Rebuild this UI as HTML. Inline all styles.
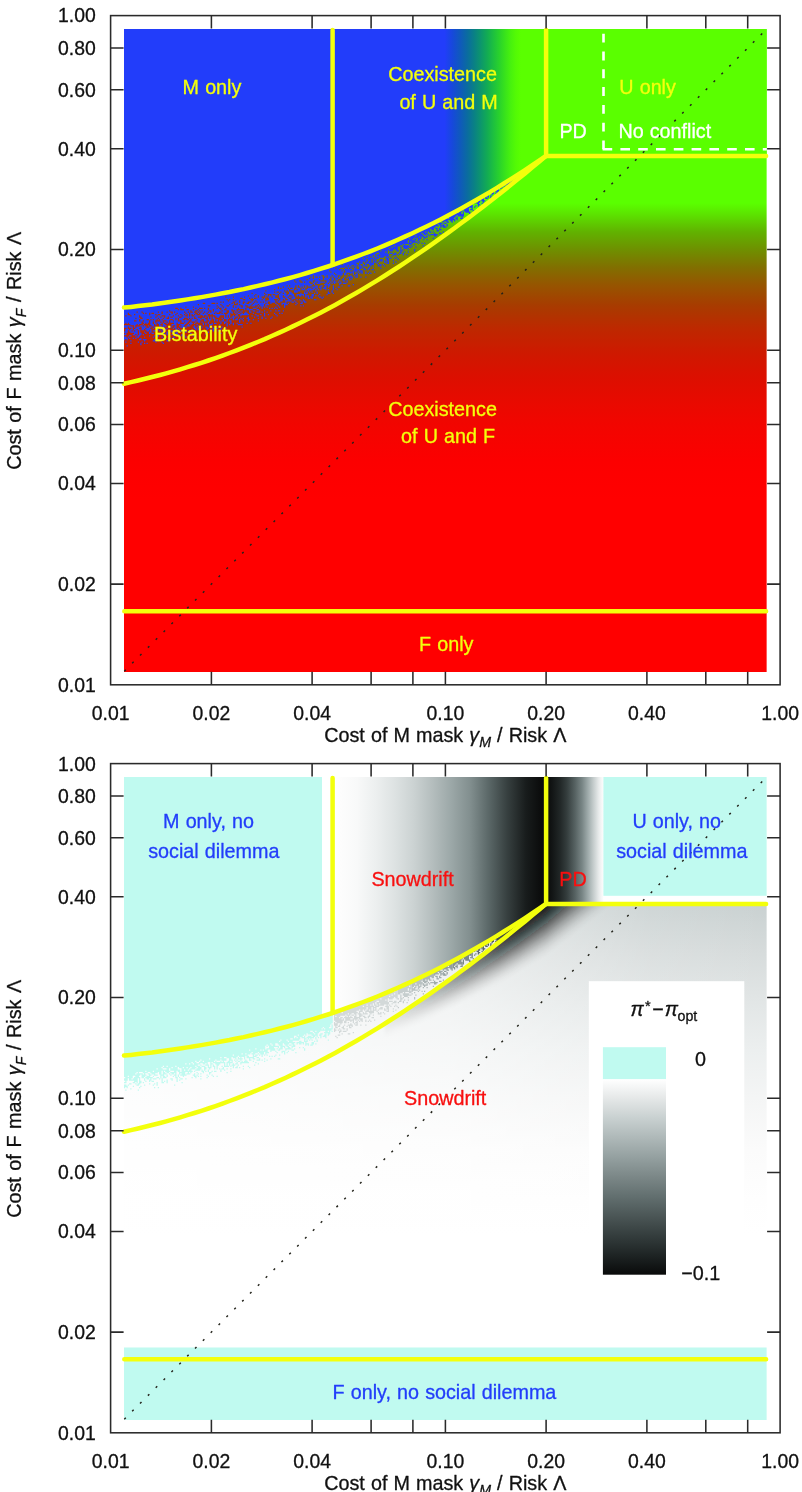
<!DOCTYPE html><html><head><meta charset="utf-8"><title>Figure</title><style>html,body{margin:0;padding:0;background:#fff}svg{display:block}text{font-family:"Liberation Sans",sans-serif;stroke-width:.3px;stroke-linejoin:round}</style></head><body>
<svg width="802" height="1492" viewBox="0 0 802 1492">
<defs>
<linearGradient id="gv" gradientUnits="userSpaceOnUse" x1="0" y1="203" x2="0" y2="500">
<stop offset="0.0000" stop-color="#5aff00"/>
<stop offset="0.0404" stop-color="#5ce100"/>
<stop offset="0.0976" stop-color="#61b200"/>
<stop offset="0.1549" stop-color="#6e9100"/>
<stop offset="0.2189" stop-color="#826e00"/>
<stop offset="0.2761" stop-color="#965500"/>
<stop offset="0.3434" stop-color="#a73c00"/>
<stop offset="0.4242" stop-color="#be2800"/>
<stop offset="0.5051" stop-color="#ce1900"/>
<stop offset="0.5859" stop-color="#dc0f00"/>
<stop offset="0.6667" stop-color="#e80a00"/>
<stop offset="0.7475" stop-color="#f20500"/>
<stop offset="0.8687" stop-color="#fc0000"/>
<stop offset="1.0000" stop-color="#ff0000"/>
</linearGradient>
<linearGradient id="gh" gradientUnits="userSpaceOnUse" x1="444.6" y1="0" x2="520.8" y2="0">
<stop offset="0.0000" stop-color="#223dfa"/>
<stop offset="0.1065" stop-color="#1649da"/>
<stop offset="0.2074" stop-color="#0f5abb"/>
<stop offset="0.3032" stop-color="#0a6d9e"/>
<stop offset="0.3944" stop-color="#0a8283"/>
<stop offset="0.4815" stop-color="#0d986a"/>
<stop offset="0.5647" stop-color="#13ad52"/>
<stop offset="0.6445" stop-color="#1ec13e"/>
<stop offset="0.7211" stop-color="#2ad32b"/>
<stop offset="0.7947" stop-color="#39e31b"/>
<stop offset="0.8656" stop-color="#47f10e"/>
<stop offset="0.9340" stop-color="#53fa05"/>
<stop offset="1.0000" stop-color="#5aff00"/>
</linearGradient>
<clipPath id="c1"><rect x="124.0" y="28.9" width="642.8" height="643.1"/></clipPath>
</defs>
<g clip-path="url(#c1)">
<rect x="124.0" y="28.9" width="642.8" height="643.1" fill="url(#gv)"/>
<polygon points="124.0,28.9 546.1,28.9 546.1,155.9 546.1,155.9 539.1,160.7 532.0,165.4 525.0,170.1 518.0,174.6 510.9,179.1 503.9,183.5 496.9,187.8 489.8,192.1 482.8,196.2 475.8,200.3 468.7,204.3 461.7,208.2 454.7,212.0 447.6,215.7 440.6,219.4 433.6,223.0 426.5,226.4 419.5,229.8 412.4,233.2 405.4,236.4 398.4,239.5 391.3,242.6 384.3,245.6 377.3,248.5 370.2,251.3 363.2,254.0 356.2,256.6 349.1,259.2 342.1,261.7 335.1,264.1 328.0,266.5 321.0,268.7 314.0,270.9 306.9,273.0 299.9,275.1 292.8,277.1 285.8,279.0 278.8,280.8 271.7,282.6 264.7,284.3 257.7,285.9 250.6,287.5 243.6,289.1 236.6,290.5 229.5,292.0 222.5,293.3 215.5,294.6 208.4,295.9 201.4,297.1 194.4,298.3 187.3,299.4 180.3,300.5 173.2,301.5 166.2,302.5 159.2,303.4 152.1,304.4 145.1,305.2 138.1,306.1 131.0,306.9 124.0,307.6" fill="url(#gh)"/>
<rect x="546.1" y="28.9" width="220.7" height="127.0" fill="#5aff00"/>
<path d="M124.00 307.65h1.25v1.25h-1.25zM124.00 308.90h1.25v1.25h-1.25zM124.00 310.15h1.25v1.25h-1.25zM124.00 311.40h1.25v1.25h-1.25zM124.00 312.65h1.25v1.25h-1.25zM124.00 313.90h1.25v1.25h-1.25zM124.00 315.15h1.25v1.25h-1.25zM124.00 316.40h1.25v1.25h-1.25zM124.00 317.65h1.25v1.25h-1.25zM124.00 318.90h1.25v1.25h-1.25zM124.00 320.15h1.25v1.25h-1.25zM124.00 321.40h1.25v1.25h-1.25zM124.00 322.65h1.25v1.25h-1.25zM124.00 325.15h1.25v1.25h-1.25zM124.00 326.40h1.25v1.25h-1.25zM124.00 331.40h1.25v1.25h-1.25zM124.00 333.90h1.25v1.25h-1.25zM124.00 336.40h1.25v1.25h-1.25zM124.00 337.65h1.25v1.25h-1.25zM124.00 338.90h1.25v1.25h-1.25zM125.25 307.65h1.25v1.25h-1.25zM125.25 308.90h1.25v1.25h-1.25zM125.25 310.15h1.25v1.25h-1.25zM125.25 311.40h1.25v1.25h-1.25zM125.25 312.65h1.25v1.25h-1.25zM125.25 313.90h1.25v1.25h-1.25zM125.25 316.40h1.25v1.25h-1.25zM125.25 317.65h1.25v1.25h-1.25zM125.25 318.90h1.25v1.25h-1.25zM125.25 320.15h1.25v1.25h-1.25zM125.25 321.40h1.25v1.25h-1.25zM125.25 325.15h1.25v1.25h-1.25zM125.25 326.40h1.25v1.25h-1.25zM125.25 328.90h1.25v1.25h-1.25zM125.25 330.15h1.25v1.25h-1.25zM125.25 331.40h1.25v1.25h-1.25zM125.25 332.65h1.25v1.25h-1.25zM125.25 333.90h1.25v1.25h-1.25zM125.25 336.40h1.25v1.25h-1.25zM125.25 337.65h1.25v1.25h-1.25zM125.25 341.40h1.25v1.25h-1.25zM126.50 307.65h1.25v1.25h-1.25zM126.50 308.90h1.25v1.25h-1.25zM126.50 310.15h1.25v1.25h-1.25zM126.50 311.40h1.25v1.25h-1.25zM126.50 312.65h1.25v1.25h-1.25zM126.50 313.90h1.25v1.25h-1.25zM126.50 315.15h1.25v1.25h-1.25zM126.50 316.40h1.25v1.25h-1.25zM126.50 317.65h1.25v1.25h-1.25zM126.50 318.90h1.25v1.25h-1.25zM126.50 320.15h1.25v1.25h-1.25zM126.50 321.40h1.25v1.25h-1.25zM126.50 322.65h1.25v1.25h-1.25zM126.50 325.15h1.25v1.25h-1.25zM126.50 326.40h1.25v1.25h-1.25zM126.50 327.65h1.25v1.25h-1.25zM126.50 328.90h1.25v1.25h-1.25zM126.50 330.15h1.25v1.25h-1.25zM126.50 331.40h1.25v1.25h-1.25zM126.50 337.65h1.25v1.25h-1.25zM126.50 338.90h1.25v1.25h-1.25zM126.50 345.15h1.25v1.25h-1.25zM127.75 307.65h1.25v1.25h-1.25zM127.75 308.90h1.25v1.25h-1.25zM127.75 310.15h1.25v1.25h-1.25zM127.75 311.40h1.25v1.25h-1.25zM127.75 315.15h1.25v1.25h-1.25zM127.75 316.40h1.25v1.25h-1.25zM127.75 317.65h1.25v1.25h-1.25zM127.75 318.90h1.25v1.25h-1.25zM127.75 320.15h1.25v1.25h-1.25zM127.75 321.40h1.25v1.25h-1.25zM127.75 325.15h1.25v1.25h-1.25zM127.75 328.90h1.25v1.25h-1.25zM127.75 336.40h1.25v1.25h-1.25zM129.00 307.65h1.25v1.25h-1.25zM129.00 308.90h1.25v1.25h-1.25zM129.00 310.15h1.25v1.25h-1.25zM129.00 311.40h1.25v1.25h-1.25zM129.00 312.65h1.25v1.25h-1.25zM129.00 315.15h1.25v1.25h-1.25zM129.00 316.40h1.25v1.25h-1.25zM129.00 317.65h1.25v1.25h-1.25zM129.00 318.90h1.25v1.25h-1.25zM129.00 320.15h1.25v1.25h-1.25zM129.00 321.40h1.25v1.25h-1.25zM129.00 322.65h1.25v1.25h-1.25zM129.00 325.15h1.25v1.25h-1.25zM129.00 326.40h1.25v1.25h-1.25zM129.00 330.15h1.25v1.25h-1.25zM129.00 335.15h1.25v1.25h-1.25zM129.00 337.65h1.25v1.25h-1.25zM130.25 307.65h1.25v1.25h-1.25zM130.25 308.90h1.25v1.25h-1.25zM130.25 310.15h1.25v1.25h-1.25zM130.25 311.40h1.25v1.25h-1.25zM130.25 312.65h1.25v1.25h-1.25zM130.25 313.90h1.25v1.25h-1.25zM130.25 316.40h1.25v1.25h-1.25zM130.25 317.65h1.25v1.25h-1.25zM130.25 318.90h1.25v1.25h-1.25zM130.25 320.15h1.25v1.25h-1.25zM130.25 321.40h1.25v1.25h-1.25zM130.25 322.65h1.25v1.25h-1.25zM130.25 323.90h1.25v1.25h-1.25zM130.25 326.40h1.25v1.25h-1.25zM130.25 328.90h1.25v1.25h-1.25zM130.25 330.15h1.25v1.25h-1.25zM130.25 331.40h1.25v1.25h-1.25zM130.25 335.15h1.25v1.25h-1.25zM130.25 340.15h1.25v1.25h-1.25zM130.25 342.65h1.25v1.25h-1.25zM131.50 307.65h1.25v1.25h-1.25zM131.50 308.90h1.25v1.25h-1.25zM131.50 310.15h1.25v1.25h-1.25zM131.50 311.40h1.25v1.25h-1.25zM131.50 312.65h1.25v1.25h-1.25zM131.50 313.90h1.25v1.25h-1.25zM131.50 315.15h1.25v1.25h-1.25zM131.50 316.40h1.25v1.25h-1.25zM131.50 317.65h1.25v1.25h-1.25zM131.50 318.90h1.25v1.25h-1.25zM131.50 320.15h1.25v1.25h-1.25zM131.50 321.40h1.25v1.25h-1.25zM131.50 322.65h1.25v1.25h-1.25zM131.50 323.90h1.25v1.25h-1.25zM131.50 326.40h1.25v1.25h-1.25zM131.50 327.65h1.25v1.25h-1.25zM131.50 328.90h1.25v1.25h-1.25zM131.50 331.40h1.25v1.25h-1.25zM132.75 307.65h1.25v1.25h-1.25zM132.75 308.90h1.25v1.25h-1.25zM132.75 310.15h1.25v1.25h-1.25zM132.75 311.40h1.25v1.25h-1.25zM132.75 312.65h1.25v1.25h-1.25zM132.75 313.90h1.25v1.25h-1.25zM132.75 315.15h1.25v1.25h-1.25zM132.75 316.40h1.25v1.25h-1.25zM132.75 317.65h1.25v1.25h-1.25zM132.75 318.90h1.25v1.25h-1.25zM132.75 320.15h1.25v1.25h-1.25zM132.75 321.40h1.25v1.25h-1.25zM132.75 322.65h1.25v1.25h-1.25zM132.75 323.90h1.25v1.25h-1.25zM132.75 330.15h1.25v1.25h-1.25zM132.75 331.40h1.25v1.25h-1.25zM132.75 333.90h1.25v1.25h-1.25zM132.75 337.65h1.25v1.25h-1.25zM134.00 307.65h1.25v1.25h-1.25zM134.00 308.90h1.25v1.25h-1.25zM134.00 310.15h1.25v1.25h-1.25zM134.00 311.40h1.25v1.25h-1.25zM134.00 312.65h1.25v1.25h-1.25zM134.00 315.15h1.25v1.25h-1.25zM134.00 316.40h1.25v1.25h-1.25zM134.00 317.65h1.25v1.25h-1.25zM134.00 318.90h1.25v1.25h-1.25zM134.00 321.40h1.25v1.25h-1.25zM134.00 322.65h1.25v1.25h-1.25zM134.00 323.90h1.25v1.25h-1.25zM134.00 325.15h1.25v1.25h-1.25zM134.00 326.40h1.25v1.25h-1.25zM134.00 328.90h1.25v1.25h-1.25zM134.00 331.40h1.25v1.25h-1.25zM134.00 332.65h1.25v1.25h-1.25zM134.00 333.90h1.25v1.25h-1.25zM135.25 306.40h1.25v1.25h-1.25zM135.25 307.65h1.25v1.25h-1.25zM135.25 308.90h1.25v1.25h-1.25zM135.25 310.15h1.25v1.25h-1.25zM135.25 311.40h1.25v1.25h-1.25zM135.25 312.65h1.25v1.25h-1.25zM135.25 313.90h1.25v1.25h-1.25zM135.25 315.15h1.25v1.25h-1.25zM135.25 316.40h1.25v1.25h-1.25zM135.25 318.90h1.25v1.25h-1.25zM135.25 321.40h1.25v1.25h-1.25zM135.25 322.65h1.25v1.25h-1.25zM135.25 323.90h1.25v1.25h-1.25zM135.25 327.65h1.25v1.25h-1.25zM135.25 328.90h1.25v1.25h-1.25zM135.25 330.15h1.25v1.25h-1.25zM135.25 331.40h1.25v1.25h-1.25zM135.25 332.65h1.25v1.25h-1.25zM135.25 335.15h1.25v1.25h-1.25zM135.25 337.65h1.25v1.25h-1.25zM136.50 306.40h1.25v1.25h-1.25zM136.50 307.65h1.25v1.25h-1.25zM136.50 308.90h1.25v1.25h-1.25zM136.50 310.15h1.25v1.25h-1.25zM136.50 312.65h1.25v1.25h-1.25zM136.50 313.90h1.25v1.25h-1.25zM136.50 315.15h1.25v1.25h-1.25zM136.50 316.40h1.25v1.25h-1.25zM136.50 317.65h1.25v1.25h-1.25zM136.50 318.90h1.25v1.25h-1.25zM136.50 320.15h1.25v1.25h-1.25zM136.50 321.40h1.25v1.25h-1.25zM136.50 322.65h1.25v1.25h-1.25zM136.50 326.40h1.25v1.25h-1.25zM136.50 327.65h1.25v1.25h-1.25zM136.50 330.15h1.25v1.25h-1.25zM136.50 331.40h1.25v1.25h-1.25zM136.50 332.65h1.25v1.25h-1.25zM136.50 333.90h1.25v1.25h-1.25zM136.50 336.40h1.25v1.25h-1.25zM137.75 306.40h1.25v1.25h-1.25zM137.75 307.65h1.25v1.25h-1.25zM137.75 308.90h1.25v1.25h-1.25zM137.75 310.15h1.25v1.25h-1.25zM137.75 311.40h1.25v1.25h-1.25zM137.75 312.65h1.25v1.25h-1.25zM137.75 313.90h1.25v1.25h-1.25zM137.75 315.15h1.25v1.25h-1.25zM137.75 316.40h1.25v1.25h-1.25zM137.75 317.65h1.25v1.25h-1.25zM137.75 318.90h1.25v1.25h-1.25zM137.75 320.15h1.25v1.25h-1.25zM137.75 321.40h1.25v1.25h-1.25zM137.75 322.65h1.25v1.25h-1.25zM137.75 323.90h1.25v1.25h-1.25zM137.75 326.40h1.25v1.25h-1.25zM137.75 327.65h1.25v1.25h-1.25zM137.75 328.90h1.25v1.25h-1.25zM137.75 335.15h1.25v1.25h-1.25zM137.75 336.40h1.25v1.25h-1.25zM137.75 341.40h1.25v1.25h-1.25zM139.00 306.40h1.25v1.25h-1.25zM139.00 307.65h1.25v1.25h-1.25zM139.00 308.90h1.25v1.25h-1.25zM139.00 310.15h1.25v1.25h-1.25zM139.00 311.40h1.25v1.25h-1.25zM139.00 312.65h1.25v1.25h-1.25zM139.00 313.90h1.25v1.25h-1.25zM139.00 317.65h1.25v1.25h-1.25zM139.00 321.40h1.25v1.25h-1.25zM139.00 322.65h1.25v1.25h-1.25zM139.00 326.40h1.25v1.25h-1.25zM139.00 328.90h1.25v1.25h-1.25zM139.00 330.15h1.25v1.25h-1.25zM139.00 331.40h1.25v1.25h-1.25zM139.00 332.65h1.25v1.25h-1.25zM139.00 333.90h1.25v1.25h-1.25zM139.00 335.15h1.25v1.25h-1.25zM139.00 338.90h1.25v1.25h-1.25zM140.25 306.40h1.25v1.25h-1.25zM140.25 307.65h1.25v1.25h-1.25zM140.25 308.90h1.25v1.25h-1.25zM140.25 310.15h1.25v1.25h-1.25zM140.25 311.40h1.25v1.25h-1.25zM140.25 312.65h1.25v1.25h-1.25zM140.25 313.90h1.25v1.25h-1.25zM140.25 315.15h1.25v1.25h-1.25zM140.25 318.90h1.25v1.25h-1.25zM140.25 320.15h1.25v1.25h-1.25zM140.25 321.40h1.25v1.25h-1.25zM140.25 322.65h1.25v1.25h-1.25zM140.25 325.15h1.25v1.25h-1.25zM140.25 332.65h1.25v1.25h-1.25zM140.25 333.90h1.25v1.25h-1.25zM140.25 337.65h1.25v1.25h-1.25zM140.25 338.90h1.25v1.25h-1.25zM140.25 342.65h1.25v1.25h-1.25zM140.25 343.90h1.25v1.25h-1.25zM141.50 306.40h1.25v1.25h-1.25zM141.50 307.65h1.25v1.25h-1.25zM141.50 308.90h1.25v1.25h-1.25zM141.50 310.15h1.25v1.25h-1.25zM141.50 312.65h1.25v1.25h-1.25zM141.50 313.90h1.25v1.25h-1.25zM141.50 315.15h1.25v1.25h-1.25zM141.50 316.40h1.25v1.25h-1.25zM141.50 318.90h1.25v1.25h-1.25zM141.50 320.15h1.25v1.25h-1.25zM141.50 325.15h1.25v1.25h-1.25zM141.50 326.40h1.25v1.25h-1.25zM141.50 327.65h1.25v1.25h-1.25zM141.50 328.90h1.25v1.25h-1.25zM141.50 341.40h1.25v1.25h-1.25zM142.75 306.40h1.25v1.25h-1.25zM142.75 307.65h1.25v1.25h-1.25zM142.75 308.90h1.25v1.25h-1.25zM142.75 310.15h1.25v1.25h-1.25zM142.75 311.40h1.25v1.25h-1.25zM142.75 313.90h1.25v1.25h-1.25zM142.75 315.15h1.25v1.25h-1.25zM142.75 316.40h1.25v1.25h-1.25zM142.75 317.65h1.25v1.25h-1.25zM142.75 318.90h1.25v1.25h-1.25zM142.75 321.40h1.25v1.25h-1.25zM142.75 323.90h1.25v1.25h-1.25zM142.75 326.40h1.25v1.25h-1.25zM142.75 327.65h1.25v1.25h-1.25zM142.75 328.90h1.25v1.25h-1.25zM142.75 333.90h1.25v1.25h-1.25zM142.75 338.90h1.25v1.25h-1.25zM144.00 306.40h1.25v1.25h-1.25zM144.00 307.65h1.25v1.25h-1.25zM144.00 308.90h1.25v1.25h-1.25zM144.00 310.15h1.25v1.25h-1.25zM144.00 311.40h1.25v1.25h-1.25zM144.00 312.65h1.25v1.25h-1.25zM144.00 313.90h1.25v1.25h-1.25zM144.00 315.15h1.25v1.25h-1.25zM144.00 316.40h1.25v1.25h-1.25zM144.00 317.65h1.25v1.25h-1.25zM144.00 318.90h1.25v1.25h-1.25zM144.00 320.15h1.25v1.25h-1.25zM144.00 321.40h1.25v1.25h-1.25zM144.00 322.65h1.25v1.25h-1.25zM144.00 325.15h1.25v1.25h-1.25zM144.00 326.40h1.25v1.25h-1.25zM144.00 327.65h1.25v1.25h-1.25zM144.00 331.40h1.25v1.25h-1.25zM144.00 336.40h1.25v1.25h-1.25zM144.00 338.90h1.25v1.25h-1.25zM144.00 340.15h1.25v1.25h-1.25zM144.00 342.65h1.25v1.25h-1.25zM145.25 305.15h1.25v1.25h-1.25zM145.25 306.40h1.25v1.25h-1.25zM145.25 307.65h1.25v1.25h-1.25zM145.25 308.90h1.25v1.25h-1.25zM145.25 310.15h1.25v1.25h-1.25zM145.25 311.40h1.25v1.25h-1.25zM145.25 313.90h1.25v1.25h-1.25zM145.25 315.15h1.25v1.25h-1.25zM145.25 316.40h1.25v1.25h-1.25zM145.25 317.65h1.25v1.25h-1.25zM145.25 318.90h1.25v1.25h-1.25zM145.25 320.15h1.25v1.25h-1.25zM145.25 321.40h1.25v1.25h-1.25zM145.25 326.40h1.25v1.25h-1.25zM145.25 328.90h1.25v1.25h-1.25zM145.25 332.65h1.25v1.25h-1.25zM145.25 338.90h1.25v1.25h-1.25zM146.50 305.15h1.25v1.25h-1.25zM146.50 306.40h1.25v1.25h-1.25zM146.50 307.65h1.25v1.25h-1.25zM146.50 308.90h1.25v1.25h-1.25zM146.50 310.15h1.25v1.25h-1.25zM146.50 311.40h1.25v1.25h-1.25zM146.50 312.65h1.25v1.25h-1.25zM146.50 313.90h1.25v1.25h-1.25zM146.50 315.15h1.25v1.25h-1.25zM146.50 316.40h1.25v1.25h-1.25zM146.50 317.65h1.25v1.25h-1.25zM146.50 320.15h1.25v1.25h-1.25zM146.50 321.40h1.25v1.25h-1.25zM146.50 322.65h1.25v1.25h-1.25zM146.50 327.65h1.25v1.25h-1.25zM146.50 328.90h1.25v1.25h-1.25zM146.50 330.15h1.25v1.25h-1.25zM146.50 342.65h1.25v1.25h-1.25zM147.75 305.15h1.25v1.25h-1.25zM147.75 306.40h1.25v1.25h-1.25zM147.75 307.65h1.25v1.25h-1.25zM147.75 308.90h1.25v1.25h-1.25zM147.75 310.15h1.25v1.25h-1.25zM147.75 311.40h1.25v1.25h-1.25zM147.75 312.65h1.25v1.25h-1.25zM147.75 313.90h1.25v1.25h-1.25zM147.75 315.15h1.25v1.25h-1.25zM147.75 316.40h1.25v1.25h-1.25zM147.75 317.65h1.25v1.25h-1.25zM147.75 320.15h1.25v1.25h-1.25zM147.75 321.40h1.25v1.25h-1.25zM147.75 325.15h1.25v1.25h-1.25zM147.75 327.65h1.25v1.25h-1.25zM147.75 328.90h1.25v1.25h-1.25zM147.75 330.15h1.25v1.25h-1.25zM149.00 305.15h1.25v1.25h-1.25zM149.00 306.40h1.25v1.25h-1.25zM149.00 307.65h1.25v1.25h-1.25zM149.00 308.90h1.25v1.25h-1.25zM149.00 310.15h1.25v1.25h-1.25zM149.00 311.40h1.25v1.25h-1.25zM149.00 315.15h1.25v1.25h-1.25zM149.00 316.40h1.25v1.25h-1.25zM149.00 317.65h1.25v1.25h-1.25zM149.00 318.90h1.25v1.25h-1.25zM149.00 326.40h1.25v1.25h-1.25zM149.00 327.65h1.25v1.25h-1.25zM149.00 328.90h1.25v1.25h-1.25zM149.00 331.40h1.25v1.25h-1.25zM149.00 332.65h1.25v1.25h-1.25zM149.00 335.15h1.25v1.25h-1.25zM150.25 305.15h1.25v1.25h-1.25zM150.25 306.40h1.25v1.25h-1.25zM150.25 307.65h1.25v1.25h-1.25zM150.25 308.90h1.25v1.25h-1.25zM150.25 310.15h1.25v1.25h-1.25zM150.25 311.40h1.25v1.25h-1.25zM150.25 312.65h1.25v1.25h-1.25zM150.25 313.90h1.25v1.25h-1.25zM150.25 315.15h1.25v1.25h-1.25zM150.25 317.65h1.25v1.25h-1.25zM150.25 320.15h1.25v1.25h-1.25zM150.25 321.40h1.25v1.25h-1.25zM150.25 322.65h1.25v1.25h-1.25zM150.25 323.90h1.25v1.25h-1.25zM150.25 326.40h1.25v1.25h-1.25zM150.25 328.90h1.25v1.25h-1.25zM150.25 330.15h1.25v1.25h-1.25zM150.25 331.40h1.25v1.25h-1.25zM151.50 305.15h1.25v1.25h-1.25zM151.50 306.40h1.25v1.25h-1.25zM151.50 307.65h1.25v1.25h-1.25zM151.50 308.90h1.25v1.25h-1.25zM151.50 310.15h1.25v1.25h-1.25zM151.50 311.40h1.25v1.25h-1.25zM151.50 313.90h1.25v1.25h-1.25zM151.50 315.15h1.25v1.25h-1.25zM151.50 316.40h1.25v1.25h-1.25zM151.50 317.65h1.25v1.25h-1.25zM151.50 318.90h1.25v1.25h-1.25zM151.50 320.15h1.25v1.25h-1.25zM151.50 321.40h1.25v1.25h-1.25zM151.50 322.65h1.25v1.25h-1.25zM151.50 323.90h1.25v1.25h-1.25zM151.50 325.15h1.25v1.25h-1.25zM151.50 332.65h1.25v1.25h-1.25zM152.75 305.15h1.25v1.25h-1.25zM152.75 306.40h1.25v1.25h-1.25zM152.75 307.65h1.25v1.25h-1.25zM152.75 308.90h1.25v1.25h-1.25zM152.75 310.15h1.25v1.25h-1.25zM152.75 311.40h1.25v1.25h-1.25zM152.75 313.90h1.25v1.25h-1.25zM152.75 315.15h1.25v1.25h-1.25zM152.75 316.40h1.25v1.25h-1.25zM152.75 317.65h1.25v1.25h-1.25zM152.75 320.15h1.25v1.25h-1.25zM152.75 323.90h1.25v1.25h-1.25zM152.75 325.15h1.25v1.25h-1.25zM152.75 327.65h1.25v1.25h-1.25zM152.75 330.15h1.25v1.25h-1.25zM152.75 332.65h1.25v1.25h-1.25zM152.75 336.40h1.25v1.25h-1.25zM152.75 340.15h1.25v1.25h-1.25zM154.00 305.15h1.25v1.25h-1.25zM154.00 306.40h1.25v1.25h-1.25zM154.00 307.65h1.25v1.25h-1.25zM154.00 308.90h1.25v1.25h-1.25zM154.00 310.15h1.25v1.25h-1.25zM154.00 311.40h1.25v1.25h-1.25zM154.00 312.65h1.25v1.25h-1.25zM154.00 313.90h1.25v1.25h-1.25zM154.00 315.15h1.25v1.25h-1.25zM154.00 316.40h1.25v1.25h-1.25zM154.00 317.65h1.25v1.25h-1.25zM154.00 318.90h1.25v1.25h-1.25zM154.00 320.15h1.25v1.25h-1.25zM154.00 321.40h1.25v1.25h-1.25zM154.00 322.65h1.25v1.25h-1.25zM154.00 326.40h1.25v1.25h-1.25zM154.00 330.15h1.25v1.25h-1.25zM154.00 335.15h1.25v1.25h-1.25zM154.00 338.90h1.25v1.25h-1.25zM154.00 340.15h1.25v1.25h-1.25zM155.25 303.90h1.25v1.25h-1.25zM155.25 305.15h1.25v1.25h-1.25zM155.25 306.40h1.25v1.25h-1.25zM155.25 307.65h1.25v1.25h-1.25zM155.25 308.90h1.25v1.25h-1.25zM155.25 310.15h1.25v1.25h-1.25zM155.25 311.40h1.25v1.25h-1.25zM155.25 312.65h1.25v1.25h-1.25zM155.25 315.15h1.25v1.25h-1.25zM155.25 317.65h1.25v1.25h-1.25zM155.25 318.90h1.25v1.25h-1.25zM155.25 322.65h1.25v1.25h-1.25zM155.25 323.90h1.25v1.25h-1.25zM155.25 326.40h1.25v1.25h-1.25zM155.25 330.15h1.25v1.25h-1.25zM155.25 341.40h1.25v1.25h-1.25zM156.50 303.90h1.25v1.25h-1.25zM156.50 305.15h1.25v1.25h-1.25zM156.50 306.40h1.25v1.25h-1.25zM156.50 307.65h1.25v1.25h-1.25zM156.50 308.90h1.25v1.25h-1.25zM156.50 310.15h1.25v1.25h-1.25zM156.50 311.40h1.25v1.25h-1.25zM156.50 312.65h1.25v1.25h-1.25zM156.50 313.90h1.25v1.25h-1.25zM156.50 316.40h1.25v1.25h-1.25zM156.50 317.65h1.25v1.25h-1.25zM156.50 321.40h1.25v1.25h-1.25zM156.50 328.90h1.25v1.25h-1.25zM156.50 333.90h1.25v1.25h-1.25zM156.50 335.15h1.25v1.25h-1.25zM156.50 336.40h1.25v1.25h-1.25zM157.75 303.90h1.25v1.25h-1.25zM157.75 305.15h1.25v1.25h-1.25zM157.75 306.40h1.25v1.25h-1.25zM157.75 307.65h1.25v1.25h-1.25zM157.75 308.90h1.25v1.25h-1.25zM157.75 310.15h1.25v1.25h-1.25zM157.75 312.65h1.25v1.25h-1.25zM157.75 315.15h1.25v1.25h-1.25zM157.75 316.40h1.25v1.25h-1.25zM157.75 318.90h1.25v1.25h-1.25zM157.75 321.40h1.25v1.25h-1.25zM157.75 322.65h1.25v1.25h-1.25zM157.75 328.90h1.25v1.25h-1.25zM157.75 335.15h1.25v1.25h-1.25zM157.75 338.90h1.25v1.25h-1.25zM157.75 340.15h1.25v1.25h-1.25zM159.00 303.90h1.25v1.25h-1.25zM159.00 305.15h1.25v1.25h-1.25zM159.00 306.40h1.25v1.25h-1.25zM159.00 307.65h1.25v1.25h-1.25zM159.00 308.90h1.25v1.25h-1.25zM159.00 310.15h1.25v1.25h-1.25zM159.00 311.40h1.25v1.25h-1.25zM159.00 312.65h1.25v1.25h-1.25zM159.00 315.15h1.25v1.25h-1.25zM159.00 316.40h1.25v1.25h-1.25zM159.00 317.65h1.25v1.25h-1.25zM159.00 321.40h1.25v1.25h-1.25zM159.00 322.65h1.25v1.25h-1.25zM159.00 323.90h1.25v1.25h-1.25zM159.00 325.15h1.25v1.25h-1.25zM159.00 330.15h1.25v1.25h-1.25zM160.25 303.90h1.25v1.25h-1.25zM160.25 305.15h1.25v1.25h-1.25zM160.25 306.40h1.25v1.25h-1.25zM160.25 307.65h1.25v1.25h-1.25zM160.25 308.90h1.25v1.25h-1.25zM160.25 310.15h1.25v1.25h-1.25zM160.25 311.40h1.25v1.25h-1.25zM160.25 312.65h1.25v1.25h-1.25zM160.25 313.90h1.25v1.25h-1.25zM160.25 315.15h1.25v1.25h-1.25zM160.25 317.65h1.25v1.25h-1.25zM160.25 318.90h1.25v1.25h-1.25zM160.25 320.15h1.25v1.25h-1.25zM160.25 322.65h1.25v1.25h-1.25zM160.25 325.15h1.25v1.25h-1.25zM160.25 327.65h1.25v1.25h-1.25zM160.25 328.90h1.25v1.25h-1.25zM161.50 303.90h1.25v1.25h-1.25zM161.50 305.15h1.25v1.25h-1.25zM161.50 306.40h1.25v1.25h-1.25zM161.50 307.65h1.25v1.25h-1.25zM161.50 308.90h1.25v1.25h-1.25zM161.50 310.15h1.25v1.25h-1.25zM161.50 313.90h1.25v1.25h-1.25zM161.50 316.40h1.25v1.25h-1.25zM161.50 317.65h1.25v1.25h-1.25zM161.50 320.15h1.25v1.25h-1.25zM161.50 321.40h1.25v1.25h-1.25zM161.50 326.40h1.25v1.25h-1.25zM161.50 330.15h1.25v1.25h-1.25zM161.50 331.40h1.25v1.25h-1.25zM161.50 332.65h1.25v1.25h-1.25zM161.50 333.90h1.25v1.25h-1.25zM161.50 336.40h1.25v1.25h-1.25zM161.50 338.90h1.25v1.25h-1.25zM161.50 341.40h1.25v1.25h-1.25zM162.75 303.90h1.25v1.25h-1.25zM162.75 305.15h1.25v1.25h-1.25zM162.75 306.40h1.25v1.25h-1.25zM162.75 307.65h1.25v1.25h-1.25zM162.75 308.90h1.25v1.25h-1.25zM162.75 310.15h1.25v1.25h-1.25zM162.75 311.40h1.25v1.25h-1.25zM162.75 312.65h1.25v1.25h-1.25zM162.75 313.90h1.25v1.25h-1.25zM162.75 316.40h1.25v1.25h-1.25zM162.75 318.90h1.25v1.25h-1.25zM162.75 322.65h1.25v1.25h-1.25zM162.75 323.90h1.25v1.25h-1.25zM162.75 325.15h1.25v1.25h-1.25zM162.75 326.40h1.25v1.25h-1.25zM162.75 327.65h1.25v1.25h-1.25zM162.75 328.90h1.25v1.25h-1.25zM162.75 333.90h1.25v1.25h-1.25zM162.75 337.65h1.25v1.25h-1.25zM162.75 342.65h1.25v1.25h-1.25zM164.00 303.90h1.25v1.25h-1.25zM164.00 305.15h1.25v1.25h-1.25zM164.00 306.40h1.25v1.25h-1.25zM164.00 307.65h1.25v1.25h-1.25zM164.00 308.90h1.25v1.25h-1.25zM164.00 310.15h1.25v1.25h-1.25zM164.00 311.40h1.25v1.25h-1.25zM164.00 312.65h1.25v1.25h-1.25zM164.00 313.90h1.25v1.25h-1.25zM164.00 317.65h1.25v1.25h-1.25zM164.00 318.90h1.25v1.25h-1.25zM164.00 321.40h1.25v1.25h-1.25zM164.00 323.90h1.25v1.25h-1.25zM164.00 325.15h1.25v1.25h-1.25zM164.00 327.65h1.25v1.25h-1.25zM164.00 328.90h1.25v1.25h-1.25zM164.00 332.65h1.25v1.25h-1.25zM164.00 337.65h1.25v1.25h-1.25zM165.25 302.65h1.25v1.25h-1.25zM165.25 303.90h1.25v1.25h-1.25zM165.25 305.15h1.25v1.25h-1.25zM165.25 306.40h1.25v1.25h-1.25zM165.25 307.65h1.25v1.25h-1.25zM165.25 308.90h1.25v1.25h-1.25zM165.25 310.15h1.25v1.25h-1.25zM165.25 311.40h1.25v1.25h-1.25zM165.25 312.65h1.25v1.25h-1.25zM165.25 313.90h1.25v1.25h-1.25zM165.25 315.15h1.25v1.25h-1.25zM165.25 316.40h1.25v1.25h-1.25zM165.25 317.65h1.25v1.25h-1.25zM165.25 318.90h1.25v1.25h-1.25zM165.25 321.40h1.25v1.25h-1.25zM165.25 325.15h1.25v1.25h-1.25zM165.25 328.90h1.25v1.25h-1.25zM166.50 302.65h1.25v1.25h-1.25zM166.50 303.90h1.25v1.25h-1.25zM166.50 305.15h1.25v1.25h-1.25zM166.50 306.40h1.25v1.25h-1.25zM166.50 307.65h1.25v1.25h-1.25zM166.50 308.90h1.25v1.25h-1.25zM166.50 310.15h1.25v1.25h-1.25zM166.50 312.65h1.25v1.25h-1.25zM166.50 313.90h1.25v1.25h-1.25zM166.50 315.15h1.25v1.25h-1.25zM166.50 316.40h1.25v1.25h-1.25zM166.50 318.90h1.25v1.25h-1.25zM166.50 320.15h1.25v1.25h-1.25zM166.50 322.65h1.25v1.25h-1.25zM166.50 327.65h1.25v1.25h-1.25zM166.50 331.40h1.25v1.25h-1.25zM166.50 332.65h1.25v1.25h-1.25zM166.50 333.90h1.25v1.25h-1.25zM166.50 340.15h1.25v1.25h-1.25zM167.75 302.65h1.25v1.25h-1.25zM167.75 303.90h1.25v1.25h-1.25zM167.75 305.15h1.25v1.25h-1.25zM167.75 306.40h1.25v1.25h-1.25zM167.75 307.65h1.25v1.25h-1.25zM167.75 308.90h1.25v1.25h-1.25zM167.75 310.15h1.25v1.25h-1.25zM167.75 311.40h1.25v1.25h-1.25zM167.75 312.65h1.25v1.25h-1.25zM167.75 313.90h1.25v1.25h-1.25zM167.75 315.15h1.25v1.25h-1.25zM167.75 318.90h1.25v1.25h-1.25zM167.75 320.15h1.25v1.25h-1.25zM167.75 321.40h1.25v1.25h-1.25zM167.75 337.65h1.25v1.25h-1.25zM167.75 340.15h1.25v1.25h-1.25zM169.00 302.65h1.25v1.25h-1.25zM169.00 303.90h1.25v1.25h-1.25zM169.00 305.15h1.25v1.25h-1.25zM169.00 306.40h1.25v1.25h-1.25zM169.00 307.65h1.25v1.25h-1.25zM169.00 308.90h1.25v1.25h-1.25zM169.00 311.40h1.25v1.25h-1.25zM169.00 312.65h1.25v1.25h-1.25zM169.00 315.15h1.25v1.25h-1.25zM169.00 316.40h1.25v1.25h-1.25zM169.00 317.65h1.25v1.25h-1.25zM169.00 318.90h1.25v1.25h-1.25zM169.00 337.65h1.25v1.25h-1.25zM170.25 302.65h1.25v1.25h-1.25zM170.25 303.90h1.25v1.25h-1.25zM170.25 305.15h1.25v1.25h-1.25zM170.25 306.40h1.25v1.25h-1.25zM170.25 307.65h1.25v1.25h-1.25zM170.25 308.90h1.25v1.25h-1.25zM170.25 310.15h1.25v1.25h-1.25zM170.25 312.65h1.25v1.25h-1.25zM170.25 313.90h1.25v1.25h-1.25zM170.25 315.15h1.25v1.25h-1.25zM170.25 317.65h1.25v1.25h-1.25zM170.25 320.15h1.25v1.25h-1.25zM170.25 321.40h1.25v1.25h-1.25zM170.25 326.40h1.25v1.25h-1.25zM170.25 330.15h1.25v1.25h-1.25zM170.25 337.65h1.25v1.25h-1.25zM171.50 302.65h1.25v1.25h-1.25zM171.50 303.90h1.25v1.25h-1.25zM171.50 305.15h1.25v1.25h-1.25zM171.50 306.40h1.25v1.25h-1.25zM171.50 307.65h1.25v1.25h-1.25zM171.50 308.90h1.25v1.25h-1.25zM171.50 310.15h1.25v1.25h-1.25zM171.50 313.90h1.25v1.25h-1.25zM171.50 315.15h1.25v1.25h-1.25zM171.50 317.65h1.25v1.25h-1.25zM171.50 320.15h1.25v1.25h-1.25zM171.50 321.40h1.25v1.25h-1.25zM171.50 323.90h1.25v1.25h-1.25zM171.50 325.15h1.25v1.25h-1.25zM171.50 330.15h1.25v1.25h-1.25zM171.50 331.40h1.25v1.25h-1.25zM171.50 333.90h1.25v1.25h-1.25zM172.75 302.65h1.25v1.25h-1.25zM172.75 303.90h1.25v1.25h-1.25zM172.75 305.15h1.25v1.25h-1.25zM172.75 306.40h1.25v1.25h-1.25zM172.75 307.65h1.25v1.25h-1.25zM172.75 308.90h1.25v1.25h-1.25zM172.75 310.15h1.25v1.25h-1.25zM172.75 311.40h1.25v1.25h-1.25zM172.75 312.65h1.25v1.25h-1.25zM172.75 313.90h1.25v1.25h-1.25zM172.75 316.40h1.25v1.25h-1.25zM172.75 317.65h1.25v1.25h-1.25zM172.75 318.90h1.25v1.25h-1.25zM172.75 321.40h1.25v1.25h-1.25zM172.75 323.90h1.25v1.25h-1.25zM172.75 327.65h1.25v1.25h-1.25zM172.75 336.40h1.25v1.25h-1.25zM174.00 301.40h1.25v1.25h-1.25zM174.00 302.65h1.25v1.25h-1.25zM174.00 303.90h1.25v1.25h-1.25zM174.00 305.15h1.25v1.25h-1.25zM174.00 306.40h1.25v1.25h-1.25zM174.00 307.65h1.25v1.25h-1.25zM174.00 308.90h1.25v1.25h-1.25zM174.00 310.15h1.25v1.25h-1.25zM174.00 312.65h1.25v1.25h-1.25zM174.00 313.90h1.25v1.25h-1.25zM174.00 315.15h1.25v1.25h-1.25zM174.00 316.40h1.25v1.25h-1.25zM174.00 317.65h1.25v1.25h-1.25zM174.00 318.90h1.25v1.25h-1.25zM174.00 320.15h1.25v1.25h-1.25zM174.00 321.40h1.25v1.25h-1.25zM174.00 322.65h1.25v1.25h-1.25zM174.00 323.90h1.25v1.25h-1.25zM174.00 326.40h1.25v1.25h-1.25zM174.00 331.40h1.25v1.25h-1.25zM174.00 336.40h1.25v1.25h-1.25zM175.25 301.40h1.25v1.25h-1.25zM175.25 302.65h1.25v1.25h-1.25zM175.25 303.90h1.25v1.25h-1.25zM175.25 305.15h1.25v1.25h-1.25zM175.25 306.40h1.25v1.25h-1.25zM175.25 308.90h1.25v1.25h-1.25zM175.25 310.15h1.25v1.25h-1.25zM175.25 311.40h1.25v1.25h-1.25zM175.25 312.65h1.25v1.25h-1.25zM175.25 315.15h1.25v1.25h-1.25zM175.25 316.40h1.25v1.25h-1.25zM175.25 320.15h1.25v1.25h-1.25zM175.25 321.40h1.25v1.25h-1.25zM175.25 322.65h1.25v1.25h-1.25zM175.25 323.90h1.25v1.25h-1.25zM175.25 325.15h1.25v1.25h-1.25zM175.25 326.40h1.25v1.25h-1.25zM175.25 327.65h1.25v1.25h-1.25zM175.25 328.90h1.25v1.25h-1.25zM175.25 332.65h1.25v1.25h-1.25zM176.50 301.40h1.25v1.25h-1.25zM176.50 302.65h1.25v1.25h-1.25zM176.50 303.90h1.25v1.25h-1.25zM176.50 305.15h1.25v1.25h-1.25zM176.50 306.40h1.25v1.25h-1.25zM176.50 308.90h1.25v1.25h-1.25zM176.50 310.15h1.25v1.25h-1.25zM176.50 311.40h1.25v1.25h-1.25zM176.50 313.90h1.25v1.25h-1.25zM176.50 315.15h1.25v1.25h-1.25zM176.50 316.40h1.25v1.25h-1.25zM176.50 317.65h1.25v1.25h-1.25zM176.50 318.90h1.25v1.25h-1.25zM176.50 320.15h1.25v1.25h-1.25zM176.50 321.40h1.25v1.25h-1.25zM176.50 328.90h1.25v1.25h-1.25zM176.50 330.15h1.25v1.25h-1.25zM176.50 331.40h1.25v1.25h-1.25zM176.50 332.65h1.25v1.25h-1.25zM177.75 301.40h1.25v1.25h-1.25zM177.75 302.65h1.25v1.25h-1.25zM177.75 303.90h1.25v1.25h-1.25zM177.75 305.15h1.25v1.25h-1.25zM177.75 306.40h1.25v1.25h-1.25zM177.75 307.65h1.25v1.25h-1.25zM177.75 310.15h1.25v1.25h-1.25zM177.75 311.40h1.25v1.25h-1.25zM177.75 312.65h1.25v1.25h-1.25zM177.75 313.90h1.25v1.25h-1.25zM177.75 316.40h1.25v1.25h-1.25zM177.75 321.40h1.25v1.25h-1.25zM177.75 322.65h1.25v1.25h-1.25zM177.75 327.65h1.25v1.25h-1.25zM177.75 333.90h1.25v1.25h-1.25zM179.00 301.40h1.25v1.25h-1.25zM179.00 302.65h1.25v1.25h-1.25zM179.00 303.90h1.25v1.25h-1.25zM179.00 305.15h1.25v1.25h-1.25zM179.00 306.40h1.25v1.25h-1.25zM179.00 307.65h1.25v1.25h-1.25zM179.00 308.90h1.25v1.25h-1.25zM179.00 310.15h1.25v1.25h-1.25zM179.00 311.40h1.25v1.25h-1.25zM179.00 312.65h1.25v1.25h-1.25zM179.00 313.90h1.25v1.25h-1.25zM179.00 315.15h1.25v1.25h-1.25zM179.00 317.65h1.25v1.25h-1.25zM179.00 318.90h1.25v1.25h-1.25zM179.00 321.40h1.25v1.25h-1.25zM179.00 322.65h1.25v1.25h-1.25zM179.00 325.15h1.25v1.25h-1.25zM179.00 328.90h1.25v1.25h-1.25zM179.00 331.40h1.25v1.25h-1.25zM179.00 335.15h1.25v1.25h-1.25zM179.00 337.65h1.25v1.25h-1.25zM180.25 301.40h1.25v1.25h-1.25zM180.25 302.65h1.25v1.25h-1.25zM180.25 303.90h1.25v1.25h-1.25zM180.25 305.15h1.25v1.25h-1.25zM180.25 306.40h1.25v1.25h-1.25zM180.25 310.15h1.25v1.25h-1.25zM180.25 311.40h1.25v1.25h-1.25zM180.25 312.65h1.25v1.25h-1.25zM180.25 315.15h1.25v1.25h-1.25zM180.25 317.65h1.25v1.25h-1.25zM180.25 318.90h1.25v1.25h-1.25zM180.25 323.90h1.25v1.25h-1.25zM180.25 326.40h1.25v1.25h-1.25zM180.25 330.15h1.25v1.25h-1.25zM181.50 301.40h1.25v1.25h-1.25zM181.50 302.65h1.25v1.25h-1.25zM181.50 303.90h1.25v1.25h-1.25zM181.50 305.15h1.25v1.25h-1.25zM181.50 306.40h1.25v1.25h-1.25zM181.50 307.65h1.25v1.25h-1.25zM181.50 310.15h1.25v1.25h-1.25zM181.50 311.40h1.25v1.25h-1.25zM181.50 312.65h1.25v1.25h-1.25zM181.50 313.90h1.25v1.25h-1.25zM181.50 316.40h1.25v1.25h-1.25zM181.50 317.65h1.25v1.25h-1.25zM181.50 318.90h1.25v1.25h-1.25zM181.50 320.15h1.25v1.25h-1.25zM181.50 321.40h1.25v1.25h-1.25zM181.50 323.90h1.25v1.25h-1.25zM181.50 325.15h1.25v1.25h-1.25zM181.50 326.40h1.25v1.25h-1.25zM181.50 330.15h1.25v1.25h-1.25zM181.50 333.90h1.25v1.25h-1.25zM181.50 335.15h1.25v1.25h-1.25zM182.75 300.15h1.25v1.25h-1.25zM182.75 301.40h1.25v1.25h-1.25zM182.75 302.65h1.25v1.25h-1.25zM182.75 303.90h1.25v1.25h-1.25zM182.75 305.15h1.25v1.25h-1.25zM182.75 306.40h1.25v1.25h-1.25zM182.75 307.65h1.25v1.25h-1.25zM182.75 310.15h1.25v1.25h-1.25zM182.75 311.40h1.25v1.25h-1.25zM182.75 312.65h1.25v1.25h-1.25zM182.75 313.90h1.25v1.25h-1.25zM182.75 315.15h1.25v1.25h-1.25zM182.75 316.40h1.25v1.25h-1.25zM182.75 317.65h1.25v1.25h-1.25zM182.75 320.15h1.25v1.25h-1.25zM182.75 321.40h1.25v1.25h-1.25zM182.75 323.90h1.25v1.25h-1.25zM182.75 325.15h1.25v1.25h-1.25zM182.75 326.40h1.25v1.25h-1.25zM182.75 327.65h1.25v1.25h-1.25zM182.75 328.90h1.25v1.25h-1.25zM182.75 337.65h1.25v1.25h-1.25zM184.00 300.15h1.25v1.25h-1.25zM184.00 301.40h1.25v1.25h-1.25zM184.00 302.65h1.25v1.25h-1.25zM184.00 303.90h1.25v1.25h-1.25zM184.00 305.15h1.25v1.25h-1.25zM184.00 306.40h1.25v1.25h-1.25zM184.00 307.65h1.25v1.25h-1.25zM184.00 308.90h1.25v1.25h-1.25zM184.00 310.15h1.25v1.25h-1.25zM184.00 312.65h1.25v1.25h-1.25zM184.00 315.15h1.25v1.25h-1.25zM184.00 316.40h1.25v1.25h-1.25zM184.00 320.15h1.25v1.25h-1.25zM184.00 322.65h1.25v1.25h-1.25zM184.00 323.90h1.25v1.25h-1.25zM184.00 326.40h1.25v1.25h-1.25zM184.00 335.15h1.25v1.25h-1.25zM185.25 300.15h1.25v1.25h-1.25zM185.25 301.40h1.25v1.25h-1.25zM185.25 302.65h1.25v1.25h-1.25zM185.25 303.90h1.25v1.25h-1.25zM185.25 305.15h1.25v1.25h-1.25zM185.25 307.65h1.25v1.25h-1.25zM185.25 308.90h1.25v1.25h-1.25zM185.25 310.15h1.25v1.25h-1.25zM185.25 311.40h1.25v1.25h-1.25zM185.25 313.90h1.25v1.25h-1.25zM185.25 316.40h1.25v1.25h-1.25zM185.25 318.90h1.25v1.25h-1.25zM185.25 320.15h1.25v1.25h-1.25zM185.25 321.40h1.25v1.25h-1.25zM185.25 322.65h1.25v1.25h-1.25zM185.25 326.40h1.25v1.25h-1.25zM185.25 330.15h1.25v1.25h-1.25zM185.25 331.40h1.25v1.25h-1.25zM185.25 336.40h1.25v1.25h-1.25zM186.50 300.15h1.25v1.25h-1.25zM186.50 301.40h1.25v1.25h-1.25zM186.50 302.65h1.25v1.25h-1.25zM186.50 303.90h1.25v1.25h-1.25zM186.50 305.15h1.25v1.25h-1.25zM186.50 306.40h1.25v1.25h-1.25zM186.50 307.65h1.25v1.25h-1.25zM186.50 310.15h1.25v1.25h-1.25zM186.50 311.40h1.25v1.25h-1.25zM186.50 312.65h1.25v1.25h-1.25zM186.50 316.40h1.25v1.25h-1.25zM186.50 320.15h1.25v1.25h-1.25zM186.50 321.40h1.25v1.25h-1.25zM186.50 325.15h1.25v1.25h-1.25zM187.75 300.15h1.25v1.25h-1.25zM187.75 301.40h1.25v1.25h-1.25zM187.75 302.65h1.25v1.25h-1.25zM187.75 303.90h1.25v1.25h-1.25zM187.75 305.15h1.25v1.25h-1.25zM187.75 306.40h1.25v1.25h-1.25zM187.75 307.65h1.25v1.25h-1.25zM187.75 310.15h1.25v1.25h-1.25zM187.75 312.65h1.25v1.25h-1.25zM187.75 313.90h1.25v1.25h-1.25zM187.75 315.15h1.25v1.25h-1.25zM187.75 316.40h1.25v1.25h-1.25zM187.75 317.65h1.25v1.25h-1.25zM187.75 320.15h1.25v1.25h-1.25zM187.75 323.90h1.25v1.25h-1.25zM187.75 325.15h1.25v1.25h-1.25zM187.75 330.15h1.25v1.25h-1.25zM189.00 300.15h1.25v1.25h-1.25zM189.00 301.40h1.25v1.25h-1.25zM189.00 302.65h1.25v1.25h-1.25zM189.00 303.90h1.25v1.25h-1.25zM189.00 305.15h1.25v1.25h-1.25zM189.00 306.40h1.25v1.25h-1.25zM189.00 307.65h1.25v1.25h-1.25zM189.00 308.90h1.25v1.25h-1.25zM189.00 310.15h1.25v1.25h-1.25zM189.00 311.40h1.25v1.25h-1.25zM189.00 316.40h1.25v1.25h-1.25zM189.00 318.90h1.25v1.25h-1.25zM189.00 322.65h1.25v1.25h-1.25zM189.00 325.15h1.25v1.25h-1.25zM190.25 298.90h1.25v1.25h-1.25zM190.25 300.15h1.25v1.25h-1.25zM190.25 301.40h1.25v1.25h-1.25zM190.25 302.65h1.25v1.25h-1.25zM190.25 303.90h1.25v1.25h-1.25zM190.25 305.15h1.25v1.25h-1.25zM190.25 306.40h1.25v1.25h-1.25zM190.25 307.65h1.25v1.25h-1.25zM190.25 308.90h1.25v1.25h-1.25zM190.25 312.65h1.25v1.25h-1.25zM190.25 313.90h1.25v1.25h-1.25zM190.25 315.15h1.25v1.25h-1.25zM190.25 316.40h1.25v1.25h-1.25zM190.25 317.65h1.25v1.25h-1.25zM190.25 321.40h1.25v1.25h-1.25zM190.25 322.65h1.25v1.25h-1.25zM190.25 323.90h1.25v1.25h-1.25zM190.25 332.65h1.25v1.25h-1.25zM191.50 298.90h1.25v1.25h-1.25zM191.50 300.15h1.25v1.25h-1.25zM191.50 301.40h1.25v1.25h-1.25zM191.50 302.65h1.25v1.25h-1.25zM191.50 303.90h1.25v1.25h-1.25zM191.50 305.15h1.25v1.25h-1.25zM191.50 306.40h1.25v1.25h-1.25zM191.50 307.65h1.25v1.25h-1.25zM191.50 308.90h1.25v1.25h-1.25zM191.50 310.15h1.25v1.25h-1.25zM191.50 312.65h1.25v1.25h-1.25zM191.50 316.40h1.25v1.25h-1.25zM191.50 318.90h1.25v1.25h-1.25zM191.50 320.15h1.25v1.25h-1.25zM191.50 322.65h1.25v1.25h-1.25zM191.50 328.90h1.25v1.25h-1.25zM192.75 298.90h1.25v1.25h-1.25zM192.75 300.15h1.25v1.25h-1.25zM192.75 301.40h1.25v1.25h-1.25zM192.75 302.65h1.25v1.25h-1.25zM192.75 303.90h1.25v1.25h-1.25zM192.75 305.15h1.25v1.25h-1.25zM192.75 307.65h1.25v1.25h-1.25zM192.75 310.15h1.25v1.25h-1.25zM192.75 311.40h1.25v1.25h-1.25zM192.75 312.65h1.25v1.25h-1.25zM192.75 313.90h1.25v1.25h-1.25zM192.75 316.40h1.25v1.25h-1.25zM192.75 317.65h1.25v1.25h-1.25zM192.75 318.90h1.25v1.25h-1.25zM192.75 320.15h1.25v1.25h-1.25zM192.75 326.40h1.25v1.25h-1.25zM192.75 335.15h1.25v1.25h-1.25zM194.00 298.90h1.25v1.25h-1.25zM194.00 300.15h1.25v1.25h-1.25zM194.00 301.40h1.25v1.25h-1.25zM194.00 302.65h1.25v1.25h-1.25zM194.00 303.90h1.25v1.25h-1.25zM194.00 305.15h1.25v1.25h-1.25zM194.00 306.40h1.25v1.25h-1.25zM194.00 307.65h1.25v1.25h-1.25zM194.00 308.90h1.25v1.25h-1.25zM194.00 310.15h1.25v1.25h-1.25zM194.00 312.65h1.25v1.25h-1.25zM194.00 315.15h1.25v1.25h-1.25zM194.00 318.90h1.25v1.25h-1.25zM194.00 320.15h1.25v1.25h-1.25zM194.00 322.65h1.25v1.25h-1.25zM194.00 325.15h1.25v1.25h-1.25zM194.00 326.40h1.25v1.25h-1.25zM194.00 327.65h1.25v1.25h-1.25zM195.25 298.90h1.25v1.25h-1.25zM195.25 300.15h1.25v1.25h-1.25zM195.25 301.40h1.25v1.25h-1.25zM195.25 302.65h1.25v1.25h-1.25zM195.25 303.90h1.25v1.25h-1.25zM195.25 305.15h1.25v1.25h-1.25zM195.25 306.40h1.25v1.25h-1.25zM195.25 308.90h1.25v1.25h-1.25zM195.25 313.90h1.25v1.25h-1.25zM195.25 315.15h1.25v1.25h-1.25zM195.25 316.40h1.25v1.25h-1.25zM195.25 318.90h1.25v1.25h-1.25zM195.25 321.40h1.25v1.25h-1.25zM195.25 327.65h1.25v1.25h-1.25zM195.25 328.90h1.25v1.25h-1.25zM195.25 336.40h1.25v1.25h-1.25zM196.50 298.90h1.25v1.25h-1.25zM196.50 300.15h1.25v1.25h-1.25zM196.50 301.40h1.25v1.25h-1.25zM196.50 302.65h1.25v1.25h-1.25zM196.50 303.90h1.25v1.25h-1.25zM196.50 305.15h1.25v1.25h-1.25zM196.50 306.40h1.25v1.25h-1.25zM196.50 307.65h1.25v1.25h-1.25zM196.50 308.90h1.25v1.25h-1.25zM196.50 311.40h1.25v1.25h-1.25zM196.50 315.15h1.25v1.25h-1.25zM196.50 316.40h1.25v1.25h-1.25zM196.50 317.65h1.25v1.25h-1.25zM196.50 320.15h1.25v1.25h-1.25zM196.50 323.90h1.25v1.25h-1.25zM196.50 326.40h1.25v1.25h-1.25zM197.75 297.65h1.25v1.25h-1.25zM197.75 298.90h1.25v1.25h-1.25zM197.75 300.15h1.25v1.25h-1.25zM197.75 301.40h1.25v1.25h-1.25zM197.75 302.65h1.25v1.25h-1.25zM197.75 305.15h1.25v1.25h-1.25zM197.75 306.40h1.25v1.25h-1.25zM197.75 307.65h1.25v1.25h-1.25zM197.75 310.15h1.25v1.25h-1.25zM197.75 312.65h1.25v1.25h-1.25zM197.75 315.15h1.25v1.25h-1.25zM197.75 317.65h1.25v1.25h-1.25zM197.75 318.90h1.25v1.25h-1.25zM197.75 320.15h1.25v1.25h-1.25zM197.75 321.40h1.25v1.25h-1.25zM197.75 325.15h1.25v1.25h-1.25zM197.75 327.65h1.25v1.25h-1.25zM197.75 328.90h1.25v1.25h-1.25zM199.00 297.65h1.25v1.25h-1.25zM199.00 298.90h1.25v1.25h-1.25zM199.00 300.15h1.25v1.25h-1.25zM199.00 301.40h1.25v1.25h-1.25zM199.00 302.65h1.25v1.25h-1.25zM199.00 303.90h1.25v1.25h-1.25zM199.00 305.15h1.25v1.25h-1.25zM199.00 306.40h1.25v1.25h-1.25zM199.00 308.90h1.25v1.25h-1.25zM199.00 311.40h1.25v1.25h-1.25zM199.00 315.15h1.25v1.25h-1.25zM199.00 317.65h1.25v1.25h-1.25zM199.00 318.90h1.25v1.25h-1.25zM199.00 320.15h1.25v1.25h-1.25zM199.00 321.40h1.25v1.25h-1.25zM200.25 297.65h1.25v1.25h-1.25zM200.25 298.90h1.25v1.25h-1.25zM200.25 300.15h1.25v1.25h-1.25zM200.25 301.40h1.25v1.25h-1.25zM200.25 302.65h1.25v1.25h-1.25zM200.25 303.90h1.25v1.25h-1.25zM200.25 305.15h1.25v1.25h-1.25zM200.25 306.40h1.25v1.25h-1.25zM200.25 308.90h1.25v1.25h-1.25zM200.25 310.15h1.25v1.25h-1.25zM200.25 312.65h1.25v1.25h-1.25zM200.25 313.90h1.25v1.25h-1.25zM200.25 318.90h1.25v1.25h-1.25zM200.25 325.15h1.25v1.25h-1.25zM200.25 327.65h1.25v1.25h-1.25zM200.25 330.15h1.25v1.25h-1.25zM201.50 297.65h1.25v1.25h-1.25zM201.50 298.90h1.25v1.25h-1.25zM201.50 300.15h1.25v1.25h-1.25zM201.50 301.40h1.25v1.25h-1.25zM201.50 302.65h1.25v1.25h-1.25zM201.50 303.90h1.25v1.25h-1.25zM201.50 305.15h1.25v1.25h-1.25zM201.50 306.40h1.25v1.25h-1.25zM201.50 308.90h1.25v1.25h-1.25zM201.50 311.40h1.25v1.25h-1.25zM201.50 312.65h1.25v1.25h-1.25zM201.50 313.90h1.25v1.25h-1.25zM201.50 317.65h1.25v1.25h-1.25zM201.50 321.40h1.25v1.25h-1.25zM201.50 326.40h1.25v1.25h-1.25zM202.75 297.65h1.25v1.25h-1.25zM202.75 298.90h1.25v1.25h-1.25zM202.75 300.15h1.25v1.25h-1.25zM202.75 301.40h1.25v1.25h-1.25zM202.75 303.90h1.25v1.25h-1.25zM202.75 305.15h1.25v1.25h-1.25zM202.75 306.40h1.25v1.25h-1.25zM202.75 307.65h1.25v1.25h-1.25zM202.75 308.90h1.25v1.25h-1.25zM202.75 310.15h1.25v1.25h-1.25zM202.75 311.40h1.25v1.25h-1.25zM202.75 313.90h1.25v1.25h-1.25zM202.75 315.15h1.25v1.25h-1.25zM202.75 317.65h1.25v1.25h-1.25zM202.75 322.65h1.25v1.25h-1.25zM202.75 323.90h1.25v1.25h-1.25zM204.00 297.65h1.25v1.25h-1.25zM204.00 298.90h1.25v1.25h-1.25zM204.00 300.15h1.25v1.25h-1.25zM204.00 301.40h1.25v1.25h-1.25zM204.00 303.90h1.25v1.25h-1.25zM204.00 305.15h1.25v1.25h-1.25zM204.00 306.40h1.25v1.25h-1.25zM204.00 308.90h1.25v1.25h-1.25zM204.00 310.15h1.25v1.25h-1.25zM204.00 312.65h1.25v1.25h-1.25zM204.00 313.90h1.25v1.25h-1.25zM204.00 317.65h1.25v1.25h-1.25zM204.00 318.90h1.25v1.25h-1.25zM204.00 320.15h1.25v1.25h-1.25zM205.25 296.40h1.25v1.25h-1.25zM205.25 297.65h1.25v1.25h-1.25zM205.25 298.90h1.25v1.25h-1.25zM205.25 300.15h1.25v1.25h-1.25zM205.25 301.40h1.25v1.25h-1.25zM205.25 302.65h1.25v1.25h-1.25zM205.25 303.90h1.25v1.25h-1.25zM205.25 305.15h1.25v1.25h-1.25zM205.25 306.40h1.25v1.25h-1.25zM205.25 307.65h1.25v1.25h-1.25zM205.25 308.90h1.25v1.25h-1.25zM205.25 310.15h1.25v1.25h-1.25zM205.25 311.40h1.25v1.25h-1.25zM205.25 312.65h1.25v1.25h-1.25zM205.25 313.90h1.25v1.25h-1.25zM205.25 316.40h1.25v1.25h-1.25zM205.25 318.90h1.25v1.25h-1.25zM205.25 320.15h1.25v1.25h-1.25zM205.25 322.65h1.25v1.25h-1.25zM205.25 323.90h1.25v1.25h-1.25zM205.25 326.40h1.25v1.25h-1.25zM205.25 333.90h1.25v1.25h-1.25zM206.50 296.40h1.25v1.25h-1.25zM206.50 297.65h1.25v1.25h-1.25zM206.50 298.90h1.25v1.25h-1.25zM206.50 300.15h1.25v1.25h-1.25zM206.50 301.40h1.25v1.25h-1.25zM206.50 302.65h1.25v1.25h-1.25zM206.50 303.90h1.25v1.25h-1.25zM206.50 305.15h1.25v1.25h-1.25zM206.50 306.40h1.25v1.25h-1.25zM206.50 307.65h1.25v1.25h-1.25zM206.50 308.90h1.25v1.25h-1.25zM206.50 310.15h1.25v1.25h-1.25zM206.50 311.40h1.25v1.25h-1.25zM206.50 313.90h1.25v1.25h-1.25zM206.50 315.15h1.25v1.25h-1.25zM206.50 326.40h1.25v1.25h-1.25zM206.50 327.65h1.25v1.25h-1.25zM206.50 328.90h1.25v1.25h-1.25zM207.75 296.40h1.25v1.25h-1.25zM207.75 297.65h1.25v1.25h-1.25zM207.75 298.90h1.25v1.25h-1.25zM207.75 300.15h1.25v1.25h-1.25zM207.75 301.40h1.25v1.25h-1.25zM207.75 302.65h1.25v1.25h-1.25zM207.75 303.90h1.25v1.25h-1.25zM207.75 306.40h1.25v1.25h-1.25zM207.75 310.15h1.25v1.25h-1.25zM207.75 312.65h1.25v1.25h-1.25zM207.75 316.40h1.25v1.25h-1.25zM207.75 317.65h1.25v1.25h-1.25zM207.75 318.90h1.25v1.25h-1.25zM207.75 321.40h1.25v1.25h-1.25zM207.75 322.65h1.25v1.25h-1.25zM207.75 327.65h1.25v1.25h-1.25zM207.75 331.40h1.25v1.25h-1.25zM209.00 296.40h1.25v1.25h-1.25zM209.00 297.65h1.25v1.25h-1.25zM209.00 298.90h1.25v1.25h-1.25zM209.00 300.15h1.25v1.25h-1.25zM209.00 301.40h1.25v1.25h-1.25zM209.00 302.65h1.25v1.25h-1.25zM209.00 303.90h1.25v1.25h-1.25zM209.00 306.40h1.25v1.25h-1.25zM209.00 307.65h1.25v1.25h-1.25zM209.00 308.90h1.25v1.25h-1.25zM209.00 311.40h1.25v1.25h-1.25zM209.00 312.65h1.25v1.25h-1.25zM209.00 318.90h1.25v1.25h-1.25zM209.00 320.15h1.25v1.25h-1.25zM209.00 323.90h1.25v1.25h-1.25zM209.00 325.15h1.25v1.25h-1.25zM209.00 326.40h1.25v1.25h-1.25zM210.25 296.40h1.25v1.25h-1.25zM210.25 297.65h1.25v1.25h-1.25zM210.25 298.90h1.25v1.25h-1.25zM210.25 300.15h1.25v1.25h-1.25zM210.25 301.40h1.25v1.25h-1.25zM210.25 302.65h1.25v1.25h-1.25zM210.25 303.90h1.25v1.25h-1.25zM210.25 305.15h1.25v1.25h-1.25zM210.25 306.40h1.25v1.25h-1.25zM210.25 307.65h1.25v1.25h-1.25zM210.25 308.90h1.25v1.25h-1.25zM210.25 312.65h1.25v1.25h-1.25zM210.25 313.90h1.25v1.25h-1.25zM210.25 316.40h1.25v1.25h-1.25zM210.25 317.65h1.25v1.25h-1.25zM210.25 318.90h1.25v1.25h-1.25zM210.25 323.90h1.25v1.25h-1.25zM210.25 328.90h1.25v1.25h-1.25zM211.50 296.40h1.25v1.25h-1.25zM211.50 297.65h1.25v1.25h-1.25zM211.50 298.90h1.25v1.25h-1.25zM211.50 300.15h1.25v1.25h-1.25zM211.50 301.40h1.25v1.25h-1.25zM211.50 303.90h1.25v1.25h-1.25zM211.50 305.15h1.25v1.25h-1.25zM211.50 306.40h1.25v1.25h-1.25zM211.50 307.65h1.25v1.25h-1.25zM211.50 308.90h1.25v1.25h-1.25zM211.50 310.15h1.25v1.25h-1.25zM211.50 311.40h1.25v1.25h-1.25zM211.50 312.65h1.25v1.25h-1.25zM211.50 322.65h1.25v1.25h-1.25zM211.50 323.90h1.25v1.25h-1.25zM211.50 326.40h1.25v1.25h-1.25zM212.75 295.15h1.25v1.25h-1.25zM212.75 296.40h1.25v1.25h-1.25zM212.75 297.65h1.25v1.25h-1.25zM212.75 298.90h1.25v1.25h-1.25zM212.75 300.15h1.25v1.25h-1.25zM212.75 301.40h1.25v1.25h-1.25zM212.75 303.90h1.25v1.25h-1.25zM212.75 305.15h1.25v1.25h-1.25zM212.75 306.40h1.25v1.25h-1.25zM212.75 307.65h1.25v1.25h-1.25zM212.75 311.40h1.25v1.25h-1.25zM212.75 312.65h1.25v1.25h-1.25zM212.75 313.90h1.25v1.25h-1.25zM212.75 316.40h1.25v1.25h-1.25zM212.75 317.65h1.25v1.25h-1.25zM212.75 327.65h1.25v1.25h-1.25zM212.75 328.90h1.25v1.25h-1.25zM212.75 330.15h1.25v1.25h-1.25zM214.00 295.15h1.25v1.25h-1.25zM214.00 296.40h1.25v1.25h-1.25zM214.00 297.65h1.25v1.25h-1.25zM214.00 298.90h1.25v1.25h-1.25zM214.00 300.15h1.25v1.25h-1.25zM214.00 301.40h1.25v1.25h-1.25zM214.00 303.90h1.25v1.25h-1.25zM214.00 305.15h1.25v1.25h-1.25zM214.00 306.40h1.25v1.25h-1.25zM214.00 307.65h1.25v1.25h-1.25zM214.00 308.90h1.25v1.25h-1.25zM214.00 310.15h1.25v1.25h-1.25zM214.00 311.40h1.25v1.25h-1.25zM214.00 313.90h1.25v1.25h-1.25zM214.00 317.65h1.25v1.25h-1.25zM214.00 318.90h1.25v1.25h-1.25zM214.00 320.15h1.25v1.25h-1.25zM214.00 322.65h1.25v1.25h-1.25zM214.00 327.65h1.25v1.25h-1.25zM215.25 295.15h1.25v1.25h-1.25zM215.25 296.40h1.25v1.25h-1.25zM215.25 297.65h1.25v1.25h-1.25zM215.25 298.90h1.25v1.25h-1.25zM215.25 300.15h1.25v1.25h-1.25zM215.25 301.40h1.25v1.25h-1.25zM215.25 302.65h1.25v1.25h-1.25zM215.25 303.90h1.25v1.25h-1.25zM215.25 305.15h1.25v1.25h-1.25zM215.25 306.40h1.25v1.25h-1.25zM215.25 307.65h1.25v1.25h-1.25zM215.25 308.90h1.25v1.25h-1.25zM215.25 310.15h1.25v1.25h-1.25zM215.25 312.65h1.25v1.25h-1.25zM215.25 313.90h1.25v1.25h-1.25zM215.25 315.15h1.25v1.25h-1.25zM215.25 322.65h1.25v1.25h-1.25zM215.25 327.65h1.25v1.25h-1.25zM216.50 295.15h1.25v1.25h-1.25zM216.50 296.40h1.25v1.25h-1.25zM216.50 297.65h1.25v1.25h-1.25zM216.50 298.90h1.25v1.25h-1.25zM216.50 300.15h1.25v1.25h-1.25zM216.50 301.40h1.25v1.25h-1.25zM216.50 303.90h1.25v1.25h-1.25zM216.50 306.40h1.25v1.25h-1.25zM216.50 308.90h1.25v1.25h-1.25zM216.50 310.15h1.25v1.25h-1.25zM216.50 311.40h1.25v1.25h-1.25zM216.50 313.90h1.25v1.25h-1.25zM216.50 315.15h1.25v1.25h-1.25zM216.50 316.40h1.25v1.25h-1.25zM216.50 318.90h1.25v1.25h-1.25zM216.50 320.15h1.25v1.25h-1.25zM216.50 327.65h1.25v1.25h-1.25zM217.75 295.15h1.25v1.25h-1.25zM217.75 296.40h1.25v1.25h-1.25zM217.75 297.65h1.25v1.25h-1.25zM217.75 298.90h1.25v1.25h-1.25zM217.75 300.15h1.25v1.25h-1.25zM217.75 301.40h1.25v1.25h-1.25zM217.75 302.65h1.25v1.25h-1.25zM217.75 303.90h1.25v1.25h-1.25zM217.75 305.15h1.25v1.25h-1.25zM217.75 307.65h1.25v1.25h-1.25zM217.75 308.90h1.25v1.25h-1.25zM217.75 310.15h1.25v1.25h-1.25zM217.75 311.40h1.25v1.25h-1.25zM217.75 313.90h1.25v1.25h-1.25zM217.75 315.15h1.25v1.25h-1.25zM217.75 316.40h1.25v1.25h-1.25zM217.75 330.15h1.25v1.25h-1.25zM219.00 293.90h1.25v1.25h-1.25zM219.00 295.15h1.25v1.25h-1.25zM219.00 296.40h1.25v1.25h-1.25zM219.00 297.65h1.25v1.25h-1.25zM219.00 298.90h1.25v1.25h-1.25zM219.00 300.15h1.25v1.25h-1.25zM219.00 301.40h1.25v1.25h-1.25zM219.00 302.65h1.25v1.25h-1.25zM219.00 303.90h1.25v1.25h-1.25zM219.00 305.15h1.25v1.25h-1.25zM219.00 306.40h1.25v1.25h-1.25zM219.00 308.90h1.25v1.25h-1.25zM219.00 310.15h1.25v1.25h-1.25zM219.00 313.90h1.25v1.25h-1.25zM219.00 315.15h1.25v1.25h-1.25zM219.00 320.15h1.25v1.25h-1.25zM219.00 323.90h1.25v1.25h-1.25zM220.25 293.90h1.25v1.25h-1.25zM220.25 295.15h1.25v1.25h-1.25zM220.25 296.40h1.25v1.25h-1.25zM220.25 297.65h1.25v1.25h-1.25zM220.25 298.90h1.25v1.25h-1.25zM220.25 300.15h1.25v1.25h-1.25zM220.25 302.65h1.25v1.25h-1.25zM220.25 305.15h1.25v1.25h-1.25zM220.25 306.40h1.25v1.25h-1.25zM220.25 310.15h1.25v1.25h-1.25zM220.25 312.65h1.25v1.25h-1.25zM220.25 313.90h1.25v1.25h-1.25zM220.25 321.40h1.25v1.25h-1.25zM220.25 322.65h1.25v1.25h-1.25zM220.25 327.65h1.25v1.25h-1.25zM220.25 328.90h1.25v1.25h-1.25zM220.25 332.65h1.25v1.25h-1.25zM221.50 293.90h1.25v1.25h-1.25zM221.50 295.15h1.25v1.25h-1.25zM221.50 296.40h1.25v1.25h-1.25zM221.50 297.65h1.25v1.25h-1.25zM221.50 298.90h1.25v1.25h-1.25zM221.50 300.15h1.25v1.25h-1.25zM221.50 301.40h1.25v1.25h-1.25zM221.50 302.65h1.25v1.25h-1.25zM221.50 303.90h1.25v1.25h-1.25zM221.50 306.40h1.25v1.25h-1.25zM221.50 307.65h1.25v1.25h-1.25zM221.50 308.90h1.25v1.25h-1.25zM221.50 311.40h1.25v1.25h-1.25zM221.50 313.90h1.25v1.25h-1.25zM221.50 317.65h1.25v1.25h-1.25zM221.50 320.15h1.25v1.25h-1.25zM221.50 326.40h1.25v1.25h-1.25zM222.75 293.90h1.25v1.25h-1.25zM222.75 295.15h1.25v1.25h-1.25zM222.75 296.40h1.25v1.25h-1.25zM222.75 297.65h1.25v1.25h-1.25zM222.75 298.90h1.25v1.25h-1.25zM222.75 300.15h1.25v1.25h-1.25zM222.75 302.65h1.25v1.25h-1.25zM222.75 303.90h1.25v1.25h-1.25zM222.75 305.15h1.25v1.25h-1.25zM222.75 307.65h1.25v1.25h-1.25zM222.75 308.90h1.25v1.25h-1.25zM222.75 310.15h1.25v1.25h-1.25zM222.75 311.40h1.25v1.25h-1.25zM222.75 312.65h1.25v1.25h-1.25zM222.75 313.90h1.25v1.25h-1.25zM222.75 318.90h1.25v1.25h-1.25zM222.75 320.15h1.25v1.25h-1.25zM224.00 293.90h1.25v1.25h-1.25zM224.00 295.15h1.25v1.25h-1.25zM224.00 296.40h1.25v1.25h-1.25zM224.00 297.65h1.25v1.25h-1.25zM224.00 298.90h1.25v1.25h-1.25zM224.00 300.15h1.25v1.25h-1.25zM224.00 301.40h1.25v1.25h-1.25zM224.00 302.65h1.25v1.25h-1.25zM224.00 303.90h1.25v1.25h-1.25zM224.00 305.15h1.25v1.25h-1.25zM224.00 306.40h1.25v1.25h-1.25zM224.00 307.65h1.25v1.25h-1.25zM224.00 310.15h1.25v1.25h-1.25zM224.00 311.40h1.25v1.25h-1.25zM224.00 313.90h1.25v1.25h-1.25zM224.00 315.15h1.25v1.25h-1.25zM224.00 316.40h1.25v1.25h-1.25zM224.00 317.65h1.25v1.25h-1.25zM224.00 321.40h1.25v1.25h-1.25zM224.00 322.65h1.25v1.25h-1.25zM225.25 293.90h1.25v1.25h-1.25zM225.25 295.15h1.25v1.25h-1.25zM225.25 297.65h1.25v1.25h-1.25zM225.25 298.90h1.25v1.25h-1.25zM225.25 300.15h1.25v1.25h-1.25zM225.25 301.40h1.25v1.25h-1.25zM225.25 302.65h1.25v1.25h-1.25zM225.25 303.90h1.25v1.25h-1.25zM225.25 305.15h1.25v1.25h-1.25zM225.25 306.40h1.25v1.25h-1.25zM225.25 310.15h1.25v1.25h-1.25zM225.25 311.40h1.25v1.25h-1.25zM225.25 317.65h1.25v1.25h-1.25zM225.25 321.40h1.25v1.25h-1.25zM225.25 327.65h1.25v1.25h-1.25zM226.50 292.65h1.25v1.25h-1.25zM226.50 293.90h1.25v1.25h-1.25zM226.50 295.15h1.25v1.25h-1.25zM226.50 296.40h1.25v1.25h-1.25zM226.50 297.65h1.25v1.25h-1.25zM226.50 300.15h1.25v1.25h-1.25zM226.50 301.40h1.25v1.25h-1.25zM226.50 302.65h1.25v1.25h-1.25zM226.50 303.90h1.25v1.25h-1.25zM226.50 306.40h1.25v1.25h-1.25zM226.50 307.65h1.25v1.25h-1.25zM226.50 308.90h1.25v1.25h-1.25zM226.50 313.90h1.25v1.25h-1.25zM226.50 315.15h1.25v1.25h-1.25zM226.50 316.40h1.25v1.25h-1.25zM226.50 317.65h1.25v1.25h-1.25zM226.50 318.90h1.25v1.25h-1.25zM226.50 320.15h1.25v1.25h-1.25zM226.50 322.65h1.25v1.25h-1.25zM226.50 323.90h1.25v1.25h-1.25zM226.50 325.15h1.25v1.25h-1.25zM227.75 292.65h1.25v1.25h-1.25zM227.75 293.90h1.25v1.25h-1.25zM227.75 295.15h1.25v1.25h-1.25zM227.75 296.40h1.25v1.25h-1.25zM227.75 297.65h1.25v1.25h-1.25zM227.75 298.90h1.25v1.25h-1.25zM227.75 301.40h1.25v1.25h-1.25zM227.75 302.65h1.25v1.25h-1.25zM227.75 303.90h1.25v1.25h-1.25zM227.75 306.40h1.25v1.25h-1.25zM227.75 307.65h1.25v1.25h-1.25zM227.75 308.90h1.25v1.25h-1.25zM227.75 312.65h1.25v1.25h-1.25zM227.75 313.90h1.25v1.25h-1.25zM227.75 317.65h1.25v1.25h-1.25zM229.00 292.65h1.25v1.25h-1.25zM229.00 293.90h1.25v1.25h-1.25zM229.00 295.15h1.25v1.25h-1.25zM229.00 296.40h1.25v1.25h-1.25zM229.00 297.65h1.25v1.25h-1.25zM229.00 300.15h1.25v1.25h-1.25zM229.00 301.40h1.25v1.25h-1.25zM229.00 302.65h1.25v1.25h-1.25zM229.00 305.15h1.25v1.25h-1.25zM229.00 306.40h1.25v1.25h-1.25zM229.00 307.65h1.25v1.25h-1.25zM229.00 308.90h1.25v1.25h-1.25zM229.00 310.15h1.25v1.25h-1.25zM229.00 311.40h1.25v1.25h-1.25zM229.00 312.65h1.25v1.25h-1.25zM229.00 313.90h1.25v1.25h-1.25zM229.00 315.15h1.25v1.25h-1.25zM229.00 316.40h1.25v1.25h-1.25zM229.00 320.15h1.25v1.25h-1.25zM229.00 323.90h1.25v1.25h-1.25zM230.25 292.65h1.25v1.25h-1.25zM230.25 293.90h1.25v1.25h-1.25zM230.25 295.15h1.25v1.25h-1.25zM230.25 296.40h1.25v1.25h-1.25zM230.25 297.65h1.25v1.25h-1.25zM230.25 298.90h1.25v1.25h-1.25zM230.25 300.15h1.25v1.25h-1.25zM230.25 301.40h1.25v1.25h-1.25zM230.25 302.65h1.25v1.25h-1.25zM230.25 303.90h1.25v1.25h-1.25zM230.25 305.15h1.25v1.25h-1.25zM230.25 306.40h1.25v1.25h-1.25zM230.25 307.65h1.25v1.25h-1.25zM230.25 308.90h1.25v1.25h-1.25zM230.25 310.15h1.25v1.25h-1.25zM230.25 311.40h1.25v1.25h-1.25zM230.25 317.65h1.25v1.25h-1.25zM230.25 320.15h1.25v1.25h-1.25zM230.25 321.40h1.25v1.25h-1.25zM230.25 322.65h1.25v1.25h-1.25zM231.50 292.65h1.25v1.25h-1.25zM231.50 293.90h1.25v1.25h-1.25zM231.50 295.15h1.25v1.25h-1.25zM231.50 296.40h1.25v1.25h-1.25zM231.50 297.65h1.25v1.25h-1.25zM231.50 298.90h1.25v1.25h-1.25zM231.50 300.15h1.25v1.25h-1.25zM231.50 301.40h1.25v1.25h-1.25zM231.50 303.90h1.25v1.25h-1.25zM231.50 305.15h1.25v1.25h-1.25zM231.50 306.40h1.25v1.25h-1.25zM231.50 307.65h1.25v1.25h-1.25zM231.50 311.40h1.25v1.25h-1.25zM231.50 312.65h1.25v1.25h-1.25zM231.50 316.40h1.25v1.25h-1.25zM232.75 291.40h1.25v1.25h-1.25zM232.75 292.65h1.25v1.25h-1.25zM232.75 293.90h1.25v1.25h-1.25zM232.75 295.15h1.25v1.25h-1.25zM232.75 297.65h1.25v1.25h-1.25zM232.75 300.15h1.25v1.25h-1.25zM232.75 302.65h1.25v1.25h-1.25zM232.75 303.90h1.25v1.25h-1.25zM232.75 307.65h1.25v1.25h-1.25zM232.75 308.90h1.25v1.25h-1.25zM232.75 315.15h1.25v1.25h-1.25zM232.75 316.40h1.25v1.25h-1.25zM232.75 317.65h1.25v1.25h-1.25zM232.75 318.90h1.25v1.25h-1.25zM232.75 322.65h1.25v1.25h-1.25zM232.75 323.90h1.25v1.25h-1.25zM234.00 291.40h1.25v1.25h-1.25zM234.00 292.65h1.25v1.25h-1.25zM234.00 293.90h1.25v1.25h-1.25zM234.00 295.15h1.25v1.25h-1.25zM234.00 296.40h1.25v1.25h-1.25zM234.00 297.65h1.25v1.25h-1.25zM234.00 298.90h1.25v1.25h-1.25zM234.00 300.15h1.25v1.25h-1.25zM234.00 305.15h1.25v1.25h-1.25zM234.00 306.40h1.25v1.25h-1.25zM234.00 307.65h1.25v1.25h-1.25zM234.00 308.90h1.25v1.25h-1.25zM234.00 311.40h1.25v1.25h-1.25zM234.00 316.40h1.25v1.25h-1.25zM235.25 291.40h1.25v1.25h-1.25zM235.25 292.65h1.25v1.25h-1.25zM235.25 293.90h1.25v1.25h-1.25zM235.25 295.15h1.25v1.25h-1.25zM235.25 296.40h1.25v1.25h-1.25zM235.25 297.65h1.25v1.25h-1.25zM235.25 298.90h1.25v1.25h-1.25zM235.25 301.40h1.25v1.25h-1.25zM235.25 302.65h1.25v1.25h-1.25zM235.25 305.15h1.25v1.25h-1.25zM235.25 307.65h1.25v1.25h-1.25zM235.25 308.90h1.25v1.25h-1.25zM235.25 310.15h1.25v1.25h-1.25zM235.25 312.65h1.25v1.25h-1.25zM235.25 315.15h1.25v1.25h-1.25zM235.25 318.90h1.25v1.25h-1.25zM236.50 291.40h1.25v1.25h-1.25zM236.50 292.65h1.25v1.25h-1.25zM236.50 293.90h1.25v1.25h-1.25zM236.50 295.15h1.25v1.25h-1.25zM236.50 296.40h1.25v1.25h-1.25zM236.50 297.65h1.25v1.25h-1.25zM236.50 298.90h1.25v1.25h-1.25zM236.50 300.15h1.25v1.25h-1.25zM236.50 301.40h1.25v1.25h-1.25zM236.50 305.15h1.25v1.25h-1.25zM236.50 306.40h1.25v1.25h-1.25zM236.50 307.65h1.25v1.25h-1.25zM236.50 311.40h1.25v1.25h-1.25zM236.50 313.90h1.25v1.25h-1.25zM236.50 315.15h1.25v1.25h-1.25zM236.50 317.65h1.25v1.25h-1.25zM236.50 318.90h1.25v1.25h-1.25zM236.50 322.65h1.25v1.25h-1.25zM237.75 291.40h1.25v1.25h-1.25zM237.75 292.65h1.25v1.25h-1.25zM237.75 293.90h1.25v1.25h-1.25zM237.75 295.15h1.25v1.25h-1.25zM237.75 296.40h1.25v1.25h-1.25zM237.75 297.65h1.25v1.25h-1.25zM237.75 298.90h1.25v1.25h-1.25zM237.75 300.15h1.25v1.25h-1.25zM237.75 301.40h1.25v1.25h-1.25zM237.75 302.65h1.25v1.25h-1.25zM237.75 303.90h1.25v1.25h-1.25zM237.75 305.15h1.25v1.25h-1.25zM237.75 306.40h1.25v1.25h-1.25zM237.75 310.15h1.25v1.25h-1.25zM237.75 312.65h1.25v1.25h-1.25zM237.75 316.40h1.25v1.25h-1.25zM237.75 323.90h1.25v1.25h-1.25zM239.00 290.15h1.25v1.25h-1.25zM239.00 291.40h1.25v1.25h-1.25zM239.00 292.65h1.25v1.25h-1.25zM239.00 293.90h1.25v1.25h-1.25zM239.00 295.15h1.25v1.25h-1.25zM239.00 296.40h1.25v1.25h-1.25zM239.00 297.65h1.25v1.25h-1.25zM239.00 298.90h1.25v1.25h-1.25zM239.00 302.65h1.25v1.25h-1.25zM239.00 305.15h1.25v1.25h-1.25zM239.00 306.40h1.25v1.25h-1.25zM239.00 307.65h1.25v1.25h-1.25zM239.00 310.15h1.25v1.25h-1.25zM239.00 312.65h1.25v1.25h-1.25zM239.00 318.90h1.25v1.25h-1.25zM239.00 320.15h1.25v1.25h-1.25zM239.00 321.40h1.25v1.25h-1.25zM239.00 323.90h1.25v1.25h-1.25zM240.25 290.15h1.25v1.25h-1.25zM240.25 291.40h1.25v1.25h-1.25zM240.25 292.65h1.25v1.25h-1.25zM240.25 293.90h1.25v1.25h-1.25zM240.25 295.15h1.25v1.25h-1.25zM240.25 296.40h1.25v1.25h-1.25zM240.25 298.90h1.25v1.25h-1.25zM240.25 300.15h1.25v1.25h-1.25zM240.25 301.40h1.25v1.25h-1.25zM240.25 302.65h1.25v1.25h-1.25zM240.25 303.90h1.25v1.25h-1.25zM240.25 306.40h1.25v1.25h-1.25zM240.25 307.65h1.25v1.25h-1.25zM240.25 311.40h1.25v1.25h-1.25zM240.25 313.90h1.25v1.25h-1.25zM240.25 315.15h1.25v1.25h-1.25zM240.25 317.65h1.25v1.25h-1.25zM240.25 323.90h1.25v1.25h-1.25zM241.50 290.15h1.25v1.25h-1.25zM241.50 291.40h1.25v1.25h-1.25zM241.50 292.65h1.25v1.25h-1.25zM241.50 293.90h1.25v1.25h-1.25zM241.50 295.15h1.25v1.25h-1.25zM241.50 296.40h1.25v1.25h-1.25zM241.50 298.90h1.25v1.25h-1.25zM241.50 300.15h1.25v1.25h-1.25zM241.50 301.40h1.25v1.25h-1.25zM241.50 302.65h1.25v1.25h-1.25zM241.50 303.90h1.25v1.25h-1.25zM241.50 307.65h1.25v1.25h-1.25zM241.50 310.15h1.25v1.25h-1.25zM241.50 312.65h1.25v1.25h-1.25zM241.50 313.90h1.25v1.25h-1.25zM241.50 318.90h1.25v1.25h-1.25zM241.50 323.90h1.25v1.25h-1.25zM241.50 326.40h1.25v1.25h-1.25zM242.75 290.15h1.25v1.25h-1.25zM242.75 291.40h1.25v1.25h-1.25zM242.75 292.65h1.25v1.25h-1.25zM242.75 293.90h1.25v1.25h-1.25zM242.75 295.15h1.25v1.25h-1.25zM242.75 296.40h1.25v1.25h-1.25zM242.75 297.65h1.25v1.25h-1.25zM242.75 300.15h1.25v1.25h-1.25zM242.75 303.90h1.25v1.25h-1.25zM242.75 305.15h1.25v1.25h-1.25zM242.75 306.40h1.25v1.25h-1.25zM242.75 307.65h1.25v1.25h-1.25zM242.75 313.90h1.25v1.25h-1.25zM242.75 317.65h1.25v1.25h-1.25zM242.75 320.15h1.25v1.25h-1.25zM244.00 288.90h1.25v1.25h-1.25zM244.00 290.15h1.25v1.25h-1.25zM244.00 291.40h1.25v1.25h-1.25zM244.00 292.65h1.25v1.25h-1.25zM244.00 293.90h1.25v1.25h-1.25zM244.00 295.15h1.25v1.25h-1.25zM244.00 297.65h1.25v1.25h-1.25zM244.00 300.15h1.25v1.25h-1.25zM244.00 302.65h1.25v1.25h-1.25zM244.00 303.90h1.25v1.25h-1.25zM244.00 305.15h1.25v1.25h-1.25zM244.00 306.40h1.25v1.25h-1.25zM244.00 307.65h1.25v1.25h-1.25zM244.00 308.90h1.25v1.25h-1.25zM244.00 312.65h1.25v1.25h-1.25zM244.00 313.90h1.25v1.25h-1.25zM245.25 288.90h1.25v1.25h-1.25zM245.25 290.15h1.25v1.25h-1.25zM245.25 291.40h1.25v1.25h-1.25zM245.25 292.65h1.25v1.25h-1.25zM245.25 293.90h1.25v1.25h-1.25zM245.25 295.15h1.25v1.25h-1.25zM245.25 296.40h1.25v1.25h-1.25zM245.25 297.65h1.25v1.25h-1.25zM245.25 298.90h1.25v1.25h-1.25zM245.25 300.15h1.25v1.25h-1.25zM245.25 301.40h1.25v1.25h-1.25zM245.25 302.65h1.25v1.25h-1.25zM245.25 303.90h1.25v1.25h-1.25zM245.25 306.40h1.25v1.25h-1.25zM245.25 311.40h1.25v1.25h-1.25zM245.25 312.65h1.25v1.25h-1.25zM245.25 313.90h1.25v1.25h-1.25zM246.50 288.90h1.25v1.25h-1.25zM246.50 290.15h1.25v1.25h-1.25zM246.50 291.40h1.25v1.25h-1.25zM246.50 292.65h1.25v1.25h-1.25zM246.50 293.90h1.25v1.25h-1.25zM246.50 295.15h1.25v1.25h-1.25zM246.50 296.40h1.25v1.25h-1.25zM246.50 297.65h1.25v1.25h-1.25zM246.50 298.90h1.25v1.25h-1.25zM246.50 300.15h1.25v1.25h-1.25zM246.50 301.40h1.25v1.25h-1.25zM246.50 303.90h1.25v1.25h-1.25zM246.50 307.65h1.25v1.25h-1.25zM246.50 308.90h1.25v1.25h-1.25zM246.50 312.65h1.25v1.25h-1.25zM246.50 313.90h1.25v1.25h-1.25zM246.50 317.65h1.25v1.25h-1.25zM246.50 322.65h1.25v1.25h-1.25zM247.75 288.90h1.25v1.25h-1.25zM247.75 290.15h1.25v1.25h-1.25zM247.75 291.40h1.25v1.25h-1.25zM247.75 292.65h1.25v1.25h-1.25zM247.75 293.90h1.25v1.25h-1.25zM247.75 296.40h1.25v1.25h-1.25zM247.75 297.65h1.25v1.25h-1.25zM247.75 298.90h1.25v1.25h-1.25zM247.75 300.15h1.25v1.25h-1.25zM247.75 303.90h1.25v1.25h-1.25zM247.75 305.15h1.25v1.25h-1.25zM247.75 307.65h1.25v1.25h-1.25zM247.75 308.90h1.25v1.25h-1.25zM247.75 313.90h1.25v1.25h-1.25zM247.75 316.40h1.25v1.25h-1.25zM247.75 317.65h1.25v1.25h-1.25zM247.75 318.90h1.25v1.25h-1.25zM247.75 320.15h1.25v1.25h-1.25zM249.00 288.90h1.25v1.25h-1.25zM249.00 290.15h1.25v1.25h-1.25zM249.00 291.40h1.25v1.25h-1.25zM249.00 292.65h1.25v1.25h-1.25zM249.00 293.90h1.25v1.25h-1.25zM249.00 295.15h1.25v1.25h-1.25zM249.00 296.40h1.25v1.25h-1.25zM249.00 298.90h1.25v1.25h-1.25zM249.00 300.15h1.25v1.25h-1.25zM249.00 302.65h1.25v1.25h-1.25zM249.00 303.90h1.25v1.25h-1.25zM249.00 305.15h1.25v1.25h-1.25zM249.00 308.90h1.25v1.25h-1.25zM249.00 310.15h1.25v1.25h-1.25zM249.00 311.40h1.25v1.25h-1.25zM249.00 318.90h1.25v1.25h-1.25zM250.25 287.65h1.25v1.25h-1.25zM250.25 288.90h1.25v1.25h-1.25zM250.25 290.15h1.25v1.25h-1.25zM250.25 291.40h1.25v1.25h-1.25zM250.25 292.65h1.25v1.25h-1.25zM250.25 293.90h1.25v1.25h-1.25zM250.25 295.15h1.25v1.25h-1.25zM250.25 296.40h1.25v1.25h-1.25zM250.25 297.65h1.25v1.25h-1.25zM250.25 300.15h1.25v1.25h-1.25zM250.25 302.65h1.25v1.25h-1.25zM250.25 303.90h1.25v1.25h-1.25zM250.25 308.90h1.25v1.25h-1.25zM250.25 311.40h1.25v1.25h-1.25zM250.25 322.65h1.25v1.25h-1.25zM251.50 287.65h1.25v1.25h-1.25zM251.50 288.90h1.25v1.25h-1.25zM251.50 290.15h1.25v1.25h-1.25zM251.50 291.40h1.25v1.25h-1.25zM251.50 293.90h1.25v1.25h-1.25zM251.50 295.15h1.25v1.25h-1.25zM251.50 296.40h1.25v1.25h-1.25zM251.50 301.40h1.25v1.25h-1.25zM251.50 302.65h1.25v1.25h-1.25zM251.50 305.15h1.25v1.25h-1.25zM251.50 308.90h1.25v1.25h-1.25zM251.50 315.15h1.25v1.25h-1.25zM252.75 287.65h1.25v1.25h-1.25zM252.75 288.90h1.25v1.25h-1.25zM252.75 290.15h1.25v1.25h-1.25zM252.75 291.40h1.25v1.25h-1.25zM252.75 292.65h1.25v1.25h-1.25zM252.75 293.90h1.25v1.25h-1.25zM252.75 295.15h1.25v1.25h-1.25zM252.75 296.40h1.25v1.25h-1.25zM252.75 297.65h1.25v1.25h-1.25zM252.75 300.15h1.25v1.25h-1.25zM252.75 301.40h1.25v1.25h-1.25zM252.75 303.90h1.25v1.25h-1.25zM252.75 305.15h1.25v1.25h-1.25zM252.75 307.65h1.25v1.25h-1.25zM252.75 310.15h1.25v1.25h-1.25zM252.75 312.65h1.25v1.25h-1.25zM252.75 318.90h1.25v1.25h-1.25zM254.00 287.65h1.25v1.25h-1.25zM254.00 288.90h1.25v1.25h-1.25zM254.00 290.15h1.25v1.25h-1.25zM254.00 291.40h1.25v1.25h-1.25zM254.00 292.65h1.25v1.25h-1.25zM254.00 293.90h1.25v1.25h-1.25zM254.00 296.40h1.25v1.25h-1.25zM254.00 298.90h1.25v1.25h-1.25zM254.00 300.15h1.25v1.25h-1.25zM254.00 302.65h1.25v1.25h-1.25zM254.00 303.90h1.25v1.25h-1.25zM254.00 305.15h1.25v1.25h-1.25zM254.00 307.65h1.25v1.25h-1.25zM254.00 310.15h1.25v1.25h-1.25zM254.00 316.40h1.25v1.25h-1.25zM255.25 286.40h1.25v1.25h-1.25zM255.25 287.65h1.25v1.25h-1.25zM255.25 288.90h1.25v1.25h-1.25zM255.25 290.15h1.25v1.25h-1.25zM255.25 291.40h1.25v1.25h-1.25zM255.25 292.65h1.25v1.25h-1.25zM255.25 295.15h1.25v1.25h-1.25zM255.25 296.40h1.25v1.25h-1.25zM255.25 298.90h1.25v1.25h-1.25zM255.25 301.40h1.25v1.25h-1.25zM255.25 302.65h1.25v1.25h-1.25zM255.25 303.90h1.25v1.25h-1.25zM255.25 307.65h1.25v1.25h-1.25zM255.25 313.90h1.25v1.25h-1.25zM256.50 286.40h1.25v1.25h-1.25zM256.50 287.65h1.25v1.25h-1.25zM256.50 288.90h1.25v1.25h-1.25zM256.50 290.15h1.25v1.25h-1.25zM256.50 291.40h1.25v1.25h-1.25zM256.50 292.65h1.25v1.25h-1.25zM256.50 293.90h1.25v1.25h-1.25zM256.50 295.15h1.25v1.25h-1.25zM256.50 296.40h1.25v1.25h-1.25zM256.50 297.65h1.25v1.25h-1.25zM256.50 298.90h1.25v1.25h-1.25zM256.50 300.15h1.25v1.25h-1.25zM256.50 302.65h1.25v1.25h-1.25zM256.50 303.90h1.25v1.25h-1.25zM256.50 306.40h1.25v1.25h-1.25zM256.50 308.90h1.25v1.25h-1.25zM256.50 311.40h1.25v1.25h-1.25zM256.50 315.15h1.25v1.25h-1.25zM257.75 286.40h1.25v1.25h-1.25zM257.75 287.65h1.25v1.25h-1.25zM257.75 288.90h1.25v1.25h-1.25zM257.75 290.15h1.25v1.25h-1.25zM257.75 291.40h1.25v1.25h-1.25zM257.75 292.65h1.25v1.25h-1.25zM257.75 293.90h1.25v1.25h-1.25zM257.75 297.65h1.25v1.25h-1.25zM257.75 298.90h1.25v1.25h-1.25zM257.75 300.15h1.25v1.25h-1.25zM257.75 301.40h1.25v1.25h-1.25zM257.75 302.65h1.25v1.25h-1.25zM257.75 305.15h1.25v1.25h-1.25zM257.75 308.90h1.25v1.25h-1.25zM257.75 311.40h1.25v1.25h-1.25zM257.75 315.15h1.25v1.25h-1.25zM257.75 317.65h1.25v1.25h-1.25zM257.75 320.15h1.25v1.25h-1.25zM259.00 286.40h1.25v1.25h-1.25zM259.00 287.65h1.25v1.25h-1.25zM259.00 288.90h1.25v1.25h-1.25zM259.00 290.15h1.25v1.25h-1.25zM259.00 291.40h1.25v1.25h-1.25zM259.00 292.65h1.25v1.25h-1.25zM259.00 293.90h1.25v1.25h-1.25zM259.00 295.15h1.25v1.25h-1.25zM259.00 296.40h1.25v1.25h-1.25zM259.00 297.65h1.25v1.25h-1.25zM259.00 298.90h1.25v1.25h-1.25zM259.00 300.15h1.25v1.25h-1.25zM259.00 301.40h1.25v1.25h-1.25zM259.00 302.65h1.25v1.25h-1.25zM259.00 303.90h1.25v1.25h-1.25zM259.00 306.40h1.25v1.25h-1.25zM259.00 310.15h1.25v1.25h-1.25zM259.00 311.40h1.25v1.25h-1.25zM260.25 286.40h1.25v1.25h-1.25zM260.25 287.65h1.25v1.25h-1.25zM260.25 288.90h1.25v1.25h-1.25zM260.25 290.15h1.25v1.25h-1.25zM260.25 291.40h1.25v1.25h-1.25zM260.25 292.65h1.25v1.25h-1.25zM260.25 293.90h1.25v1.25h-1.25zM260.25 295.15h1.25v1.25h-1.25zM260.25 296.40h1.25v1.25h-1.25zM260.25 297.65h1.25v1.25h-1.25zM260.25 298.90h1.25v1.25h-1.25zM260.25 300.15h1.25v1.25h-1.25zM260.25 302.65h1.25v1.25h-1.25zM260.25 303.90h1.25v1.25h-1.25zM260.25 305.15h1.25v1.25h-1.25zM260.25 313.90h1.25v1.25h-1.25zM261.50 285.15h1.25v1.25h-1.25zM261.50 286.40h1.25v1.25h-1.25zM261.50 287.65h1.25v1.25h-1.25zM261.50 288.90h1.25v1.25h-1.25zM261.50 290.15h1.25v1.25h-1.25zM261.50 291.40h1.25v1.25h-1.25zM261.50 292.65h1.25v1.25h-1.25zM261.50 293.90h1.25v1.25h-1.25zM261.50 295.15h1.25v1.25h-1.25zM261.50 297.65h1.25v1.25h-1.25zM261.50 300.15h1.25v1.25h-1.25zM261.50 301.40h1.25v1.25h-1.25zM261.50 302.65h1.25v1.25h-1.25zM261.50 303.90h1.25v1.25h-1.25zM261.50 305.15h1.25v1.25h-1.25zM261.50 306.40h1.25v1.25h-1.25zM261.50 307.65h1.25v1.25h-1.25zM261.50 311.40h1.25v1.25h-1.25zM261.50 316.40h1.25v1.25h-1.25zM261.50 317.65h1.25v1.25h-1.25zM262.75 285.15h1.25v1.25h-1.25zM262.75 286.40h1.25v1.25h-1.25zM262.75 287.65h1.25v1.25h-1.25zM262.75 288.90h1.25v1.25h-1.25zM262.75 290.15h1.25v1.25h-1.25zM262.75 291.40h1.25v1.25h-1.25zM262.75 292.65h1.25v1.25h-1.25zM262.75 293.90h1.25v1.25h-1.25zM262.75 295.15h1.25v1.25h-1.25zM262.75 298.90h1.25v1.25h-1.25zM262.75 300.15h1.25v1.25h-1.25zM262.75 302.65h1.25v1.25h-1.25zM262.75 303.90h1.25v1.25h-1.25zM262.75 305.15h1.25v1.25h-1.25zM264.00 285.15h1.25v1.25h-1.25zM264.00 286.40h1.25v1.25h-1.25zM264.00 287.65h1.25v1.25h-1.25zM264.00 288.90h1.25v1.25h-1.25zM264.00 290.15h1.25v1.25h-1.25zM264.00 291.40h1.25v1.25h-1.25zM264.00 293.90h1.25v1.25h-1.25zM264.00 297.65h1.25v1.25h-1.25zM264.00 298.90h1.25v1.25h-1.25zM264.00 300.15h1.25v1.25h-1.25zM264.00 301.40h1.25v1.25h-1.25zM264.00 302.65h1.25v1.25h-1.25zM264.00 306.40h1.25v1.25h-1.25zM264.00 310.15h1.25v1.25h-1.25zM264.00 312.65h1.25v1.25h-1.25zM264.00 313.90h1.25v1.25h-1.25zM264.00 315.15h1.25v1.25h-1.25zM265.25 285.15h1.25v1.25h-1.25zM265.25 286.40h1.25v1.25h-1.25zM265.25 287.65h1.25v1.25h-1.25zM265.25 288.90h1.25v1.25h-1.25zM265.25 291.40h1.25v1.25h-1.25zM265.25 292.65h1.25v1.25h-1.25zM265.25 295.15h1.25v1.25h-1.25zM265.25 296.40h1.25v1.25h-1.25zM265.25 301.40h1.25v1.25h-1.25zM265.25 303.90h1.25v1.25h-1.25zM265.25 305.15h1.25v1.25h-1.25zM265.25 317.65h1.25v1.25h-1.25zM266.50 283.90h1.25v1.25h-1.25zM266.50 285.15h1.25v1.25h-1.25zM266.50 286.40h1.25v1.25h-1.25zM266.50 287.65h1.25v1.25h-1.25zM266.50 288.90h1.25v1.25h-1.25zM266.50 290.15h1.25v1.25h-1.25zM266.50 291.40h1.25v1.25h-1.25zM266.50 292.65h1.25v1.25h-1.25zM266.50 293.90h1.25v1.25h-1.25zM266.50 295.15h1.25v1.25h-1.25zM266.50 300.15h1.25v1.25h-1.25zM266.50 301.40h1.25v1.25h-1.25zM266.50 302.65h1.25v1.25h-1.25zM266.50 303.90h1.25v1.25h-1.25zM266.50 306.40h1.25v1.25h-1.25zM266.50 311.40h1.25v1.25h-1.25zM267.75 283.90h1.25v1.25h-1.25zM267.75 285.15h1.25v1.25h-1.25zM267.75 286.40h1.25v1.25h-1.25zM267.75 287.65h1.25v1.25h-1.25zM267.75 288.90h1.25v1.25h-1.25zM267.75 290.15h1.25v1.25h-1.25zM267.75 291.40h1.25v1.25h-1.25zM267.75 292.65h1.25v1.25h-1.25zM267.75 296.40h1.25v1.25h-1.25zM267.75 300.15h1.25v1.25h-1.25zM267.75 303.90h1.25v1.25h-1.25zM267.75 313.90h1.25v1.25h-1.25zM269.00 283.90h1.25v1.25h-1.25zM269.00 285.15h1.25v1.25h-1.25zM269.00 286.40h1.25v1.25h-1.25zM269.00 287.65h1.25v1.25h-1.25zM269.00 288.90h1.25v1.25h-1.25zM269.00 290.15h1.25v1.25h-1.25zM269.00 291.40h1.25v1.25h-1.25zM269.00 292.65h1.25v1.25h-1.25zM269.00 295.15h1.25v1.25h-1.25zM269.00 296.40h1.25v1.25h-1.25zM269.00 297.65h1.25v1.25h-1.25zM269.00 298.90h1.25v1.25h-1.25zM269.00 300.15h1.25v1.25h-1.25zM269.00 307.65h1.25v1.25h-1.25zM270.25 283.90h1.25v1.25h-1.25zM270.25 285.15h1.25v1.25h-1.25zM270.25 286.40h1.25v1.25h-1.25zM270.25 287.65h1.25v1.25h-1.25zM270.25 288.90h1.25v1.25h-1.25zM270.25 290.15h1.25v1.25h-1.25zM270.25 291.40h1.25v1.25h-1.25zM270.25 292.65h1.25v1.25h-1.25zM270.25 296.40h1.25v1.25h-1.25zM270.25 297.65h1.25v1.25h-1.25zM270.25 298.90h1.25v1.25h-1.25zM270.25 300.15h1.25v1.25h-1.25zM270.25 301.40h1.25v1.25h-1.25zM270.25 302.65h1.25v1.25h-1.25zM270.25 310.15h1.25v1.25h-1.25zM270.25 317.65h1.25v1.25h-1.25zM271.50 282.65h1.25v1.25h-1.25zM271.50 283.90h1.25v1.25h-1.25zM271.50 285.15h1.25v1.25h-1.25zM271.50 286.40h1.25v1.25h-1.25zM271.50 287.65h1.25v1.25h-1.25zM271.50 288.90h1.25v1.25h-1.25zM271.50 290.15h1.25v1.25h-1.25zM271.50 291.40h1.25v1.25h-1.25zM271.50 292.65h1.25v1.25h-1.25zM271.50 293.90h1.25v1.25h-1.25zM271.50 295.15h1.25v1.25h-1.25zM271.50 297.65h1.25v1.25h-1.25zM271.50 298.90h1.25v1.25h-1.25zM271.50 300.15h1.25v1.25h-1.25zM271.50 301.40h1.25v1.25h-1.25zM271.50 307.65h1.25v1.25h-1.25zM271.50 316.40h1.25v1.25h-1.25zM272.75 282.65h1.25v1.25h-1.25zM272.75 283.90h1.25v1.25h-1.25zM272.75 285.15h1.25v1.25h-1.25zM272.75 286.40h1.25v1.25h-1.25zM272.75 287.65h1.25v1.25h-1.25zM272.75 288.90h1.25v1.25h-1.25zM272.75 290.15h1.25v1.25h-1.25zM272.75 291.40h1.25v1.25h-1.25zM272.75 292.65h1.25v1.25h-1.25zM272.75 295.15h1.25v1.25h-1.25zM272.75 296.40h1.25v1.25h-1.25zM272.75 297.65h1.25v1.25h-1.25zM272.75 298.90h1.25v1.25h-1.25zM272.75 300.15h1.25v1.25h-1.25zM272.75 301.40h1.25v1.25h-1.25zM274.00 282.65h1.25v1.25h-1.25zM274.00 283.90h1.25v1.25h-1.25zM274.00 285.15h1.25v1.25h-1.25zM274.00 286.40h1.25v1.25h-1.25zM274.00 287.65h1.25v1.25h-1.25zM274.00 290.15h1.25v1.25h-1.25zM274.00 292.65h1.25v1.25h-1.25zM274.00 295.15h1.25v1.25h-1.25zM274.00 296.40h1.25v1.25h-1.25zM274.00 297.65h1.25v1.25h-1.25zM274.00 300.15h1.25v1.25h-1.25zM274.00 301.40h1.25v1.25h-1.25zM274.00 307.65h1.25v1.25h-1.25zM274.00 312.65h1.25v1.25h-1.25zM275.25 282.65h1.25v1.25h-1.25zM275.25 283.90h1.25v1.25h-1.25zM275.25 285.15h1.25v1.25h-1.25zM275.25 286.40h1.25v1.25h-1.25zM275.25 287.65h1.25v1.25h-1.25zM275.25 288.90h1.25v1.25h-1.25zM275.25 290.15h1.25v1.25h-1.25zM275.25 291.40h1.25v1.25h-1.25zM275.25 292.65h1.25v1.25h-1.25zM275.25 293.90h1.25v1.25h-1.25zM275.25 297.65h1.25v1.25h-1.25zM275.25 302.65h1.25v1.25h-1.25zM275.25 306.40h1.25v1.25h-1.25zM275.25 310.15h1.25v1.25h-1.25zM275.25 313.90h1.25v1.25h-1.25zM276.50 281.40h1.25v1.25h-1.25zM276.50 282.65h1.25v1.25h-1.25zM276.50 283.90h1.25v1.25h-1.25zM276.50 285.15h1.25v1.25h-1.25zM276.50 286.40h1.25v1.25h-1.25zM276.50 287.65h1.25v1.25h-1.25zM276.50 288.90h1.25v1.25h-1.25zM276.50 290.15h1.25v1.25h-1.25zM276.50 292.65h1.25v1.25h-1.25zM276.50 293.90h1.25v1.25h-1.25zM276.50 297.65h1.25v1.25h-1.25zM276.50 300.15h1.25v1.25h-1.25zM276.50 303.90h1.25v1.25h-1.25zM276.50 307.65h1.25v1.25h-1.25zM276.50 315.15h1.25v1.25h-1.25zM277.75 281.40h1.25v1.25h-1.25zM277.75 282.65h1.25v1.25h-1.25zM277.75 283.90h1.25v1.25h-1.25zM277.75 285.15h1.25v1.25h-1.25zM277.75 288.90h1.25v1.25h-1.25zM277.75 290.15h1.25v1.25h-1.25zM277.75 292.65h1.25v1.25h-1.25zM277.75 298.90h1.25v1.25h-1.25zM277.75 301.40h1.25v1.25h-1.25zM277.75 305.15h1.25v1.25h-1.25zM277.75 310.15h1.25v1.25h-1.25zM279.00 281.40h1.25v1.25h-1.25zM279.00 282.65h1.25v1.25h-1.25zM279.00 283.90h1.25v1.25h-1.25zM279.00 285.15h1.25v1.25h-1.25zM279.00 286.40h1.25v1.25h-1.25zM279.00 287.65h1.25v1.25h-1.25zM279.00 288.90h1.25v1.25h-1.25zM279.00 290.15h1.25v1.25h-1.25zM279.00 291.40h1.25v1.25h-1.25zM279.00 293.90h1.25v1.25h-1.25zM279.00 295.15h1.25v1.25h-1.25zM279.00 296.40h1.25v1.25h-1.25zM279.00 300.15h1.25v1.25h-1.25zM279.00 301.40h1.25v1.25h-1.25zM279.00 306.40h1.25v1.25h-1.25zM279.00 310.15h1.25v1.25h-1.25zM279.00 312.65h1.25v1.25h-1.25zM280.25 281.40h1.25v1.25h-1.25zM280.25 282.65h1.25v1.25h-1.25zM280.25 283.90h1.25v1.25h-1.25zM280.25 285.15h1.25v1.25h-1.25zM280.25 286.40h1.25v1.25h-1.25zM280.25 288.90h1.25v1.25h-1.25zM280.25 290.15h1.25v1.25h-1.25zM280.25 292.65h1.25v1.25h-1.25zM280.25 293.90h1.25v1.25h-1.25zM280.25 295.15h1.25v1.25h-1.25zM280.25 296.40h1.25v1.25h-1.25zM280.25 297.65h1.25v1.25h-1.25zM280.25 298.90h1.25v1.25h-1.25zM280.25 300.15h1.25v1.25h-1.25zM281.50 280.15h1.25v1.25h-1.25zM281.50 281.40h1.25v1.25h-1.25zM281.50 282.65h1.25v1.25h-1.25zM281.50 283.90h1.25v1.25h-1.25zM281.50 285.15h1.25v1.25h-1.25zM281.50 286.40h1.25v1.25h-1.25zM281.50 287.65h1.25v1.25h-1.25zM281.50 288.90h1.25v1.25h-1.25zM281.50 290.15h1.25v1.25h-1.25zM281.50 291.40h1.25v1.25h-1.25zM281.50 292.65h1.25v1.25h-1.25zM281.50 293.90h1.25v1.25h-1.25zM281.50 295.15h1.25v1.25h-1.25zM281.50 296.40h1.25v1.25h-1.25zM281.50 297.65h1.25v1.25h-1.25zM281.50 298.90h1.25v1.25h-1.25zM281.50 300.15h1.25v1.25h-1.25zM281.50 302.65h1.25v1.25h-1.25zM281.50 303.90h1.25v1.25h-1.25zM281.50 312.65h1.25v1.25h-1.25zM282.75 280.15h1.25v1.25h-1.25zM282.75 281.40h1.25v1.25h-1.25zM282.75 282.65h1.25v1.25h-1.25zM282.75 283.90h1.25v1.25h-1.25zM282.75 285.15h1.25v1.25h-1.25zM282.75 287.65h1.25v1.25h-1.25zM282.75 288.90h1.25v1.25h-1.25zM282.75 290.15h1.25v1.25h-1.25zM282.75 291.40h1.25v1.25h-1.25zM282.75 293.90h1.25v1.25h-1.25zM282.75 297.65h1.25v1.25h-1.25zM282.75 302.65h1.25v1.25h-1.25zM282.75 310.15h1.25v1.25h-1.25zM284.00 280.15h1.25v1.25h-1.25zM284.00 281.40h1.25v1.25h-1.25zM284.00 282.65h1.25v1.25h-1.25zM284.00 283.90h1.25v1.25h-1.25zM284.00 285.15h1.25v1.25h-1.25zM284.00 286.40h1.25v1.25h-1.25zM284.00 287.65h1.25v1.25h-1.25zM284.00 288.90h1.25v1.25h-1.25zM284.00 291.40h1.25v1.25h-1.25zM284.00 292.65h1.25v1.25h-1.25zM284.00 293.90h1.25v1.25h-1.25zM284.00 295.15h1.25v1.25h-1.25zM284.00 297.65h1.25v1.25h-1.25zM284.00 298.90h1.25v1.25h-1.25zM284.00 302.65h1.25v1.25h-1.25zM284.00 303.90h1.25v1.25h-1.25zM284.00 305.15h1.25v1.25h-1.25zM284.00 306.40h1.25v1.25h-1.25zM285.25 280.15h1.25v1.25h-1.25zM285.25 281.40h1.25v1.25h-1.25zM285.25 282.65h1.25v1.25h-1.25zM285.25 283.90h1.25v1.25h-1.25zM285.25 285.15h1.25v1.25h-1.25zM285.25 286.40h1.25v1.25h-1.25zM285.25 287.65h1.25v1.25h-1.25zM285.25 288.90h1.25v1.25h-1.25zM285.25 290.15h1.25v1.25h-1.25zM285.25 292.65h1.25v1.25h-1.25zM285.25 293.90h1.25v1.25h-1.25zM285.25 295.15h1.25v1.25h-1.25zM285.25 296.40h1.25v1.25h-1.25zM285.25 300.15h1.25v1.25h-1.25zM285.25 301.40h1.25v1.25h-1.25zM285.25 302.65h1.25v1.25h-1.25zM285.25 303.90h1.25v1.25h-1.25zM286.50 278.90h1.25v1.25h-1.25zM286.50 280.15h1.25v1.25h-1.25zM286.50 281.40h1.25v1.25h-1.25zM286.50 282.65h1.25v1.25h-1.25zM286.50 283.90h1.25v1.25h-1.25zM286.50 286.40h1.25v1.25h-1.25zM286.50 287.65h1.25v1.25h-1.25zM286.50 288.90h1.25v1.25h-1.25zM286.50 295.15h1.25v1.25h-1.25zM286.50 296.40h1.25v1.25h-1.25zM286.50 297.65h1.25v1.25h-1.25zM286.50 300.15h1.25v1.25h-1.25zM286.50 303.90h1.25v1.25h-1.25zM287.75 278.90h1.25v1.25h-1.25zM287.75 280.15h1.25v1.25h-1.25zM287.75 281.40h1.25v1.25h-1.25zM287.75 282.65h1.25v1.25h-1.25zM287.75 283.90h1.25v1.25h-1.25zM287.75 285.15h1.25v1.25h-1.25zM287.75 286.40h1.25v1.25h-1.25zM287.75 288.90h1.25v1.25h-1.25zM287.75 290.15h1.25v1.25h-1.25zM287.75 293.90h1.25v1.25h-1.25zM287.75 295.15h1.25v1.25h-1.25zM287.75 297.65h1.25v1.25h-1.25zM287.75 298.90h1.25v1.25h-1.25zM287.75 300.15h1.25v1.25h-1.25zM287.75 302.65h1.25v1.25h-1.25zM289.00 278.90h1.25v1.25h-1.25zM289.00 280.15h1.25v1.25h-1.25zM289.00 281.40h1.25v1.25h-1.25zM289.00 282.65h1.25v1.25h-1.25zM289.00 283.90h1.25v1.25h-1.25zM289.00 286.40h1.25v1.25h-1.25zM289.00 287.65h1.25v1.25h-1.25zM289.00 291.40h1.25v1.25h-1.25zM289.00 292.65h1.25v1.25h-1.25zM289.00 293.90h1.25v1.25h-1.25zM289.00 296.40h1.25v1.25h-1.25zM289.00 298.90h1.25v1.25h-1.25zM289.00 300.15h1.25v1.25h-1.25zM290.25 277.65h1.25v1.25h-1.25zM290.25 278.90h1.25v1.25h-1.25zM290.25 280.15h1.25v1.25h-1.25zM290.25 281.40h1.25v1.25h-1.25zM290.25 282.65h1.25v1.25h-1.25zM290.25 283.90h1.25v1.25h-1.25zM290.25 285.15h1.25v1.25h-1.25zM290.25 286.40h1.25v1.25h-1.25zM290.25 288.90h1.25v1.25h-1.25zM290.25 291.40h1.25v1.25h-1.25zM290.25 292.65h1.25v1.25h-1.25zM290.25 293.90h1.25v1.25h-1.25zM290.25 296.40h1.25v1.25h-1.25zM290.25 300.15h1.25v1.25h-1.25zM291.50 277.65h1.25v1.25h-1.25zM291.50 278.90h1.25v1.25h-1.25zM291.50 280.15h1.25v1.25h-1.25zM291.50 281.40h1.25v1.25h-1.25zM291.50 282.65h1.25v1.25h-1.25zM291.50 283.90h1.25v1.25h-1.25zM291.50 285.15h1.25v1.25h-1.25zM291.50 286.40h1.25v1.25h-1.25zM291.50 288.90h1.25v1.25h-1.25zM291.50 292.65h1.25v1.25h-1.25zM291.50 293.90h1.25v1.25h-1.25zM291.50 295.15h1.25v1.25h-1.25zM291.50 297.65h1.25v1.25h-1.25zM291.50 298.90h1.25v1.25h-1.25zM291.50 301.40h1.25v1.25h-1.25zM292.75 277.65h1.25v1.25h-1.25zM292.75 278.90h1.25v1.25h-1.25zM292.75 280.15h1.25v1.25h-1.25zM292.75 281.40h1.25v1.25h-1.25zM292.75 282.65h1.25v1.25h-1.25zM292.75 283.90h1.25v1.25h-1.25zM292.75 285.15h1.25v1.25h-1.25zM292.75 286.40h1.25v1.25h-1.25zM292.75 287.65h1.25v1.25h-1.25zM292.75 288.90h1.25v1.25h-1.25zM292.75 293.90h1.25v1.25h-1.25zM292.75 295.15h1.25v1.25h-1.25zM292.75 296.40h1.25v1.25h-1.25zM292.75 297.65h1.25v1.25h-1.25zM292.75 301.40h1.25v1.25h-1.25zM294.00 277.65h1.25v1.25h-1.25zM294.00 278.90h1.25v1.25h-1.25zM294.00 281.40h1.25v1.25h-1.25zM294.00 282.65h1.25v1.25h-1.25zM294.00 283.90h1.25v1.25h-1.25zM294.00 285.15h1.25v1.25h-1.25zM294.00 286.40h1.25v1.25h-1.25zM294.00 290.15h1.25v1.25h-1.25zM294.00 291.40h1.25v1.25h-1.25zM294.00 296.40h1.25v1.25h-1.25zM294.00 297.65h1.25v1.25h-1.25zM294.00 300.15h1.25v1.25h-1.25zM295.25 276.40h1.25v1.25h-1.25zM295.25 277.65h1.25v1.25h-1.25zM295.25 278.90h1.25v1.25h-1.25zM295.25 280.15h1.25v1.25h-1.25zM295.25 282.65h1.25v1.25h-1.25zM295.25 283.90h1.25v1.25h-1.25zM295.25 288.90h1.25v1.25h-1.25zM295.25 290.15h1.25v1.25h-1.25zM295.25 291.40h1.25v1.25h-1.25zM295.25 301.40h1.25v1.25h-1.25zM295.25 303.90h1.25v1.25h-1.25zM296.50 276.40h1.25v1.25h-1.25zM296.50 277.65h1.25v1.25h-1.25zM296.50 278.90h1.25v1.25h-1.25zM296.50 280.15h1.25v1.25h-1.25zM296.50 281.40h1.25v1.25h-1.25zM296.50 282.65h1.25v1.25h-1.25zM296.50 283.90h1.25v1.25h-1.25zM296.50 285.15h1.25v1.25h-1.25zM296.50 286.40h1.25v1.25h-1.25zM296.50 287.65h1.25v1.25h-1.25zM296.50 290.15h1.25v1.25h-1.25zM296.50 291.40h1.25v1.25h-1.25zM296.50 293.90h1.25v1.25h-1.25zM296.50 295.15h1.25v1.25h-1.25zM296.50 298.90h1.25v1.25h-1.25zM296.50 302.65h1.25v1.25h-1.25zM297.75 276.40h1.25v1.25h-1.25zM297.75 277.65h1.25v1.25h-1.25zM297.75 278.90h1.25v1.25h-1.25zM297.75 280.15h1.25v1.25h-1.25zM297.75 281.40h1.25v1.25h-1.25zM297.75 282.65h1.25v1.25h-1.25zM297.75 283.90h1.25v1.25h-1.25zM297.75 287.65h1.25v1.25h-1.25zM297.75 288.90h1.25v1.25h-1.25zM297.75 290.15h1.25v1.25h-1.25zM297.75 293.90h1.25v1.25h-1.25zM299.00 275.15h1.25v1.25h-1.25zM299.00 276.40h1.25v1.25h-1.25zM299.00 277.65h1.25v1.25h-1.25zM299.00 278.90h1.25v1.25h-1.25zM299.00 281.40h1.25v1.25h-1.25zM299.00 282.65h1.25v1.25h-1.25zM299.00 283.90h1.25v1.25h-1.25zM299.00 285.15h1.25v1.25h-1.25zM299.00 287.65h1.25v1.25h-1.25zM299.00 288.90h1.25v1.25h-1.25zM299.00 290.15h1.25v1.25h-1.25zM299.00 293.90h1.25v1.25h-1.25zM299.00 295.15h1.25v1.25h-1.25zM299.00 298.90h1.25v1.25h-1.25zM300.25 275.15h1.25v1.25h-1.25zM300.25 276.40h1.25v1.25h-1.25zM300.25 277.65h1.25v1.25h-1.25zM300.25 278.90h1.25v1.25h-1.25zM300.25 282.65h1.25v1.25h-1.25zM300.25 283.90h1.25v1.25h-1.25zM300.25 285.15h1.25v1.25h-1.25zM300.25 286.40h1.25v1.25h-1.25zM300.25 292.65h1.25v1.25h-1.25zM300.25 293.90h1.25v1.25h-1.25zM300.25 295.15h1.25v1.25h-1.25zM300.25 300.15h1.25v1.25h-1.25zM300.25 302.65h1.25v1.25h-1.25zM300.25 305.15h1.25v1.25h-1.25zM301.50 275.15h1.25v1.25h-1.25zM301.50 276.40h1.25v1.25h-1.25zM301.50 277.65h1.25v1.25h-1.25zM301.50 278.90h1.25v1.25h-1.25zM301.50 280.15h1.25v1.25h-1.25zM301.50 282.65h1.25v1.25h-1.25zM301.50 283.90h1.25v1.25h-1.25zM301.50 285.15h1.25v1.25h-1.25zM301.50 287.65h1.25v1.25h-1.25zM301.50 288.90h1.25v1.25h-1.25zM301.50 293.90h1.25v1.25h-1.25zM301.50 301.40h1.25v1.25h-1.25zM301.50 302.65h1.25v1.25h-1.25zM302.75 275.15h1.25v1.25h-1.25zM302.75 276.40h1.25v1.25h-1.25zM302.75 277.65h1.25v1.25h-1.25zM302.75 278.90h1.25v1.25h-1.25zM302.75 280.15h1.25v1.25h-1.25zM302.75 281.40h1.25v1.25h-1.25zM302.75 282.65h1.25v1.25h-1.25zM302.75 283.90h1.25v1.25h-1.25zM302.75 285.15h1.25v1.25h-1.25zM302.75 286.40h1.25v1.25h-1.25zM302.75 288.90h1.25v1.25h-1.25zM302.75 293.90h1.25v1.25h-1.25zM302.75 295.15h1.25v1.25h-1.25zM302.75 298.90h1.25v1.25h-1.25zM302.75 300.15h1.25v1.25h-1.25zM302.75 305.15h1.25v1.25h-1.25zM304.00 273.90h1.25v1.25h-1.25zM304.00 275.15h1.25v1.25h-1.25zM304.00 276.40h1.25v1.25h-1.25zM304.00 277.65h1.25v1.25h-1.25zM304.00 278.90h1.25v1.25h-1.25zM304.00 280.15h1.25v1.25h-1.25zM304.00 282.65h1.25v1.25h-1.25zM304.00 283.90h1.25v1.25h-1.25zM304.00 287.65h1.25v1.25h-1.25zM304.00 288.90h1.25v1.25h-1.25zM304.00 291.40h1.25v1.25h-1.25zM304.00 292.65h1.25v1.25h-1.25zM304.00 300.15h1.25v1.25h-1.25zM304.00 301.40h1.25v1.25h-1.25zM305.25 273.90h1.25v1.25h-1.25zM305.25 275.15h1.25v1.25h-1.25zM305.25 276.40h1.25v1.25h-1.25zM305.25 277.65h1.25v1.25h-1.25zM305.25 278.90h1.25v1.25h-1.25zM305.25 280.15h1.25v1.25h-1.25zM305.25 281.40h1.25v1.25h-1.25zM305.25 282.65h1.25v1.25h-1.25zM305.25 283.90h1.25v1.25h-1.25zM305.25 285.15h1.25v1.25h-1.25zM305.25 286.40h1.25v1.25h-1.25zM305.25 290.15h1.25v1.25h-1.25zM305.25 292.65h1.25v1.25h-1.25zM305.25 293.90h1.25v1.25h-1.25zM305.25 295.15h1.25v1.25h-1.25zM305.25 296.40h1.25v1.25h-1.25zM305.25 301.40h1.25v1.25h-1.25zM306.50 273.90h1.25v1.25h-1.25zM306.50 275.15h1.25v1.25h-1.25zM306.50 276.40h1.25v1.25h-1.25zM306.50 277.65h1.25v1.25h-1.25zM306.50 280.15h1.25v1.25h-1.25zM306.50 281.40h1.25v1.25h-1.25zM306.50 282.65h1.25v1.25h-1.25zM306.50 283.90h1.25v1.25h-1.25zM306.50 288.90h1.25v1.25h-1.25zM306.50 291.40h1.25v1.25h-1.25zM306.50 292.65h1.25v1.25h-1.25zM306.50 295.15h1.25v1.25h-1.25zM307.75 272.65h1.25v1.25h-1.25zM307.75 273.90h1.25v1.25h-1.25zM307.75 275.15h1.25v1.25h-1.25zM307.75 276.40h1.25v1.25h-1.25zM307.75 277.65h1.25v1.25h-1.25zM307.75 278.90h1.25v1.25h-1.25zM307.75 280.15h1.25v1.25h-1.25zM307.75 281.40h1.25v1.25h-1.25zM307.75 282.65h1.25v1.25h-1.25zM307.75 283.90h1.25v1.25h-1.25zM307.75 285.15h1.25v1.25h-1.25zM307.75 287.65h1.25v1.25h-1.25zM307.75 288.90h1.25v1.25h-1.25zM307.75 290.15h1.25v1.25h-1.25zM307.75 295.15h1.25v1.25h-1.25zM307.75 296.40h1.25v1.25h-1.25zM307.75 297.65h1.25v1.25h-1.25zM309.00 272.65h1.25v1.25h-1.25zM309.00 273.90h1.25v1.25h-1.25zM309.00 275.15h1.25v1.25h-1.25zM309.00 276.40h1.25v1.25h-1.25zM309.00 278.90h1.25v1.25h-1.25zM309.00 280.15h1.25v1.25h-1.25zM309.00 282.65h1.25v1.25h-1.25zM309.00 283.90h1.25v1.25h-1.25zM309.00 285.15h1.25v1.25h-1.25zM309.00 287.65h1.25v1.25h-1.25zM309.00 288.90h1.25v1.25h-1.25zM309.00 291.40h1.25v1.25h-1.25zM309.00 297.65h1.25v1.25h-1.25zM310.25 272.65h1.25v1.25h-1.25zM310.25 273.90h1.25v1.25h-1.25zM310.25 275.15h1.25v1.25h-1.25zM310.25 277.65h1.25v1.25h-1.25zM310.25 278.90h1.25v1.25h-1.25zM310.25 280.15h1.25v1.25h-1.25zM310.25 283.90h1.25v1.25h-1.25zM310.25 285.15h1.25v1.25h-1.25zM310.25 287.65h1.25v1.25h-1.25zM310.25 288.90h1.25v1.25h-1.25zM310.25 290.15h1.25v1.25h-1.25zM310.25 296.40h1.25v1.25h-1.25zM311.50 272.65h1.25v1.25h-1.25zM311.50 273.90h1.25v1.25h-1.25zM311.50 275.15h1.25v1.25h-1.25zM311.50 276.40h1.25v1.25h-1.25zM311.50 277.65h1.25v1.25h-1.25zM311.50 278.90h1.25v1.25h-1.25zM311.50 280.15h1.25v1.25h-1.25zM311.50 281.40h1.25v1.25h-1.25zM311.50 283.90h1.25v1.25h-1.25zM311.50 286.40h1.25v1.25h-1.25zM311.50 288.90h1.25v1.25h-1.25zM311.50 291.40h1.25v1.25h-1.25zM311.50 293.90h1.25v1.25h-1.25zM311.50 295.15h1.25v1.25h-1.25zM311.50 296.40h1.25v1.25h-1.25zM311.50 297.65h1.25v1.25h-1.25zM312.75 271.40h1.25v1.25h-1.25zM312.75 272.65h1.25v1.25h-1.25zM312.75 273.90h1.25v1.25h-1.25zM312.75 278.90h1.25v1.25h-1.25zM312.75 282.65h1.25v1.25h-1.25zM312.75 286.40h1.25v1.25h-1.25zM312.75 287.65h1.25v1.25h-1.25zM312.75 288.90h1.25v1.25h-1.25zM312.75 293.90h1.25v1.25h-1.25zM312.75 295.15h1.25v1.25h-1.25zM314.00 271.40h1.25v1.25h-1.25zM314.00 272.65h1.25v1.25h-1.25zM314.00 273.90h1.25v1.25h-1.25zM314.00 275.15h1.25v1.25h-1.25zM314.00 276.40h1.25v1.25h-1.25zM314.00 277.65h1.25v1.25h-1.25zM314.00 278.90h1.25v1.25h-1.25zM314.00 281.40h1.25v1.25h-1.25zM314.00 282.65h1.25v1.25h-1.25zM314.00 283.90h1.25v1.25h-1.25zM314.00 286.40h1.25v1.25h-1.25zM314.00 287.65h1.25v1.25h-1.25zM314.00 292.65h1.25v1.25h-1.25zM314.00 298.90h1.25v1.25h-1.25zM315.25 271.40h1.25v1.25h-1.25zM315.25 272.65h1.25v1.25h-1.25zM315.25 273.90h1.25v1.25h-1.25zM315.25 275.15h1.25v1.25h-1.25zM315.25 277.65h1.25v1.25h-1.25zM315.25 278.90h1.25v1.25h-1.25zM315.25 280.15h1.25v1.25h-1.25zM315.25 281.40h1.25v1.25h-1.25zM315.25 285.15h1.25v1.25h-1.25zM315.25 286.40h1.25v1.25h-1.25zM315.25 288.90h1.25v1.25h-1.25zM315.25 290.15h1.25v1.25h-1.25zM315.25 295.15h1.25v1.25h-1.25zM315.25 298.90h1.25v1.25h-1.25zM316.50 270.15h1.25v1.25h-1.25zM316.50 271.40h1.25v1.25h-1.25zM316.50 272.65h1.25v1.25h-1.25zM316.50 273.90h1.25v1.25h-1.25zM316.50 275.15h1.25v1.25h-1.25zM316.50 277.65h1.25v1.25h-1.25zM316.50 278.90h1.25v1.25h-1.25zM316.50 280.15h1.25v1.25h-1.25zM316.50 282.65h1.25v1.25h-1.25zM316.50 285.15h1.25v1.25h-1.25zM316.50 286.40h1.25v1.25h-1.25zM316.50 287.65h1.25v1.25h-1.25zM316.50 291.40h1.25v1.25h-1.25zM316.50 292.65h1.25v1.25h-1.25zM317.75 270.15h1.25v1.25h-1.25zM317.75 271.40h1.25v1.25h-1.25zM317.75 272.65h1.25v1.25h-1.25zM317.75 273.90h1.25v1.25h-1.25zM317.75 275.15h1.25v1.25h-1.25zM317.75 276.40h1.25v1.25h-1.25zM317.75 277.65h1.25v1.25h-1.25zM317.75 278.90h1.25v1.25h-1.25zM317.75 280.15h1.25v1.25h-1.25zM317.75 281.40h1.25v1.25h-1.25zM317.75 282.65h1.25v1.25h-1.25zM317.75 288.90h1.25v1.25h-1.25zM317.75 295.15h1.25v1.25h-1.25zM319.00 270.15h1.25v1.25h-1.25zM319.00 271.40h1.25v1.25h-1.25zM319.00 272.65h1.25v1.25h-1.25zM319.00 273.90h1.25v1.25h-1.25zM319.00 275.15h1.25v1.25h-1.25zM319.00 277.65h1.25v1.25h-1.25zM319.00 280.15h1.25v1.25h-1.25zM319.00 281.40h1.25v1.25h-1.25zM319.00 282.65h1.25v1.25h-1.25zM319.00 286.40h1.25v1.25h-1.25zM319.00 293.90h1.25v1.25h-1.25zM319.00 296.40h1.25v1.25h-1.25zM320.25 268.90h1.25v1.25h-1.25zM320.25 270.15h1.25v1.25h-1.25zM320.25 271.40h1.25v1.25h-1.25zM320.25 272.65h1.25v1.25h-1.25zM320.25 273.90h1.25v1.25h-1.25zM320.25 275.15h1.25v1.25h-1.25zM320.25 276.40h1.25v1.25h-1.25zM320.25 277.65h1.25v1.25h-1.25zM320.25 278.90h1.25v1.25h-1.25zM320.25 281.40h1.25v1.25h-1.25zM320.25 285.15h1.25v1.25h-1.25zM320.25 286.40h1.25v1.25h-1.25zM320.25 287.65h1.25v1.25h-1.25zM320.25 288.90h1.25v1.25h-1.25zM320.25 296.40h1.25v1.25h-1.25zM321.50 268.90h1.25v1.25h-1.25zM321.50 270.15h1.25v1.25h-1.25zM321.50 271.40h1.25v1.25h-1.25zM321.50 272.65h1.25v1.25h-1.25zM321.50 273.90h1.25v1.25h-1.25zM321.50 276.40h1.25v1.25h-1.25zM321.50 277.65h1.25v1.25h-1.25zM321.50 278.90h1.25v1.25h-1.25zM321.50 281.40h1.25v1.25h-1.25zM321.50 285.15h1.25v1.25h-1.25zM321.50 297.65h1.25v1.25h-1.25zM322.75 268.90h1.25v1.25h-1.25zM322.75 270.15h1.25v1.25h-1.25zM322.75 271.40h1.25v1.25h-1.25zM322.75 272.65h1.25v1.25h-1.25zM322.75 273.90h1.25v1.25h-1.25zM322.75 281.40h1.25v1.25h-1.25zM322.75 287.65h1.25v1.25h-1.25zM322.75 296.40h1.25v1.25h-1.25zM324.00 267.65h1.25v1.25h-1.25zM324.00 268.90h1.25v1.25h-1.25zM324.00 270.15h1.25v1.25h-1.25zM324.00 271.40h1.25v1.25h-1.25zM324.00 272.65h1.25v1.25h-1.25zM324.00 273.90h1.25v1.25h-1.25zM324.00 275.15h1.25v1.25h-1.25zM324.00 277.65h1.25v1.25h-1.25zM324.00 278.90h1.25v1.25h-1.25zM324.00 281.40h1.25v1.25h-1.25zM324.00 283.90h1.25v1.25h-1.25zM324.00 286.40h1.25v1.25h-1.25zM324.00 287.65h1.25v1.25h-1.25zM325.25 267.65h1.25v1.25h-1.25zM325.25 268.90h1.25v1.25h-1.25zM325.25 270.15h1.25v1.25h-1.25zM325.25 271.40h1.25v1.25h-1.25zM325.25 272.65h1.25v1.25h-1.25zM325.25 273.90h1.25v1.25h-1.25zM325.25 275.15h1.25v1.25h-1.25zM325.25 276.40h1.25v1.25h-1.25zM325.25 277.65h1.25v1.25h-1.25zM325.25 278.90h1.25v1.25h-1.25zM325.25 282.65h1.25v1.25h-1.25zM325.25 283.90h1.25v1.25h-1.25zM325.25 285.15h1.25v1.25h-1.25zM325.25 286.40h1.25v1.25h-1.25zM325.25 287.65h1.25v1.25h-1.25zM325.25 288.90h1.25v1.25h-1.25zM326.50 267.65h1.25v1.25h-1.25zM326.50 268.90h1.25v1.25h-1.25zM326.50 270.15h1.25v1.25h-1.25zM326.50 271.40h1.25v1.25h-1.25zM326.50 272.65h1.25v1.25h-1.25zM326.50 273.90h1.25v1.25h-1.25zM326.50 277.65h1.25v1.25h-1.25zM326.50 278.90h1.25v1.25h-1.25zM326.50 280.15h1.25v1.25h-1.25zM326.50 281.40h1.25v1.25h-1.25zM326.50 282.65h1.25v1.25h-1.25zM326.50 283.90h1.25v1.25h-1.25zM326.50 293.90h1.25v1.25h-1.25zM327.75 266.40h1.25v1.25h-1.25zM327.75 267.65h1.25v1.25h-1.25zM327.75 268.90h1.25v1.25h-1.25zM327.75 270.15h1.25v1.25h-1.25zM327.75 271.40h1.25v1.25h-1.25zM327.75 272.65h1.25v1.25h-1.25zM327.75 273.90h1.25v1.25h-1.25zM327.75 275.15h1.25v1.25h-1.25zM327.75 276.40h1.25v1.25h-1.25zM327.75 277.65h1.25v1.25h-1.25zM327.75 278.90h1.25v1.25h-1.25zM327.75 280.15h1.25v1.25h-1.25zM327.75 281.40h1.25v1.25h-1.25zM327.75 283.90h1.25v1.25h-1.25zM327.75 285.15h1.25v1.25h-1.25zM327.75 286.40h1.25v1.25h-1.25zM327.75 288.90h1.25v1.25h-1.25zM327.75 291.40h1.25v1.25h-1.25zM327.75 292.65h1.25v1.25h-1.25zM329.00 266.40h1.25v1.25h-1.25zM329.00 267.65h1.25v1.25h-1.25zM329.00 268.90h1.25v1.25h-1.25zM329.00 271.40h1.25v1.25h-1.25zM329.00 272.65h1.25v1.25h-1.25zM329.00 273.90h1.25v1.25h-1.25zM329.00 275.15h1.25v1.25h-1.25zM329.00 276.40h1.25v1.25h-1.25zM329.00 277.65h1.25v1.25h-1.25zM329.00 280.15h1.25v1.25h-1.25zM329.00 282.65h1.25v1.25h-1.25zM329.00 283.90h1.25v1.25h-1.25zM329.00 285.15h1.25v1.25h-1.25zM329.00 292.65h1.25v1.25h-1.25zM330.25 266.40h1.25v1.25h-1.25zM330.25 267.65h1.25v1.25h-1.25zM330.25 268.90h1.25v1.25h-1.25zM330.25 270.15h1.25v1.25h-1.25zM330.25 272.65h1.25v1.25h-1.25zM330.25 273.90h1.25v1.25h-1.25zM330.25 275.15h1.25v1.25h-1.25zM330.25 281.40h1.25v1.25h-1.25zM331.50 265.15h1.25v1.25h-1.25zM331.50 266.40h1.25v1.25h-1.25zM331.50 267.65h1.25v1.25h-1.25zM331.50 268.90h1.25v1.25h-1.25zM331.50 270.15h1.25v1.25h-1.25zM331.50 271.40h1.25v1.25h-1.25zM331.50 272.65h1.25v1.25h-1.25zM331.50 273.90h1.25v1.25h-1.25zM331.50 276.40h1.25v1.25h-1.25zM331.50 277.65h1.25v1.25h-1.25zM331.50 278.90h1.25v1.25h-1.25zM331.50 280.15h1.25v1.25h-1.25zM331.50 282.65h1.25v1.25h-1.25zM331.50 290.15h1.25v1.25h-1.25zM331.50 291.40h1.25v1.25h-1.25zM332.75 265.15h1.25v1.25h-1.25zM332.75 266.40h1.25v1.25h-1.25zM332.75 267.65h1.25v1.25h-1.25zM332.75 268.90h1.25v1.25h-1.25zM332.75 270.15h1.25v1.25h-1.25zM332.75 271.40h1.25v1.25h-1.25zM332.75 272.65h1.25v1.25h-1.25zM332.75 273.90h1.25v1.25h-1.25zM332.75 275.15h1.25v1.25h-1.25zM332.75 277.65h1.25v1.25h-1.25zM332.75 278.90h1.25v1.25h-1.25zM332.75 281.40h1.25v1.25h-1.25zM332.75 285.15h1.25v1.25h-1.25zM332.75 286.40h1.25v1.25h-1.25zM332.75 287.65h1.25v1.25h-1.25zM332.75 288.90h1.25v1.25h-1.25zM332.75 292.65h1.25v1.25h-1.25zM334.00 265.15h1.25v1.25h-1.25zM334.00 266.40h1.25v1.25h-1.25zM334.00 267.65h1.25v1.25h-1.25zM334.00 268.90h1.25v1.25h-1.25zM334.00 270.15h1.25v1.25h-1.25zM334.00 271.40h1.25v1.25h-1.25zM334.00 273.90h1.25v1.25h-1.25zM334.00 275.15h1.25v1.25h-1.25zM334.00 276.40h1.25v1.25h-1.25zM334.00 280.15h1.25v1.25h-1.25zM334.00 281.40h1.25v1.25h-1.25zM334.00 282.65h1.25v1.25h-1.25zM335.25 263.90h1.25v1.25h-1.25zM335.25 265.15h1.25v1.25h-1.25zM335.25 266.40h1.25v1.25h-1.25zM335.25 268.90h1.25v1.25h-1.25zM335.25 270.15h1.25v1.25h-1.25zM335.25 271.40h1.25v1.25h-1.25zM335.25 272.65h1.25v1.25h-1.25zM335.25 275.15h1.25v1.25h-1.25zM335.25 276.40h1.25v1.25h-1.25zM335.25 277.65h1.25v1.25h-1.25zM335.25 278.90h1.25v1.25h-1.25zM335.25 281.40h1.25v1.25h-1.25zM335.25 287.65h1.25v1.25h-1.25zM336.50 263.90h1.25v1.25h-1.25zM336.50 265.15h1.25v1.25h-1.25zM336.50 266.40h1.25v1.25h-1.25zM336.50 267.65h1.25v1.25h-1.25zM336.50 268.90h1.25v1.25h-1.25zM336.50 270.15h1.25v1.25h-1.25zM336.50 271.40h1.25v1.25h-1.25zM336.50 272.65h1.25v1.25h-1.25zM336.50 273.90h1.25v1.25h-1.25zM336.50 275.15h1.25v1.25h-1.25zM336.50 276.40h1.25v1.25h-1.25zM336.50 278.90h1.25v1.25h-1.25zM336.50 288.90h1.25v1.25h-1.25zM337.75 263.90h1.25v1.25h-1.25zM337.75 265.15h1.25v1.25h-1.25zM337.75 266.40h1.25v1.25h-1.25zM337.75 267.65h1.25v1.25h-1.25zM337.75 268.90h1.25v1.25h-1.25zM337.75 270.15h1.25v1.25h-1.25zM337.75 271.40h1.25v1.25h-1.25zM337.75 272.65h1.25v1.25h-1.25zM337.75 273.90h1.25v1.25h-1.25zM337.75 277.65h1.25v1.25h-1.25zM337.75 281.40h1.25v1.25h-1.25zM337.75 286.40h1.25v1.25h-1.25zM339.00 262.65h1.25v1.25h-1.25zM339.00 263.90h1.25v1.25h-1.25zM339.00 265.15h1.25v1.25h-1.25zM339.00 266.40h1.25v1.25h-1.25zM339.00 267.65h1.25v1.25h-1.25zM339.00 270.15h1.25v1.25h-1.25zM339.00 271.40h1.25v1.25h-1.25zM339.00 272.65h1.25v1.25h-1.25zM339.00 273.90h1.25v1.25h-1.25zM339.00 276.40h1.25v1.25h-1.25zM339.00 277.65h1.25v1.25h-1.25zM339.00 280.15h1.25v1.25h-1.25zM339.00 282.65h1.25v1.25h-1.25zM339.00 283.90h1.25v1.25h-1.25zM339.00 286.40h1.25v1.25h-1.25zM340.25 262.65h1.25v1.25h-1.25zM340.25 263.90h1.25v1.25h-1.25zM340.25 265.15h1.25v1.25h-1.25zM340.25 266.40h1.25v1.25h-1.25zM340.25 268.90h1.25v1.25h-1.25zM340.25 270.15h1.25v1.25h-1.25zM340.25 271.40h1.25v1.25h-1.25zM340.25 272.65h1.25v1.25h-1.25zM340.25 273.90h1.25v1.25h-1.25zM340.25 275.15h1.25v1.25h-1.25zM340.25 281.40h1.25v1.25h-1.25zM340.25 282.65h1.25v1.25h-1.25zM341.50 262.65h1.25v1.25h-1.25zM341.50 265.15h1.25v1.25h-1.25zM341.50 266.40h1.25v1.25h-1.25zM341.50 268.90h1.25v1.25h-1.25zM341.50 271.40h1.25v1.25h-1.25zM341.50 272.65h1.25v1.25h-1.25zM341.50 273.90h1.25v1.25h-1.25zM341.50 278.90h1.25v1.25h-1.25zM341.50 285.15h1.25v1.25h-1.25zM342.75 261.40h1.25v1.25h-1.25zM342.75 262.65h1.25v1.25h-1.25zM342.75 263.90h1.25v1.25h-1.25zM342.75 265.15h1.25v1.25h-1.25zM342.75 266.40h1.25v1.25h-1.25zM342.75 270.15h1.25v1.25h-1.25zM342.75 271.40h1.25v1.25h-1.25zM342.75 277.65h1.25v1.25h-1.25zM342.75 278.90h1.25v1.25h-1.25zM342.75 280.15h1.25v1.25h-1.25zM342.75 282.65h1.25v1.25h-1.25zM344.00 261.40h1.25v1.25h-1.25zM344.00 262.65h1.25v1.25h-1.25zM344.00 263.90h1.25v1.25h-1.25zM344.00 265.15h1.25v1.25h-1.25zM344.00 266.40h1.25v1.25h-1.25zM344.00 268.90h1.25v1.25h-1.25zM344.00 272.65h1.25v1.25h-1.25zM344.00 273.90h1.25v1.25h-1.25zM344.00 276.40h1.25v1.25h-1.25zM344.00 280.15h1.25v1.25h-1.25zM344.00 282.65h1.25v1.25h-1.25zM345.25 261.40h1.25v1.25h-1.25zM345.25 262.65h1.25v1.25h-1.25zM345.25 263.90h1.25v1.25h-1.25zM345.25 265.15h1.25v1.25h-1.25zM345.25 267.65h1.25v1.25h-1.25zM345.25 268.90h1.25v1.25h-1.25zM345.25 270.15h1.25v1.25h-1.25zM345.25 271.40h1.25v1.25h-1.25zM345.25 272.65h1.25v1.25h-1.25zM345.25 273.90h1.25v1.25h-1.25zM345.25 282.65h1.25v1.25h-1.25zM346.50 260.15h1.25v1.25h-1.25zM346.50 261.40h1.25v1.25h-1.25zM346.50 262.65h1.25v1.25h-1.25zM346.50 263.90h1.25v1.25h-1.25zM346.50 265.15h1.25v1.25h-1.25zM346.50 266.40h1.25v1.25h-1.25zM346.50 268.90h1.25v1.25h-1.25zM346.50 270.15h1.25v1.25h-1.25zM346.50 271.40h1.25v1.25h-1.25zM346.50 277.65h1.25v1.25h-1.25zM346.50 280.15h1.25v1.25h-1.25zM346.50 281.40h1.25v1.25h-1.25zM347.75 260.15h1.25v1.25h-1.25zM347.75 261.40h1.25v1.25h-1.25zM347.75 262.65h1.25v1.25h-1.25zM347.75 263.90h1.25v1.25h-1.25zM347.75 266.40h1.25v1.25h-1.25zM347.75 267.65h1.25v1.25h-1.25zM347.75 268.90h1.25v1.25h-1.25zM347.75 270.15h1.25v1.25h-1.25zM347.75 271.40h1.25v1.25h-1.25zM347.75 273.90h1.25v1.25h-1.25zM347.75 276.40h1.25v1.25h-1.25zM347.75 285.15h1.25v1.25h-1.25zM349.00 260.15h1.25v1.25h-1.25zM349.00 261.40h1.25v1.25h-1.25zM349.00 262.65h1.25v1.25h-1.25zM349.00 263.90h1.25v1.25h-1.25zM349.00 265.15h1.25v1.25h-1.25zM349.00 266.40h1.25v1.25h-1.25zM349.00 268.90h1.25v1.25h-1.25zM349.00 270.15h1.25v1.25h-1.25zM349.00 271.40h1.25v1.25h-1.25zM349.00 276.40h1.25v1.25h-1.25zM349.00 277.65h1.25v1.25h-1.25zM349.00 278.90h1.25v1.25h-1.25zM349.00 285.15h1.25v1.25h-1.25zM350.25 258.90h1.25v1.25h-1.25zM350.25 260.15h1.25v1.25h-1.25zM350.25 261.40h1.25v1.25h-1.25zM350.25 262.65h1.25v1.25h-1.25zM350.25 263.90h1.25v1.25h-1.25zM350.25 265.15h1.25v1.25h-1.25zM350.25 267.65h1.25v1.25h-1.25zM350.25 268.90h1.25v1.25h-1.25zM350.25 271.40h1.25v1.25h-1.25zM350.25 272.65h1.25v1.25h-1.25zM350.25 275.15h1.25v1.25h-1.25zM350.25 276.40h1.25v1.25h-1.25zM350.25 278.90h1.25v1.25h-1.25zM351.50 258.90h1.25v1.25h-1.25zM351.50 260.15h1.25v1.25h-1.25zM351.50 261.40h1.25v1.25h-1.25zM351.50 262.65h1.25v1.25h-1.25zM351.50 263.90h1.25v1.25h-1.25zM351.50 266.40h1.25v1.25h-1.25zM351.50 268.90h1.25v1.25h-1.25zM351.50 271.40h1.25v1.25h-1.25zM351.50 276.40h1.25v1.25h-1.25zM351.50 277.65h1.25v1.25h-1.25zM352.75 258.90h1.25v1.25h-1.25zM352.75 260.15h1.25v1.25h-1.25zM352.75 261.40h1.25v1.25h-1.25zM352.75 262.65h1.25v1.25h-1.25zM352.75 263.90h1.25v1.25h-1.25zM352.75 266.40h1.25v1.25h-1.25zM352.75 270.15h1.25v1.25h-1.25zM352.75 271.40h1.25v1.25h-1.25zM352.75 272.65h1.25v1.25h-1.25zM352.75 273.90h1.25v1.25h-1.25zM352.75 283.90h1.25v1.25h-1.25zM354.00 257.65h1.25v1.25h-1.25zM354.00 258.90h1.25v1.25h-1.25zM354.00 260.15h1.25v1.25h-1.25zM354.00 261.40h1.25v1.25h-1.25zM354.00 262.65h1.25v1.25h-1.25zM354.00 263.90h1.25v1.25h-1.25zM354.00 265.15h1.25v1.25h-1.25zM354.00 267.65h1.25v1.25h-1.25zM354.00 268.90h1.25v1.25h-1.25zM354.00 270.15h1.25v1.25h-1.25zM354.00 275.15h1.25v1.25h-1.25zM355.25 257.65h1.25v1.25h-1.25zM355.25 258.90h1.25v1.25h-1.25zM355.25 260.15h1.25v1.25h-1.25zM355.25 261.40h1.25v1.25h-1.25zM355.25 262.65h1.25v1.25h-1.25zM355.25 263.90h1.25v1.25h-1.25zM355.25 265.15h1.25v1.25h-1.25zM355.25 266.40h1.25v1.25h-1.25zM355.25 267.65h1.25v1.25h-1.25zM355.25 268.90h1.25v1.25h-1.25zM355.25 270.15h1.25v1.25h-1.25zM355.25 271.40h1.25v1.25h-1.25zM355.25 273.90h1.25v1.25h-1.25zM355.25 276.40h1.25v1.25h-1.25zM356.50 256.40h1.25v1.25h-1.25zM356.50 257.65h1.25v1.25h-1.25zM356.50 258.90h1.25v1.25h-1.25zM356.50 260.15h1.25v1.25h-1.25zM356.50 261.40h1.25v1.25h-1.25zM356.50 263.90h1.25v1.25h-1.25zM356.50 268.90h1.25v1.25h-1.25zM356.50 270.15h1.25v1.25h-1.25zM356.50 272.65h1.25v1.25h-1.25zM356.50 273.90h1.25v1.25h-1.25zM356.50 275.15h1.25v1.25h-1.25zM356.50 276.40h1.25v1.25h-1.25zM357.75 256.40h1.25v1.25h-1.25zM357.75 257.65h1.25v1.25h-1.25zM357.75 258.90h1.25v1.25h-1.25zM357.75 260.15h1.25v1.25h-1.25zM357.75 261.40h1.25v1.25h-1.25zM357.75 265.15h1.25v1.25h-1.25zM357.75 268.90h1.25v1.25h-1.25zM357.75 271.40h1.25v1.25h-1.25zM359.00 256.40h1.25v1.25h-1.25zM359.00 257.65h1.25v1.25h-1.25zM359.00 258.90h1.25v1.25h-1.25zM359.00 260.15h1.25v1.25h-1.25zM359.00 262.65h1.25v1.25h-1.25zM359.00 263.90h1.25v1.25h-1.25zM359.00 265.15h1.25v1.25h-1.25zM359.00 266.40h1.25v1.25h-1.25zM359.00 267.65h1.25v1.25h-1.25zM359.00 268.90h1.25v1.25h-1.25zM359.00 270.15h1.25v1.25h-1.25zM359.00 272.65h1.25v1.25h-1.25zM360.25 255.15h1.25v1.25h-1.25zM360.25 256.40h1.25v1.25h-1.25zM360.25 257.65h1.25v1.25h-1.25zM360.25 258.90h1.25v1.25h-1.25zM360.25 260.15h1.25v1.25h-1.25zM360.25 261.40h1.25v1.25h-1.25zM360.25 262.65h1.25v1.25h-1.25zM360.25 265.15h1.25v1.25h-1.25zM360.25 266.40h1.25v1.25h-1.25zM360.25 267.65h1.25v1.25h-1.25zM360.25 270.15h1.25v1.25h-1.25zM360.25 271.40h1.25v1.25h-1.25zM360.25 276.40h1.25v1.25h-1.25zM361.50 255.15h1.25v1.25h-1.25zM361.50 256.40h1.25v1.25h-1.25zM361.50 257.65h1.25v1.25h-1.25zM361.50 258.90h1.25v1.25h-1.25zM361.50 260.15h1.25v1.25h-1.25zM361.50 261.40h1.25v1.25h-1.25zM361.50 262.65h1.25v1.25h-1.25zM361.50 266.40h1.25v1.25h-1.25zM361.50 270.15h1.25v1.25h-1.25zM361.50 271.40h1.25v1.25h-1.25zM361.50 272.65h1.25v1.25h-1.25zM362.75 255.15h1.25v1.25h-1.25zM362.75 256.40h1.25v1.25h-1.25zM362.75 258.90h1.25v1.25h-1.25zM362.75 260.15h1.25v1.25h-1.25zM362.75 263.90h1.25v1.25h-1.25zM362.75 265.15h1.25v1.25h-1.25zM362.75 267.65h1.25v1.25h-1.25zM364.00 253.90h1.25v1.25h-1.25zM364.00 255.15h1.25v1.25h-1.25zM364.00 256.40h1.25v1.25h-1.25zM364.00 257.65h1.25v1.25h-1.25zM364.00 258.90h1.25v1.25h-1.25zM364.00 260.15h1.25v1.25h-1.25zM364.00 261.40h1.25v1.25h-1.25zM364.00 265.15h1.25v1.25h-1.25zM364.00 267.65h1.25v1.25h-1.25zM364.00 268.90h1.25v1.25h-1.25zM365.25 253.90h1.25v1.25h-1.25zM365.25 255.15h1.25v1.25h-1.25zM365.25 256.40h1.25v1.25h-1.25zM365.25 257.65h1.25v1.25h-1.25zM365.25 258.90h1.25v1.25h-1.25zM365.25 260.15h1.25v1.25h-1.25zM365.25 262.65h1.25v1.25h-1.25zM365.25 263.90h1.25v1.25h-1.25zM365.25 265.15h1.25v1.25h-1.25zM365.25 268.90h1.25v1.25h-1.25zM365.25 271.40h1.25v1.25h-1.25zM365.25 272.65h1.25v1.25h-1.25zM365.25 276.40h1.25v1.25h-1.25zM366.50 252.65h1.25v1.25h-1.25zM366.50 253.90h1.25v1.25h-1.25zM366.50 255.15h1.25v1.25h-1.25zM366.50 257.65h1.25v1.25h-1.25zM366.50 261.40h1.25v1.25h-1.25zM366.50 262.65h1.25v1.25h-1.25zM366.50 265.15h1.25v1.25h-1.25zM367.75 252.65h1.25v1.25h-1.25zM367.75 253.90h1.25v1.25h-1.25zM367.75 255.15h1.25v1.25h-1.25zM367.75 256.40h1.25v1.25h-1.25zM367.75 257.65h1.25v1.25h-1.25zM367.75 258.90h1.25v1.25h-1.25zM367.75 260.15h1.25v1.25h-1.25zM367.75 261.40h1.25v1.25h-1.25zM367.75 262.65h1.25v1.25h-1.25zM367.75 267.65h1.25v1.25h-1.25zM367.75 268.90h1.25v1.25h-1.25zM367.75 272.65h1.25v1.25h-1.25zM369.00 252.65h1.25v1.25h-1.25zM369.00 253.90h1.25v1.25h-1.25zM369.00 255.15h1.25v1.25h-1.25zM369.00 256.40h1.25v1.25h-1.25zM369.00 257.65h1.25v1.25h-1.25zM369.00 258.90h1.25v1.25h-1.25zM369.00 260.15h1.25v1.25h-1.25zM369.00 262.65h1.25v1.25h-1.25zM369.00 263.90h1.25v1.25h-1.25zM369.00 266.40h1.25v1.25h-1.25zM369.00 267.65h1.25v1.25h-1.25zM369.00 271.40h1.25v1.25h-1.25zM370.25 251.40h1.25v1.25h-1.25zM370.25 252.65h1.25v1.25h-1.25zM370.25 253.90h1.25v1.25h-1.25zM370.25 255.15h1.25v1.25h-1.25zM370.25 257.65h1.25v1.25h-1.25zM370.25 258.90h1.25v1.25h-1.25zM370.25 260.15h1.25v1.25h-1.25zM370.25 261.40h1.25v1.25h-1.25zM370.25 262.65h1.25v1.25h-1.25zM370.25 263.90h1.25v1.25h-1.25zM370.25 265.15h1.25v1.25h-1.25zM370.25 272.65h1.25v1.25h-1.25zM371.50 251.40h1.25v1.25h-1.25zM371.50 252.65h1.25v1.25h-1.25zM371.50 253.90h1.25v1.25h-1.25zM371.50 255.15h1.25v1.25h-1.25zM371.50 256.40h1.25v1.25h-1.25zM371.50 257.65h1.25v1.25h-1.25zM371.50 262.65h1.25v1.25h-1.25zM371.50 263.90h1.25v1.25h-1.25zM371.50 268.90h1.25v1.25h-1.25zM372.75 250.15h1.25v1.25h-1.25zM372.75 251.40h1.25v1.25h-1.25zM372.75 252.65h1.25v1.25h-1.25zM372.75 253.90h1.25v1.25h-1.25zM372.75 257.65h1.25v1.25h-1.25zM372.75 258.90h1.25v1.25h-1.25zM372.75 260.15h1.25v1.25h-1.25zM372.75 261.40h1.25v1.25h-1.25zM372.75 262.65h1.25v1.25h-1.25zM372.75 263.90h1.25v1.25h-1.25zM372.75 266.40h1.25v1.25h-1.25zM372.75 268.90h1.25v1.25h-1.25zM374.00 250.15h1.25v1.25h-1.25zM374.00 251.40h1.25v1.25h-1.25zM374.00 252.65h1.25v1.25h-1.25zM374.00 253.90h1.25v1.25h-1.25zM374.00 255.15h1.25v1.25h-1.25zM374.00 256.40h1.25v1.25h-1.25zM374.00 258.90h1.25v1.25h-1.25zM374.00 261.40h1.25v1.25h-1.25zM374.00 271.40h1.25v1.25h-1.25zM375.25 250.15h1.25v1.25h-1.25zM375.25 251.40h1.25v1.25h-1.25zM375.25 252.65h1.25v1.25h-1.25zM375.25 256.40h1.25v1.25h-1.25zM375.25 257.65h1.25v1.25h-1.25zM375.25 258.90h1.25v1.25h-1.25zM375.25 260.15h1.25v1.25h-1.25zM375.25 261.40h1.25v1.25h-1.25zM376.50 248.90h1.25v1.25h-1.25zM376.50 250.15h1.25v1.25h-1.25zM376.50 251.40h1.25v1.25h-1.25zM376.50 253.90h1.25v1.25h-1.25zM376.50 255.15h1.25v1.25h-1.25zM376.50 257.65h1.25v1.25h-1.25zM376.50 262.65h1.25v1.25h-1.25zM377.75 248.90h1.25v1.25h-1.25zM377.75 250.15h1.25v1.25h-1.25zM377.75 251.40h1.25v1.25h-1.25zM377.75 253.90h1.25v1.25h-1.25zM377.75 255.15h1.25v1.25h-1.25zM377.75 256.40h1.25v1.25h-1.25zM377.75 257.65h1.25v1.25h-1.25zM377.75 261.40h1.25v1.25h-1.25zM377.75 263.90h1.25v1.25h-1.25zM377.75 265.15h1.25v1.25h-1.25zM379.00 247.65h1.25v1.25h-1.25zM379.00 248.90h1.25v1.25h-1.25zM379.00 250.15h1.25v1.25h-1.25zM379.00 251.40h1.25v1.25h-1.25zM379.00 252.65h1.25v1.25h-1.25zM379.00 253.90h1.25v1.25h-1.25zM379.00 256.40h1.25v1.25h-1.25zM379.00 260.15h1.25v1.25h-1.25zM379.00 265.15h1.25v1.25h-1.25zM380.25 247.65h1.25v1.25h-1.25zM380.25 248.90h1.25v1.25h-1.25zM380.25 251.40h1.25v1.25h-1.25zM380.25 252.65h1.25v1.25h-1.25zM380.25 253.90h1.25v1.25h-1.25zM380.25 255.15h1.25v1.25h-1.25zM380.25 256.40h1.25v1.25h-1.25zM380.25 258.90h1.25v1.25h-1.25zM380.25 260.15h1.25v1.25h-1.25zM380.25 263.90h1.25v1.25h-1.25zM380.25 265.15h1.25v1.25h-1.25zM380.25 267.65h1.25v1.25h-1.25zM381.50 247.65h1.25v1.25h-1.25zM381.50 248.90h1.25v1.25h-1.25zM381.50 250.15h1.25v1.25h-1.25zM381.50 251.40h1.25v1.25h-1.25zM381.50 252.65h1.25v1.25h-1.25zM381.50 253.90h1.25v1.25h-1.25zM381.50 255.15h1.25v1.25h-1.25zM381.50 256.40h1.25v1.25h-1.25zM381.50 258.90h1.25v1.25h-1.25zM381.50 260.15h1.25v1.25h-1.25zM382.75 246.40h1.25v1.25h-1.25zM382.75 247.65h1.25v1.25h-1.25zM382.75 248.90h1.25v1.25h-1.25zM382.75 250.15h1.25v1.25h-1.25zM382.75 251.40h1.25v1.25h-1.25zM382.75 252.65h1.25v1.25h-1.25zM382.75 253.90h1.25v1.25h-1.25zM382.75 255.15h1.25v1.25h-1.25zM382.75 256.40h1.25v1.25h-1.25zM382.75 263.90h1.25v1.25h-1.25zM384.00 246.40h1.25v1.25h-1.25zM384.00 247.65h1.25v1.25h-1.25zM384.00 248.90h1.25v1.25h-1.25zM384.00 250.15h1.25v1.25h-1.25zM384.00 251.40h1.25v1.25h-1.25zM384.00 252.65h1.25v1.25h-1.25zM384.00 253.90h1.25v1.25h-1.25zM384.00 255.15h1.25v1.25h-1.25zM384.00 260.15h1.25v1.25h-1.25zM384.00 261.40h1.25v1.25h-1.25zM384.00 265.15h1.25v1.25h-1.25zM385.25 245.15h1.25v1.25h-1.25zM385.25 246.40h1.25v1.25h-1.25zM385.25 247.65h1.25v1.25h-1.25zM385.25 248.90h1.25v1.25h-1.25zM385.25 250.15h1.25v1.25h-1.25zM385.25 252.65h1.25v1.25h-1.25zM385.25 253.90h1.25v1.25h-1.25zM385.25 255.15h1.25v1.25h-1.25zM385.25 257.65h1.25v1.25h-1.25zM385.25 261.40h1.25v1.25h-1.25zM386.50 245.15h1.25v1.25h-1.25zM386.50 246.40h1.25v1.25h-1.25zM386.50 247.65h1.25v1.25h-1.25zM386.50 248.90h1.25v1.25h-1.25zM386.50 250.15h1.25v1.25h-1.25zM386.50 251.40h1.25v1.25h-1.25zM386.50 252.65h1.25v1.25h-1.25zM386.50 253.90h1.25v1.25h-1.25zM386.50 255.15h1.25v1.25h-1.25zM386.50 256.40h1.25v1.25h-1.25zM386.50 257.65h1.25v1.25h-1.25zM386.50 258.90h1.25v1.25h-1.25zM386.50 260.15h1.25v1.25h-1.25zM386.50 262.65h1.25v1.25h-1.25zM387.75 243.90h1.25v1.25h-1.25zM387.75 245.15h1.25v1.25h-1.25zM387.75 246.40h1.25v1.25h-1.25zM387.75 247.65h1.25v1.25h-1.25zM387.75 248.90h1.25v1.25h-1.25zM387.75 253.90h1.25v1.25h-1.25zM387.75 255.15h1.25v1.25h-1.25zM387.75 257.65h1.25v1.25h-1.25zM387.75 258.90h1.25v1.25h-1.25zM387.75 260.15h1.25v1.25h-1.25zM387.75 261.40h1.25v1.25h-1.25zM387.75 262.65h1.25v1.25h-1.25zM389.00 243.90h1.25v1.25h-1.25zM389.00 245.15h1.25v1.25h-1.25zM389.00 246.40h1.25v1.25h-1.25zM389.00 248.90h1.25v1.25h-1.25zM389.00 250.15h1.25v1.25h-1.25zM389.00 252.65h1.25v1.25h-1.25zM389.00 256.40h1.25v1.25h-1.25zM390.25 243.90h1.25v1.25h-1.25zM390.25 245.15h1.25v1.25h-1.25zM390.25 246.40h1.25v1.25h-1.25zM390.25 247.65h1.25v1.25h-1.25zM390.25 248.90h1.25v1.25h-1.25zM390.25 250.15h1.25v1.25h-1.25zM390.25 252.65h1.25v1.25h-1.25zM390.25 257.65h1.25v1.25h-1.25zM391.50 242.65h1.25v1.25h-1.25zM391.50 243.90h1.25v1.25h-1.25zM391.50 245.15h1.25v1.25h-1.25zM391.50 247.65h1.25v1.25h-1.25zM391.50 248.90h1.25v1.25h-1.25zM391.50 250.15h1.25v1.25h-1.25zM391.50 252.65h1.25v1.25h-1.25zM391.50 255.15h1.25v1.25h-1.25zM392.75 242.65h1.25v1.25h-1.25zM392.75 243.90h1.25v1.25h-1.25zM392.75 245.15h1.25v1.25h-1.25zM392.75 246.40h1.25v1.25h-1.25zM392.75 247.65h1.25v1.25h-1.25zM392.75 248.90h1.25v1.25h-1.25zM392.75 253.90h1.25v1.25h-1.25zM392.75 260.15h1.25v1.25h-1.25zM392.75 262.65h1.25v1.25h-1.25zM394.00 241.40h1.25v1.25h-1.25zM394.00 243.90h1.25v1.25h-1.25zM394.00 246.40h1.25v1.25h-1.25zM394.00 247.65h1.25v1.25h-1.25zM394.00 252.65h1.25v1.25h-1.25zM394.00 253.90h1.25v1.25h-1.25zM394.00 257.65h1.25v1.25h-1.25zM395.25 241.40h1.25v1.25h-1.25zM395.25 242.65h1.25v1.25h-1.25zM395.25 243.90h1.25v1.25h-1.25zM395.25 245.15h1.25v1.25h-1.25zM395.25 246.40h1.25v1.25h-1.25zM395.25 247.65h1.25v1.25h-1.25zM395.25 248.90h1.25v1.25h-1.25zM395.25 252.65h1.25v1.25h-1.25zM395.25 253.90h1.25v1.25h-1.25zM395.25 256.40h1.25v1.25h-1.25zM395.25 261.40h1.25v1.25h-1.25zM396.50 240.15h1.25v1.25h-1.25zM396.50 241.40h1.25v1.25h-1.25zM396.50 242.65h1.25v1.25h-1.25zM396.50 243.90h1.25v1.25h-1.25zM396.50 245.15h1.25v1.25h-1.25zM396.50 246.40h1.25v1.25h-1.25zM396.50 247.65h1.25v1.25h-1.25zM396.50 248.90h1.25v1.25h-1.25zM396.50 250.15h1.25v1.25h-1.25zM396.50 257.65h1.25v1.25h-1.25zM397.75 240.15h1.25v1.25h-1.25zM397.75 241.40h1.25v1.25h-1.25zM397.75 242.65h1.25v1.25h-1.25zM397.75 243.90h1.25v1.25h-1.25zM397.75 245.15h1.25v1.25h-1.25zM397.75 250.15h1.25v1.25h-1.25zM397.75 253.90h1.25v1.25h-1.25zM397.75 258.90h1.25v1.25h-1.25zM399.00 240.15h1.25v1.25h-1.25zM399.00 241.40h1.25v1.25h-1.25zM399.00 242.65h1.25v1.25h-1.25zM399.00 243.90h1.25v1.25h-1.25zM399.00 245.15h1.25v1.25h-1.25zM399.00 252.65h1.25v1.25h-1.25zM400.25 238.90h1.25v1.25h-1.25zM400.25 240.15h1.25v1.25h-1.25zM400.25 241.40h1.25v1.25h-1.25zM400.25 242.65h1.25v1.25h-1.25zM400.25 243.90h1.25v1.25h-1.25zM400.25 246.40h1.25v1.25h-1.25zM400.25 247.65h1.25v1.25h-1.25zM400.25 248.90h1.25v1.25h-1.25zM400.25 250.15h1.25v1.25h-1.25zM400.25 251.40h1.25v1.25h-1.25zM400.25 252.65h1.25v1.25h-1.25zM401.50 238.90h1.25v1.25h-1.25zM401.50 240.15h1.25v1.25h-1.25zM401.50 241.40h1.25v1.25h-1.25zM401.50 242.65h1.25v1.25h-1.25zM401.50 243.90h1.25v1.25h-1.25zM401.50 250.15h1.25v1.25h-1.25zM402.75 237.65h1.25v1.25h-1.25zM402.75 238.90h1.25v1.25h-1.25zM402.75 240.15h1.25v1.25h-1.25zM402.75 241.40h1.25v1.25h-1.25zM402.75 242.65h1.25v1.25h-1.25zM402.75 245.15h1.25v1.25h-1.25zM402.75 246.40h1.25v1.25h-1.25zM402.75 248.90h1.25v1.25h-1.25zM402.75 252.65h1.25v1.25h-1.25zM402.75 253.90h1.25v1.25h-1.25zM404.00 237.65h1.25v1.25h-1.25zM404.00 238.90h1.25v1.25h-1.25zM404.00 240.15h1.25v1.25h-1.25zM404.00 241.40h1.25v1.25h-1.25zM404.00 242.65h1.25v1.25h-1.25zM404.00 243.90h1.25v1.25h-1.25zM404.00 245.15h1.25v1.25h-1.25zM404.00 246.40h1.25v1.25h-1.25zM404.00 247.65h1.25v1.25h-1.25zM404.00 251.40h1.25v1.25h-1.25zM405.25 236.40h1.25v1.25h-1.25zM405.25 237.65h1.25v1.25h-1.25zM405.25 238.90h1.25v1.25h-1.25zM405.25 240.15h1.25v1.25h-1.25zM405.25 241.40h1.25v1.25h-1.25zM405.25 242.65h1.25v1.25h-1.25zM405.25 245.15h1.25v1.25h-1.25zM405.25 246.40h1.25v1.25h-1.25zM405.25 247.65h1.25v1.25h-1.25zM406.50 236.40h1.25v1.25h-1.25zM406.50 237.65h1.25v1.25h-1.25zM406.50 238.90h1.25v1.25h-1.25zM406.50 240.15h1.25v1.25h-1.25zM406.50 241.40h1.25v1.25h-1.25zM406.50 242.65h1.25v1.25h-1.25zM406.50 245.15h1.25v1.25h-1.25zM406.50 246.40h1.25v1.25h-1.25zM406.50 247.65h1.25v1.25h-1.25zM406.50 253.90h1.25v1.25h-1.25zM407.75 235.15h1.25v1.25h-1.25zM407.75 236.40h1.25v1.25h-1.25zM407.75 237.65h1.25v1.25h-1.25zM407.75 238.90h1.25v1.25h-1.25zM407.75 242.65h1.25v1.25h-1.25zM407.75 245.15h1.25v1.25h-1.25zM407.75 246.40h1.25v1.25h-1.25zM407.75 248.90h1.25v1.25h-1.25zM407.75 251.40h1.25v1.25h-1.25zM409.00 235.15h1.25v1.25h-1.25zM409.00 236.40h1.25v1.25h-1.25zM409.00 238.90h1.25v1.25h-1.25zM409.00 240.15h1.25v1.25h-1.25zM409.00 241.40h1.25v1.25h-1.25zM409.00 242.65h1.25v1.25h-1.25zM409.00 243.90h1.25v1.25h-1.25zM409.00 246.40h1.25v1.25h-1.25zM410.25 233.90h1.25v1.25h-1.25zM410.25 235.15h1.25v1.25h-1.25zM410.25 236.40h1.25v1.25h-1.25zM410.25 237.65h1.25v1.25h-1.25zM410.25 238.90h1.25v1.25h-1.25zM410.25 240.15h1.25v1.25h-1.25zM410.25 242.65h1.25v1.25h-1.25zM410.25 243.90h1.25v1.25h-1.25zM410.25 246.40h1.25v1.25h-1.25zM411.50 233.90h1.25v1.25h-1.25zM411.50 235.15h1.25v1.25h-1.25zM411.50 236.40h1.25v1.25h-1.25zM411.50 237.65h1.25v1.25h-1.25zM411.50 238.90h1.25v1.25h-1.25zM411.50 240.15h1.25v1.25h-1.25zM411.50 241.40h1.25v1.25h-1.25zM411.50 242.65h1.25v1.25h-1.25zM411.50 245.15h1.25v1.25h-1.25zM412.75 233.90h1.25v1.25h-1.25zM412.75 235.15h1.25v1.25h-1.25zM412.75 236.40h1.25v1.25h-1.25zM412.75 237.65h1.25v1.25h-1.25zM412.75 240.15h1.25v1.25h-1.25zM412.75 241.40h1.25v1.25h-1.25zM414.00 232.65h1.25v1.25h-1.25zM414.00 233.90h1.25v1.25h-1.25zM414.00 235.15h1.25v1.25h-1.25zM414.00 236.40h1.25v1.25h-1.25zM414.00 238.90h1.25v1.25h-1.25zM414.00 240.15h1.25v1.25h-1.25zM414.00 241.40h1.25v1.25h-1.25zM414.00 243.90h1.25v1.25h-1.25zM414.00 248.90h1.25v1.25h-1.25zM414.00 250.15h1.25v1.25h-1.25zM415.25 232.65h1.25v1.25h-1.25zM415.25 233.90h1.25v1.25h-1.25zM415.25 236.40h1.25v1.25h-1.25zM415.25 237.65h1.25v1.25h-1.25zM415.25 238.90h1.25v1.25h-1.25zM415.25 241.40h1.25v1.25h-1.25zM415.25 246.40h1.25v1.25h-1.25zM416.50 231.40h1.25v1.25h-1.25zM416.50 232.65h1.25v1.25h-1.25zM416.50 233.90h1.25v1.25h-1.25zM416.50 235.15h1.25v1.25h-1.25zM416.50 236.40h1.25v1.25h-1.25zM416.50 241.40h1.25v1.25h-1.25zM417.75 231.40h1.25v1.25h-1.25zM417.75 232.65h1.25v1.25h-1.25zM417.75 233.90h1.25v1.25h-1.25zM417.75 235.15h1.25v1.25h-1.25zM417.75 236.40h1.25v1.25h-1.25zM417.75 237.65h1.25v1.25h-1.25zM417.75 238.90h1.25v1.25h-1.25zM417.75 240.15h1.25v1.25h-1.25zM417.75 242.65h1.25v1.25h-1.25zM419.00 230.15h1.25v1.25h-1.25zM419.00 231.40h1.25v1.25h-1.25zM419.00 232.65h1.25v1.25h-1.25zM419.00 233.90h1.25v1.25h-1.25zM419.00 235.15h1.25v1.25h-1.25zM419.00 237.65h1.25v1.25h-1.25zM419.00 238.90h1.25v1.25h-1.25zM419.00 241.40h1.25v1.25h-1.25zM420.25 230.15h1.25v1.25h-1.25zM420.25 231.40h1.25v1.25h-1.25zM420.25 232.65h1.25v1.25h-1.25zM420.25 233.90h1.25v1.25h-1.25zM420.25 235.15h1.25v1.25h-1.25zM420.25 236.40h1.25v1.25h-1.25zM420.25 237.65h1.25v1.25h-1.25zM421.50 228.90h1.25v1.25h-1.25zM421.50 230.15h1.25v1.25h-1.25zM421.50 231.40h1.25v1.25h-1.25zM421.50 233.90h1.25v1.25h-1.25zM421.50 235.15h1.25v1.25h-1.25zM421.50 242.65h1.25v1.25h-1.25zM422.75 228.90h1.25v1.25h-1.25zM422.75 230.15h1.25v1.25h-1.25zM422.75 231.40h1.25v1.25h-1.25zM422.75 232.65h1.25v1.25h-1.25zM422.75 235.15h1.25v1.25h-1.25zM422.75 236.40h1.25v1.25h-1.25zM422.75 238.90h1.25v1.25h-1.25zM422.75 245.15h1.25v1.25h-1.25zM424.00 227.65h1.25v1.25h-1.25zM424.00 228.90h1.25v1.25h-1.25zM424.00 230.15h1.25v1.25h-1.25zM424.00 231.40h1.25v1.25h-1.25zM424.00 232.65h1.25v1.25h-1.25zM424.00 233.90h1.25v1.25h-1.25zM424.00 236.40h1.25v1.25h-1.25zM424.00 237.65h1.25v1.25h-1.25zM424.00 242.65h1.25v1.25h-1.25zM425.25 227.65h1.25v1.25h-1.25zM425.25 228.90h1.25v1.25h-1.25zM425.25 230.15h1.25v1.25h-1.25zM425.25 232.65h1.25v1.25h-1.25zM425.25 233.90h1.25v1.25h-1.25zM425.25 236.40h1.25v1.25h-1.25zM426.50 226.40h1.25v1.25h-1.25zM426.50 227.65h1.25v1.25h-1.25zM426.50 228.90h1.25v1.25h-1.25zM426.50 230.15h1.25v1.25h-1.25zM426.50 231.40h1.25v1.25h-1.25zM426.50 232.65h1.25v1.25h-1.25zM426.50 235.15h1.25v1.25h-1.25zM426.50 236.40h1.25v1.25h-1.25zM426.50 238.90h1.25v1.25h-1.25zM427.75 226.40h1.25v1.25h-1.25zM427.75 227.65h1.25v1.25h-1.25zM427.75 228.90h1.25v1.25h-1.25zM427.75 230.15h1.25v1.25h-1.25zM427.75 233.90h1.25v1.25h-1.25zM429.00 225.15h1.25v1.25h-1.25zM429.00 226.40h1.25v1.25h-1.25zM429.00 227.65h1.25v1.25h-1.25zM429.00 228.90h1.25v1.25h-1.25zM429.00 230.15h1.25v1.25h-1.25zM429.00 231.40h1.25v1.25h-1.25zM429.00 235.15h1.25v1.25h-1.25zM430.25 225.15h1.25v1.25h-1.25zM430.25 226.40h1.25v1.25h-1.25zM430.25 227.65h1.25v1.25h-1.25zM430.25 231.40h1.25v1.25h-1.25zM430.25 233.90h1.25v1.25h-1.25zM431.50 223.90h1.25v1.25h-1.25zM431.50 225.15h1.25v1.25h-1.25zM431.50 226.40h1.25v1.25h-1.25zM431.50 227.65h1.25v1.25h-1.25zM431.50 228.90h1.25v1.25h-1.25zM431.50 233.90h1.25v1.25h-1.25zM432.75 223.90h1.25v1.25h-1.25zM432.75 225.15h1.25v1.25h-1.25zM432.75 226.40h1.25v1.25h-1.25zM432.75 227.65h1.25v1.25h-1.25zM432.75 228.90h1.25v1.25h-1.25zM432.75 231.40h1.25v1.25h-1.25zM432.75 233.90h1.25v1.25h-1.25zM432.75 237.65h1.25v1.25h-1.25zM434.00 222.65h1.25v1.25h-1.25zM434.00 223.90h1.25v1.25h-1.25zM434.00 225.15h1.25v1.25h-1.25zM434.00 226.40h1.25v1.25h-1.25zM434.00 232.65h1.25v1.25h-1.25zM434.00 233.90h1.25v1.25h-1.25zM434.00 235.15h1.25v1.25h-1.25zM435.25 222.65h1.25v1.25h-1.25zM435.25 223.90h1.25v1.25h-1.25zM435.25 225.15h1.25v1.25h-1.25zM435.25 227.65h1.25v1.25h-1.25zM435.25 233.90h1.25v1.25h-1.25zM435.25 235.15h1.25v1.25h-1.25zM436.50 221.40h1.25v1.25h-1.25zM436.50 222.65h1.25v1.25h-1.25zM436.50 223.90h1.25v1.25h-1.25zM436.50 225.15h1.25v1.25h-1.25zM436.50 227.65h1.25v1.25h-1.25zM436.50 228.90h1.25v1.25h-1.25zM436.50 230.15h1.25v1.25h-1.25zM436.50 233.90h1.25v1.25h-1.25zM437.75 221.40h1.25v1.25h-1.25zM437.75 222.65h1.25v1.25h-1.25zM437.75 225.15h1.25v1.25h-1.25zM437.75 230.15h1.25v1.25h-1.25zM439.00 220.15h1.25v1.25h-1.25zM439.00 221.40h1.25v1.25h-1.25zM439.00 222.65h1.25v1.25h-1.25zM439.00 223.90h1.25v1.25h-1.25zM439.00 227.65h1.25v1.25h-1.25zM439.00 228.90h1.25v1.25h-1.25zM439.00 232.65h1.25v1.25h-1.25zM440.25 220.15h1.25v1.25h-1.25zM440.25 222.65h1.25v1.25h-1.25zM440.25 223.90h1.25v1.25h-1.25zM440.25 225.15h1.25v1.25h-1.25zM440.25 226.40h1.25v1.25h-1.25zM440.25 228.90h1.25v1.25h-1.25zM440.25 232.65h1.25v1.25h-1.25zM441.50 218.90h1.25v1.25h-1.25zM441.50 220.15h1.25v1.25h-1.25zM441.50 222.65h1.25v1.25h-1.25zM441.50 225.15h1.25v1.25h-1.25zM442.75 218.90h1.25v1.25h-1.25zM442.75 220.15h1.25v1.25h-1.25zM442.75 221.40h1.25v1.25h-1.25zM442.75 223.90h1.25v1.25h-1.25zM442.75 225.15h1.25v1.25h-1.25zM442.75 226.40h1.25v1.25h-1.25zM442.75 231.40h1.25v1.25h-1.25zM444.00 217.65h1.25v1.25h-1.25zM444.00 218.90h1.25v1.25h-1.25zM444.00 220.15h1.25v1.25h-1.25zM444.00 222.65h1.25v1.25h-1.25zM444.00 225.15h1.25v1.25h-1.25zM444.00 226.40h1.25v1.25h-1.25zM445.25 217.65h1.25v1.25h-1.25zM445.25 218.90h1.25v1.25h-1.25zM445.25 220.15h1.25v1.25h-1.25zM445.25 222.65h1.25v1.25h-1.25zM445.25 226.40h1.25v1.25h-1.25zM446.50 216.40h1.25v1.25h-1.25zM446.50 217.65h1.25v1.25h-1.25zM446.50 218.90h1.25v1.25h-1.25zM446.50 220.15h1.25v1.25h-1.25zM446.50 221.40h1.25v1.25h-1.25zM446.50 223.90h1.25v1.25h-1.25zM446.50 225.15h1.25v1.25h-1.25zM447.75 216.40h1.25v1.25h-1.25zM447.75 218.90h1.25v1.25h-1.25zM447.75 221.40h1.25v1.25h-1.25zM449.00 215.15h1.25v1.25h-1.25zM449.00 216.40h1.25v1.25h-1.25zM449.00 217.65h1.25v1.25h-1.25zM449.00 218.90h1.25v1.25h-1.25zM450.25 215.15h1.25v1.25h-1.25zM450.25 216.40h1.25v1.25h-1.25zM450.25 217.65h1.25v1.25h-1.25zM450.25 218.90h1.25v1.25h-1.25zM450.25 220.15h1.25v1.25h-1.25zM451.50 213.90h1.25v1.25h-1.25zM451.50 215.15h1.25v1.25h-1.25zM451.50 216.40h1.25v1.25h-1.25zM451.50 217.65h1.25v1.25h-1.25zM451.50 218.90h1.25v1.25h-1.25zM451.50 220.15h1.25v1.25h-1.25zM451.50 221.40h1.25v1.25h-1.25zM452.75 213.90h1.25v1.25h-1.25zM452.75 215.15h1.25v1.25h-1.25zM452.75 216.40h1.25v1.25h-1.25zM452.75 217.65h1.25v1.25h-1.25zM452.75 218.90h1.25v1.25h-1.25zM454.00 212.65h1.25v1.25h-1.25zM454.00 213.90h1.25v1.25h-1.25zM454.00 215.15h1.25v1.25h-1.25zM454.00 216.40h1.25v1.25h-1.25zM454.00 218.90h1.25v1.25h-1.25zM454.00 220.15h1.25v1.25h-1.25zM455.25 211.40h1.25v1.25h-1.25zM455.25 212.65h1.25v1.25h-1.25zM455.25 213.90h1.25v1.25h-1.25zM455.25 215.15h1.25v1.25h-1.25zM455.25 217.65h1.25v1.25h-1.25zM456.50 211.40h1.25v1.25h-1.25zM456.50 212.65h1.25v1.25h-1.25zM456.50 213.90h1.25v1.25h-1.25zM456.50 216.40h1.25v1.25h-1.25zM456.50 217.65h1.25v1.25h-1.25zM456.50 218.90h1.25v1.25h-1.25zM457.75 210.15h1.25v1.25h-1.25zM457.75 212.65h1.25v1.25h-1.25zM457.75 213.90h1.25v1.25h-1.25zM457.75 215.15h1.25v1.25h-1.25zM459.00 210.15h1.25v1.25h-1.25zM459.00 211.40h1.25v1.25h-1.25zM459.00 212.65h1.25v1.25h-1.25zM459.00 213.90h1.25v1.25h-1.25zM459.00 215.15h1.25v1.25h-1.25zM460.25 208.90h1.25v1.25h-1.25zM460.25 210.15h1.25v1.25h-1.25zM460.25 211.40h1.25v1.25h-1.25zM460.25 212.65h1.25v1.25h-1.25zM460.25 213.90h1.25v1.25h-1.25zM460.25 215.15h1.25v1.25h-1.25zM460.25 217.65h1.25v1.25h-1.25zM461.50 208.90h1.25v1.25h-1.25zM461.50 210.15h1.25v1.25h-1.25zM461.50 213.90h1.25v1.25h-1.25zM461.50 215.15h1.25v1.25h-1.25zM461.50 216.40h1.25v1.25h-1.25zM461.50 217.65h1.25v1.25h-1.25zM462.75 207.65h1.25v1.25h-1.25zM462.75 208.90h1.25v1.25h-1.25zM462.75 211.40h1.25v1.25h-1.25zM462.75 212.65h1.25v1.25h-1.25zM462.75 213.90h1.25v1.25h-1.25zM462.75 215.15h1.25v1.25h-1.25zM464.00 207.65h1.25v1.25h-1.25zM464.00 208.90h1.25v1.25h-1.25zM464.00 210.15h1.25v1.25h-1.25zM465.25 206.40h1.25v1.25h-1.25zM465.25 207.65h1.25v1.25h-1.25zM465.25 208.90h1.25v1.25h-1.25zM465.25 210.15h1.25v1.25h-1.25zM465.25 211.40h1.25v1.25h-1.25zM466.50 206.40h1.25v1.25h-1.25zM466.50 207.65h1.25v1.25h-1.25zM466.50 208.90h1.25v1.25h-1.25zM466.50 210.15h1.25v1.25h-1.25zM466.50 211.40h1.25v1.25h-1.25zM467.75 205.15h1.25v1.25h-1.25zM467.75 206.40h1.25v1.25h-1.25zM467.75 207.65h1.25v1.25h-1.25zM467.75 208.90h1.25v1.25h-1.25zM467.75 210.15h1.25v1.25h-1.25zM467.75 211.40h1.25v1.25h-1.25zM469.00 203.90h1.25v1.25h-1.25zM469.00 205.15h1.25v1.25h-1.25zM469.00 206.40h1.25v1.25h-1.25zM469.00 211.40h1.25v1.25h-1.25zM469.00 212.65h1.25v1.25h-1.25zM470.25 203.90h1.25v1.25h-1.25zM470.25 205.15h1.25v1.25h-1.25zM470.25 206.40h1.25v1.25h-1.25zM470.25 208.90h1.25v1.25h-1.25zM470.25 212.65h1.25v1.25h-1.25zM471.50 202.65h1.25v1.25h-1.25zM471.50 203.90h1.25v1.25h-1.25zM471.50 205.15h1.25v1.25h-1.25zM471.50 206.40h1.25v1.25h-1.25zM471.50 207.65h1.25v1.25h-1.25zM471.50 208.90h1.25v1.25h-1.25zM472.75 202.65h1.25v1.25h-1.25zM472.75 210.15h1.25v1.25h-1.25zM474.00 201.40h1.25v1.25h-1.25zM474.00 202.65h1.25v1.25h-1.25zM474.00 206.40h1.25v1.25h-1.25zM475.25 201.40h1.25v1.25h-1.25zM475.25 205.15h1.25v1.25h-1.25zM476.50 202.65h1.25v1.25h-1.25zM477.75 198.90h1.25v1.25h-1.25zM477.75 200.15h1.25v1.25h-1.25zM477.75 201.40h1.25v1.25h-1.25zM477.75 202.65h1.25v1.25h-1.25zM477.75 203.90h1.25v1.25h-1.25zM477.75 205.15h1.25v1.25h-1.25zM479.00 198.90h1.25v1.25h-1.25zM479.00 200.15h1.25v1.25h-1.25zM479.00 201.40h1.25v1.25h-1.25zM479.00 203.90h1.25v1.25h-1.25zM480.25 197.65h1.25v1.25h-1.25zM480.25 198.90h1.25v1.25h-1.25zM481.50 197.65h1.25v1.25h-1.25zM481.50 198.90h1.25v1.25h-1.25zM481.50 200.15h1.25v1.25h-1.25zM481.50 202.65h1.25v1.25h-1.25zM482.75 196.40h1.25v1.25h-1.25zM482.75 197.65h1.25v1.25h-1.25zM482.75 198.90h1.25v1.25h-1.25zM482.75 200.15h1.25v1.25h-1.25zM482.75 201.40h1.25v1.25h-1.25zM484.00 195.15h1.25v1.25h-1.25zM484.00 196.40h1.25v1.25h-1.25zM484.00 200.15h1.25v1.25h-1.25zM485.25 195.15h1.25v1.25h-1.25zM485.25 196.40h1.25v1.25h-1.25zM485.25 197.65h1.25v1.25h-1.25zM486.50 193.90h1.25v1.25h-1.25zM486.50 195.15h1.25v1.25h-1.25zM486.50 197.65h1.25v1.25h-1.25zM487.75 195.15h1.25v1.25h-1.25zM487.75 196.40h1.25v1.25h-1.25zM489.00 192.65h1.25v1.25h-1.25zM490.25 195.15h1.25v1.25h-1.25zM490.25 196.40h1.25v1.25h-1.25zM490.25 197.65h1.25v1.25h-1.25zM491.50 191.40h1.25v1.25h-1.25zM491.50 192.65h1.25v1.25h-1.25zM491.50 193.90h1.25v1.25h-1.25zM492.75 190.15h1.25v1.25h-1.25zM492.75 191.40h1.25v1.25h-1.25zM492.75 192.65h1.25v1.25h-1.25zM494.00 190.15h1.25v1.25h-1.25zM495.25 188.90h1.25v1.25h-1.25zM495.25 190.15h1.25v1.25h-1.25zM495.25 192.65h1.25v1.25h-1.25zM496.50 188.90h1.25v1.25h-1.25zM496.50 190.15h1.25v1.25h-1.25zM496.50 191.40h1.25v1.25h-1.25zM496.50 192.65h1.25v1.25h-1.25zM497.75 187.65h1.25v1.25h-1.25zM497.75 188.90h1.25v1.25h-1.25zM497.75 190.15h1.25v1.25h-1.25zM499.00 186.40h1.25v1.25h-1.25zM500.25 186.40h1.25v1.25h-1.25zM500.25 187.65h1.25v1.25h-1.25zM500.25 190.15h1.25v1.25h-1.25zM501.50 185.15h1.25v1.25h-1.25zM501.50 186.40h1.25v1.25h-1.25zM502.75 183.90h1.25v1.25h-1.25zM502.75 185.15h1.25v1.25h-1.25zM504.00 185.15h1.25v1.25h-1.25zM505.25 182.65h1.25v1.25h-1.25zM505.25 183.90h1.25v1.25h-1.25zM506.50 182.65h1.25v1.25h-1.25zM506.50 183.90h1.25v1.25h-1.25zM507.75 181.40h1.25v1.25h-1.25zM507.75 182.65h1.25v1.25h-1.25zM509.00 180.15h1.25v1.25h-1.25zM509.00 181.40h1.25v1.25h-1.25zM509.00 182.65h1.25v1.25h-1.25zM510.25 180.15h1.25v1.25h-1.25zM510.25 181.40h1.25v1.25h-1.25zM511.50 178.90h1.25v1.25h-1.25zM511.50 181.40h1.25v1.25h-1.25zM512.75 177.65h1.25v1.25h-1.25zM512.75 178.90h1.25v1.25h-1.25zM515.25 176.40h1.25v1.25h-1.25zM515.25 177.65h1.25v1.25h-1.25zM516.50 177.65h1.25v1.25h-1.25zM520.25 173.90h1.25v1.25h-1.25zM521.50 172.65h1.25v1.25h-1.25zM521.50 173.90h1.25v1.25h-1.25zM522.75 171.40h1.25v1.25h-1.25zM524.00 171.40h1.25v1.25h-1.25zM525.25 170.15h1.25v1.25h-1.25zM525.25 171.40h1.25v1.25h-1.25zM526.50 168.90h1.25v1.25h-1.25zM529.00 167.65h1.25v1.25h-1.25zM530.25 166.40h1.25v1.25h-1.25zM536.50 162.65h1.25v1.25h-1.25zM537.75 161.40h1.25v1.25h-1.25zM541.50 158.90h1.25v1.25h-1.25z" fill="#223dfa"/>
</g>
<path d="M332.6 29.9V265.0M546.1 29.9V155.9H766.0999999999999M124.3 611.3H766.0999999999999" stroke="#f3ff0c" stroke-width="4.5" fill="none" stroke-linecap="round" stroke-linejoin="miter"/><polyline points="124.0,307.6 131.0,306.9 138.1,306.1 145.1,305.2 152.1,304.4 159.2,303.4 166.2,302.5 173.2,301.5 180.3,300.5 187.3,299.4 194.4,298.3 201.4,297.1 208.4,295.9 215.5,294.6 222.5,293.3 229.5,292.0 236.6,290.5 243.6,289.1 250.6,287.5 257.7,285.9 264.7,284.3 271.7,282.6 278.8,280.8 285.8,279.0 292.8,277.1 299.9,275.1 306.9,273.0 314.0,270.9 321.0,268.7 328.0,266.5 335.1,264.1 342.1,261.7 349.1,259.2 356.2,256.6 363.2,254.0 370.2,251.3 377.3,248.5 384.3,245.6 391.3,242.6 398.4,239.5 405.4,236.4 412.4,233.2 419.5,229.8 426.5,226.4 433.6,223.0 440.6,219.4 447.6,215.7 454.7,212.0 461.7,208.2 468.7,204.3 475.8,200.3 482.8,196.2 489.8,192.1 496.9,187.8 503.9,183.5 510.9,179.1 518.0,174.6 525.0,170.1 532.0,165.4 539.1,160.7 546.1,155.9" stroke="#f3ff0c" stroke-width="4.5" fill="none" stroke-linecap="round" stroke-linejoin="round"/><polyline points="124.0,383.7 131.0,382.1 138.1,380.5 145.1,378.8 152.1,377.0 159.2,375.2 166.2,373.3 173.2,371.3 180.3,369.3 187.3,367.2 194.4,365.0 201.4,362.8 208.4,360.5 215.5,358.1 222.5,355.6 229.5,353.0 236.6,350.4 243.6,347.7 250.6,344.9 257.7,342.0 264.7,339.1 271.7,336.0 278.8,332.9 285.8,329.7 292.8,326.4 299.9,323.0 306.9,319.6 314.0,316.0 321.0,312.4 328.0,308.7 335.1,304.9 342.1,301.0 349.1,297.0 356.2,293.0 363.2,288.9 370.2,284.6 377.3,280.3 384.3,276.0 391.3,271.5 398.4,267.0 405.4,262.4 412.4,257.7 419.5,252.9 426.5,248.1 433.6,243.2 440.6,238.2 447.6,233.1 454.7,228.0 461.7,222.8 468.7,217.6 475.8,212.2 482.8,206.9 489.8,201.4 496.9,195.9 503.9,190.4 510.9,184.8 518.0,179.1 525.0,173.4 532.0,167.6 539.1,161.8 546.1,155.9" stroke="#f3ff0c" stroke-width="4.5" fill="none" stroke-linecap="round" stroke-linejoin="round"/>
<line x1="124.3" y1="671.2" x2="766.9" y2="28.8" stroke="#22221a" stroke-width="1.45" stroke-dasharray="2.1 9.01"/>
<path d="M603.5 33.7V149.3" stroke="#fff" stroke-width="2.6" fill="none" stroke-dasharray="8.9 8.9"/>
<path d="M602.6 149.3H766.8" stroke="#fff" stroke-width="2.6" fill="none" stroke-dasharray="9.6 8.2"/>
<text x="182.6" y="94.4" font-size="19.76" fill="#f3ff0c" stroke="#f3ff0c" text-anchor="start" word-spacing="0.6">M only</text>
<text x="388.2" y="81.2" font-size="19.76" fill="#f3ff0c" stroke="#f3ff0c" text-anchor="start" word-spacing="0.6">Coexistence</text>
<text x="399.4" y="108.6" font-size="19.76" fill="#f3ff0c" stroke="#f3ff0c" text-anchor="start" word-spacing="0.6">of U and M</text>
<text x="619.3" y="93.9" font-size="19.76" fill="#f3ff0c" stroke="#f3ff0c" text-anchor="start" word-spacing="0.6">U only</text>
<text x="559.4" y="138.2" font-size="19.76" fill="#fff" stroke="#fff" text-anchor="start" word-spacing="0.6">PD</text>
<text x="618.4" y="138.2" font-size="19.76" fill="#fff" stroke="#fff" text-anchor="start" word-spacing="0.6">No conflict</text>
<text x="153.9" y="340.5" font-size="19.76" fill="#f3ff0c" stroke="#f3ff0c" text-anchor="start" word-spacing="0.6">Bistability</text>
<text x="388.2" y="415.7" font-size="19.76" fill="#f3ff0c" stroke="#f3ff0c" text-anchor="start" word-spacing="0.6">Coexistence</text>
<text x="401.1" y="443.1" font-size="19.76" fill="#f3ff0c" stroke="#f3ff0c" text-anchor="start" word-spacing="0.6">of U and F</text>
<text x="419.1" y="651.1" font-size="19.76" fill="#f3ff0c" stroke="#f3ff0c" text-anchor="start" word-spacing="0.6">F only</text>
<rect x="110.6" y="15.6" width="669.5" height="669.2" fill="none" stroke="#2a2a2a" stroke-width="1.55"/>
<path d="M211.4 684.85v-13M211.4 15.6v13M110.6 584.1h13M780.1 584.1h-13M312.1 684.85v-13M312.1 15.6v13M110.6 483.4h13M780.1 483.4h-13M371.1 684.85v-13M371.1 15.6v13M110.6 424.5h13M780.1 424.5h-13M412.9 684.85v-13M412.9 15.6v13M110.6 382.7h13M780.1 382.7h-13M445.4 684.85v-13M445.4 15.6v13M110.6 350.2h13M780.1 350.2h-13M546.1 684.85v-13M546.1 15.6v13M110.6 249.5h13M780.1 249.5h-13M646.9 684.85v-13M646.9 15.6v13M110.6 148.8h13M780.1 148.8h-13M705.8 684.85v-13M705.8 15.6v13M110.6 89.8h13M780.1 89.8h-13M747.7 684.85v-13M747.7 15.6v13M110.6 48.0h13M780.1 48.0h-13" stroke="#2a2a2a" stroke-width="1.55" fill="none"/>
<text x="110.6" y="719.6" font-size="19.4" text-anchor="middle" fill="#111" stroke="#111">0.01</text>
<text x="211.4" y="719.6" font-size="19.4" text-anchor="middle" fill="#111" stroke="#111">0.02</text>
<text x="312.1" y="719.6" font-size="19.4" text-anchor="middle" fill="#111" stroke="#111">0.04</text>
<text x="445.4" y="719.6" font-size="19.4" text-anchor="middle" fill="#111" stroke="#111">0.10</text>
<text x="546.1" y="719.6" font-size="19.4" text-anchor="middle" fill="#111" stroke="#111">0.20</text>
<text x="646.9" y="719.6" font-size="19.4" text-anchor="middle" fill="#111" stroke="#111">0.40</text>
<text x="780.1" y="719.6" font-size="19.4" text-anchor="middle" fill="#111" stroke="#111">1.00</text>
<text x="95.8" y="691.7" font-size="19.4" text-anchor="end" fill="#111" stroke="#111">0.01</text>
<text x="95.8" y="591.0" font-size="19.4" text-anchor="end" fill="#111" stroke="#111">0.02</text>
<text x="95.8" y="490.2" font-size="19.4" text-anchor="end" fill="#111" stroke="#111">0.04</text>
<text x="95.8" y="431.3" font-size="19.4" text-anchor="end" fill="#111" stroke="#111">0.06</text>
<text x="95.8" y="389.5" font-size="19.4" text-anchor="end" fill="#111" stroke="#111">0.08</text>
<text x="95.8" y="357.1" font-size="19.4" text-anchor="end" fill="#111" stroke="#111">0.10</text>
<text x="95.8" y="256.3" font-size="19.4" text-anchor="end" fill="#111" stroke="#111">0.20</text>
<text x="95.8" y="155.6" font-size="19.4" text-anchor="end" fill="#111" stroke="#111">0.40</text>
<text x="95.8" y="96.7" font-size="19.4" text-anchor="end" fill="#111" stroke="#111">0.60</text>
<text x="95.8" y="54.9" font-size="19.4" text-anchor="end" fill="#111" stroke="#111">0.80</text>
<text x="95.8" y="22.4" font-size="19.4" text-anchor="end" fill="#111" stroke="#111">1.00</text>
<text x="445.3" y="741.9" font-size="19.76" text-anchor="middle" fill="#111" stroke="#111" word-spacing="0.6">Cost of M mask <tspan font-style="italic">γ</tspan><tspan font-style="italic" font-size="14.2" dy="4.6">M</tspan><tspan dy="-4.6"> / Risk Λ</tspan></text>
<text transform="translate(21.0,350.8) rotate(-90)" font-size="19.76" text-anchor="middle" fill="#111" stroke="#111" word-spacing="1.1">Cost of F mask <tspan font-style="italic">γ</tspan><tspan font-style="italic" font-size="14.2" dy="4.6">F</tspan><tspan dy="-4.6"> / Risk Λ</tspan></text>
<defs>
<clipPath id="c2"><rect x="124.0" y="776.9" width="642.8" height="643.1"/></clipPath>
<linearGradient id="gs" gradientUnits="userSpaceOnUse" x1="334" y1="0" x2="546" y2="0">
<stop offset="0.0000" stop-color="#ffffff"/>
<stop offset="0.0283" stop-color="#fdfdfd"/>
<stop offset="0.1085" stop-color="#f8f9f9"/>
<stop offset="0.1981" stop-color="#ecefef"/>
<stop offset="0.2877" stop-color="#dde2e2"/>
<stop offset="0.3774" stop-color="#cbd2d2"/>
<stop offset="0.4623" stop-color="#b5bebe"/>
<stop offset="0.5519" stop-color="#9ca8a8"/>
<stop offset="0.6415" stop-color="#828f8f"/>
<stop offset="0.7264" stop-color="#5c6969"/>
<stop offset="0.8160" stop-color="#374040"/>
<stop offset="0.9057" stop-color="#181c1c"/>
<stop offset="0.9764" stop-color="#0b0c0c"/>
<stop offset="1.0000" stop-color="#090a0a"/>
</linearGradient>
<linearGradient id="gp" gradientUnits="userSpaceOnUse" x1="546" y1="0" x2="604" y2="0">
<stop offset="0.0000" stop-color="#090a0a"/>
<stop offset="0.1034" stop-color="#121515"/>
<stop offset="0.2414" stop-color="#212727"/>
<stop offset="0.3621" stop-color="#353e3e"/>
<stop offset="0.5000" stop-color="#566262"/>
<stop offset="0.6207" stop-color="#788585"/>
<stop offset="0.7241" stop-color="#9fabab"/>
<stop offset="0.8103" stop-color="#c2caca"/>
<stop offset="0.8966" stop-color="#e3e7e7"/>
<stop offset="0.9483" stop-color="#f4f5f5"/>
<stop offset="1.0000" stop-color="#ffffff"/>
</linearGradient>
<linearGradient id="gl" gradientUnits="userSpaceOnUse" x1="0" y1="903" x2="0" y2="1235">
<stop offset="0.0000" stop-color="#c9d1d1"/>
<stop offset="0.1416" stop-color="#d6dbdb"/>
<stop offset="0.2831" stop-color="#e1e5e5"/>
<stop offset="0.4428" stop-color="#ecefef"/>
<stop offset="0.5873" stop-color="#f4f5f5"/>
<stop offset="0.7440" stop-color="#fbfbfb"/>
<stop offset="0.8946" stop-color="#fefefe"/>
<stop offset="1.0000" stop-color="#ffffff"/>
</linearGradient>
<linearGradient id="gm" gradientUnits="userSpaceOnUse" x1="370" y1="0" x2="620" y2="0">
<stop offset="0.0000" stop-color="#000000"/>
<stop offset="0.1200" stop-color="#1a1a1a"/>
<stop offset="0.2000" stop-color="#333333"/>
<stop offset="0.2800" stop-color="#525252"/>
<stop offset="0.3480" stop-color="#737373"/>
<stop offset="0.4400" stop-color="#9e9e9e"/>
<stop offset="0.5200" stop-color="#cccccc"/>
<stop offset="0.6000" stop-color="#ebebeb"/>
<stop offset="0.7040" stop-color="#ffffff"/>
<stop offset="1.0000" stop-color="#ffffff"/>
</linearGradient>
<mask id="mk" maskUnits="userSpaceOnUse" x="0" y="0" width="802" height="1492"><rect x="0" y="0" width="802" height="1492" fill="url(#gm)"/></mask>
<filter id="bl" filterUnits="userSpaceOnUse" x="300" y="850" width="400" height="250"><feGaussianBlur stdDeviation="1.6"/></filter>
</defs>
<g clip-path="url(#c2)">
<rect x="124.0" y="776.9" width="642.8" height="643.1" fill="#fff"/>
<polygon points="124.0,1055.6 131.0,1054.9 138.1,1054.1 145.1,1053.2 152.1,1052.4 159.2,1051.4 166.2,1050.5 173.2,1049.5 180.3,1048.5 187.3,1047.4 194.4,1046.3 201.4,1045.1 208.4,1043.9 215.5,1042.6 222.5,1041.3 229.5,1040.0 236.6,1038.5 243.6,1037.1 250.6,1035.5 257.7,1033.9 264.7,1032.3 271.7,1030.6 278.8,1028.8 285.8,1027.0 292.8,1025.1 299.9,1023.1 306.9,1021.0 314.0,1018.9 321.0,1016.7 328.0,1014.5 335.1,1012.1 342.1,1009.7 349.1,1007.2 356.2,1004.6 363.2,1002.0 370.2,999.3 377.3,996.5 384.3,993.6 391.3,990.6 398.4,987.5 405.4,984.4 412.4,981.2 419.5,977.8 426.5,974.4 433.6,971.0 440.6,967.4 447.6,963.7 454.7,960.0 461.7,956.2 468.7,952.3 475.8,948.3 482.8,944.2 489.8,940.1 496.9,935.8 503.9,931.5 510.9,927.1 518.0,922.6 525.0,918.1 532.0,913.4 539.1,908.7 546.1,903.9 766.8,903.9 766.8,1420.0 124.0,1420.0" fill="url(#gl)"/>
<defs><linearGradient id="gw" gradientUnits="userSpaceOnUse" x1="124" y1="0" x2="767" y2="0">
<stop offset="0.0000" stop-color="#fff" stop-opacity="0.8"/>
<stop offset="0.2737" stop-color="#fff" stop-opacity="0.68"/>
<stop offset="0.5070" stop-color="#fff" stop-opacity="0.55"/>
<stop offset="0.6563" stop-color="#fff" stop-opacity="0.32"/>
<stop offset="0.8180" stop-color="#fff" stop-opacity="0.1"/>
<stop offset="1.0000" stop-color="#fff" stop-opacity="0"/>
</linearGradient></defs>
<polygon points="124.0,1055.6 131.0,1054.9 138.1,1054.1 145.1,1053.2 152.1,1052.4 159.2,1051.4 166.2,1050.5 173.2,1049.5 180.3,1048.5 187.3,1047.4 194.4,1046.3 201.4,1045.1 208.4,1043.9 215.5,1042.6 222.5,1041.3 229.5,1040.0 236.6,1038.5 243.6,1037.1 250.6,1035.5 257.7,1033.9 264.7,1032.3 271.7,1030.6 278.8,1028.8 285.8,1027.0 292.8,1025.1 299.9,1023.1 306.9,1021.0 314.0,1018.9 321.0,1016.7 328.0,1014.5 335.1,1012.1 342.1,1009.7 349.1,1007.2 356.2,1004.6 363.2,1002.0 370.2,999.3 377.3,996.5 384.3,993.6 391.3,990.6 398.4,987.5 405.4,984.4 412.4,981.2 419.5,977.8 426.5,974.4 433.6,971.0 440.6,967.4 447.6,963.7 454.7,960.0 461.7,956.2 468.7,952.3 475.8,948.3 482.8,944.2 489.8,940.1 496.9,935.8 503.9,931.5 510.9,927.1 518.0,922.6 525.0,918.1 532.0,913.4 539.1,908.7 546.1,903.9 766.8,903.9 766.8,1420.0 124.0,1420.0" fill="url(#gw)"/>
<clipPath id="cl"><polygon points="124.0,1131.7 131.0,1130.1 138.1,1128.5 145.1,1126.8 152.1,1125.0 159.2,1123.2 166.2,1121.3 173.2,1119.3 180.3,1117.3 187.3,1115.2 194.4,1113.0 201.4,1110.8 208.4,1108.5 215.5,1106.1 222.5,1103.6 229.5,1101.0 236.6,1098.4 243.6,1095.7 250.6,1092.9 257.7,1090.0 264.7,1087.1 271.7,1084.0 278.8,1080.9 285.8,1077.7 292.8,1074.4 299.9,1071.0 306.9,1067.6 314.0,1064.0 321.0,1060.4 328.0,1056.7 335.1,1052.9 342.1,1049.0 349.1,1045.0 356.2,1041.0 363.2,1036.9 370.2,1032.6 377.3,1028.3 384.3,1024.0 391.3,1019.5 398.4,1015.0 405.4,1010.4 412.4,1005.7 419.5,1000.9 426.5,996.1 433.6,991.2 440.6,986.2 447.6,981.1 454.7,976.0 461.7,970.8 468.7,965.6 475.8,960.2 482.8,954.9 489.8,949.4 496.9,943.9 503.9,938.4 510.9,932.8 518.0,927.1 525.0,921.4 532.0,915.6 539.1,909.8 546.1,903.9 766.8,903.9 766.8,1420.0 124.0,1420.0"/></clipPath>
<g clip-path="url(#cl)"><g mask="url(#mk)"><g filter="url(#bl)">
<polygon points="384.3,1021.0 384.3,1021.0 391.3,1016.5 398.4,1012.0 405.4,1007.4 412.4,1002.7 419.5,997.9 426.5,993.1 433.6,988.2 440.6,983.2 447.6,978.1 454.7,973.0 461.7,967.8 468.7,962.6 475.8,957.2 482.8,951.9 489.8,946.4 496.9,940.9 503.9,935.4 510.9,929.8 518.0,924.1 525.0,918.4 532.0,912.6 539.1,906.8 546.1,900.9 614.1,900.9 546.1,954.0 539.1,958.3 532.0,962.6 525.0,966.8 518.0,971.0 510.9,975.2 503.9,979.3 496.9,983.3 489.8,987.3 482.8,991.2 475.8,995.0 468.7,998.8 461.7,1002.5 454.7,1006.2 447.6,1009.8 440.6,1013.3 433.6,1016.8 426.5,1020.2 419.5,1023.5 412.4,1026.7 405.4,1029.9 398.4,1033.0 391.3,1036.0 384.3,1038.9" fill="#0a0e0e" fill-opacity="0.024"/>
<polygon points="384.3,1021.0 384.3,1021.0 391.3,1016.5 398.4,1012.0 405.4,1007.4 412.4,1002.7 419.5,997.9 426.5,993.1 433.6,988.2 440.6,983.2 447.6,978.1 454.7,973.0 461.7,967.8 468.7,962.6 475.8,957.2 482.8,951.9 489.8,946.4 496.9,940.9 503.9,935.4 510.9,929.8 518.0,924.1 525.0,918.4 532.0,912.6 539.1,906.8 546.1,900.9 607.3,900.9 546.1,949.0 539.1,953.5 532.0,957.9 525.0,962.3 518.0,966.6 510.9,970.9 503.9,975.2 496.9,979.3 489.8,983.5 482.8,987.5 475.8,991.5 468.7,995.5 461.7,999.4 454.7,1003.2 447.6,1006.9 440.6,1010.6 433.6,1014.2 426.5,1017.7 419.5,1021.2 412.4,1024.6 405.4,1027.9 398.4,1031.2 391.3,1034.3 384.3,1037.4" fill="#0a0e0e" fill-opacity="0.059"/>
<polygon points="384.3,1021.0 384.3,1021.0 391.3,1016.5 398.4,1012.0 405.4,1007.4 412.4,1002.7 419.5,997.9 426.5,993.1 433.6,988.2 440.6,983.2 447.6,978.1 454.7,973.0 461.7,967.8 468.7,962.6 475.8,957.2 482.8,951.9 489.8,946.4 496.9,940.9 503.9,935.4 510.9,929.8 518.0,924.1 525.0,918.4 532.0,912.6 539.1,906.8 546.1,900.9 600.5,900.9 546.1,944.0 539.1,948.6 532.0,953.2 525.0,957.8 518.0,962.3 510.9,966.7 503.9,971.1 496.9,975.4 489.8,979.7 482.8,983.9 475.8,988.1 468.7,992.2 461.7,996.2 454.7,1000.2 447.6,1004.1 440.6,1007.9 433.6,1011.6 426.5,1015.3 419.5,1019.0 412.4,1022.5 405.4,1026.0 398.4,1029.4 391.3,1032.7 384.3,1035.9" fill="#0a0e0e" fill-opacity="0.089"/>
<polygon points="384.3,1021.0 384.3,1021.0 391.3,1016.5 398.4,1012.0 405.4,1007.4 412.4,1002.7 419.5,997.9 426.5,993.1 433.6,988.2 440.6,983.2 447.6,978.1 454.7,973.0 461.7,967.8 468.7,962.6 475.8,957.2 482.8,951.9 489.8,946.4 496.9,940.9 503.9,935.4 510.9,929.8 518.0,924.1 525.0,918.4 532.0,912.6 539.1,906.8 546.1,900.9 593.7,900.9 546.1,939.0 539.1,943.8 532.0,948.5 525.0,953.2 518.0,957.9 510.9,962.5 503.9,967.0 496.9,971.5 489.8,975.9 482.8,980.3 475.8,984.6 468.7,988.8 461.7,993.0 454.7,997.1 447.6,1001.2 440.6,1005.2 433.6,1009.1 426.5,1012.9 419.5,1016.7 412.4,1020.4 405.4,1024.0 398.4,1027.6 391.3,1031.0 384.3,1034.4" fill="#0a0e0e" fill-opacity="0.126"/>
<polygon points="384.3,1021.0 384.3,1021.0 391.3,1016.5 398.4,1012.0 405.4,1007.4 412.4,1002.7 419.5,997.9 426.5,993.1 433.6,988.2 440.6,983.2 447.6,978.1 454.7,973.0 461.7,967.8 468.7,962.6 475.8,957.2 482.8,951.9 489.8,946.4 496.9,940.9 503.9,935.4 510.9,929.8 518.0,924.1 525.0,918.4 532.0,912.6 539.1,906.8 546.1,900.9 586.9,900.9 546.1,934.0 539.1,938.9 532.0,943.8 525.0,948.7 518.0,953.5 510.9,958.2 503.9,962.9 496.9,967.5 489.8,972.1 482.8,976.6 475.8,981.1 468.7,985.5 461.7,989.8 454.7,994.1 447.6,998.3 440.6,1002.5 433.6,1006.5 426.5,1010.5 419.5,1014.4 412.4,1018.3 405.4,1022.1 398.4,1025.8 391.3,1029.4 384.3,1032.9" fill="#0a0e0e" fill-opacity="0.164"/>
<polygon points="384.3,1021.0 384.3,1021.0 391.3,1016.5 398.4,1012.0 405.4,1007.4 412.4,1002.7 419.5,997.9 426.5,993.1 433.6,988.2 440.6,983.2 447.6,978.1 454.7,973.0 461.7,967.8 468.7,962.6 475.8,957.2 482.8,951.9 489.8,946.4 496.9,940.9 503.9,935.4 510.9,929.8 518.0,924.1 525.0,918.4 532.0,912.6 539.1,906.8 546.1,900.9 580.1,900.9 546.1,929.0 539.1,934.1 532.0,939.1 525.0,944.1 518.0,949.1 510.9,954.0 503.9,958.8 496.9,963.6 489.8,968.3 482.8,973.0 475.8,977.6 468.7,982.2 461.7,986.7 454.7,991.1 447.6,995.5 440.6,999.7 433.6,1004.0 426.5,1008.1 419.5,1012.2 412.4,1016.2 405.4,1020.1 398.4,1024.0 391.3,1027.7 384.3,1031.4" fill="#0a0e0e" fill-opacity="0.204"/>
<polygon points="384.3,1021.0 384.3,1021.0 391.3,1016.5 398.4,1012.0 405.4,1007.4 412.4,1002.7 419.5,997.9 426.5,993.1 433.6,988.2 440.6,983.2 447.6,978.1 454.7,973.0 461.7,967.8 468.7,962.6 475.8,957.2 482.8,951.9 489.8,946.4 496.9,940.9 503.9,935.4 510.9,929.8 518.0,924.1 525.0,918.4 532.0,912.6 539.1,906.8 546.1,900.9 573.3,900.9 546.1,924.0 539.1,929.2 532.0,934.4 525.0,939.6 518.0,944.7 510.9,949.7 503.9,954.7 496.9,959.7 489.8,964.6 482.8,969.4 475.8,974.2 468.7,978.9 461.7,983.5 454.7,988.1 447.6,992.6 440.6,997.0 433.6,1001.4 426.5,1005.7 419.5,1009.9 412.4,1014.1 405.4,1018.2 398.4,1022.2 391.3,1026.1 384.3,1029.9" fill="#0a0e0e" fill-opacity="0.257"/>
<polygon points="384.3,1021.0 384.3,1021.0 391.3,1016.5 398.4,1012.0 405.4,1007.4 412.4,1002.7 419.5,997.9 426.5,993.1 433.6,988.2 440.6,983.2 447.6,978.1 454.7,973.0 461.7,967.8 468.7,962.6 475.8,957.2 482.8,951.9 489.8,946.4 496.9,940.9 503.9,935.4 510.9,929.8 518.0,924.1 525.0,918.4 532.0,912.6 539.1,906.8 546.1,900.9 566.5,900.9 546.1,919.0 539.1,924.4 532.0,929.7 525.0,935.0 518.0,940.3 510.9,945.5 503.9,950.6 496.9,955.7 489.8,960.8 482.8,965.8 475.8,970.7 468.7,975.5 461.7,980.3 454.7,985.1 447.6,989.7 440.6,994.3 433.6,998.8 426.5,1003.3 419.5,1007.7 412.4,1012.0 405.4,1016.2 398.4,1020.4 391.3,1024.4 384.3,1028.4" fill="#0a0e0e" fill-opacity="0.319"/>
<polygon points="384.3,1021.0 384.3,1021.0 391.3,1016.5 398.4,1012.0 405.4,1007.4 412.4,1002.7 419.5,997.9 426.5,993.1 433.6,988.2 440.6,983.2 447.6,978.1 454.7,973.0 461.7,967.8 468.7,962.6 475.8,957.2 482.8,951.9 489.8,946.4 496.9,940.9 503.9,935.4 510.9,929.8 518.0,924.1 525.0,918.4 532.0,912.6 539.1,906.8 546.1,900.9 559.7,900.9 546.1,914.0 539.1,919.5 532.0,925.0 525.0,930.5 518.0,935.9 510.9,941.3 503.9,946.6 496.9,951.8 489.8,957.0 482.8,962.1 475.8,967.2 468.7,972.2 461.7,977.2 454.7,982.0 447.6,986.9 440.6,991.6 433.6,996.3 426.5,1000.9 419.5,1005.4 412.4,1009.9 405.4,1014.3 398.4,1018.6 391.3,1022.8 384.3,1027.0" fill="#0a0e0e" fill-opacity="0.390"/>
<polygon points="384.3,1021.0 384.3,1021.0 391.3,1016.5 398.4,1012.0 405.4,1007.4 412.4,1002.7 419.5,997.9 426.5,993.1 433.6,988.2 440.6,983.2 447.6,978.1 454.7,973.0 461.7,967.8 468.7,962.6 475.8,957.2 482.8,951.9 489.8,946.4 496.9,940.9 503.9,935.4 510.9,929.8 518.0,924.1 525.0,918.4 532.0,912.6 539.1,906.8 546.1,900.9 552.9,900.9 546.1,909.0 539.1,914.7 532.0,920.3 525.0,925.9 518.0,931.5 510.9,937.0 503.9,942.5 496.9,947.9 489.8,953.2 482.8,958.5 475.8,963.7 468.7,968.9 461.7,974.0 454.7,979.0 447.6,984.0 440.6,988.9 433.6,993.7 426.5,998.5 419.5,1003.2 412.4,1007.8 405.4,1012.3 398.4,1016.8 391.3,1021.2 384.3,1025.5" fill="#0a0e0e" fill-opacity="0.511"/>
</g></g></g>
<polygon points="496.9,935.8 503.9,931.5 510.9,927.1 518.0,922.6 525.0,918.1 532.0,913.4 539.1,908.7 546.1,903.9 546.1,903.9 539.1,909.8 532.0,915.6 525.0,921.4 518.0,927.1 510.9,932.8 503.9,938.4 496.9,943.9" fill="url(#gs)"/>
<polygon points="124.0,776.9 322.0,776.9 322.0,1016.4 321.0,1016.7 314.0,1018.9 306.9,1021.0 299.9,1023.1 292.8,1025.1 285.8,1027.0 278.8,1028.8 271.7,1030.6 264.7,1032.3 257.7,1033.9 250.6,1035.5 243.6,1037.1 236.6,1038.5 229.5,1040.0 222.5,1041.3 215.5,1042.6 208.4,1043.9 201.4,1045.1 194.4,1046.3 187.3,1047.4 180.3,1048.5 173.2,1049.5 166.2,1050.5 159.2,1051.4 152.1,1052.4 145.1,1053.2 138.1,1054.1 131.0,1054.9 124.0,1055.6" fill="#c0faf0"/>
<polygon points="332.6,776.9 546.1,776.9 546.1,903.9 546.1,903.9 539.1,908.7 532.0,913.4 525.0,918.1 518.0,922.6 510.9,927.1 503.9,931.5 496.9,935.8 489.8,940.1 482.8,944.2 475.8,948.3 468.7,952.3 461.7,956.2 454.7,960.0 447.6,963.7 440.6,967.4 433.6,971.0 426.5,974.4 419.5,977.8 412.4,981.2 405.4,984.4 398.4,987.5 391.3,990.6 384.3,993.6 377.3,996.5 370.2,999.3 363.2,1002.0 356.2,1004.6 349.1,1007.2 342.1,1009.7 335.1,1012.1 332.6,1013.0" fill="url(#gs)"/>
<rect x="546.1" y="776.9" width="57.9" height="127.0" fill="url(#gp)"/>
<rect x="603.4" y="895.8" width="163.4" height="8.1" fill="#fff"/>
<rect x="603.4" y="776.9" width="163.4" height="118.9" fill="#c0faf0"/>
<rect x="124.0" y="1345" width="642.8" height="2.5" fill="#fff"/>
<rect x="124.0" y="1347.5" width="642.8" height="72.5" fill="#c0faf0"/>
<path d="M124.00 1055.65h1.25v1.25h-1.25zM124.00 1056.90h1.25v1.25h-1.25zM124.00 1058.15h1.25v1.25h-1.25zM124.00 1059.40h1.25v1.25h-1.25zM124.00 1060.65h1.25v1.25h-1.25zM124.00 1061.90h1.25v1.25h-1.25zM124.00 1063.15h1.25v1.25h-1.25zM124.00 1064.40h1.25v1.25h-1.25zM124.00 1065.65h1.25v1.25h-1.25zM124.00 1066.90h1.25v1.25h-1.25zM124.00 1068.15h1.25v1.25h-1.25zM124.00 1069.40h1.25v1.25h-1.25zM124.00 1070.65h1.25v1.25h-1.25zM124.00 1071.90h1.25v1.25h-1.25zM124.00 1073.15h1.25v1.25h-1.25zM124.00 1074.40h1.25v1.25h-1.25zM124.00 1075.65h1.25v1.25h-1.25zM124.00 1078.15h1.25v1.25h-1.25zM124.00 1079.40h1.25v1.25h-1.25zM124.00 1081.90h1.25v1.25h-1.25zM124.00 1084.40h1.25v1.25h-1.25zM124.00 1085.65h1.25v1.25h-1.25zM124.00 1086.90h1.25v1.25h-1.25zM125.25 1055.65h1.25v1.25h-1.25zM125.25 1056.90h1.25v1.25h-1.25zM125.25 1058.15h1.25v1.25h-1.25zM125.25 1059.40h1.25v1.25h-1.25zM125.25 1060.65h1.25v1.25h-1.25zM125.25 1061.90h1.25v1.25h-1.25zM125.25 1063.15h1.25v1.25h-1.25zM125.25 1064.40h1.25v1.25h-1.25zM125.25 1065.65h1.25v1.25h-1.25zM125.25 1066.90h1.25v1.25h-1.25zM125.25 1068.15h1.25v1.25h-1.25zM125.25 1069.40h1.25v1.25h-1.25zM125.25 1070.65h1.25v1.25h-1.25zM125.25 1071.90h1.25v1.25h-1.25zM125.25 1073.15h1.25v1.25h-1.25zM125.25 1074.40h1.25v1.25h-1.25zM125.25 1075.65h1.25v1.25h-1.25zM125.25 1076.90h1.25v1.25h-1.25zM125.25 1078.15h1.25v1.25h-1.25zM125.25 1079.40h1.25v1.25h-1.25zM125.25 1080.65h1.25v1.25h-1.25zM125.25 1081.90h1.25v1.25h-1.25zM125.25 1084.40h1.25v1.25h-1.25zM125.25 1085.65h1.25v1.25h-1.25zM125.25 1089.40h1.25v1.25h-1.25zM126.50 1055.65h1.25v1.25h-1.25zM126.50 1056.90h1.25v1.25h-1.25zM126.50 1058.15h1.25v1.25h-1.25zM126.50 1059.40h1.25v1.25h-1.25zM126.50 1060.65h1.25v1.25h-1.25zM126.50 1061.90h1.25v1.25h-1.25zM126.50 1063.15h1.25v1.25h-1.25zM126.50 1064.40h1.25v1.25h-1.25zM126.50 1065.65h1.25v1.25h-1.25zM126.50 1066.90h1.25v1.25h-1.25zM126.50 1068.15h1.25v1.25h-1.25zM126.50 1069.40h1.25v1.25h-1.25zM126.50 1070.65h1.25v1.25h-1.25zM126.50 1071.90h1.25v1.25h-1.25zM126.50 1073.15h1.25v1.25h-1.25zM126.50 1074.40h1.25v1.25h-1.25zM126.50 1075.65h1.25v1.25h-1.25zM126.50 1076.90h1.25v1.25h-1.25zM126.50 1078.15h1.25v1.25h-1.25zM126.50 1079.40h1.25v1.25h-1.25zM126.50 1085.65h1.25v1.25h-1.25zM126.50 1086.90h1.25v1.25h-1.25zM127.75 1055.65h1.25v1.25h-1.25zM127.75 1056.90h1.25v1.25h-1.25zM127.75 1058.15h1.25v1.25h-1.25zM127.75 1059.40h1.25v1.25h-1.25zM127.75 1060.65h1.25v1.25h-1.25zM127.75 1061.90h1.25v1.25h-1.25zM127.75 1063.15h1.25v1.25h-1.25zM127.75 1064.40h1.25v1.25h-1.25zM127.75 1065.65h1.25v1.25h-1.25zM127.75 1066.90h1.25v1.25h-1.25zM127.75 1068.15h1.25v1.25h-1.25zM127.75 1069.40h1.25v1.25h-1.25zM127.75 1070.65h1.25v1.25h-1.25zM127.75 1071.90h1.25v1.25h-1.25zM127.75 1073.15h1.25v1.25h-1.25zM127.75 1074.40h1.25v1.25h-1.25zM127.75 1076.90h1.25v1.25h-1.25zM127.75 1084.40h1.25v1.25h-1.25zM129.00 1055.65h1.25v1.25h-1.25zM129.00 1056.90h1.25v1.25h-1.25zM129.00 1058.15h1.25v1.25h-1.25zM129.00 1059.40h1.25v1.25h-1.25zM129.00 1060.65h1.25v1.25h-1.25zM129.00 1061.90h1.25v1.25h-1.25zM129.00 1063.15h1.25v1.25h-1.25zM129.00 1064.40h1.25v1.25h-1.25zM129.00 1065.65h1.25v1.25h-1.25zM129.00 1066.90h1.25v1.25h-1.25zM129.00 1068.15h1.25v1.25h-1.25zM129.00 1069.40h1.25v1.25h-1.25zM129.00 1070.65h1.25v1.25h-1.25zM129.00 1071.90h1.25v1.25h-1.25zM129.00 1073.15h1.25v1.25h-1.25zM129.00 1074.40h1.25v1.25h-1.25zM129.00 1075.65h1.25v1.25h-1.25zM129.00 1076.90h1.25v1.25h-1.25zM129.00 1078.15h1.25v1.25h-1.25zM129.00 1079.40h1.25v1.25h-1.25zM129.00 1083.15h1.25v1.25h-1.25zM130.25 1055.65h1.25v1.25h-1.25zM130.25 1056.90h1.25v1.25h-1.25zM130.25 1058.15h1.25v1.25h-1.25zM130.25 1059.40h1.25v1.25h-1.25zM130.25 1060.65h1.25v1.25h-1.25zM130.25 1061.90h1.25v1.25h-1.25zM130.25 1063.15h1.25v1.25h-1.25zM130.25 1064.40h1.25v1.25h-1.25zM130.25 1065.65h1.25v1.25h-1.25zM130.25 1066.90h1.25v1.25h-1.25zM130.25 1068.15h1.25v1.25h-1.25zM130.25 1069.40h1.25v1.25h-1.25zM130.25 1070.65h1.25v1.25h-1.25zM130.25 1071.90h1.25v1.25h-1.25zM130.25 1073.15h1.25v1.25h-1.25zM130.25 1074.40h1.25v1.25h-1.25zM130.25 1075.65h1.25v1.25h-1.25zM130.25 1076.90h1.25v1.25h-1.25zM130.25 1078.15h1.25v1.25h-1.25zM130.25 1079.40h1.25v1.25h-1.25zM130.25 1083.15h1.25v1.25h-1.25zM130.25 1088.15h1.25v1.25h-1.25zM131.50 1055.65h1.25v1.25h-1.25zM131.50 1056.90h1.25v1.25h-1.25zM131.50 1058.15h1.25v1.25h-1.25zM131.50 1059.40h1.25v1.25h-1.25zM131.50 1060.65h1.25v1.25h-1.25zM131.50 1061.90h1.25v1.25h-1.25zM131.50 1063.15h1.25v1.25h-1.25zM131.50 1064.40h1.25v1.25h-1.25zM131.50 1065.65h1.25v1.25h-1.25zM131.50 1066.90h1.25v1.25h-1.25zM131.50 1068.15h1.25v1.25h-1.25zM131.50 1069.40h1.25v1.25h-1.25zM131.50 1070.65h1.25v1.25h-1.25zM131.50 1071.90h1.25v1.25h-1.25zM131.50 1073.15h1.25v1.25h-1.25zM131.50 1074.40h1.25v1.25h-1.25zM131.50 1075.65h1.25v1.25h-1.25zM131.50 1076.90h1.25v1.25h-1.25zM131.50 1079.40h1.25v1.25h-1.25zM132.75 1055.65h1.25v1.25h-1.25zM132.75 1056.90h1.25v1.25h-1.25zM132.75 1058.15h1.25v1.25h-1.25zM132.75 1059.40h1.25v1.25h-1.25zM132.75 1060.65h1.25v1.25h-1.25zM132.75 1061.90h1.25v1.25h-1.25zM132.75 1063.15h1.25v1.25h-1.25zM132.75 1064.40h1.25v1.25h-1.25zM132.75 1065.65h1.25v1.25h-1.25zM132.75 1066.90h1.25v1.25h-1.25zM132.75 1068.15h1.25v1.25h-1.25zM132.75 1069.40h1.25v1.25h-1.25zM132.75 1070.65h1.25v1.25h-1.25zM132.75 1071.90h1.25v1.25h-1.25zM132.75 1073.15h1.25v1.25h-1.25zM132.75 1074.40h1.25v1.25h-1.25zM132.75 1078.15h1.25v1.25h-1.25zM132.75 1079.40h1.25v1.25h-1.25zM132.75 1081.90h1.25v1.25h-1.25zM132.75 1085.65h1.25v1.25h-1.25zM134.00 1055.65h1.25v1.25h-1.25zM134.00 1056.90h1.25v1.25h-1.25zM134.00 1058.15h1.25v1.25h-1.25zM134.00 1059.40h1.25v1.25h-1.25zM134.00 1060.65h1.25v1.25h-1.25zM134.00 1061.90h1.25v1.25h-1.25zM134.00 1063.15h1.25v1.25h-1.25zM134.00 1064.40h1.25v1.25h-1.25zM134.00 1065.65h1.25v1.25h-1.25zM134.00 1066.90h1.25v1.25h-1.25zM134.00 1068.15h1.25v1.25h-1.25zM134.00 1069.40h1.25v1.25h-1.25zM134.00 1070.65h1.25v1.25h-1.25zM134.00 1071.90h1.25v1.25h-1.25zM134.00 1073.15h1.25v1.25h-1.25zM134.00 1074.40h1.25v1.25h-1.25zM134.00 1076.90h1.25v1.25h-1.25zM134.00 1078.15h1.25v1.25h-1.25zM134.00 1079.40h1.25v1.25h-1.25zM134.00 1080.65h1.25v1.25h-1.25zM134.00 1081.90h1.25v1.25h-1.25zM135.25 1054.40h1.25v1.25h-1.25zM135.25 1055.65h1.25v1.25h-1.25zM135.25 1056.90h1.25v1.25h-1.25zM135.25 1058.15h1.25v1.25h-1.25zM135.25 1059.40h1.25v1.25h-1.25zM135.25 1060.65h1.25v1.25h-1.25zM135.25 1061.90h1.25v1.25h-1.25zM135.25 1063.15h1.25v1.25h-1.25zM135.25 1064.40h1.25v1.25h-1.25zM135.25 1065.65h1.25v1.25h-1.25zM135.25 1066.90h1.25v1.25h-1.25zM135.25 1068.15h1.25v1.25h-1.25zM135.25 1069.40h1.25v1.25h-1.25zM135.25 1070.65h1.25v1.25h-1.25zM135.25 1071.90h1.25v1.25h-1.25zM135.25 1074.40h1.25v1.25h-1.25zM135.25 1075.65h1.25v1.25h-1.25zM135.25 1076.90h1.25v1.25h-1.25zM135.25 1078.15h1.25v1.25h-1.25zM135.25 1079.40h1.25v1.25h-1.25zM135.25 1080.65h1.25v1.25h-1.25zM135.25 1083.15h1.25v1.25h-1.25zM136.50 1054.40h1.25v1.25h-1.25zM136.50 1055.65h1.25v1.25h-1.25zM136.50 1056.90h1.25v1.25h-1.25zM136.50 1058.15h1.25v1.25h-1.25zM136.50 1059.40h1.25v1.25h-1.25zM136.50 1060.65h1.25v1.25h-1.25zM136.50 1061.90h1.25v1.25h-1.25zM136.50 1063.15h1.25v1.25h-1.25zM136.50 1064.40h1.25v1.25h-1.25zM136.50 1065.65h1.25v1.25h-1.25zM136.50 1066.90h1.25v1.25h-1.25zM136.50 1068.15h1.25v1.25h-1.25zM136.50 1069.40h1.25v1.25h-1.25zM136.50 1070.65h1.25v1.25h-1.25zM136.50 1073.15h1.25v1.25h-1.25zM136.50 1074.40h1.25v1.25h-1.25zM136.50 1075.65h1.25v1.25h-1.25zM136.50 1076.90h1.25v1.25h-1.25zM136.50 1078.15h1.25v1.25h-1.25zM136.50 1079.40h1.25v1.25h-1.25zM136.50 1080.65h1.25v1.25h-1.25zM136.50 1081.90h1.25v1.25h-1.25zM136.50 1084.40h1.25v1.25h-1.25zM137.75 1054.40h1.25v1.25h-1.25zM137.75 1055.65h1.25v1.25h-1.25zM137.75 1056.90h1.25v1.25h-1.25zM137.75 1058.15h1.25v1.25h-1.25zM137.75 1059.40h1.25v1.25h-1.25zM137.75 1060.65h1.25v1.25h-1.25zM137.75 1061.90h1.25v1.25h-1.25zM137.75 1063.15h1.25v1.25h-1.25zM137.75 1064.40h1.25v1.25h-1.25zM137.75 1065.65h1.25v1.25h-1.25zM137.75 1066.90h1.25v1.25h-1.25zM137.75 1068.15h1.25v1.25h-1.25zM137.75 1069.40h1.25v1.25h-1.25zM137.75 1070.65h1.25v1.25h-1.25zM137.75 1071.90h1.25v1.25h-1.25zM137.75 1073.15h1.25v1.25h-1.25zM137.75 1074.40h1.25v1.25h-1.25zM137.75 1075.65h1.25v1.25h-1.25zM137.75 1076.90h1.25v1.25h-1.25zM137.75 1083.15h1.25v1.25h-1.25zM137.75 1084.40h1.25v1.25h-1.25zM137.75 1089.40h1.25v1.25h-1.25zM139.00 1054.40h1.25v1.25h-1.25zM139.00 1055.65h1.25v1.25h-1.25zM139.00 1056.90h1.25v1.25h-1.25zM139.00 1058.15h1.25v1.25h-1.25zM139.00 1059.40h1.25v1.25h-1.25zM139.00 1060.65h1.25v1.25h-1.25zM139.00 1061.90h1.25v1.25h-1.25zM139.00 1063.15h1.25v1.25h-1.25zM139.00 1064.40h1.25v1.25h-1.25zM139.00 1065.65h1.25v1.25h-1.25zM139.00 1066.90h1.25v1.25h-1.25zM139.00 1068.15h1.25v1.25h-1.25zM139.00 1069.40h1.25v1.25h-1.25zM139.00 1070.65h1.25v1.25h-1.25zM139.00 1073.15h1.25v1.25h-1.25zM139.00 1074.40h1.25v1.25h-1.25zM139.00 1076.90h1.25v1.25h-1.25zM139.00 1078.15h1.25v1.25h-1.25zM139.00 1079.40h1.25v1.25h-1.25zM139.00 1080.65h1.25v1.25h-1.25zM139.00 1081.90h1.25v1.25h-1.25zM139.00 1083.15h1.25v1.25h-1.25zM139.00 1086.90h1.25v1.25h-1.25zM140.25 1054.40h1.25v1.25h-1.25zM140.25 1055.65h1.25v1.25h-1.25zM140.25 1056.90h1.25v1.25h-1.25zM140.25 1058.15h1.25v1.25h-1.25zM140.25 1059.40h1.25v1.25h-1.25zM140.25 1060.65h1.25v1.25h-1.25zM140.25 1061.90h1.25v1.25h-1.25zM140.25 1063.15h1.25v1.25h-1.25zM140.25 1064.40h1.25v1.25h-1.25zM140.25 1065.65h1.25v1.25h-1.25zM140.25 1066.90h1.25v1.25h-1.25zM140.25 1068.15h1.25v1.25h-1.25zM140.25 1069.40h1.25v1.25h-1.25zM140.25 1070.65h1.25v1.25h-1.25zM140.25 1073.15h1.25v1.25h-1.25zM140.25 1080.65h1.25v1.25h-1.25zM140.25 1081.90h1.25v1.25h-1.25zM140.25 1085.65h1.25v1.25h-1.25zM141.50 1054.40h1.25v1.25h-1.25zM141.50 1055.65h1.25v1.25h-1.25zM141.50 1056.90h1.25v1.25h-1.25zM141.50 1058.15h1.25v1.25h-1.25zM141.50 1059.40h1.25v1.25h-1.25zM141.50 1060.65h1.25v1.25h-1.25zM141.50 1061.90h1.25v1.25h-1.25zM141.50 1063.15h1.25v1.25h-1.25zM141.50 1064.40h1.25v1.25h-1.25zM141.50 1065.65h1.25v1.25h-1.25zM141.50 1066.90h1.25v1.25h-1.25zM141.50 1068.15h1.25v1.25h-1.25zM141.50 1069.40h1.25v1.25h-1.25zM141.50 1070.65h1.25v1.25h-1.25zM141.50 1073.15h1.25v1.25h-1.25zM141.50 1074.40h1.25v1.25h-1.25zM141.50 1075.65h1.25v1.25h-1.25zM141.50 1076.90h1.25v1.25h-1.25zM142.75 1054.40h1.25v1.25h-1.25zM142.75 1055.65h1.25v1.25h-1.25zM142.75 1056.90h1.25v1.25h-1.25zM142.75 1058.15h1.25v1.25h-1.25zM142.75 1059.40h1.25v1.25h-1.25zM142.75 1060.65h1.25v1.25h-1.25zM142.75 1061.90h1.25v1.25h-1.25zM142.75 1063.15h1.25v1.25h-1.25zM142.75 1064.40h1.25v1.25h-1.25zM142.75 1065.65h1.25v1.25h-1.25zM142.75 1066.90h1.25v1.25h-1.25zM142.75 1068.15h1.25v1.25h-1.25zM142.75 1069.40h1.25v1.25h-1.25zM142.75 1070.65h1.25v1.25h-1.25zM142.75 1071.90h1.25v1.25h-1.25zM142.75 1074.40h1.25v1.25h-1.25zM142.75 1075.65h1.25v1.25h-1.25zM142.75 1076.90h1.25v1.25h-1.25zM142.75 1081.90h1.25v1.25h-1.25zM144.00 1054.40h1.25v1.25h-1.25zM144.00 1055.65h1.25v1.25h-1.25zM144.00 1056.90h1.25v1.25h-1.25zM144.00 1058.15h1.25v1.25h-1.25zM144.00 1059.40h1.25v1.25h-1.25zM144.00 1060.65h1.25v1.25h-1.25zM144.00 1061.90h1.25v1.25h-1.25zM144.00 1063.15h1.25v1.25h-1.25zM144.00 1064.40h1.25v1.25h-1.25zM144.00 1065.65h1.25v1.25h-1.25zM144.00 1066.90h1.25v1.25h-1.25zM144.00 1068.15h1.25v1.25h-1.25zM144.00 1069.40h1.25v1.25h-1.25zM144.00 1070.65h1.25v1.25h-1.25zM144.00 1071.90h1.25v1.25h-1.25zM144.00 1073.15h1.25v1.25h-1.25zM144.00 1074.40h1.25v1.25h-1.25zM144.00 1075.65h1.25v1.25h-1.25zM144.00 1078.15h1.25v1.25h-1.25zM144.00 1079.40h1.25v1.25h-1.25zM144.00 1084.40h1.25v1.25h-1.25zM145.25 1053.15h1.25v1.25h-1.25zM145.25 1054.40h1.25v1.25h-1.25zM145.25 1055.65h1.25v1.25h-1.25zM145.25 1056.90h1.25v1.25h-1.25zM145.25 1058.15h1.25v1.25h-1.25zM145.25 1059.40h1.25v1.25h-1.25zM145.25 1060.65h1.25v1.25h-1.25zM145.25 1061.90h1.25v1.25h-1.25zM145.25 1063.15h1.25v1.25h-1.25zM145.25 1064.40h1.25v1.25h-1.25zM145.25 1065.65h1.25v1.25h-1.25zM145.25 1066.90h1.25v1.25h-1.25zM145.25 1068.15h1.25v1.25h-1.25zM145.25 1069.40h1.25v1.25h-1.25zM145.25 1071.90h1.25v1.25h-1.25zM145.25 1074.40h1.25v1.25h-1.25zM145.25 1076.90h1.25v1.25h-1.25zM145.25 1080.65h1.25v1.25h-1.25zM146.50 1053.15h1.25v1.25h-1.25zM146.50 1054.40h1.25v1.25h-1.25zM146.50 1055.65h1.25v1.25h-1.25zM146.50 1056.90h1.25v1.25h-1.25zM146.50 1058.15h1.25v1.25h-1.25zM146.50 1059.40h1.25v1.25h-1.25zM146.50 1060.65h1.25v1.25h-1.25zM146.50 1061.90h1.25v1.25h-1.25zM146.50 1063.15h1.25v1.25h-1.25zM146.50 1064.40h1.25v1.25h-1.25zM146.50 1065.65h1.25v1.25h-1.25zM146.50 1066.90h1.25v1.25h-1.25zM146.50 1068.15h1.25v1.25h-1.25zM146.50 1069.40h1.25v1.25h-1.25zM146.50 1070.65h1.25v1.25h-1.25zM146.50 1071.90h1.25v1.25h-1.25zM146.50 1075.65h1.25v1.25h-1.25zM146.50 1076.90h1.25v1.25h-1.25zM146.50 1078.15h1.25v1.25h-1.25zM147.75 1053.15h1.25v1.25h-1.25zM147.75 1054.40h1.25v1.25h-1.25zM147.75 1055.65h1.25v1.25h-1.25zM147.75 1056.90h1.25v1.25h-1.25zM147.75 1058.15h1.25v1.25h-1.25zM147.75 1059.40h1.25v1.25h-1.25zM147.75 1060.65h1.25v1.25h-1.25zM147.75 1061.90h1.25v1.25h-1.25zM147.75 1063.15h1.25v1.25h-1.25zM147.75 1064.40h1.25v1.25h-1.25zM147.75 1065.65h1.25v1.25h-1.25zM147.75 1066.90h1.25v1.25h-1.25zM147.75 1068.15h1.25v1.25h-1.25zM147.75 1069.40h1.25v1.25h-1.25zM147.75 1070.65h1.25v1.25h-1.25zM147.75 1073.15h1.25v1.25h-1.25zM147.75 1075.65h1.25v1.25h-1.25zM147.75 1076.90h1.25v1.25h-1.25zM147.75 1078.15h1.25v1.25h-1.25zM149.00 1053.15h1.25v1.25h-1.25zM149.00 1054.40h1.25v1.25h-1.25zM149.00 1055.65h1.25v1.25h-1.25zM149.00 1056.90h1.25v1.25h-1.25zM149.00 1058.15h1.25v1.25h-1.25zM149.00 1059.40h1.25v1.25h-1.25zM149.00 1060.65h1.25v1.25h-1.25zM149.00 1061.90h1.25v1.25h-1.25zM149.00 1063.15h1.25v1.25h-1.25zM149.00 1064.40h1.25v1.25h-1.25zM149.00 1065.65h1.25v1.25h-1.25zM149.00 1066.90h1.25v1.25h-1.25zM149.00 1068.15h1.25v1.25h-1.25zM149.00 1069.40h1.25v1.25h-1.25zM149.00 1070.65h1.25v1.25h-1.25zM149.00 1073.15h1.25v1.25h-1.25zM149.00 1074.40h1.25v1.25h-1.25zM149.00 1075.65h1.25v1.25h-1.25zM149.00 1076.90h1.25v1.25h-1.25zM149.00 1079.40h1.25v1.25h-1.25zM149.00 1080.65h1.25v1.25h-1.25zM149.00 1083.15h1.25v1.25h-1.25zM150.25 1053.15h1.25v1.25h-1.25zM150.25 1054.40h1.25v1.25h-1.25zM150.25 1055.65h1.25v1.25h-1.25zM150.25 1056.90h1.25v1.25h-1.25zM150.25 1058.15h1.25v1.25h-1.25zM150.25 1059.40h1.25v1.25h-1.25zM150.25 1060.65h1.25v1.25h-1.25zM150.25 1061.90h1.25v1.25h-1.25zM150.25 1063.15h1.25v1.25h-1.25zM150.25 1064.40h1.25v1.25h-1.25zM150.25 1065.65h1.25v1.25h-1.25zM150.25 1066.90h1.25v1.25h-1.25zM150.25 1068.15h1.25v1.25h-1.25zM150.25 1069.40h1.25v1.25h-1.25zM150.25 1070.65h1.25v1.25h-1.25zM150.25 1071.90h1.25v1.25h-1.25zM150.25 1074.40h1.25v1.25h-1.25zM150.25 1076.90h1.25v1.25h-1.25zM150.25 1078.15h1.25v1.25h-1.25zM150.25 1079.40h1.25v1.25h-1.25zM151.50 1053.15h1.25v1.25h-1.25zM151.50 1054.40h1.25v1.25h-1.25zM151.50 1055.65h1.25v1.25h-1.25zM151.50 1056.90h1.25v1.25h-1.25zM151.50 1058.15h1.25v1.25h-1.25zM151.50 1059.40h1.25v1.25h-1.25zM151.50 1060.65h1.25v1.25h-1.25zM151.50 1061.90h1.25v1.25h-1.25zM151.50 1063.15h1.25v1.25h-1.25zM151.50 1064.40h1.25v1.25h-1.25zM151.50 1065.65h1.25v1.25h-1.25zM151.50 1066.90h1.25v1.25h-1.25zM151.50 1068.15h1.25v1.25h-1.25zM151.50 1069.40h1.25v1.25h-1.25zM151.50 1070.65h1.25v1.25h-1.25zM151.50 1071.90h1.25v1.25h-1.25zM151.50 1073.15h1.25v1.25h-1.25zM151.50 1076.90h1.25v1.25h-1.25zM151.50 1080.65h1.25v1.25h-1.25zM152.75 1053.15h1.25v1.25h-1.25zM152.75 1054.40h1.25v1.25h-1.25zM152.75 1055.65h1.25v1.25h-1.25zM152.75 1056.90h1.25v1.25h-1.25zM152.75 1058.15h1.25v1.25h-1.25zM152.75 1059.40h1.25v1.25h-1.25zM152.75 1060.65h1.25v1.25h-1.25zM152.75 1061.90h1.25v1.25h-1.25zM152.75 1063.15h1.25v1.25h-1.25zM152.75 1064.40h1.25v1.25h-1.25zM152.75 1065.65h1.25v1.25h-1.25zM152.75 1066.90h1.25v1.25h-1.25zM152.75 1068.15h1.25v1.25h-1.25zM152.75 1069.40h1.25v1.25h-1.25zM152.75 1071.90h1.25v1.25h-1.25zM152.75 1073.15h1.25v1.25h-1.25zM152.75 1075.65h1.25v1.25h-1.25zM152.75 1078.15h1.25v1.25h-1.25zM152.75 1080.65h1.25v1.25h-1.25zM152.75 1084.40h1.25v1.25h-1.25zM154.00 1053.15h1.25v1.25h-1.25zM154.00 1054.40h1.25v1.25h-1.25zM154.00 1055.65h1.25v1.25h-1.25zM154.00 1056.90h1.25v1.25h-1.25zM154.00 1058.15h1.25v1.25h-1.25zM154.00 1059.40h1.25v1.25h-1.25zM154.00 1060.65h1.25v1.25h-1.25zM154.00 1061.90h1.25v1.25h-1.25zM154.00 1063.15h1.25v1.25h-1.25zM154.00 1064.40h1.25v1.25h-1.25zM154.00 1065.65h1.25v1.25h-1.25zM154.00 1066.90h1.25v1.25h-1.25zM154.00 1068.15h1.25v1.25h-1.25zM154.00 1069.40h1.25v1.25h-1.25zM154.00 1070.65h1.25v1.25h-1.25zM154.00 1071.90h1.25v1.25h-1.25zM154.00 1073.15h1.25v1.25h-1.25zM154.00 1074.40h1.25v1.25h-1.25zM154.00 1078.15h1.25v1.25h-1.25zM154.00 1083.15h1.25v1.25h-1.25zM154.00 1086.90h1.25v1.25h-1.25zM155.25 1051.90h1.25v1.25h-1.25zM155.25 1053.15h1.25v1.25h-1.25zM155.25 1054.40h1.25v1.25h-1.25zM155.25 1055.65h1.25v1.25h-1.25zM155.25 1056.90h1.25v1.25h-1.25zM155.25 1058.15h1.25v1.25h-1.25zM155.25 1059.40h1.25v1.25h-1.25zM155.25 1060.65h1.25v1.25h-1.25zM155.25 1061.90h1.25v1.25h-1.25zM155.25 1063.15h1.25v1.25h-1.25zM155.25 1064.40h1.25v1.25h-1.25zM155.25 1065.65h1.25v1.25h-1.25zM155.25 1066.90h1.25v1.25h-1.25zM155.25 1068.15h1.25v1.25h-1.25zM155.25 1069.40h1.25v1.25h-1.25zM155.25 1070.65h1.25v1.25h-1.25zM155.25 1071.90h1.25v1.25h-1.25zM155.25 1074.40h1.25v1.25h-1.25zM155.25 1078.15h1.25v1.25h-1.25zM156.50 1051.90h1.25v1.25h-1.25zM156.50 1053.15h1.25v1.25h-1.25zM156.50 1054.40h1.25v1.25h-1.25zM156.50 1055.65h1.25v1.25h-1.25zM156.50 1056.90h1.25v1.25h-1.25zM156.50 1058.15h1.25v1.25h-1.25zM156.50 1059.40h1.25v1.25h-1.25zM156.50 1060.65h1.25v1.25h-1.25zM156.50 1061.90h1.25v1.25h-1.25zM156.50 1063.15h1.25v1.25h-1.25zM156.50 1064.40h1.25v1.25h-1.25zM156.50 1065.65h1.25v1.25h-1.25zM156.50 1066.90h1.25v1.25h-1.25zM156.50 1069.40h1.25v1.25h-1.25zM156.50 1070.65h1.25v1.25h-1.25zM156.50 1071.90h1.25v1.25h-1.25zM156.50 1074.40h1.25v1.25h-1.25zM156.50 1076.90h1.25v1.25h-1.25zM156.50 1081.90h1.25v1.25h-1.25zM156.50 1083.15h1.25v1.25h-1.25zM156.50 1084.40h1.25v1.25h-1.25zM157.75 1051.90h1.25v1.25h-1.25zM157.75 1053.15h1.25v1.25h-1.25zM157.75 1054.40h1.25v1.25h-1.25zM157.75 1055.65h1.25v1.25h-1.25zM157.75 1056.90h1.25v1.25h-1.25zM157.75 1058.15h1.25v1.25h-1.25zM157.75 1059.40h1.25v1.25h-1.25zM157.75 1060.65h1.25v1.25h-1.25zM157.75 1061.90h1.25v1.25h-1.25zM157.75 1063.15h1.25v1.25h-1.25zM157.75 1064.40h1.25v1.25h-1.25zM157.75 1065.65h1.25v1.25h-1.25zM157.75 1066.90h1.25v1.25h-1.25zM157.75 1068.15h1.25v1.25h-1.25zM157.75 1069.40h1.25v1.25h-1.25zM157.75 1070.65h1.25v1.25h-1.25zM157.75 1076.90h1.25v1.25h-1.25zM157.75 1086.90h1.25v1.25h-1.25zM159.00 1051.90h1.25v1.25h-1.25zM159.00 1053.15h1.25v1.25h-1.25zM159.00 1054.40h1.25v1.25h-1.25zM159.00 1055.65h1.25v1.25h-1.25zM159.00 1056.90h1.25v1.25h-1.25zM159.00 1058.15h1.25v1.25h-1.25zM159.00 1059.40h1.25v1.25h-1.25zM159.00 1060.65h1.25v1.25h-1.25zM159.00 1061.90h1.25v1.25h-1.25zM159.00 1063.15h1.25v1.25h-1.25zM159.00 1064.40h1.25v1.25h-1.25zM159.00 1065.65h1.25v1.25h-1.25zM159.00 1066.90h1.25v1.25h-1.25zM159.00 1068.15h1.25v1.25h-1.25zM159.00 1069.40h1.25v1.25h-1.25zM159.00 1070.65h1.25v1.25h-1.25zM159.00 1071.90h1.25v1.25h-1.25zM159.00 1073.15h1.25v1.25h-1.25zM159.00 1078.15h1.25v1.25h-1.25zM160.25 1051.90h1.25v1.25h-1.25zM160.25 1053.15h1.25v1.25h-1.25zM160.25 1054.40h1.25v1.25h-1.25zM160.25 1055.65h1.25v1.25h-1.25zM160.25 1056.90h1.25v1.25h-1.25zM160.25 1058.15h1.25v1.25h-1.25zM160.25 1059.40h1.25v1.25h-1.25zM160.25 1060.65h1.25v1.25h-1.25zM160.25 1061.90h1.25v1.25h-1.25zM160.25 1063.15h1.25v1.25h-1.25zM160.25 1064.40h1.25v1.25h-1.25zM160.25 1065.65h1.25v1.25h-1.25zM160.25 1066.90h1.25v1.25h-1.25zM160.25 1068.15h1.25v1.25h-1.25zM160.25 1069.40h1.25v1.25h-1.25zM160.25 1070.65h1.25v1.25h-1.25zM160.25 1071.90h1.25v1.25h-1.25zM160.25 1073.15h1.25v1.25h-1.25zM160.25 1074.40h1.25v1.25h-1.25zM160.25 1075.65h1.25v1.25h-1.25zM160.25 1076.90h1.25v1.25h-1.25zM161.50 1051.90h1.25v1.25h-1.25zM161.50 1053.15h1.25v1.25h-1.25zM161.50 1054.40h1.25v1.25h-1.25zM161.50 1055.65h1.25v1.25h-1.25zM161.50 1056.90h1.25v1.25h-1.25zM161.50 1058.15h1.25v1.25h-1.25zM161.50 1059.40h1.25v1.25h-1.25zM161.50 1060.65h1.25v1.25h-1.25zM161.50 1061.90h1.25v1.25h-1.25zM161.50 1063.15h1.25v1.25h-1.25zM161.50 1064.40h1.25v1.25h-1.25zM161.50 1065.65h1.25v1.25h-1.25zM161.50 1068.15h1.25v1.25h-1.25zM161.50 1069.40h1.25v1.25h-1.25zM161.50 1074.40h1.25v1.25h-1.25zM161.50 1078.15h1.25v1.25h-1.25zM161.50 1079.40h1.25v1.25h-1.25zM161.50 1080.65h1.25v1.25h-1.25zM161.50 1081.90h1.25v1.25h-1.25zM162.75 1051.90h1.25v1.25h-1.25zM162.75 1053.15h1.25v1.25h-1.25zM162.75 1054.40h1.25v1.25h-1.25zM162.75 1055.65h1.25v1.25h-1.25zM162.75 1056.90h1.25v1.25h-1.25zM162.75 1058.15h1.25v1.25h-1.25zM162.75 1059.40h1.25v1.25h-1.25zM162.75 1060.65h1.25v1.25h-1.25zM162.75 1061.90h1.25v1.25h-1.25zM162.75 1063.15h1.25v1.25h-1.25zM162.75 1064.40h1.25v1.25h-1.25zM162.75 1066.90h1.25v1.25h-1.25zM162.75 1069.40h1.25v1.25h-1.25zM162.75 1070.65h1.25v1.25h-1.25zM162.75 1071.90h1.25v1.25h-1.25zM162.75 1073.15h1.25v1.25h-1.25zM162.75 1074.40h1.25v1.25h-1.25zM162.75 1075.65h1.25v1.25h-1.25zM162.75 1076.90h1.25v1.25h-1.25zM162.75 1081.90h1.25v1.25h-1.25zM164.00 1051.90h1.25v1.25h-1.25zM164.00 1053.15h1.25v1.25h-1.25zM164.00 1054.40h1.25v1.25h-1.25zM164.00 1055.65h1.25v1.25h-1.25zM164.00 1056.90h1.25v1.25h-1.25zM164.00 1058.15h1.25v1.25h-1.25zM164.00 1059.40h1.25v1.25h-1.25zM164.00 1060.65h1.25v1.25h-1.25zM164.00 1061.90h1.25v1.25h-1.25zM164.00 1063.15h1.25v1.25h-1.25zM164.00 1064.40h1.25v1.25h-1.25zM164.00 1065.65h1.25v1.25h-1.25zM164.00 1066.90h1.25v1.25h-1.25zM164.00 1069.40h1.25v1.25h-1.25zM164.00 1071.90h1.25v1.25h-1.25zM164.00 1073.15h1.25v1.25h-1.25zM164.00 1075.65h1.25v1.25h-1.25zM164.00 1076.90h1.25v1.25h-1.25zM164.00 1080.65h1.25v1.25h-1.25zM165.25 1050.65h1.25v1.25h-1.25zM165.25 1051.90h1.25v1.25h-1.25zM165.25 1053.15h1.25v1.25h-1.25zM165.25 1054.40h1.25v1.25h-1.25zM165.25 1055.65h1.25v1.25h-1.25zM165.25 1056.90h1.25v1.25h-1.25zM165.25 1058.15h1.25v1.25h-1.25zM165.25 1059.40h1.25v1.25h-1.25zM165.25 1060.65h1.25v1.25h-1.25zM165.25 1061.90h1.25v1.25h-1.25zM165.25 1063.15h1.25v1.25h-1.25zM165.25 1064.40h1.25v1.25h-1.25zM165.25 1065.65h1.25v1.25h-1.25zM165.25 1066.90h1.25v1.25h-1.25zM165.25 1069.40h1.25v1.25h-1.25zM165.25 1070.65h1.25v1.25h-1.25zM165.25 1073.15h1.25v1.25h-1.25zM165.25 1076.90h1.25v1.25h-1.25zM166.50 1050.65h1.25v1.25h-1.25zM166.50 1051.90h1.25v1.25h-1.25zM166.50 1053.15h1.25v1.25h-1.25zM166.50 1054.40h1.25v1.25h-1.25zM166.50 1055.65h1.25v1.25h-1.25zM166.50 1056.90h1.25v1.25h-1.25zM166.50 1058.15h1.25v1.25h-1.25zM166.50 1059.40h1.25v1.25h-1.25zM166.50 1060.65h1.25v1.25h-1.25zM166.50 1061.90h1.25v1.25h-1.25zM166.50 1063.15h1.25v1.25h-1.25zM166.50 1064.40h1.25v1.25h-1.25zM166.50 1066.90h1.25v1.25h-1.25zM166.50 1068.15h1.25v1.25h-1.25zM166.50 1069.40h1.25v1.25h-1.25zM166.50 1070.65h1.25v1.25h-1.25zM166.50 1071.90h1.25v1.25h-1.25zM166.50 1074.40h1.25v1.25h-1.25zM166.50 1075.65h1.25v1.25h-1.25zM166.50 1079.40h1.25v1.25h-1.25zM166.50 1080.65h1.25v1.25h-1.25zM166.50 1081.90h1.25v1.25h-1.25zM167.75 1050.65h1.25v1.25h-1.25zM167.75 1051.90h1.25v1.25h-1.25zM167.75 1053.15h1.25v1.25h-1.25zM167.75 1054.40h1.25v1.25h-1.25zM167.75 1055.65h1.25v1.25h-1.25zM167.75 1056.90h1.25v1.25h-1.25zM167.75 1058.15h1.25v1.25h-1.25zM167.75 1059.40h1.25v1.25h-1.25zM167.75 1060.65h1.25v1.25h-1.25zM167.75 1061.90h1.25v1.25h-1.25zM167.75 1063.15h1.25v1.25h-1.25zM167.75 1064.40h1.25v1.25h-1.25zM167.75 1065.65h1.25v1.25h-1.25zM167.75 1066.90h1.25v1.25h-1.25zM167.75 1068.15h1.25v1.25h-1.25zM167.75 1069.40h1.25v1.25h-1.25zM167.75 1070.65h1.25v1.25h-1.25zM167.75 1071.90h1.25v1.25h-1.25zM169.00 1050.65h1.25v1.25h-1.25zM169.00 1051.90h1.25v1.25h-1.25zM169.00 1053.15h1.25v1.25h-1.25zM169.00 1054.40h1.25v1.25h-1.25zM169.00 1055.65h1.25v1.25h-1.25zM169.00 1056.90h1.25v1.25h-1.25zM169.00 1058.15h1.25v1.25h-1.25zM169.00 1059.40h1.25v1.25h-1.25zM169.00 1060.65h1.25v1.25h-1.25zM169.00 1061.90h1.25v1.25h-1.25zM169.00 1063.15h1.25v1.25h-1.25zM169.00 1064.40h1.25v1.25h-1.25zM169.00 1065.65h1.25v1.25h-1.25zM169.00 1066.90h1.25v1.25h-1.25zM169.00 1070.65h1.25v1.25h-1.25zM169.00 1073.15h1.25v1.25h-1.25zM170.25 1050.65h1.25v1.25h-1.25zM170.25 1051.90h1.25v1.25h-1.25zM170.25 1053.15h1.25v1.25h-1.25zM170.25 1054.40h1.25v1.25h-1.25zM170.25 1055.65h1.25v1.25h-1.25zM170.25 1056.90h1.25v1.25h-1.25zM170.25 1058.15h1.25v1.25h-1.25zM170.25 1059.40h1.25v1.25h-1.25zM170.25 1060.65h1.25v1.25h-1.25zM170.25 1061.90h1.25v1.25h-1.25zM170.25 1063.15h1.25v1.25h-1.25zM170.25 1064.40h1.25v1.25h-1.25zM170.25 1065.65h1.25v1.25h-1.25zM170.25 1066.90h1.25v1.25h-1.25zM170.25 1068.15h1.25v1.25h-1.25zM170.25 1069.40h1.25v1.25h-1.25zM170.25 1071.90h1.25v1.25h-1.25zM170.25 1074.40h1.25v1.25h-1.25zM170.25 1078.15h1.25v1.25h-1.25zM171.50 1050.65h1.25v1.25h-1.25zM171.50 1051.90h1.25v1.25h-1.25zM171.50 1053.15h1.25v1.25h-1.25zM171.50 1054.40h1.25v1.25h-1.25zM171.50 1055.65h1.25v1.25h-1.25zM171.50 1056.90h1.25v1.25h-1.25zM171.50 1058.15h1.25v1.25h-1.25zM171.50 1059.40h1.25v1.25h-1.25zM171.50 1060.65h1.25v1.25h-1.25zM171.50 1061.90h1.25v1.25h-1.25zM171.50 1063.15h1.25v1.25h-1.25zM171.50 1064.40h1.25v1.25h-1.25zM171.50 1065.65h1.25v1.25h-1.25zM171.50 1068.15h1.25v1.25h-1.25zM171.50 1069.40h1.25v1.25h-1.25zM171.50 1071.90h1.25v1.25h-1.25zM171.50 1073.15h1.25v1.25h-1.25zM171.50 1078.15h1.25v1.25h-1.25zM171.50 1079.40h1.25v1.25h-1.25zM172.75 1050.65h1.25v1.25h-1.25zM172.75 1051.90h1.25v1.25h-1.25zM172.75 1053.15h1.25v1.25h-1.25zM172.75 1054.40h1.25v1.25h-1.25zM172.75 1055.65h1.25v1.25h-1.25zM172.75 1056.90h1.25v1.25h-1.25zM172.75 1058.15h1.25v1.25h-1.25zM172.75 1059.40h1.25v1.25h-1.25zM172.75 1060.65h1.25v1.25h-1.25zM172.75 1061.90h1.25v1.25h-1.25zM172.75 1063.15h1.25v1.25h-1.25zM172.75 1064.40h1.25v1.25h-1.25zM172.75 1065.65h1.25v1.25h-1.25zM172.75 1066.90h1.25v1.25h-1.25zM172.75 1068.15h1.25v1.25h-1.25zM172.75 1069.40h1.25v1.25h-1.25zM172.75 1071.90h1.25v1.25h-1.25zM172.75 1073.15h1.25v1.25h-1.25zM172.75 1075.65h1.25v1.25h-1.25zM174.00 1049.40h1.25v1.25h-1.25zM174.00 1050.65h1.25v1.25h-1.25zM174.00 1051.90h1.25v1.25h-1.25zM174.00 1053.15h1.25v1.25h-1.25zM174.00 1054.40h1.25v1.25h-1.25zM174.00 1055.65h1.25v1.25h-1.25zM174.00 1056.90h1.25v1.25h-1.25zM174.00 1058.15h1.25v1.25h-1.25zM174.00 1059.40h1.25v1.25h-1.25zM174.00 1060.65h1.25v1.25h-1.25zM174.00 1061.90h1.25v1.25h-1.25zM174.00 1063.15h1.25v1.25h-1.25zM174.00 1064.40h1.25v1.25h-1.25zM174.00 1065.65h1.25v1.25h-1.25zM174.00 1066.90h1.25v1.25h-1.25zM174.00 1068.15h1.25v1.25h-1.25zM174.00 1069.40h1.25v1.25h-1.25zM174.00 1070.65h1.25v1.25h-1.25zM174.00 1071.90h1.25v1.25h-1.25zM174.00 1074.40h1.25v1.25h-1.25zM174.00 1084.40h1.25v1.25h-1.25zM175.25 1049.40h1.25v1.25h-1.25zM175.25 1050.65h1.25v1.25h-1.25zM175.25 1051.90h1.25v1.25h-1.25zM175.25 1053.15h1.25v1.25h-1.25zM175.25 1054.40h1.25v1.25h-1.25zM175.25 1055.65h1.25v1.25h-1.25zM175.25 1056.90h1.25v1.25h-1.25zM175.25 1058.15h1.25v1.25h-1.25zM175.25 1059.40h1.25v1.25h-1.25zM175.25 1060.65h1.25v1.25h-1.25zM175.25 1061.90h1.25v1.25h-1.25zM175.25 1063.15h1.25v1.25h-1.25zM175.25 1064.40h1.25v1.25h-1.25zM175.25 1066.90h1.25v1.25h-1.25zM175.25 1068.15h1.25v1.25h-1.25zM175.25 1069.40h1.25v1.25h-1.25zM175.25 1070.65h1.25v1.25h-1.25zM175.25 1071.90h1.25v1.25h-1.25zM175.25 1073.15h1.25v1.25h-1.25zM175.25 1074.40h1.25v1.25h-1.25zM175.25 1075.65h1.25v1.25h-1.25zM175.25 1076.90h1.25v1.25h-1.25zM176.50 1049.40h1.25v1.25h-1.25zM176.50 1050.65h1.25v1.25h-1.25zM176.50 1051.90h1.25v1.25h-1.25zM176.50 1053.15h1.25v1.25h-1.25zM176.50 1054.40h1.25v1.25h-1.25zM176.50 1055.65h1.25v1.25h-1.25zM176.50 1056.90h1.25v1.25h-1.25zM176.50 1058.15h1.25v1.25h-1.25zM176.50 1059.40h1.25v1.25h-1.25zM176.50 1060.65h1.25v1.25h-1.25zM176.50 1061.90h1.25v1.25h-1.25zM176.50 1063.15h1.25v1.25h-1.25zM176.50 1064.40h1.25v1.25h-1.25zM176.50 1065.65h1.25v1.25h-1.25zM176.50 1066.90h1.25v1.25h-1.25zM176.50 1068.15h1.25v1.25h-1.25zM176.50 1069.40h1.25v1.25h-1.25zM176.50 1076.90h1.25v1.25h-1.25zM176.50 1078.15h1.25v1.25h-1.25zM176.50 1079.40h1.25v1.25h-1.25zM176.50 1080.65h1.25v1.25h-1.25zM177.75 1049.40h1.25v1.25h-1.25zM177.75 1050.65h1.25v1.25h-1.25zM177.75 1051.90h1.25v1.25h-1.25zM177.75 1053.15h1.25v1.25h-1.25zM177.75 1054.40h1.25v1.25h-1.25zM177.75 1055.65h1.25v1.25h-1.25zM177.75 1056.90h1.25v1.25h-1.25zM177.75 1058.15h1.25v1.25h-1.25zM177.75 1059.40h1.25v1.25h-1.25zM177.75 1060.65h1.25v1.25h-1.25zM177.75 1061.90h1.25v1.25h-1.25zM177.75 1063.15h1.25v1.25h-1.25zM177.75 1064.40h1.25v1.25h-1.25zM177.75 1065.65h1.25v1.25h-1.25zM177.75 1069.40h1.25v1.25h-1.25zM177.75 1070.65h1.25v1.25h-1.25zM177.75 1074.40h1.25v1.25h-1.25zM177.75 1075.65h1.25v1.25h-1.25zM179.00 1049.40h1.25v1.25h-1.25zM179.00 1050.65h1.25v1.25h-1.25zM179.00 1051.90h1.25v1.25h-1.25zM179.00 1053.15h1.25v1.25h-1.25zM179.00 1054.40h1.25v1.25h-1.25zM179.00 1055.65h1.25v1.25h-1.25zM179.00 1056.90h1.25v1.25h-1.25zM179.00 1058.15h1.25v1.25h-1.25zM179.00 1059.40h1.25v1.25h-1.25zM179.00 1060.65h1.25v1.25h-1.25zM179.00 1061.90h1.25v1.25h-1.25zM179.00 1063.15h1.25v1.25h-1.25zM179.00 1064.40h1.25v1.25h-1.25zM179.00 1065.65h1.25v1.25h-1.25zM179.00 1066.90h1.25v1.25h-1.25zM179.00 1069.40h1.25v1.25h-1.25zM179.00 1070.65h1.25v1.25h-1.25zM179.00 1071.90h1.25v1.25h-1.25zM179.00 1073.15h1.25v1.25h-1.25zM179.00 1076.90h1.25v1.25h-1.25zM179.00 1079.40h1.25v1.25h-1.25zM180.25 1049.40h1.25v1.25h-1.25zM180.25 1050.65h1.25v1.25h-1.25zM180.25 1051.90h1.25v1.25h-1.25zM180.25 1053.15h1.25v1.25h-1.25zM180.25 1054.40h1.25v1.25h-1.25zM180.25 1055.65h1.25v1.25h-1.25zM180.25 1056.90h1.25v1.25h-1.25zM180.25 1058.15h1.25v1.25h-1.25zM180.25 1059.40h1.25v1.25h-1.25zM180.25 1060.65h1.25v1.25h-1.25zM180.25 1061.90h1.25v1.25h-1.25zM180.25 1063.15h1.25v1.25h-1.25zM180.25 1064.40h1.25v1.25h-1.25zM180.25 1065.65h1.25v1.25h-1.25zM180.25 1066.90h1.25v1.25h-1.25zM180.25 1071.90h1.25v1.25h-1.25zM180.25 1074.40h1.25v1.25h-1.25zM180.25 1078.15h1.25v1.25h-1.25zM181.50 1049.40h1.25v1.25h-1.25zM181.50 1050.65h1.25v1.25h-1.25zM181.50 1051.90h1.25v1.25h-1.25zM181.50 1053.15h1.25v1.25h-1.25zM181.50 1054.40h1.25v1.25h-1.25zM181.50 1055.65h1.25v1.25h-1.25zM181.50 1056.90h1.25v1.25h-1.25zM181.50 1058.15h1.25v1.25h-1.25zM181.50 1059.40h1.25v1.25h-1.25zM181.50 1060.65h1.25v1.25h-1.25zM181.50 1061.90h1.25v1.25h-1.25zM181.50 1063.15h1.25v1.25h-1.25zM181.50 1064.40h1.25v1.25h-1.25zM181.50 1065.65h1.25v1.25h-1.25zM181.50 1066.90h1.25v1.25h-1.25zM181.50 1068.15h1.25v1.25h-1.25zM181.50 1069.40h1.25v1.25h-1.25zM181.50 1070.65h1.25v1.25h-1.25zM181.50 1071.90h1.25v1.25h-1.25zM181.50 1073.15h1.25v1.25h-1.25zM181.50 1074.40h1.25v1.25h-1.25zM181.50 1078.15h1.25v1.25h-1.25zM181.50 1081.90h1.25v1.25h-1.25zM182.75 1048.15h1.25v1.25h-1.25zM182.75 1049.40h1.25v1.25h-1.25zM182.75 1050.65h1.25v1.25h-1.25zM182.75 1051.90h1.25v1.25h-1.25zM182.75 1053.15h1.25v1.25h-1.25zM182.75 1054.40h1.25v1.25h-1.25zM182.75 1055.65h1.25v1.25h-1.25zM182.75 1056.90h1.25v1.25h-1.25zM182.75 1058.15h1.25v1.25h-1.25zM182.75 1059.40h1.25v1.25h-1.25zM182.75 1060.65h1.25v1.25h-1.25zM182.75 1061.90h1.25v1.25h-1.25zM182.75 1063.15h1.25v1.25h-1.25zM182.75 1064.40h1.25v1.25h-1.25zM182.75 1065.65h1.25v1.25h-1.25zM182.75 1068.15h1.25v1.25h-1.25zM182.75 1069.40h1.25v1.25h-1.25zM182.75 1070.65h1.25v1.25h-1.25zM182.75 1071.90h1.25v1.25h-1.25zM182.75 1073.15h1.25v1.25h-1.25zM182.75 1074.40h1.25v1.25h-1.25zM182.75 1075.65h1.25v1.25h-1.25zM184.00 1048.15h1.25v1.25h-1.25zM184.00 1049.40h1.25v1.25h-1.25zM184.00 1050.65h1.25v1.25h-1.25zM184.00 1051.90h1.25v1.25h-1.25zM184.00 1053.15h1.25v1.25h-1.25zM184.00 1054.40h1.25v1.25h-1.25zM184.00 1055.65h1.25v1.25h-1.25zM184.00 1056.90h1.25v1.25h-1.25zM184.00 1058.15h1.25v1.25h-1.25zM184.00 1059.40h1.25v1.25h-1.25zM184.00 1060.65h1.25v1.25h-1.25zM184.00 1061.90h1.25v1.25h-1.25zM184.00 1063.15h1.25v1.25h-1.25zM184.00 1064.40h1.25v1.25h-1.25zM184.00 1065.65h1.25v1.25h-1.25zM184.00 1066.90h1.25v1.25h-1.25zM184.00 1068.15h1.25v1.25h-1.25zM184.00 1070.65h1.25v1.25h-1.25zM184.00 1071.90h1.25v1.25h-1.25zM184.00 1073.15h1.25v1.25h-1.25zM184.00 1074.40h1.25v1.25h-1.25zM185.25 1048.15h1.25v1.25h-1.25zM185.25 1049.40h1.25v1.25h-1.25zM185.25 1050.65h1.25v1.25h-1.25zM185.25 1051.90h1.25v1.25h-1.25zM185.25 1053.15h1.25v1.25h-1.25zM185.25 1054.40h1.25v1.25h-1.25zM185.25 1055.65h1.25v1.25h-1.25zM185.25 1056.90h1.25v1.25h-1.25zM185.25 1058.15h1.25v1.25h-1.25zM185.25 1059.40h1.25v1.25h-1.25zM185.25 1060.65h1.25v1.25h-1.25zM185.25 1061.90h1.25v1.25h-1.25zM185.25 1064.40h1.25v1.25h-1.25zM185.25 1065.65h1.25v1.25h-1.25zM185.25 1066.90h1.25v1.25h-1.25zM185.25 1068.15h1.25v1.25h-1.25zM185.25 1069.40h1.25v1.25h-1.25zM185.25 1070.65h1.25v1.25h-1.25zM185.25 1074.40h1.25v1.25h-1.25zM185.25 1078.15h1.25v1.25h-1.25zM186.50 1048.15h1.25v1.25h-1.25zM186.50 1049.40h1.25v1.25h-1.25zM186.50 1050.65h1.25v1.25h-1.25zM186.50 1051.90h1.25v1.25h-1.25zM186.50 1053.15h1.25v1.25h-1.25zM186.50 1054.40h1.25v1.25h-1.25zM186.50 1055.65h1.25v1.25h-1.25zM186.50 1056.90h1.25v1.25h-1.25zM186.50 1058.15h1.25v1.25h-1.25zM186.50 1059.40h1.25v1.25h-1.25zM186.50 1060.65h1.25v1.25h-1.25zM186.50 1061.90h1.25v1.25h-1.25zM186.50 1063.15h1.25v1.25h-1.25zM186.50 1064.40h1.25v1.25h-1.25zM186.50 1065.65h1.25v1.25h-1.25zM186.50 1068.15h1.25v1.25h-1.25zM186.50 1069.40h1.25v1.25h-1.25zM186.50 1070.65h1.25v1.25h-1.25zM186.50 1073.15h1.25v1.25h-1.25zM187.75 1048.15h1.25v1.25h-1.25zM187.75 1049.40h1.25v1.25h-1.25zM187.75 1050.65h1.25v1.25h-1.25zM187.75 1051.90h1.25v1.25h-1.25zM187.75 1053.15h1.25v1.25h-1.25zM187.75 1054.40h1.25v1.25h-1.25zM187.75 1055.65h1.25v1.25h-1.25zM187.75 1056.90h1.25v1.25h-1.25zM187.75 1058.15h1.25v1.25h-1.25zM187.75 1059.40h1.25v1.25h-1.25zM187.75 1060.65h1.25v1.25h-1.25zM187.75 1061.90h1.25v1.25h-1.25zM187.75 1063.15h1.25v1.25h-1.25zM187.75 1064.40h1.25v1.25h-1.25zM187.75 1065.65h1.25v1.25h-1.25zM187.75 1066.90h1.25v1.25h-1.25zM187.75 1068.15h1.25v1.25h-1.25zM187.75 1070.65h1.25v1.25h-1.25zM187.75 1071.90h1.25v1.25h-1.25zM187.75 1073.15h1.25v1.25h-1.25zM189.00 1048.15h1.25v1.25h-1.25zM189.00 1049.40h1.25v1.25h-1.25zM189.00 1050.65h1.25v1.25h-1.25zM189.00 1051.90h1.25v1.25h-1.25zM189.00 1053.15h1.25v1.25h-1.25zM189.00 1054.40h1.25v1.25h-1.25zM189.00 1055.65h1.25v1.25h-1.25zM189.00 1056.90h1.25v1.25h-1.25zM189.00 1058.15h1.25v1.25h-1.25zM189.00 1059.40h1.25v1.25h-1.25zM189.00 1060.65h1.25v1.25h-1.25zM189.00 1061.90h1.25v1.25h-1.25zM189.00 1064.40h1.25v1.25h-1.25zM189.00 1065.65h1.25v1.25h-1.25zM189.00 1066.90h1.25v1.25h-1.25zM189.00 1069.40h1.25v1.25h-1.25zM189.00 1070.65h1.25v1.25h-1.25zM189.00 1073.15h1.25v1.25h-1.25zM190.25 1046.90h1.25v1.25h-1.25zM190.25 1048.15h1.25v1.25h-1.25zM190.25 1049.40h1.25v1.25h-1.25zM190.25 1050.65h1.25v1.25h-1.25zM190.25 1051.90h1.25v1.25h-1.25zM190.25 1053.15h1.25v1.25h-1.25zM190.25 1054.40h1.25v1.25h-1.25zM190.25 1055.65h1.25v1.25h-1.25zM190.25 1056.90h1.25v1.25h-1.25zM190.25 1058.15h1.25v1.25h-1.25zM190.25 1059.40h1.25v1.25h-1.25zM190.25 1060.65h1.25v1.25h-1.25zM190.25 1061.90h1.25v1.25h-1.25zM190.25 1063.15h1.25v1.25h-1.25zM190.25 1064.40h1.25v1.25h-1.25zM190.25 1065.65h1.25v1.25h-1.25zM190.25 1068.15h1.25v1.25h-1.25zM190.25 1069.40h1.25v1.25h-1.25zM190.25 1070.65h1.25v1.25h-1.25zM190.25 1071.90h1.25v1.25h-1.25zM191.50 1046.90h1.25v1.25h-1.25zM191.50 1048.15h1.25v1.25h-1.25zM191.50 1049.40h1.25v1.25h-1.25zM191.50 1050.65h1.25v1.25h-1.25zM191.50 1051.90h1.25v1.25h-1.25zM191.50 1053.15h1.25v1.25h-1.25zM191.50 1054.40h1.25v1.25h-1.25zM191.50 1055.65h1.25v1.25h-1.25zM191.50 1056.90h1.25v1.25h-1.25zM191.50 1058.15h1.25v1.25h-1.25zM191.50 1059.40h1.25v1.25h-1.25zM191.50 1060.65h1.25v1.25h-1.25zM191.50 1063.15h1.25v1.25h-1.25zM191.50 1064.40h1.25v1.25h-1.25zM191.50 1065.65h1.25v1.25h-1.25zM191.50 1066.90h1.25v1.25h-1.25zM191.50 1068.15h1.25v1.25h-1.25zM191.50 1070.65h1.25v1.25h-1.25zM191.50 1076.90h1.25v1.25h-1.25zM192.75 1046.90h1.25v1.25h-1.25zM192.75 1048.15h1.25v1.25h-1.25zM192.75 1049.40h1.25v1.25h-1.25zM192.75 1050.65h1.25v1.25h-1.25zM192.75 1051.90h1.25v1.25h-1.25zM192.75 1053.15h1.25v1.25h-1.25zM192.75 1054.40h1.25v1.25h-1.25zM192.75 1055.65h1.25v1.25h-1.25zM192.75 1056.90h1.25v1.25h-1.25zM192.75 1058.15h1.25v1.25h-1.25zM192.75 1059.40h1.25v1.25h-1.25zM192.75 1060.65h1.25v1.25h-1.25zM192.75 1061.90h1.25v1.25h-1.25zM192.75 1064.40h1.25v1.25h-1.25zM192.75 1065.65h1.25v1.25h-1.25zM192.75 1066.90h1.25v1.25h-1.25zM192.75 1068.15h1.25v1.25h-1.25zM192.75 1074.40h1.25v1.25h-1.25zM194.00 1046.90h1.25v1.25h-1.25zM194.00 1048.15h1.25v1.25h-1.25zM194.00 1049.40h1.25v1.25h-1.25zM194.00 1050.65h1.25v1.25h-1.25zM194.00 1051.90h1.25v1.25h-1.25zM194.00 1053.15h1.25v1.25h-1.25zM194.00 1054.40h1.25v1.25h-1.25zM194.00 1055.65h1.25v1.25h-1.25zM194.00 1056.90h1.25v1.25h-1.25zM194.00 1058.15h1.25v1.25h-1.25zM194.00 1059.40h1.25v1.25h-1.25zM194.00 1060.65h1.25v1.25h-1.25zM194.00 1061.90h1.25v1.25h-1.25zM194.00 1063.15h1.25v1.25h-1.25zM194.00 1064.40h1.25v1.25h-1.25zM194.00 1065.65h1.25v1.25h-1.25zM194.00 1066.90h1.25v1.25h-1.25zM194.00 1068.15h1.25v1.25h-1.25zM194.00 1070.65h1.25v1.25h-1.25zM194.00 1073.15h1.25v1.25h-1.25zM194.00 1074.40h1.25v1.25h-1.25zM194.00 1075.65h1.25v1.25h-1.25zM195.25 1046.90h1.25v1.25h-1.25zM195.25 1048.15h1.25v1.25h-1.25zM195.25 1049.40h1.25v1.25h-1.25zM195.25 1050.65h1.25v1.25h-1.25zM195.25 1051.90h1.25v1.25h-1.25zM195.25 1053.15h1.25v1.25h-1.25zM195.25 1054.40h1.25v1.25h-1.25zM195.25 1055.65h1.25v1.25h-1.25zM195.25 1056.90h1.25v1.25h-1.25zM195.25 1058.15h1.25v1.25h-1.25zM195.25 1059.40h1.25v1.25h-1.25zM195.25 1061.90h1.25v1.25h-1.25zM195.25 1063.15h1.25v1.25h-1.25zM195.25 1064.40h1.25v1.25h-1.25zM195.25 1066.90h1.25v1.25h-1.25zM195.25 1069.40h1.25v1.25h-1.25zM195.25 1075.65h1.25v1.25h-1.25zM195.25 1076.90h1.25v1.25h-1.25zM196.50 1046.90h1.25v1.25h-1.25zM196.50 1048.15h1.25v1.25h-1.25zM196.50 1049.40h1.25v1.25h-1.25zM196.50 1050.65h1.25v1.25h-1.25zM196.50 1051.90h1.25v1.25h-1.25zM196.50 1053.15h1.25v1.25h-1.25zM196.50 1054.40h1.25v1.25h-1.25zM196.50 1055.65h1.25v1.25h-1.25zM196.50 1056.90h1.25v1.25h-1.25zM196.50 1058.15h1.25v1.25h-1.25zM196.50 1059.40h1.25v1.25h-1.25zM196.50 1060.65h1.25v1.25h-1.25zM196.50 1063.15h1.25v1.25h-1.25zM196.50 1064.40h1.25v1.25h-1.25zM196.50 1065.65h1.25v1.25h-1.25zM196.50 1068.15h1.25v1.25h-1.25zM196.50 1069.40h1.25v1.25h-1.25zM196.50 1071.90h1.25v1.25h-1.25zM196.50 1074.40h1.25v1.25h-1.25zM197.75 1045.65h1.25v1.25h-1.25zM197.75 1046.90h1.25v1.25h-1.25zM197.75 1048.15h1.25v1.25h-1.25zM197.75 1049.40h1.25v1.25h-1.25zM197.75 1050.65h1.25v1.25h-1.25zM197.75 1051.90h1.25v1.25h-1.25zM197.75 1053.15h1.25v1.25h-1.25zM197.75 1054.40h1.25v1.25h-1.25zM197.75 1055.65h1.25v1.25h-1.25zM197.75 1056.90h1.25v1.25h-1.25zM197.75 1058.15h1.25v1.25h-1.25zM197.75 1059.40h1.25v1.25h-1.25zM197.75 1060.65h1.25v1.25h-1.25zM197.75 1063.15h1.25v1.25h-1.25zM197.75 1065.65h1.25v1.25h-1.25zM197.75 1066.90h1.25v1.25h-1.25zM197.75 1068.15h1.25v1.25h-1.25zM197.75 1069.40h1.25v1.25h-1.25zM197.75 1073.15h1.25v1.25h-1.25zM197.75 1075.65h1.25v1.25h-1.25zM199.00 1045.65h1.25v1.25h-1.25zM199.00 1046.90h1.25v1.25h-1.25zM199.00 1048.15h1.25v1.25h-1.25zM199.00 1049.40h1.25v1.25h-1.25zM199.00 1050.65h1.25v1.25h-1.25zM199.00 1051.90h1.25v1.25h-1.25zM199.00 1053.15h1.25v1.25h-1.25zM199.00 1054.40h1.25v1.25h-1.25zM199.00 1055.65h1.25v1.25h-1.25zM199.00 1056.90h1.25v1.25h-1.25zM199.00 1058.15h1.25v1.25h-1.25zM199.00 1059.40h1.25v1.25h-1.25zM199.00 1061.90h1.25v1.25h-1.25zM199.00 1063.15h1.25v1.25h-1.25zM199.00 1065.65h1.25v1.25h-1.25zM199.00 1066.90h1.25v1.25h-1.25zM199.00 1068.15h1.25v1.25h-1.25zM199.00 1069.40h1.25v1.25h-1.25zM200.25 1045.65h1.25v1.25h-1.25zM200.25 1046.90h1.25v1.25h-1.25zM200.25 1048.15h1.25v1.25h-1.25zM200.25 1049.40h1.25v1.25h-1.25zM200.25 1050.65h1.25v1.25h-1.25zM200.25 1051.90h1.25v1.25h-1.25zM200.25 1053.15h1.25v1.25h-1.25zM200.25 1054.40h1.25v1.25h-1.25zM200.25 1055.65h1.25v1.25h-1.25zM200.25 1056.90h1.25v1.25h-1.25zM200.25 1058.15h1.25v1.25h-1.25zM200.25 1060.65h1.25v1.25h-1.25zM200.25 1061.90h1.25v1.25h-1.25zM200.25 1064.40h1.25v1.25h-1.25zM200.25 1066.90h1.25v1.25h-1.25zM200.25 1068.15h1.25v1.25h-1.25zM200.25 1073.15h1.25v1.25h-1.25zM200.25 1075.65h1.25v1.25h-1.25zM200.25 1078.15h1.25v1.25h-1.25zM201.50 1045.65h1.25v1.25h-1.25zM201.50 1046.90h1.25v1.25h-1.25zM201.50 1048.15h1.25v1.25h-1.25zM201.50 1049.40h1.25v1.25h-1.25zM201.50 1050.65h1.25v1.25h-1.25zM201.50 1051.90h1.25v1.25h-1.25zM201.50 1053.15h1.25v1.25h-1.25zM201.50 1054.40h1.25v1.25h-1.25zM201.50 1055.65h1.25v1.25h-1.25zM201.50 1056.90h1.25v1.25h-1.25zM201.50 1058.15h1.25v1.25h-1.25zM201.50 1059.40h1.25v1.25h-1.25zM201.50 1060.65h1.25v1.25h-1.25zM201.50 1061.90h1.25v1.25h-1.25zM201.50 1065.65h1.25v1.25h-1.25zM201.50 1069.40h1.25v1.25h-1.25zM201.50 1070.65h1.25v1.25h-1.25zM202.75 1045.65h1.25v1.25h-1.25zM202.75 1046.90h1.25v1.25h-1.25zM202.75 1048.15h1.25v1.25h-1.25zM202.75 1049.40h1.25v1.25h-1.25zM202.75 1050.65h1.25v1.25h-1.25zM202.75 1051.90h1.25v1.25h-1.25zM202.75 1053.15h1.25v1.25h-1.25zM202.75 1054.40h1.25v1.25h-1.25zM202.75 1055.65h1.25v1.25h-1.25zM202.75 1056.90h1.25v1.25h-1.25zM202.75 1058.15h1.25v1.25h-1.25zM202.75 1059.40h1.25v1.25h-1.25zM202.75 1061.90h1.25v1.25h-1.25zM202.75 1063.15h1.25v1.25h-1.25zM202.75 1065.65h1.25v1.25h-1.25zM202.75 1070.65h1.25v1.25h-1.25zM202.75 1071.90h1.25v1.25h-1.25zM204.00 1045.65h1.25v1.25h-1.25zM204.00 1046.90h1.25v1.25h-1.25zM204.00 1048.15h1.25v1.25h-1.25zM204.00 1049.40h1.25v1.25h-1.25zM204.00 1050.65h1.25v1.25h-1.25zM204.00 1051.90h1.25v1.25h-1.25zM204.00 1053.15h1.25v1.25h-1.25zM204.00 1054.40h1.25v1.25h-1.25zM204.00 1055.65h1.25v1.25h-1.25zM204.00 1056.90h1.25v1.25h-1.25zM204.00 1058.15h1.25v1.25h-1.25zM204.00 1059.40h1.25v1.25h-1.25zM204.00 1060.65h1.25v1.25h-1.25zM204.00 1061.90h1.25v1.25h-1.25zM204.00 1063.15h1.25v1.25h-1.25zM204.00 1065.65h1.25v1.25h-1.25zM204.00 1066.90h1.25v1.25h-1.25zM204.00 1068.15h1.25v1.25h-1.25zM204.00 1069.40h1.25v1.25h-1.25zM205.25 1044.40h1.25v1.25h-1.25zM205.25 1045.65h1.25v1.25h-1.25zM205.25 1046.90h1.25v1.25h-1.25zM205.25 1048.15h1.25v1.25h-1.25zM205.25 1049.40h1.25v1.25h-1.25zM205.25 1050.65h1.25v1.25h-1.25zM205.25 1051.90h1.25v1.25h-1.25zM205.25 1053.15h1.25v1.25h-1.25zM205.25 1054.40h1.25v1.25h-1.25zM205.25 1055.65h1.25v1.25h-1.25zM205.25 1056.90h1.25v1.25h-1.25zM205.25 1058.15h1.25v1.25h-1.25zM205.25 1059.40h1.25v1.25h-1.25zM205.25 1060.65h1.25v1.25h-1.25zM205.25 1061.90h1.25v1.25h-1.25zM205.25 1064.40h1.25v1.25h-1.25zM205.25 1066.90h1.25v1.25h-1.25zM205.25 1068.15h1.25v1.25h-1.25zM205.25 1070.65h1.25v1.25h-1.25zM206.50 1044.40h1.25v1.25h-1.25zM206.50 1045.65h1.25v1.25h-1.25zM206.50 1046.90h1.25v1.25h-1.25zM206.50 1048.15h1.25v1.25h-1.25zM206.50 1049.40h1.25v1.25h-1.25zM206.50 1050.65h1.25v1.25h-1.25zM206.50 1051.90h1.25v1.25h-1.25zM206.50 1053.15h1.25v1.25h-1.25zM206.50 1054.40h1.25v1.25h-1.25zM206.50 1055.65h1.25v1.25h-1.25zM206.50 1056.90h1.25v1.25h-1.25zM206.50 1058.15h1.25v1.25h-1.25zM206.50 1059.40h1.25v1.25h-1.25zM206.50 1060.65h1.25v1.25h-1.25zM206.50 1061.90h1.25v1.25h-1.25zM206.50 1063.15h1.25v1.25h-1.25zM206.50 1064.40h1.25v1.25h-1.25zM206.50 1074.40h1.25v1.25h-1.25zM206.50 1076.90h1.25v1.25h-1.25zM207.75 1044.40h1.25v1.25h-1.25zM207.75 1045.65h1.25v1.25h-1.25zM207.75 1046.90h1.25v1.25h-1.25zM207.75 1048.15h1.25v1.25h-1.25zM207.75 1049.40h1.25v1.25h-1.25zM207.75 1050.65h1.25v1.25h-1.25zM207.75 1051.90h1.25v1.25h-1.25zM207.75 1053.15h1.25v1.25h-1.25zM207.75 1054.40h1.25v1.25h-1.25zM207.75 1055.65h1.25v1.25h-1.25zM207.75 1056.90h1.25v1.25h-1.25zM207.75 1058.15h1.25v1.25h-1.25zM207.75 1059.40h1.25v1.25h-1.25zM207.75 1060.65h1.25v1.25h-1.25zM207.75 1064.40h1.25v1.25h-1.25zM207.75 1065.65h1.25v1.25h-1.25zM207.75 1066.90h1.25v1.25h-1.25zM207.75 1069.40h1.25v1.25h-1.25zM207.75 1070.65h1.25v1.25h-1.25zM207.75 1075.65h1.25v1.25h-1.25zM209.00 1044.40h1.25v1.25h-1.25zM209.00 1045.65h1.25v1.25h-1.25zM209.00 1046.90h1.25v1.25h-1.25zM209.00 1048.15h1.25v1.25h-1.25zM209.00 1049.40h1.25v1.25h-1.25zM209.00 1050.65h1.25v1.25h-1.25zM209.00 1051.90h1.25v1.25h-1.25zM209.00 1053.15h1.25v1.25h-1.25zM209.00 1054.40h1.25v1.25h-1.25zM209.00 1055.65h1.25v1.25h-1.25zM209.00 1056.90h1.25v1.25h-1.25zM209.00 1059.40h1.25v1.25h-1.25zM209.00 1060.65h1.25v1.25h-1.25zM209.00 1066.90h1.25v1.25h-1.25zM209.00 1068.15h1.25v1.25h-1.25zM209.00 1071.90h1.25v1.25h-1.25zM209.00 1073.15h1.25v1.25h-1.25zM210.25 1044.40h1.25v1.25h-1.25zM210.25 1045.65h1.25v1.25h-1.25zM210.25 1046.90h1.25v1.25h-1.25zM210.25 1048.15h1.25v1.25h-1.25zM210.25 1049.40h1.25v1.25h-1.25zM210.25 1050.65h1.25v1.25h-1.25zM210.25 1051.90h1.25v1.25h-1.25zM210.25 1053.15h1.25v1.25h-1.25zM210.25 1054.40h1.25v1.25h-1.25zM210.25 1055.65h1.25v1.25h-1.25zM210.25 1056.90h1.25v1.25h-1.25zM210.25 1058.15h1.25v1.25h-1.25zM210.25 1059.40h1.25v1.25h-1.25zM210.25 1060.65h1.25v1.25h-1.25zM210.25 1061.90h1.25v1.25h-1.25zM210.25 1063.15h1.25v1.25h-1.25zM210.25 1064.40h1.25v1.25h-1.25zM210.25 1065.65h1.25v1.25h-1.25zM210.25 1066.90h1.25v1.25h-1.25zM210.25 1071.90h1.25v1.25h-1.25zM211.50 1044.40h1.25v1.25h-1.25zM211.50 1045.65h1.25v1.25h-1.25zM211.50 1046.90h1.25v1.25h-1.25zM211.50 1048.15h1.25v1.25h-1.25zM211.50 1049.40h1.25v1.25h-1.25zM211.50 1050.65h1.25v1.25h-1.25zM211.50 1051.90h1.25v1.25h-1.25zM211.50 1053.15h1.25v1.25h-1.25zM211.50 1054.40h1.25v1.25h-1.25zM211.50 1055.65h1.25v1.25h-1.25zM211.50 1056.90h1.25v1.25h-1.25zM211.50 1058.15h1.25v1.25h-1.25zM211.50 1059.40h1.25v1.25h-1.25zM211.50 1060.65h1.25v1.25h-1.25zM211.50 1063.15h1.25v1.25h-1.25zM211.50 1070.65h1.25v1.25h-1.25zM211.50 1074.40h1.25v1.25h-1.25zM212.75 1043.15h1.25v1.25h-1.25zM212.75 1044.40h1.25v1.25h-1.25zM212.75 1045.65h1.25v1.25h-1.25zM212.75 1046.90h1.25v1.25h-1.25zM212.75 1048.15h1.25v1.25h-1.25zM212.75 1049.40h1.25v1.25h-1.25zM212.75 1050.65h1.25v1.25h-1.25zM212.75 1051.90h1.25v1.25h-1.25zM212.75 1053.15h1.25v1.25h-1.25zM212.75 1054.40h1.25v1.25h-1.25zM212.75 1055.65h1.25v1.25h-1.25zM212.75 1056.90h1.25v1.25h-1.25zM212.75 1058.15h1.25v1.25h-1.25zM212.75 1059.40h1.25v1.25h-1.25zM212.75 1060.65h1.25v1.25h-1.25zM212.75 1061.90h1.25v1.25h-1.25zM212.75 1064.40h1.25v1.25h-1.25zM212.75 1065.65h1.25v1.25h-1.25zM212.75 1075.65h1.25v1.25h-1.25zM214.00 1043.15h1.25v1.25h-1.25zM214.00 1044.40h1.25v1.25h-1.25zM214.00 1045.65h1.25v1.25h-1.25zM214.00 1046.90h1.25v1.25h-1.25zM214.00 1048.15h1.25v1.25h-1.25zM214.00 1049.40h1.25v1.25h-1.25zM214.00 1050.65h1.25v1.25h-1.25zM214.00 1051.90h1.25v1.25h-1.25zM214.00 1053.15h1.25v1.25h-1.25zM214.00 1054.40h1.25v1.25h-1.25zM214.00 1055.65h1.25v1.25h-1.25zM214.00 1056.90h1.25v1.25h-1.25zM214.00 1058.15h1.25v1.25h-1.25zM214.00 1059.40h1.25v1.25h-1.25zM214.00 1061.90h1.25v1.25h-1.25zM214.00 1065.65h1.25v1.25h-1.25zM214.00 1066.90h1.25v1.25h-1.25zM214.00 1068.15h1.25v1.25h-1.25zM214.00 1070.65h1.25v1.25h-1.25zM215.25 1043.15h1.25v1.25h-1.25zM215.25 1044.40h1.25v1.25h-1.25zM215.25 1045.65h1.25v1.25h-1.25zM215.25 1046.90h1.25v1.25h-1.25zM215.25 1048.15h1.25v1.25h-1.25zM215.25 1049.40h1.25v1.25h-1.25zM215.25 1050.65h1.25v1.25h-1.25zM215.25 1051.90h1.25v1.25h-1.25zM215.25 1053.15h1.25v1.25h-1.25zM215.25 1054.40h1.25v1.25h-1.25zM215.25 1055.65h1.25v1.25h-1.25zM215.25 1056.90h1.25v1.25h-1.25zM215.25 1058.15h1.25v1.25h-1.25zM215.25 1060.65h1.25v1.25h-1.25zM215.25 1061.90h1.25v1.25h-1.25zM215.25 1063.15h1.25v1.25h-1.25zM215.25 1070.65h1.25v1.25h-1.25zM216.50 1043.15h1.25v1.25h-1.25zM216.50 1044.40h1.25v1.25h-1.25zM216.50 1045.65h1.25v1.25h-1.25zM216.50 1046.90h1.25v1.25h-1.25zM216.50 1048.15h1.25v1.25h-1.25zM216.50 1049.40h1.25v1.25h-1.25zM216.50 1050.65h1.25v1.25h-1.25zM216.50 1051.90h1.25v1.25h-1.25zM216.50 1053.15h1.25v1.25h-1.25zM216.50 1054.40h1.25v1.25h-1.25zM216.50 1055.65h1.25v1.25h-1.25zM216.50 1056.90h1.25v1.25h-1.25zM216.50 1058.15h1.25v1.25h-1.25zM216.50 1059.40h1.25v1.25h-1.25zM216.50 1061.90h1.25v1.25h-1.25zM216.50 1063.15h1.25v1.25h-1.25zM216.50 1064.40h1.25v1.25h-1.25zM216.50 1065.65h1.25v1.25h-1.25zM216.50 1066.90h1.25v1.25h-1.25zM216.50 1068.15h1.25v1.25h-1.25zM216.50 1075.65h1.25v1.25h-1.25zM217.75 1043.15h1.25v1.25h-1.25zM217.75 1044.40h1.25v1.25h-1.25zM217.75 1045.65h1.25v1.25h-1.25zM217.75 1046.90h1.25v1.25h-1.25zM217.75 1048.15h1.25v1.25h-1.25zM217.75 1049.40h1.25v1.25h-1.25zM217.75 1050.65h1.25v1.25h-1.25zM217.75 1051.90h1.25v1.25h-1.25zM217.75 1053.15h1.25v1.25h-1.25zM217.75 1054.40h1.25v1.25h-1.25zM217.75 1055.65h1.25v1.25h-1.25zM217.75 1056.90h1.25v1.25h-1.25zM217.75 1058.15h1.25v1.25h-1.25zM217.75 1059.40h1.25v1.25h-1.25zM217.75 1061.90h1.25v1.25h-1.25zM217.75 1063.15h1.25v1.25h-1.25zM217.75 1064.40h1.25v1.25h-1.25zM219.00 1041.90h1.25v1.25h-1.25zM219.00 1043.15h1.25v1.25h-1.25zM219.00 1044.40h1.25v1.25h-1.25zM219.00 1045.65h1.25v1.25h-1.25zM219.00 1046.90h1.25v1.25h-1.25zM219.00 1048.15h1.25v1.25h-1.25zM219.00 1049.40h1.25v1.25h-1.25zM219.00 1050.65h1.25v1.25h-1.25zM219.00 1051.90h1.25v1.25h-1.25zM219.00 1053.15h1.25v1.25h-1.25zM219.00 1054.40h1.25v1.25h-1.25zM219.00 1055.65h1.25v1.25h-1.25zM219.00 1056.90h1.25v1.25h-1.25zM219.00 1058.15h1.25v1.25h-1.25zM219.00 1059.40h1.25v1.25h-1.25zM219.00 1061.90h1.25v1.25h-1.25zM219.00 1063.15h1.25v1.25h-1.25zM219.00 1068.15h1.25v1.25h-1.25zM220.25 1041.90h1.25v1.25h-1.25zM220.25 1043.15h1.25v1.25h-1.25zM220.25 1044.40h1.25v1.25h-1.25zM220.25 1045.65h1.25v1.25h-1.25zM220.25 1046.90h1.25v1.25h-1.25zM220.25 1048.15h1.25v1.25h-1.25zM220.25 1049.40h1.25v1.25h-1.25zM220.25 1050.65h1.25v1.25h-1.25zM220.25 1051.90h1.25v1.25h-1.25zM220.25 1053.15h1.25v1.25h-1.25zM220.25 1054.40h1.25v1.25h-1.25zM220.25 1055.65h1.25v1.25h-1.25zM220.25 1058.15h1.25v1.25h-1.25zM220.25 1060.65h1.25v1.25h-1.25zM220.25 1061.90h1.25v1.25h-1.25zM220.25 1069.40h1.25v1.25h-1.25zM220.25 1070.65h1.25v1.25h-1.25zM221.50 1041.90h1.25v1.25h-1.25zM221.50 1043.15h1.25v1.25h-1.25zM221.50 1044.40h1.25v1.25h-1.25zM221.50 1045.65h1.25v1.25h-1.25zM221.50 1046.90h1.25v1.25h-1.25zM221.50 1048.15h1.25v1.25h-1.25zM221.50 1049.40h1.25v1.25h-1.25zM221.50 1050.65h1.25v1.25h-1.25zM221.50 1051.90h1.25v1.25h-1.25zM221.50 1053.15h1.25v1.25h-1.25zM221.50 1054.40h1.25v1.25h-1.25zM221.50 1055.65h1.25v1.25h-1.25zM221.50 1056.90h1.25v1.25h-1.25zM221.50 1058.15h1.25v1.25h-1.25zM221.50 1059.40h1.25v1.25h-1.25zM221.50 1061.90h1.25v1.25h-1.25zM221.50 1065.65h1.25v1.25h-1.25zM221.50 1068.15h1.25v1.25h-1.25zM222.75 1041.90h1.25v1.25h-1.25zM222.75 1043.15h1.25v1.25h-1.25zM222.75 1044.40h1.25v1.25h-1.25zM222.75 1045.65h1.25v1.25h-1.25zM222.75 1046.90h1.25v1.25h-1.25zM222.75 1048.15h1.25v1.25h-1.25zM222.75 1049.40h1.25v1.25h-1.25zM222.75 1050.65h1.25v1.25h-1.25zM222.75 1051.90h1.25v1.25h-1.25zM222.75 1053.15h1.25v1.25h-1.25zM222.75 1054.40h1.25v1.25h-1.25zM222.75 1055.65h1.25v1.25h-1.25zM222.75 1056.90h1.25v1.25h-1.25zM222.75 1058.15h1.25v1.25h-1.25zM222.75 1059.40h1.25v1.25h-1.25zM222.75 1060.65h1.25v1.25h-1.25zM222.75 1061.90h1.25v1.25h-1.25zM222.75 1066.90h1.25v1.25h-1.25zM222.75 1068.15h1.25v1.25h-1.25zM224.00 1041.90h1.25v1.25h-1.25zM224.00 1043.15h1.25v1.25h-1.25zM224.00 1044.40h1.25v1.25h-1.25zM224.00 1045.65h1.25v1.25h-1.25zM224.00 1046.90h1.25v1.25h-1.25zM224.00 1048.15h1.25v1.25h-1.25zM224.00 1049.40h1.25v1.25h-1.25zM224.00 1050.65h1.25v1.25h-1.25zM224.00 1051.90h1.25v1.25h-1.25zM224.00 1053.15h1.25v1.25h-1.25zM224.00 1054.40h1.25v1.25h-1.25zM224.00 1055.65h1.25v1.25h-1.25zM224.00 1058.15h1.25v1.25h-1.25zM224.00 1059.40h1.25v1.25h-1.25zM224.00 1061.90h1.25v1.25h-1.25zM224.00 1063.15h1.25v1.25h-1.25zM224.00 1064.40h1.25v1.25h-1.25zM224.00 1065.65h1.25v1.25h-1.25zM224.00 1069.40h1.25v1.25h-1.25zM225.25 1041.90h1.25v1.25h-1.25zM225.25 1043.15h1.25v1.25h-1.25zM225.25 1044.40h1.25v1.25h-1.25zM225.25 1045.65h1.25v1.25h-1.25zM225.25 1046.90h1.25v1.25h-1.25zM225.25 1048.15h1.25v1.25h-1.25zM225.25 1049.40h1.25v1.25h-1.25zM225.25 1050.65h1.25v1.25h-1.25zM225.25 1051.90h1.25v1.25h-1.25zM225.25 1053.15h1.25v1.25h-1.25zM225.25 1054.40h1.25v1.25h-1.25zM225.25 1055.65h1.25v1.25h-1.25zM225.25 1058.15h1.25v1.25h-1.25zM225.25 1059.40h1.25v1.25h-1.25zM225.25 1065.65h1.25v1.25h-1.25zM226.50 1040.65h1.25v1.25h-1.25zM226.50 1041.90h1.25v1.25h-1.25zM226.50 1043.15h1.25v1.25h-1.25zM226.50 1044.40h1.25v1.25h-1.25zM226.50 1045.65h1.25v1.25h-1.25zM226.50 1046.90h1.25v1.25h-1.25zM226.50 1048.15h1.25v1.25h-1.25zM226.50 1049.40h1.25v1.25h-1.25zM226.50 1050.65h1.25v1.25h-1.25zM226.50 1051.90h1.25v1.25h-1.25zM226.50 1053.15h1.25v1.25h-1.25zM226.50 1054.40h1.25v1.25h-1.25zM226.50 1055.65h1.25v1.25h-1.25zM226.50 1056.90h1.25v1.25h-1.25zM226.50 1061.90h1.25v1.25h-1.25zM226.50 1063.15h1.25v1.25h-1.25zM226.50 1064.40h1.25v1.25h-1.25zM226.50 1065.65h1.25v1.25h-1.25zM226.50 1068.15h1.25v1.25h-1.25zM226.50 1071.90h1.25v1.25h-1.25zM227.75 1040.65h1.25v1.25h-1.25zM227.75 1041.90h1.25v1.25h-1.25zM227.75 1043.15h1.25v1.25h-1.25zM227.75 1044.40h1.25v1.25h-1.25zM227.75 1045.65h1.25v1.25h-1.25zM227.75 1046.90h1.25v1.25h-1.25zM227.75 1048.15h1.25v1.25h-1.25zM227.75 1049.40h1.25v1.25h-1.25zM227.75 1050.65h1.25v1.25h-1.25zM227.75 1051.90h1.25v1.25h-1.25zM227.75 1053.15h1.25v1.25h-1.25zM227.75 1054.40h1.25v1.25h-1.25zM227.75 1055.65h1.25v1.25h-1.25zM227.75 1056.90h1.25v1.25h-1.25zM227.75 1060.65h1.25v1.25h-1.25zM227.75 1061.90h1.25v1.25h-1.25zM227.75 1065.65h1.25v1.25h-1.25zM229.00 1040.65h1.25v1.25h-1.25zM229.00 1041.90h1.25v1.25h-1.25zM229.00 1043.15h1.25v1.25h-1.25zM229.00 1044.40h1.25v1.25h-1.25zM229.00 1045.65h1.25v1.25h-1.25zM229.00 1046.90h1.25v1.25h-1.25zM229.00 1048.15h1.25v1.25h-1.25zM229.00 1049.40h1.25v1.25h-1.25zM229.00 1050.65h1.25v1.25h-1.25zM229.00 1051.90h1.25v1.25h-1.25zM229.00 1053.15h1.25v1.25h-1.25zM229.00 1054.40h1.25v1.25h-1.25zM229.00 1055.65h1.25v1.25h-1.25zM229.00 1056.90h1.25v1.25h-1.25zM229.00 1058.15h1.25v1.25h-1.25zM229.00 1059.40h1.25v1.25h-1.25zM229.00 1060.65h1.25v1.25h-1.25zM229.00 1061.90h1.25v1.25h-1.25zM229.00 1063.15h1.25v1.25h-1.25zM229.00 1064.40h1.25v1.25h-1.25zM230.25 1040.65h1.25v1.25h-1.25zM230.25 1041.90h1.25v1.25h-1.25zM230.25 1043.15h1.25v1.25h-1.25zM230.25 1044.40h1.25v1.25h-1.25zM230.25 1045.65h1.25v1.25h-1.25zM230.25 1046.90h1.25v1.25h-1.25zM230.25 1048.15h1.25v1.25h-1.25zM230.25 1049.40h1.25v1.25h-1.25zM230.25 1050.65h1.25v1.25h-1.25zM230.25 1051.90h1.25v1.25h-1.25zM230.25 1053.15h1.25v1.25h-1.25zM230.25 1054.40h1.25v1.25h-1.25zM230.25 1055.65h1.25v1.25h-1.25zM230.25 1056.90h1.25v1.25h-1.25zM230.25 1058.15h1.25v1.25h-1.25zM230.25 1059.40h1.25v1.25h-1.25zM230.25 1061.90h1.25v1.25h-1.25zM230.25 1065.65h1.25v1.25h-1.25zM230.25 1068.15h1.25v1.25h-1.25zM230.25 1070.65h1.25v1.25h-1.25zM231.50 1040.65h1.25v1.25h-1.25zM231.50 1041.90h1.25v1.25h-1.25zM231.50 1043.15h1.25v1.25h-1.25zM231.50 1044.40h1.25v1.25h-1.25zM231.50 1045.65h1.25v1.25h-1.25zM231.50 1046.90h1.25v1.25h-1.25zM231.50 1048.15h1.25v1.25h-1.25zM231.50 1049.40h1.25v1.25h-1.25zM231.50 1050.65h1.25v1.25h-1.25zM231.50 1051.90h1.25v1.25h-1.25zM231.50 1053.15h1.25v1.25h-1.25zM231.50 1054.40h1.25v1.25h-1.25zM231.50 1055.65h1.25v1.25h-1.25zM231.50 1059.40h1.25v1.25h-1.25zM231.50 1060.65h1.25v1.25h-1.25zM231.50 1061.90h1.25v1.25h-1.25zM231.50 1064.40h1.25v1.25h-1.25zM232.75 1039.40h1.25v1.25h-1.25zM232.75 1040.65h1.25v1.25h-1.25zM232.75 1041.90h1.25v1.25h-1.25zM232.75 1043.15h1.25v1.25h-1.25zM232.75 1044.40h1.25v1.25h-1.25zM232.75 1045.65h1.25v1.25h-1.25zM232.75 1046.90h1.25v1.25h-1.25zM232.75 1048.15h1.25v1.25h-1.25zM232.75 1049.40h1.25v1.25h-1.25zM232.75 1050.65h1.25v1.25h-1.25zM232.75 1051.90h1.25v1.25h-1.25zM232.75 1053.15h1.25v1.25h-1.25zM232.75 1055.65h1.25v1.25h-1.25zM232.75 1056.90h1.25v1.25h-1.25zM232.75 1063.15h1.25v1.25h-1.25zM232.75 1064.40h1.25v1.25h-1.25zM232.75 1065.65h1.25v1.25h-1.25zM232.75 1066.90h1.25v1.25h-1.25zM234.00 1039.40h1.25v1.25h-1.25zM234.00 1040.65h1.25v1.25h-1.25zM234.00 1041.90h1.25v1.25h-1.25zM234.00 1043.15h1.25v1.25h-1.25zM234.00 1044.40h1.25v1.25h-1.25zM234.00 1045.65h1.25v1.25h-1.25zM234.00 1046.90h1.25v1.25h-1.25zM234.00 1048.15h1.25v1.25h-1.25zM234.00 1049.40h1.25v1.25h-1.25zM234.00 1050.65h1.25v1.25h-1.25zM234.00 1051.90h1.25v1.25h-1.25zM234.00 1053.15h1.25v1.25h-1.25zM234.00 1054.40h1.25v1.25h-1.25zM234.00 1055.65h1.25v1.25h-1.25zM234.00 1056.90h1.25v1.25h-1.25zM234.00 1059.40h1.25v1.25h-1.25zM234.00 1064.40h1.25v1.25h-1.25zM235.25 1039.40h1.25v1.25h-1.25zM235.25 1040.65h1.25v1.25h-1.25zM235.25 1041.90h1.25v1.25h-1.25zM235.25 1043.15h1.25v1.25h-1.25zM235.25 1044.40h1.25v1.25h-1.25zM235.25 1045.65h1.25v1.25h-1.25zM235.25 1046.90h1.25v1.25h-1.25zM235.25 1048.15h1.25v1.25h-1.25zM235.25 1049.40h1.25v1.25h-1.25zM235.25 1050.65h1.25v1.25h-1.25zM235.25 1051.90h1.25v1.25h-1.25zM235.25 1053.15h1.25v1.25h-1.25zM235.25 1054.40h1.25v1.25h-1.25zM235.25 1055.65h1.25v1.25h-1.25zM235.25 1056.90h1.25v1.25h-1.25zM235.25 1058.15h1.25v1.25h-1.25zM235.25 1060.65h1.25v1.25h-1.25zM235.25 1063.15h1.25v1.25h-1.25zM235.25 1066.90h1.25v1.25h-1.25zM236.50 1039.40h1.25v1.25h-1.25zM236.50 1040.65h1.25v1.25h-1.25zM236.50 1041.90h1.25v1.25h-1.25zM236.50 1043.15h1.25v1.25h-1.25zM236.50 1044.40h1.25v1.25h-1.25zM236.50 1045.65h1.25v1.25h-1.25zM236.50 1046.90h1.25v1.25h-1.25zM236.50 1048.15h1.25v1.25h-1.25zM236.50 1049.40h1.25v1.25h-1.25zM236.50 1050.65h1.25v1.25h-1.25zM236.50 1051.90h1.25v1.25h-1.25zM236.50 1053.15h1.25v1.25h-1.25zM236.50 1054.40h1.25v1.25h-1.25zM236.50 1055.65h1.25v1.25h-1.25zM236.50 1059.40h1.25v1.25h-1.25zM236.50 1061.90h1.25v1.25h-1.25zM236.50 1063.15h1.25v1.25h-1.25zM236.50 1065.65h1.25v1.25h-1.25zM236.50 1066.90h1.25v1.25h-1.25zM237.75 1039.40h1.25v1.25h-1.25zM237.75 1040.65h1.25v1.25h-1.25zM237.75 1041.90h1.25v1.25h-1.25zM237.75 1043.15h1.25v1.25h-1.25zM237.75 1044.40h1.25v1.25h-1.25zM237.75 1045.65h1.25v1.25h-1.25zM237.75 1046.90h1.25v1.25h-1.25zM237.75 1048.15h1.25v1.25h-1.25zM237.75 1049.40h1.25v1.25h-1.25zM237.75 1050.65h1.25v1.25h-1.25zM237.75 1051.90h1.25v1.25h-1.25zM237.75 1053.15h1.25v1.25h-1.25zM237.75 1054.40h1.25v1.25h-1.25zM237.75 1056.90h1.25v1.25h-1.25zM237.75 1058.15h1.25v1.25h-1.25zM237.75 1060.65h1.25v1.25h-1.25zM237.75 1064.40h1.25v1.25h-1.25zM239.00 1038.15h1.25v1.25h-1.25zM239.00 1039.40h1.25v1.25h-1.25zM239.00 1040.65h1.25v1.25h-1.25zM239.00 1041.90h1.25v1.25h-1.25zM239.00 1043.15h1.25v1.25h-1.25zM239.00 1044.40h1.25v1.25h-1.25zM239.00 1045.65h1.25v1.25h-1.25zM239.00 1046.90h1.25v1.25h-1.25zM239.00 1048.15h1.25v1.25h-1.25zM239.00 1049.40h1.25v1.25h-1.25zM239.00 1050.65h1.25v1.25h-1.25zM239.00 1051.90h1.25v1.25h-1.25zM239.00 1053.15h1.25v1.25h-1.25zM239.00 1054.40h1.25v1.25h-1.25zM239.00 1055.65h1.25v1.25h-1.25zM239.00 1058.15h1.25v1.25h-1.25zM239.00 1060.65h1.25v1.25h-1.25zM239.00 1066.90h1.25v1.25h-1.25zM240.25 1038.15h1.25v1.25h-1.25zM240.25 1039.40h1.25v1.25h-1.25zM240.25 1040.65h1.25v1.25h-1.25zM240.25 1041.90h1.25v1.25h-1.25zM240.25 1043.15h1.25v1.25h-1.25zM240.25 1044.40h1.25v1.25h-1.25zM240.25 1045.65h1.25v1.25h-1.25zM240.25 1046.90h1.25v1.25h-1.25zM240.25 1048.15h1.25v1.25h-1.25zM240.25 1049.40h1.25v1.25h-1.25zM240.25 1050.65h1.25v1.25h-1.25zM240.25 1051.90h1.25v1.25h-1.25zM240.25 1053.15h1.25v1.25h-1.25zM240.25 1054.40h1.25v1.25h-1.25zM240.25 1055.65h1.25v1.25h-1.25zM240.25 1056.90h1.25v1.25h-1.25zM240.25 1058.15h1.25v1.25h-1.25zM240.25 1059.40h1.25v1.25h-1.25zM240.25 1061.90h1.25v1.25h-1.25zM240.25 1063.15h1.25v1.25h-1.25zM241.50 1038.15h1.25v1.25h-1.25zM241.50 1039.40h1.25v1.25h-1.25zM241.50 1040.65h1.25v1.25h-1.25zM241.50 1041.90h1.25v1.25h-1.25zM241.50 1043.15h1.25v1.25h-1.25zM241.50 1044.40h1.25v1.25h-1.25zM241.50 1045.65h1.25v1.25h-1.25zM241.50 1046.90h1.25v1.25h-1.25zM241.50 1048.15h1.25v1.25h-1.25zM241.50 1049.40h1.25v1.25h-1.25zM241.50 1050.65h1.25v1.25h-1.25zM241.50 1051.90h1.25v1.25h-1.25zM241.50 1054.40h1.25v1.25h-1.25zM241.50 1055.65h1.25v1.25h-1.25zM241.50 1058.15h1.25v1.25h-1.25zM241.50 1060.65h1.25v1.25h-1.25zM241.50 1061.90h1.25v1.25h-1.25zM242.75 1038.15h1.25v1.25h-1.25zM242.75 1039.40h1.25v1.25h-1.25zM242.75 1040.65h1.25v1.25h-1.25zM242.75 1041.90h1.25v1.25h-1.25zM242.75 1043.15h1.25v1.25h-1.25zM242.75 1044.40h1.25v1.25h-1.25zM242.75 1045.65h1.25v1.25h-1.25zM242.75 1046.90h1.25v1.25h-1.25zM242.75 1048.15h1.25v1.25h-1.25zM242.75 1049.40h1.25v1.25h-1.25zM242.75 1050.65h1.25v1.25h-1.25zM242.75 1051.90h1.25v1.25h-1.25zM242.75 1053.15h1.25v1.25h-1.25zM242.75 1054.40h1.25v1.25h-1.25zM242.75 1055.65h1.25v1.25h-1.25zM242.75 1061.90h1.25v1.25h-1.25zM242.75 1065.65h1.25v1.25h-1.25zM242.75 1068.15h1.25v1.25h-1.25zM244.00 1036.90h1.25v1.25h-1.25zM244.00 1038.15h1.25v1.25h-1.25zM244.00 1039.40h1.25v1.25h-1.25zM244.00 1040.65h1.25v1.25h-1.25zM244.00 1041.90h1.25v1.25h-1.25zM244.00 1043.15h1.25v1.25h-1.25zM244.00 1044.40h1.25v1.25h-1.25zM244.00 1045.65h1.25v1.25h-1.25zM244.00 1046.90h1.25v1.25h-1.25zM244.00 1048.15h1.25v1.25h-1.25zM244.00 1049.40h1.25v1.25h-1.25zM244.00 1050.65h1.25v1.25h-1.25zM244.00 1051.90h1.25v1.25h-1.25zM244.00 1053.15h1.25v1.25h-1.25zM244.00 1054.40h1.25v1.25h-1.25zM244.00 1055.65h1.25v1.25h-1.25zM244.00 1056.90h1.25v1.25h-1.25zM244.00 1058.15h1.25v1.25h-1.25zM244.00 1060.65h1.25v1.25h-1.25zM244.00 1061.90h1.25v1.25h-1.25zM245.25 1036.90h1.25v1.25h-1.25zM245.25 1038.15h1.25v1.25h-1.25zM245.25 1039.40h1.25v1.25h-1.25zM245.25 1040.65h1.25v1.25h-1.25zM245.25 1041.90h1.25v1.25h-1.25zM245.25 1043.15h1.25v1.25h-1.25zM245.25 1044.40h1.25v1.25h-1.25zM245.25 1045.65h1.25v1.25h-1.25zM245.25 1046.90h1.25v1.25h-1.25zM245.25 1048.15h1.25v1.25h-1.25zM245.25 1049.40h1.25v1.25h-1.25zM245.25 1050.65h1.25v1.25h-1.25zM245.25 1051.90h1.25v1.25h-1.25zM245.25 1054.40h1.25v1.25h-1.25zM245.25 1059.40h1.25v1.25h-1.25zM245.25 1060.65h1.25v1.25h-1.25zM245.25 1061.90h1.25v1.25h-1.25zM246.50 1036.90h1.25v1.25h-1.25zM246.50 1038.15h1.25v1.25h-1.25zM246.50 1039.40h1.25v1.25h-1.25zM246.50 1040.65h1.25v1.25h-1.25zM246.50 1041.90h1.25v1.25h-1.25zM246.50 1043.15h1.25v1.25h-1.25zM246.50 1044.40h1.25v1.25h-1.25zM246.50 1045.65h1.25v1.25h-1.25zM246.50 1046.90h1.25v1.25h-1.25zM246.50 1048.15h1.25v1.25h-1.25zM246.50 1049.40h1.25v1.25h-1.25zM246.50 1050.65h1.25v1.25h-1.25zM246.50 1051.90h1.25v1.25h-1.25zM246.50 1053.15h1.25v1.25h-1.25zM246.50 1054.40h1.25v1.25h-1.25zM246.50 1055.65h1.25v1.25h-1.25zM246.50 1056.90h1.25v1.25h-1.25zM246.50 1060.65h1.25v1.25h-1.25zM246.50 1061.90h1.25v1.25h-1.25zM247.75 1036.90h1.25v1.25h-1.25zM247.75 1038.15h1.25v1.25h-1.25zM247.75 1039.40h1.25v1.25h-1.25zM247.75 1040.65h1.25v1.25h-1.25zM247.75 1041.90h1.25v1.25h-1.25zM247.75 1043.15h1.25v1.25h-1.25zM247.75 1044.40h1.25v1.25h-1.25zM247.75 1045.65h1.25v1.25h-1.25zM247.75 1046.90h1.25v1.25h-1.25zM247.75 1048.15h1.25v1.25h-1.25zM247.75 1049.40h1.25v1.25h-1.25zM247.75 1050.65h1.25v1.25h-1.25zM247.75 1051.90h1.25v1.25h-1.25zM247.75 1053.15h1.25v1.25h-1.25zM247.75 1055.65h1.25v1.25h-1.25zM247.75 1056.90h1.25v1.25h-1.25zM247.75 1061.90h1.25v1.25h-1.25zM247.75 1065.65h1.25v1.25h-1.25zM249.00 1036.90h1.25v1.25h-1.25zM249.00 1038.15h1.25v1.25h-1.25zM249.00 1039.40h1.25v1.25h-1.25zM249.00 1040.65h1.25v1.25h-1.25zM249.00 1041.90h1.25v1.25h-1.25zM249.00 1043.15h1.25v1.25h-1.25zM249.00 1044.40h1.25v1.25h-1.25zM249.00 1045.65h1.25v1.25h-1.25zM249.00 1046.90h1.25v1.25h-1.25zM249.00 1048.15h1.25v1.25h-1.25zM249.00 1050.65h1.25v1.25h-1.25zM249.00 1051.90h1.25v1.25h-1.25zM249.00 1053.15h1.25v1.25h-1.25zM249.00 1056.90h1.25v1.25h-1.25zM249.00 1058.15h1.25v1.25h-1.25zM249.00 1059.40h1.25v1.25h-1.25zM249.00 1066.90h1.25v1.25h-1.25zM250.25 1035.65h1.25v1.25h-1.25zM250.25 1036.90h1.25v1.25h-1.25zM250.25 1038.15h1.25v1.25h-1.25zM250.25 1039.40h1.25v1.25h-1.25zM250.25 1040.65h1.25v1.25h-1.25zM250.25 1041.90h1.25v1.25h-1.25zM250.25 1043.15h1.25v1.25h-1.25zM250.25 1044.40h1.25v1.25h-1.25zM250.25 1045.65h1.25v1.25h-1.25zM250.25 1046.90h1.25v1.25h-1.25zM250.25 1048.15h1.25v1.25h-1.25zM250.25 1049.40h1.25v1.25h-1.25zM250.25 1050.65h1.25v1.25h-1.25zM250.25 1051.90h1.25v1.25h-1.25zM250.25 1056.90h1.25v1.25h-1.25zM250.25 1059.40h1.25v1.25h-1.25zM251.50 1035.65h1.25v1.25h-1.25zM251.50 1036.90h1.25v1.25h-1.25zM251.50 1038.15h1.25v1.25h-1.25zM251.50 1039.40h1.25v1.25h-1.25zM251.50 1040.65h1.25v1.25h-1.25zM251.50 1041.90h1.25v1.25h-1.25zM251.50 1043.15h1.25v1.25h-1.25zM251.50 1044.40h1.25v1.25h-1.25zM251.50 1045.65h1.25v1.25h-1.25zM251.50 1046.90h1.25v1.25h-1.25zM251.50 1048.15h1.25v1.25h-1.25zM251.50 1049.40h1.25v1.25h-1.25zM251.50 1050.65h1.25v1.25h-1.25zM251.50 1053.15h1.25v1.25h-1.25zM251.50 1056.90h1.25v1.25h-1.25zM252.75 1035.65h1.25v1.25h-1.25zM252.75 1036.90h1.25v1.25h-1.25zM252.75 1038.15h1.25v1.25h-1.25zM252.75 1039.40h1.25v1.25h-1.25zM252.75 1040.65h1.25v1.25h-1.25zM252.75 1041.90h1.25v1.25h-1.25zM252.75 1043.15h1.25v1.25h-1.25zM252.75 1044.40h1.25v1.25h-1.25zM252.75 1045.65h1.25v1.25h-1.25zM252.75 1046.90h1.25v1.25h-1.25zM252.75 1048.15h1.25v1.25h-1.25zM252.75 1049.40h1.25v1.25h-1.25zM252.75 1050.65h1.25v1.25h-1.25zM252.75 1051.90h1.25v1.25h-1.25zM252.75 1053.15h1.25v1.25h-1.25zM252.75 1054.40h1.25v1.25h-1.25zM252.75 1055.65h1.25v1.25h-1.25zM252.75 1056.90h1.25v1.25h-1.25zM252.75 1058.15h1.25v1.25h-1.25zM252.75 1060.65h1.25v1.25h-1.25zM254.00 1035.65h1.25v1.25h-1.25zM254.00 1036.90h1.25v1.25h-1.25zM254.00 1038.15h1.25v1.25h-1.25zM254.00 1039.40h1.25v1.25h-1.25zM254.00 1040.65h1.25v1.25h-1.25zM254.00 1041.90h1.25v1.25h-1.25zM254.00 1043.15h1.25v1.25h-1.25zM254.00 1044.40h1.25v1.25h-1.25zM254.00 1045.65h1.25v1.25h-1.25zM254.00 1046.90h1.25v1.25h-1.25zM254.00 1048.15h1.25v1.25h-1.25zM254.00 1049.40h1.25v1.25h-1.25zM254.00 1050.65h1.25v1.25h-1.25zM254.00 1051.90h1.25v1.25h-1.25zM254.00 1053.15h1.25v1.25h-1.25zM254.00 1055.65h1.25v1.25h-1.25zM254.00 1058.15h1.25v1.25h-1.25zM254.00 1064.40h1.25v1.25h-1.25zM255.25 1034.40h1.25v1.25h-1.25zM255.25 1035.65h1.25v1.25h-1.25zM255.25 1036.90h1.25v1.25h-1.25zM255.25 1038.15h1.25v1.25h-1.25zM255.25 1039.40h1.25v1.25h-1.25zM255.25 1040.65h1.25v1.25h-1.25zM255.25 1041.90h1.25v1.25h-1.25zM255.25 1043.15h1.25v1.25h-1.25zM255.25 1044.40h1.25v1.25h-1.25zM255.25 1045.65h1.25v1.25h-1.25zM255.25 1046.90h1.25v1.25h-1.25zM255.25 1049.40h1.25v1.25h-1.25zM255.25 1050.65h1.25v1.25h-1.25zM255.25 1051.90h1.25v1.25h-1.25zM255.25 1054.40h1.25v1.25h-1.25zM255.25 1055.65h1.25v1.25h-1.25zM255.25 1061.90h1.25v1.25h-1.25zM256.50 1034.40h1.25v1.25h-1.25zM256.50 1035.65h1.25v1.25h-1.25zM256.50 1036.90h1.25v1.25h-1.25zM256.50 1038.15h1.25v1.25h-1.25zM256.50 1039.40h1.25v1.25h-1.25zM256.50 1040.65h1.25v1.25h-1.25zM256.50 1041.90h1.25v1.25h-1.25zM256.50 1043.15h1.25v1.25h-1.25zM256.50 1044.40h1.25v1.25h-1.25zM256.50 1045.65h1.25v1.25h-1.25zM256.50 1046.90h1.25v1.25h-1.25zM256.50 1048.15h1.25v1.25h-1.25zM256.50 1049.40h1.25v1.25h-1.25zM256.50 1050.65h1.25v1.25h-1.25zM256.50 1051.90h1.25v1.25h-1.25zM256.50 1054.40h1.25v1.25h-1.25zM256.50 1056.90h1.25v1.25h-1.25zM256.50 1059.40h1.25v1.25h-1.25zM257.75 1034.40h1.25v1.25h-1.25zM257.75 1035.65h1.25v1.25h-1.25zM257.75 1036.90h1.25v1.25h-1.25zM257.75 1038.15h1.25v1.25h-1.25zM257.75 1039.40h1.25v1.25h-1.25zM257.75 1040.65h1.25v1.25h-1.25zM257.75 1041.90h1.25v1.25h-1.25zM257.75 1043.15h1.25v1.25h-1.25zM257.75 1044.40h1.25v1.25h-1.25zM257.75 1045.65h1.25v1.25h-1.25zM257.75 1046.90h1.25v1.25h-1.25zM257.75 1048.15h1.25v1.25h-1.25zM257.75 1049.40h1.25v1.25h-1.25zM257.75 1050.65h1.25v1.25h-1.25zM257.75 1053.15h1.25v1.25h-1.25zM257.75 1056.90h1.25v1.25h-1.25zM257.75 1059.40h1.25v1.25h-1.25zM257.75 1063.15h1.25v1.25h-1.25zM259.00 1034.40h1.25v1.25h-1.25zM259.00 1035.65h1.25v1.25h-1.25zM259.00 1036.90h1.25v1.25h-1.25zM259.00 1038.15h1.25v1.25h-1.25zM259.00 1039.40h1.25v1.25h-1.25zM259.00 1040.65h1.25v1.25h-1.25zM259.00 1041.90h1.25v1.25h-1.25zM259.00 1043.15h1.25v1.25h-1.25zM259.00 1044.40h1.25v1.25h-1.25zM259.00 1045.65h1.25v1.25h-1.25zM259.00 1046.90h1.25v1.25h-1.25zM259.00 1048.15h1.25v1.25h-1.25zM259.00 1049.40h1.25v1.25h-1.25zM259.00 1050.65h1.25v1.25h-1.25zM259.00 1051.90h1.25v1.25h-1.25zM259.00 1054.40h1.25v1.25h-1.25zM259.00 1058.15h1.25v1.25h-1.25zM259.00 1059.40h1.25v1.25h-1.25zM260.25 1034.40h1.25v1.25h-1.25zM260.25 1035.65h1.25v1.25h-1.25zM260.25 1036.90h1.25v1.25h-1.25zM260.25 1038.15h1.25v1.25h-1.25zM260.25 1039.40h1.25v1.25h-1.25zM260.25 1040.65h1.25v1.25h-1.25zM260.25 1041.90h1.25v1.25h-1.25zM260.25 1043.15h1.25v1.25h-1.25zM260.25 1044.40h1.25v1.25h-1.25zM260.25 1045.65h1.25v1.25h-1.25zM260.25 1046.90h1.25v1.25h-1.25zM260.25 1048.15h1.25v1.25h-1.25zM260.25 1050.65h1.25v1.25h-1.25zM260.25 1051.90h1.25v1.25h-1.25zM260.25 1053.15h1.25v1.25h-1.25zM261.50 1033.15h1.25v1.25h-1.25zM261.50 1034.40h1.25v1.25h-1.25zM261.50 1035.65h1.25v1.25h-1.25zM261.50 1036.90h1.25v1.25h-1.25zM261.50 1038.15h1.25v1.25h-1.25zM261.50 1039.40h1.25v1.25h-1.25zM261.50 1040.65h1.25v1.25h-1.25zM261.50 1041.90h1.25v1.25h-1.25zM261.50 1043.15h1.25v1.25h-1.25zM261.50 1044.40h1.25v1.25h-1.25zM261.50 1045.65h1.25v1.25h-1.25zM261.50 1046.90h1.25v1.25h-1.25zM261.50 1048.15h1.25v1.25h-1.25zM261.50 1049.40h1.25v1.25h-1.25zM261.50 1050.65h1.25v1.25h-1.25zM261.50 1051.90h1.25v1.25h-1.25zM261.50 1053.15h1.25v1.25h-1.25zM261.50 1054.40h1.25v1.25h-1.25zM261.50 1055.65h1.25v1.25h-1.25zM261.50 1059.40h1.25v1.25h-1.25zM262.75 1033.15h1.25v1.25h-1.25zM262.75 1034.40h1.25v1.25h-1.25zM262.75 1035.65h1.25v1.25h-1.25zM262.75 1036.90h1.25v1.25h-1.25zM262.75 1038.15h1.25v1.25h-1.25zM262.75 1039.40h1.25v1.25h-1.25zM262.75 1040.65h1.25v1.25h-1.25zM262.75 1041.90h1.25v1.25h-1.25zM262.75 1043.15h1.25v1.25h-1.25zM262.75 1044.40h1.25v1.25h-1.25zM262.75 1045.65h1.25v1.25h-1.25zM262.75 1046.90h1.25v1.25h-1.25zM262.75 1048.15h1.25v1.25h-1.25zM262.75 1050.65h1.25v1.25h-1.25zM262.75 1051.90h1.25v1.25h-1.25zM262.75 1053.15h1.25v1.25h-1.25zM264.00 1033.15h1.25v1.25h-1.25zM264.00 1034.40h1.25v1.25h-1.25zM264.00 1035.65h1.25v1.25h-1.25zM264.00 1036.90h1.25v1.25h-1.25zM264.00 1038.15h1.25v1.25h-1.25zM264.00 1039.40h1.25v1.25h-1.25zM264.00 1040.65h1.25v1.25h-1.25zM264.00 1041.90h1.25v1.25h-1.25zM264.00 1043.15h1.25v1.25h-1.25zM264.00 1044.40h1.25v1.25h-1.25zM264.00 1045.65h1.25v1.25h-1.25zM264.00 1046.90h1.25v1.25h-1.25zM264.00 1048.15h1.25v1.25h-1.25zM264.00 1049.40h1.25v1.25h-1.25zM264.00 1050.65h1.25v1.25h-1.25zM264.00 1054.40h1.25v1.25h-1.25zM264.00 1058.15h1.25v1.25h-1.25zM264.00 1060.65h1.25v1.25h-1.25zM265.25 1033.15h1.25v1.25h-1.25zM265.25 1034.40h1.25v1.25h-1.25zM265.25 1035.65h1.25v1.25h-1.25zM265.25 1036.90h1.25v1.25h-1.25zM265.25 1038.15h1.25v1.25h-1.25zM265.25 1039.40h1.25v1.25h-1.25zM265.25 1040.65h1.25v1.25h-1.25zM265.25 1041.90h1.25v1.25h-1.25zM265.25 1043.15h1.25v1.25h-1.25zM265.25 1044.40h1.25v1.25h-1.25zM265.25 1049.40h1.25v1.25h-1.25zM265.25 1050.65h1.25v1.25h-1.25zM265.25 1051.90h1.25v1.25h-1.25zM265.25 1053.15h1.25v1.25h-1.25zM266.50 1031.90h1.25v1.25h-1.25zM266.50 1033.15h1.25v1.25h-1.25zM266.50 1034.40h1.25v1.25h-1.25zM266.50 1035.65h1.25v1.25h-1.25zM266.50 1036.90h1.25v1.25h-1.25zM266.50 1038.15h1.25v1.25h-1.25zM266.50 1039.40h1.25v1.25h-1.25zM266.50 1040.65h1.25v1.25h-1.25zM266.50 1041.90h1.25v1.25h-1.25zM266.50 1043.15h1.25v1.25h-1.25zM266.50 1045.65h1.25v1.25h-1.25zM266.50 1048.15h1.25v1.25h-1.25zM266.50 1049.40h1.25v1.25h-1.25zM266.50 1050.65h1.25v1.25h-1.25zM266.50 1051.90h1.25v1.25h-1.25zM266.50 1054.40h1.25v1.25h-1.25zM266.50 1059.40h1.25v1.25h-1.25zM267.75 1031.90h1.25v1.25h-1.25zM267.75 1033.15h1.25v1.25h-1.25zM267.75 1034.40h1.25v1.25h-1.25zM267.75 1035.65h1.25v1.25h-1.25zM267.75 1036.90h1.25v1.25h-1.25zM267.75 1038.15h1.25v1.25h-1.25zM267.75 1039.40h1.25v1.25h-1.25zM267.75 1040.65h1.25v1.25h-1.25zM267.75 1041.90h1.25v1.25h-1.25zM267.75 1043.15h1.25v1.25h-1.25zM267.75 1044.40h1.25v1.25h-1.25zM267.75 1048.15h1.25v1.25h-1.25zM267.75 1051.90h1.25v1.25h-1.25zM269.00 1031.90h1.25v1.25h-1.25zM269.00 1033.15h1.25v1.25h-1.25zM269.00 1034.40h1.25v1.25h-1.25zM269.00 1035.65h1.25v1.25h-1.25zM269.00 1036.90h1.25v1.25h-1.25zM269.00 1038.15h1.25v1.25h-1.25zM269.00 1039.40h1.25v1.25h-1.25zM269.00 1040.65h1.25v1.25h-1.25zM269.00 1041.90h1.25v1.25h-1.25zM269.00 1043.15h1.25v1.25h-1.25zM269.00 1044.40h1.25v1.25h-1.25zM269.00 1045.65h1.25v1.25h-1.25zM269.00 1046.90h1.25v1.25h-1.25zM269.00 1048.15h1.25v1.25h-1.25zM269.00 1055.65h1.25v1.25h-1.25zM270.25 1031.90h1.25v1.25h-1.25zM270.25 1033.15h1.25v1.25h-1.25zM270.25 1034.40h1.25v1.25h-1.25zM270.25 1035.65h1.25v1.25h-1.25zM270.25 1036.90h1.25v1.25h-1.25zM270.25 1038.15h1.25v1.25h-1.25zM270.25 1039.40h1.25v1.25h-1.25zM270.25 1040.65h1.25v1.25h-1.25zM270.25 1041.90h1.25v1.25h-1.25zM270.25 1044.40h1.25v1.25h-1.25zM270.25 1045.65h1.25v1.25h-1.25zM270.25 1046.90h1.25v1.25h-1.25zM270.25 1048.15h1.25v1.25h-1.25zM270.25 1049.40h1.25v1.25h-1.25zM270.25 1050.65h1.25v1.25h-1.25zM270.25 1058.15h1.25v1.25h-1.25zM271.50 1030.65h1.25v1.25h-1.25zM271.50 1031.90h1.25v1.25h-1.25zM271.50 1033.15h1.25v1.25h-1.25zM271.50 1034.40h1.25v1.25h-1.25zM271.50 1035.65h1.25v1.25h-1.25zM271.50 1036.90h1.25v1.25h-1.25zM271.50 1038.15h1.25v1.25h-1.25zM271.50 1039.40h1.25v1.25h-1.25zM271.50 1040.65h1.25v1.25h-1.25zM271.50 1041.90h1.25v1.25h-1.25zM271.50 1043.15h1.25v1.25h-1.25zM271.50 1045.65h1.25v1.25h-1.25zM271.50 1046.90h1.25v1.25h-1.25zM271.50 1048.15h1.25v1.25h-1.25zM271.50 1049.40h1.25v1.25h-1.25zM271.50 1055.65h1.25v1.25h-1.25zM272.75 1030.65h1.25v1.25h-1.25zM272.75 1031.90h1.25v1.25h-1.25zM272.75 1033.15h1.25v1.25h-1.25zM272.75 1034.40h1.25v1.25h-1.25zM272.75 1035.65h1.25v1.25h-1.25zM272.75 1036.90h1.25v1.25h-1.25zM272.75 1038.15h1.25v1.25h-1.25zM272.75 1039.40h1.25v1.25h-1.25zM272.75 1040.65h1.25v1.25h-1.25zM272.75 1041.90h1.25v1.25h-1.25zM272.75 1043.15h1.25v1.25h-1.25zM272.75 1044.40h1.25v1.25h-1.25zM272.75 1045.65h1.25v1.25h-1.25zM272.75 1046.90h1.25v1.25h-1.25zM272.75 1048.15h1.25v1.25h-1.25zM272.75 1049.40h1.25v1.25h-1.25zM274.00 1030.65h1.25v1.25h-1.25zM274.00 1031.90h1.25v1.25h-1.25zM274.00 1033.15h1.25v1.25h-1.25zM274.00 1034.40h1.25v1.25h-1.25zM274.00 1035.65h1.25v1.25h-1.25zM274.00 1036.90h1.25v1.25h-1.25zM274.00 1038.15h1.25v1.25h-1.25zM274.00 1039.40h1.25v1.25h-1.25zM274.00 1040.65h1.25v1.25h-1.25zM274.00 1041.90h1.25v1.25h-1.25zM274.00 1043.15h1.25v1.25h-1.25zM274.00 1044.40h1.25v1.25h-1.25zM274.00 1045.65h1.25v1.25h-1.25zM274.00 1048.15h1.25v1.25h-1.25zM274.00 1049.40h1.25v1.25h-1.25zM274.00 1055.65h1.25v1.25h-1.25zM275.25 1030.65h1.25v1.25h-1.25zM275.25 1031.90h1.25v1.25h-1.25zM275.25 1033.15h1.25v1.25h-1.25zM275.25 1034.40h1.25v1.25h-1.25zM275.25 1035.65h1.25v1.25h-1.25zM275.25 1036.90h1.25v1.25h-1.25zM275.25 1038.15h1.25v1.25h-1.25zM275.25 1039.40h1.25v1.25h-1.25zM275.25 1040.65h1.25v1.25h-1.25zM275.25 1041.90h1.25v1.25h-1.25zM275.25 1045.65h1.25v1.25h-1.25zM275.25 1050.65h1.25v1.25h-1.25zM275.25 1054.40h1.25v1.25h-1.25zM276.50 1029.40h1.25v1.25h-1.25zM276.50 1030.65h1.25v1.25h-1.25zM276.50 1031.90h1.25v1.25h-1.25zM276.50 1033.15h1.25v1.25h-1.25zM276.50 1034.40h1.25v1.25h-1.25zM276.50 1035.65h1.25v1.25h-1.25zM276.50 1036.90h1.25v1.25h-1.25zM276.50 1038.15h1.25v1.25h-1.25zM276.50 1039.40h1.25v1.25h-1.25zM276.50 1040.65h1.25v1.25h-1.25zM276.50 1041.90h1.25v1.25h-1.25zM276.50 1045.65h1.25v1.25h-1.25zM276.50 1048.15h1.25v1.25h-1.25zM276.50 1051.90h1.25v1.25h-1.25zM277.75 1029.40h1.25v1.25h-1.25zM277.75 1030.65h1.25v1.25h-1.25zM277.75 1031.90h1.25v1.25h-1.25zM277.75 1033.15h1.25v1.25h-1.25zM277.75 1034.40h1.25v1.25h-1.25zM277.75 1035.65h1.25v1.25h-1.25zM277.75 1036.90h1.25v1.25h-1.25zM277.75 1038.15h1.25v1.25h-1.25zM277.75 1039.40h1.25v1.25h-1.25zM277.75 1040.65h1.25v1.25h-1.25zM277.75 1041.90h1.25v1.25h-1.25zM277.75 1043.15h1.25v1.25h-1.25zM277.75 1045.65h1.25v1.25h-1.25zM277.75 1046.90h1.25v1.25h-1.25zM277.75 1049.40h1.25v1.25h-1.25zM277.75 1058.15h1.25v1.25h-1.25zM279.00 1029.40h1.25v1.25h-1.25zM279.00 1030.65h1.25v1.25h-1.25zM279.00 1031.90h1.25v1.25h-1.25zM279.00 1033.15h1.25v1.25h-1.25zM279.00 1034.40h1.25v1.25h-1.25zM279.00 1035.65h1.25v1.25h-1.25zM279.00 1036.90h1.25v1.25h-1.25zM279.00 1038.15h1.25v1.25h-1.25zM279.00 1039.40h1.25v1.25h-1.25zM279.00 1041.90h1.25v1.25h-1.25zM279.00 1043.15h1.25v1.25h-1.25zM279.00 1044.40h1.25v1.25h-1.25zM279.00 1048.15h1.25v1.25h-1.25zM279.00 1049.40h1.25v1.25h-1.25zM279.00 1054.40h1.25v1.25h-1.25zM279.00 1058.15h1.25v1.25h-1.25zM280.25 1029.40h1.25v1.25h-1.25zM280.25 1030.65h1.25v1.25h-1.25zM280.25 1031.90h1.25v1.25h-1.25zM280.25 1033.15h1.25v1.25h-1.25zM280.25 1034.40h1.25v1.25h-1.25zM280.25 1035.65h1.25v1.25h-1.25zM280.25 1036.90h1.25v1.25h-1.25zM280.25 1038.15h1.25v1.25h-1.25zM280.25 1040.65h1.25v1.25h-1.25zM280.25 1041.90h1.25v1.25h-1.25zM280.25 1043.15h1.25v1.25h-1.25zM280.25 1044.40h1.25v1.25h-1.25zM280.25 1045.65h1.25v1.25h-1.25zM280.25 1046.90h1.25v1.25h-1.25zM280.25 1048.15h1.25v1.25h-1.25zM281.50 1028.15h1.25v1.25h-1.25zM281.50 1029.40h1.25v1.25h-1.25zM281.50 1030.65h1.25v1.25h-1.25zM281.50 1031.90h1.25v1.25h-1.25zM281.50 1033.15h1.25v1.25h-1.25zM281.50 1034.40h1.25v1.25h-1.25zM281.50 1035.65h1.25v1.25h-1.25zM281.50 1036.90h1.25v1.25h-1.25zM281.50 1038.15h1.25v1.25h-1.25zM281.50 1039.40h1.25v1.25h-1.25zM281.50 1040.65h1.25v1.25h-1.25zM281.50 1041.90h1.25v1.25h-1.25zM281.50 1043.15h1.25v1.25h-1.25zM281.50 1044.40h1.25v1.25h-1.25zM281.50 1045.65h1.25v1.25h-1.25zM281.50 1046.90h1.25v1.25h-1.25zM281.50 1048.15h1.25v1.25h-1.25zM281.50 1050.65h1.25v1.25h-1.25zM281.50 1051.90h1.25v1.25h-1.25zM282.75 1028.15h1.25v1.25h-1.25zM282.75 1029.40h1.25v1.25h-1.25zM282.75 1030.65h1.25v1.25h-1.25zM282.75 1031.90h1.25v1.25h-1.25zM282.75 1033.15h1.25v1.25h-1.25zM282.75 1034.40h1.25v1.25h-1.25zM282.75 1035.65h1.25v1.25h-1.25zM282.75 1036.90h1.25v1.25h-1.25zM282.75 1038.15h1.25v1.25h-1.25zM282.75 1039.40h1.25v1.25h-1.25zM282.75 1040.65h1.25v1.25h-1.25zM282.75 1041.90h1.25v1.25h-1.25zM282.75 1045.65h1.25v1.25h-1.25zM282.75 1050.65h1.25v1.25h-1.25zM284.00 1028.15h1.25v1.25h-1.25zM284.00 1029.40h1.25v1.25h-1.25zM284.00 1030.65h1.25v1.25h-1.25zM284.00 1031.90h1.25v1.25h-1.25zM284.00 1033.15h1.25v1.25h-1.25zM284.00 1034.40h1.25v1.25h-1.25zM284.00 1035.65h1.25v1.25h-1.25zM284.00 1036.90h1.25v1.25h-1.25zM284.00 1038.15h1.25v1.25h-1.25zM284.00 1039.40h1.25v1.25h-1.25zM284.00 1040.65h1.25v1.25h-1.25zM284.00 1041.90h1.25v1.25h-1.25zM284.00 1043.15h1.25v1.25h-1.25zM284.00 1045.65h1.25v1.25h-1.25zM284.00 1046.90h1.25v1.25h-1.25zM284.00 1050.65h1.25v1.25h-1.25zM284.00 1051.90h1.25v1.25h-1.25zM284.00 1053.15h1.25v1.25h-1.25zM285.25 1028.15h1.25v1.25h-1.25zM285.25 1029.40h1.25v1.25h-1.25zM285.25 1030.65h1.25v1.25h-1.25zM285.25 1031.90h1.25v1.25h-1.25zM285.25 1033.15h1.25v1.25h-1.25zM285.25 1034.40h1.25v1.25h-1.25zM285.25 1035.65h1.25v1.25h-1.25zM285.25 1036.90h1.25v1.25h-1.25zM285.25 1038.15h1.25v1.25h-1.25zM285.25 1039.40h1.25v1.25h-1.25zM285.25 1040.65h1.25v1.25h-1.25zM285.25 1041.90h1.25v1.25h-1.25zM285.25 1043.15h1.25v1.25h-1.25zM285.25 1044.40h1.25v1.25h-1.25zM285.25 1048.15h1.25v1.25h-1.25zM285.25 1049.40h1.25v1.25h-1.25zM286.50 1026.90h1.25v1.25h-1.25zM286.50 1028.15h1.25v1.25h-1.25zM286.50 1029.40h1.25v1.25h-1.25zM286.50 1030.65h1.25v1.25h-1.25zM286.50 1031.90h1.25v1.25h-1.25zM286.50 1033.15h1.25v1.25h-1.25zM286.50 1034.40h1.25v1.25h-1.25zM286.50 1035.65h1.25v1.25h-1.25zM286.50 1036.90h1.25v1.25h-1.25zM286.50 1038.15h1.25v1.25h-1.25zM286.50 1040.65h1.25v1.25h-1.25zM286.50 1041.90h1.25v1.25h-1.25zM286.50 1043.15h1.25v1.25h-1.25zM286.50 1044.40h1.25v1.25h-1.25zM286.50 1045.65h1.25v1.25h-1.25zM286.50 1048.15h1.25v1.25h-1.25zM286.50 1051.90h1.25v1.25h-1.25zM287.75 1026.90h1.25v1.25h-1.25zM287.75 1028.15h1.25v1.25h-1.25zM287.75 1029.40h1.25v1.25h-1.25zM287.75 1030.65h1.25v1.25h-1.25zM287.75 1031.90h1.25v1.25h-1.25zM287.75 1033.15h1.25v1.25h-1.25zM287.75 1034.40h1.25v1.25h-1.25zM287.75 1035.65h1.25v1.25h-1.25zM287.75 1036.90h1.25v1.25h-1.25zM287.75 1038.15h1.25v1.25h-1.25zM287.75 1039.40h1.25v1.25h-1.25zM287.75 1041.90h1.25v1.25h-1.25zM287.75 1043.15h1.25v1.25h-1.25zM287.75 1045.65h1.25v1.25h-1.25zM287.75 1046.90h1.25v1.25h-1.25zM287.75 1048.15h1.25v1.25h-1.25zM287.75 1050.65h1.25v1.25h-1.25zM289.00 1026.90h1.25v1.25h-1.25zM289.00 1028.15h1.25v1.25h-1.25zM289.00 1029.40h1.25v1.25h-1.25zM289.00 1030.65h1.25v1.25h-1.25zM289.00 1031.90h1.25v1.25h-1.25zM289.00 1033.15h1.25v1.25h-1.25zM289.00 1034.40h1.25v1.25h-1.25zM289.00 1035.65h1.25v1.25h-1.25zM289.00 1036.90h1.25v1.25h-1.25zM289.00 1038.15h1.25v1.25h-1.25zM289.00 1039.40h1.25v1.25h-1.25zM289.00 1040.65h1.25v1.25h-1.25zM289.00 1041.90h1.25v1.25h-1.25zM289.00 1044.40h1.25v1.25h-1.25zM289.00 1046.90h1.25v1.25h-1.25zM289.00 1048.15h1.25v1.25h-1.25zM290.25 1025.65h1.25v1.25h-1.25zM290.25 1026.90h1.25v1.25h-1.25zM290.25 1028.15h1.25v1.25h-1.25zM290.25 1029.40h1.25v1.25h-1.25zM290.25 1030.65h1.25v1.25h-1.25zM290.25 1031.90h1.25v1.25h-1.25zM290.25 1033.15h1.25v1.25h-1.25zM290.25 1034.40h1.25v1.25h-1.25zM290.25 1035.65h1.25v1.25h-1.25zM290.25 1036.90h1.25v1.25h-1.25zM290.25 1039.40h1.25v1.25h-1.25zM290.25 1040.65h1.25v1.25h-1.25zM290.25 1041.90h1.25v1.25h-1.25zM290.25 1044.40h1.25v1.25h-1.25zM290.25 1048.15h1.25v1.25h-1.25zM291.50 1025.65h1.25v1.25h-1.25zM291.50 1026.90h1.25v1.25h-1.25zM291.50 1028.15h1.25v1.25h-1.25zM291.50 1029.40h1.25v1.25h-1.25zM291.50 1030.65h1.25v1.25h-1.25zM291.50 1031.90h1.25v1.25h-1.25zM291.50 1033.15h1.25v1.25h-1.25zM291.50 1034.40h1.25v1.25h-1.25zM291.50 1035.65h1.25v1.25h-1.25zM291.50 1036.90h1.25v1.25h-1.25zM291.50 1039.40h1.25v1.25h-1.25zM291.50 1040.65h1.25v1.25h-1.25zM291.50 1041.90h1.25v1.25h-1.25zM291.50 1043.15h1.25v1.25h-1.25zM291.50 1045.65h1.25v1.25h-1.25zM291.50 1046.90h1.25v1.25h-1.25zM291.50 1049.40h1.25v1.25h-1.25zM292.75 1025.65h1.25v1.25h-1.25zM292.75 1026.90h1.25v1.25h-1.25zM292.75 1028.15h1.25v1.25h-1.25zM292.75 1029.40h1.25v1.25h-1.25zM292.75 1030.65h1.25v1.25h-1.25zM292.75 1031.90h1.25v1.25h-1.25zM292.75 1033.15h1.25v1.25h-1.25zM292.75 1034.40h1.25v1.25h-1.25zM292.75 1035.65h1.25v1.25h-1.25zM292.75 1036.90h1.25v1.25h-1.25zM292.75 1038.15h1.25v1.25h-1.25zM292.75 1039.40h1.25v1.25h-1.25zM292.75 1041.90h1.25v1.25h-1.25zM292.75 1043.15h1.25v1.25h-1.25zM292.75 1044.40h1.25v1.25h-1.25zM292.75 1045.65h1.25v1.25h-1.25zM292.75 1049.40h1.25v1.25h-1.25zM294.00 1025.65h1.25v1.25h-1.25zM294.00 1026.90h1.25v1.25h-1.25zM294.00 1028.15h1.25v1.25h-1.25zM294.00 1029.40h1.25v1.25h-1.25zM294.00 1030.65h1.25v1.25h-1.25zM294.00 1031.90h1.25v1.25h-1.25zM294.00 1033.15h1.25v1.25h-1.25zM294.00 1034.40h1.25v1.25h-1.25zM294.00 1038.15h1.25v1.25h-1.25zM294.00 1039.40h1.25v1.25h-1.25zM294.00 1041.90h1.25v1.25h-1.25zM294.00 1044.40h1.25v1.25h-1.25zM294.00 1045.65h1.25v1.25h-1.25zM294.00 1048.15h1.25v1.25h-1.25zM295.25 1024.40h1.25v1.25h-1.25zM295.25 1025.65h1.25v1.25h-1.25zM295.25 1026.90h1.25v1.25h-1.25zM295.25 1028.15h1.25v1.25h-1.25zM295.25 1029.40h1.25v1.25h-1.25zM295.25 1030.65h1.25v1.25h-1.25zM295.25 1031.90h1.25v1.25h-1.25zM295.25 1033.15h1.25v1.25h-1.25zM295.25 1034.40h1.25v1.25h-1.25zM295.25 1036.90h1.25v1.25h-1.25zM295.25 1038.15h1.25v1.25h-1.25zM295.25 1039.40h1.25v1.25h-1.25zM295.25 1051.90h1.25v1.25h-1.25zM296.50 1024.40h1.25v1.25h-1.25zM296.50 1025.65h1.25v1.25h-1.25zM296.50 1026.90h1.25v1.25h-1.25zM296.50 1028.15h1.25v1.25h-1.25zM296.50 1029.40h1.25v1.25h-1.25zM296.50 1030.65h1.25v1.25h-1.25zM296.50 1031.90h1.25v1.25h-1.25zM296.50 1033.15h1.25v1.25h-1.25zM296.50 1034.40h1.25v1.25h-1.25zM296.50 1035.65h1.25v1.25h-1.25zM296.50 1038.15h1.25v1.25h-1.25zM296.50 1039.40h1.25v1.25h-1.25zM296.50 1041.90h1.25v1.25h-1.25zM296.50 1043.15h1.25v1.25h-1.25zM297.75 1024.40h1.25v1.25h-1.25zM297.75 1025.65h1.25v1.25h-1.25zM297.75 1026.90h1.25v1.25h-1.25zM297.75 1028.15h1.25v1.25h-1.25zM297.75 1029.40h1.25v1.25h-1.25zM297.75 1030.65h1.25v1.25h-1.25zM297.75 1031.90h1.25v1.25h-1.25zM297.75 1033.15h1.25v1.25h-1.25zM297.75 1035.65h1.25v1.25h-1.25zM297.75 1036.90h1.25v1.25h-1.25zM297.75 1038.15h1.25v1.25h-1.25zM297.75 1039.40h1.25v1.25h-1.25zM297.75 1041.90h1.25v1.25h-1.25zM299.00 1023.15h1.25v1.25h-1.25zM299.00 1024.40h1.25v1.25h-1.25zM299.00 1025.65h1.25v1.25h-1.25zM299.00 1026.90h1.25v1.25h-1.25zM299.00 1028.15h1.25v1.25h-1.25zM299.00 1029.40h1.25v1.25h-1.25zM299.00 1030.65h1.25v1.25h-1.25zM299.00 1031.90h1.25v1.25h-1.25zM299.00 1033.15h1.25v1.25h-1.25zM299.00 1034.40h1.25v1.25h-1.25zM299.00 1035.65h1.25v1.25h-1.25zM299.00 1036.90h1.25v1.25h-1.25zM299.00 1038.15h1.25v1.25h-1.25zM299.00 1040.65h1.25v1.25h-1.25zM299.00 1041.90h1.25v1.25h-1.25zM299.00 1043.15h1.25v1.25h-1.25zM299.00 1046.90h1.25v1.25h-1.25zM300.25 1023.15h1.25v1.25h-1.25zM300.25 1024.40h1.25v1.25h-1.25zM300.25 1025.65h1.25v1.25h-1.25zM300.25 1026.90h1.25v1.25h-1.25zM300.25 1028.15h1.25v1.25h-1.25zM300.25 1029.40h1.25v1.25h-1.25zM300.25 1030.65h1.25v1.25h-1.25zM300.25 1031.90h1.25v1.25h-1.25zM300.25 1033.15h1.25v1.25h-1.25zM300.25 1034.40h1.25v1.25h-1.25zM300.25 1035.65h1.25v1.25h-1.25zM300.25 1040.65h1.25v1.25h-1.25zM300.25 1041.90h1.25v1.25h-1.25zM300.25 1043.15h1.25v1.25h-1.25zM301.50 1023.15h1.25v1.25h-1.25zM301.50 1024.40h1.25v1.25h-1.25zM301.50 1025.65h1.25v1.25h-1.25zM301.50 1026.90h1.25v1.25h-1.25zM301.50 1028.15h1.25v1.25h-1.25zM301.50 1029.40h1.25v1.25h-1.25zM301.50 1030.65h1.25v1.25h-1.25zM301.50 1031.90h1.25v1.25h-1.25zM301.50 1033.15h1.25v1.25h-1.25zM301.50 1034.40h1.25v1.25h-1.25zM301.50 1035.65h1.25v1.25h-1.25zM301.50 1036.90h1.25v1.25h-1.25zM301.50 1041.90h1.25v1.25h-1.25zM302.75 1023.15h1.25v1.25h-1.25zM302.75 1024.40h1.25v1.25h-1.25zM302.75 1025.65h1.25v1.25h-1.25zM302.75 1026.90h1.25v1.25h-1.25zM302.75 1028.15h1.25v1.25h-1.25zM302.75 1029.40h1.25v1.25h-1.25zM302.75 1030.65h1.25v1.25h-1.25zM302.75 1031.90h1.25v1.25h-1.25zM302.75 1033.15h1.25v1.25h-1.25zM302.75 1034.40h1.25v1.25h-1.25zM302.75 1036.90h1.25v1.25h-1.25zM302.75 1041.90h1.25v1.25h-1.25zM302.75 1043.15h1.25v1.25h-1.25zM302.75 1046.90h1.25v1.25h-1.25zM304.00 1021.90h1.25v1.25h-1.25zM304.00 1023.15h1.25v1.25h-1.25zM304.00 1024.40h1.25v1.25h-1.25zM304.00 1025.65h1.25v1.25h-1.25zM304.00 1026.90h1.25v1.25h-1.25zM304.00 1028.15h1.25v1.25h-1.25zM304.00 1029.40h1.25v1.25h-1.25zM304.00 1030.65h1.25v1.25h-1.25zM304.00 1031.90h1.25v1.25h-1.25zM304.00 1033.15h1.25v1.25h-1.25zM304.00 1035.65h1.25v1.25h-1.25zM304.00 1036.90h1.25v1.25h-1.25zM304.00 1038.15h1.25v1.25h-1.25zM304.00 1039.40h1.25v1.25h-1.25zM304.00 1040.65h1.25v1.25h-1.25zM304.00 1048.15h1.25v1.25h-1.25zM304.00 1049.40h1.25v1.25h-1.25zM305.25 1021.90h1.25v1.25h-1.25zM305.25 1023.15h1.25v1.25h-1.25zM305.25 1024.40h1.25v1.25h-1.25zM305.25 1025.65h1.25v1.25h-1.25zM305.25 1026.90h1.25v1.25h-1.25zM305.25 1028.15h1.25v1.25h-1.25zM305.25 1029.40h1.25v1.25h-1.25zM305.25 1030.65h1.25v1.25h-1.25zM305.25 1031.90h1.25v1.25h-1.25zM305.25 1033.15h1.25v1.25h-1.25zM305.25 1034.40h1.25v1.25h-1.25zM305.25 1038.15h1.25v1.25h-1.25zM305.25 1040.65h1.25v1.25h-1.25zM305.25 1041.90h1.25v1.25h-1.25zM305.25 1043.15h1.25v1.25h-1.25zM305.25 1044.40h1.25v1.25h-1.25zM306.50 1021.90h1.25v1.25h-1.25zM306.50 1023.15h1.25v1.25h-1.25zM306.50 1024.40h1.25v1.25h-1.25zM306.50 1025.65h1.25v1.25h-1.25zM306.50 1026.90h1.25v1.25h-1.25zM306.50 1028.15h1.25v1.25h-1.25zM306.50 1029.40h1.25v1.25h-1.25zM306.50 1030.65h1.25v1.25h-1.25zM306.50 1031.90h1.25v1.25h-1.25zM306.50 1036.90h1.25v1.25h-1.25zM306.50 1039.40h1.25v1.25h-1.25zM306.50 1040.65h1.25v1.25h-1.25zM306.50 1043.15h1.25v1.25h-1.25zM307.75 1020.65h1.25v1.25h-1.25zM307.75 1021.90h1.25v1.25h-1.25zM307.75 1023.15h1.25v1.25h-1.25zM307.75 1024.40h1.25v1.25h-1.25zM307.75 1025.65h1.25v1.25h-1.25zM307.75 1026.90h1.25v1.25h-1.25zM307.75 1028.15h1.25v1.25h-1.25zM307.75 1029.40h1.25v1.25h-1.25zM307.75 1030.65h1.25v1.25h-1.25zM307.75 1031.90h1.25v1.25h-1.25zM307.75 1033.15h1.25v1.25h-1.25zM307.75 1035.65h1.25v1.25h-1.25zM307.75 1036.90h1.25v1.25h-1.25zM307.75 1038.15h1.25v1.25h-1.25zM307.75 1043.15h1.25v1.25h-1.25zM307.75 1044.40h1.25v1.25h-1.25zM309.00 1020.65h1.25v1.25h-1.25zM309.00 1021.90h1.25v1.25h-1.25zM309.00 1023.15h1.25v1.25h-1.25zM309.00 1024.40h1.25v1.25h-1.25zM309.00 1025.65h1.25v1.25h-1.25zM309.00 1026.90h1.25v1.25h-1.25zM309.00 1028.15h1.25v1.25h-1.25zM309.00 1029.40h1.25v1.25h-1.25zM309.00 1030.65h1.25v1.25h-1.25zM309.00 1031.90h1.25v1.25h-1.25zM309.00 1033.15h1.25v1.25h-1.25zM309.00 1035.65h1.25v1.25h-1.25zM309.00 1036.90h1.25v1.25h-1.25zM309.00 1039.40h1.25v1.25h-1.25zM310.25 1020.65h1.25v1.25h-1.25zM310.25 1021.90h1.25v1.25h-1.25zM310.25 1023.15h1.25v1.25h-1.25zM310.25 1024.40h1.25v1.25h-1.25zM310.25 1025.65h1.25v1.25h-1.25zM310.25 1026.90h1.25v1.25h-1.25zM310.25 1028.15h1.25v1.25h-1.25zM310.25 1029.40h1.25v1.25h-1.25zM310.25 1031.90h1.25v1.25h-1.25zM310.25 1033.15h1.25v1.25h-1.25zM310.25 1035.65h1.25v1.25h-1.25zM310.25 1036.90h1.25v1.25h-1.25zM310.25 1038.15h1.25v1.25h-1.25zM310.25 1044.40h1.25v1.25h-1.25zM311.50 1020.65h1.25v1.25h-1.25zM311.50 1021.90h1.25v1.25h-1.25zM311.50 1023.15h1.25v1.25h-1.25zM311.50 1024.40h1.25v1.25h-1.25zM311.50 1025.65h1.25v1.25h-1.25zM311.50 1026.90h1.25v1.25h-1.25zM311.50 1028.15h1.25v1.25h-1.25zM311.50 1029.40h1.25v1.25h-1.25zM311.50 1031.90h1.25v1.25h-1.25zM311.50 1033.15h1.25v1.25h-1.25zM311.50 1034.40h1.25v1.25h-1.25zM311.50 1036.90h1.25v1.25h-1.25zM311.50 1039.40h1.25v1.25h-1.25zM311.50 1041.90h1.25v1.25h-1.25zM311.50 1043.15h1.25v1.25h-1.25zM311.50 1044.40h1.25v1.25h-1.25zM312.75 1019.40h1.25v1.25h-1.25zM312.75 1020.65h1.25v1.25h-1.25zM312.75 1021.90h1.25v1.25h-1.25zM312.75 1023.15h1.25v1.25h-1.25zM312.75 1024.40h1.25v1.25h-1.25zM312.75 1025.65h1.25v1.25h-1.25zM312.75 1026.90h1.25v1.25h-1.25zM312.75 1028.15h1.25v1.25h-1.25zM312.75 1029.40h1.25v1.25h-1.25zM312.75 1030.65h1.25v1.25h-1.25zM312.75 1033.15h1.25v1.25h-1.25zM312.75 1034.40h1.25v1.25h-1.25zM312.75 1035.65h1.25v1.25h-1.25zM312.75 1036.90h1.25v1.25h-1.25zM312.75 1041.90h1.25v1.25h-1.25zM312.75 1043.15h1.25v1.25h-1.25zM314.00 1019.40h1.25v1.25h-1.25zM314.00 1020.65h1.25v1.25h-1.25zM314.00 1021.90h1.25v1.25h-1.25zM314.00 1023.15h1.25v1.25h-1.25zM314.00 1024.40h1.25v1.25h-1.25zM314.00 1025.65h1.25v1.25h-1.25zM314.00 1026.90h1.25v1.25h-1.25zM314.00 1028.15h1.25v1.25h-1.25zM314.00 1029.40h1.25v1.25h-1.25zM314.00 1030.65h1.25v1.25h-1.25zM314.00 1031.90h1.25v1.25h-1.25zM314.00 1034.40h1.25v1.25h-1.25zM314.00 1035.65h1.25v1.25h-1.25zM314.00 1040.65h1.25v1.25h-1.25zM315.25 1019.40h1.25v1.25h-1.25zM315.25 1020.65h1.25v1.25h-1.25zM315.25 1021.90h1.25v1.25h-1.25zM315.25 1023.15h1.25v1.25h-1.25zM315.25 1024.40h1.25v1.25h-1.25zM315.25 1025.65h1.25v1.25h-1.25zM315.25 1026.90h1.25v1.25h-1.25zM315.25 1028.15h1.25v1.25h-1.25zM315.25 1029.40h1.25v1.25h-1.25zM315.25 1031.90h1.25v1.25h-1.25zM315.25 1033.15h1.25v1.25h-1.25zM315.25 1034.40h1.25v1.25h-1.25zM315.25 1036.90h1.25v1.25h-1.25zM315.25 1038.15h1.25v1.25h-1.25zM315.25 1043.15h1.25v1.25h-1.25zM316.50 1018.15h1.25v1.25h-1.25zM316.50 1019.40h1.25v1.25h-1.25zM316.50 1020.65h1.25v1.25h-1.25zM316.50 1021.90h1.25v1.25h-1.25zM316.50 1023.15h1.25v1.25h-1.25zM316.50 1024.40h1.25v1.25h-1.25zM316.50 1025.65h1.25v1.25h-1.25zM316.50 1026.90h1.25v1.25h-1.25zM316.50 1028.15h1.25v1.25h-1.25zM316.50 1029.40h1.25v1.25h-1.25zM316.50 1030.65h1.25v1.25h-1.25zM316.50 1031.90h1.25v1.25h-1.25zM316.50 1033.15h1.25v1.25h-1.25zM316.50 1034.40h1.25v1.25h-1.25zM316.50 1035.65h1.25v1.25h-1.25zM316.50 1039.40h1.25v1.25h-1.25zM316.50 1040.65h1.25v1.25h-1.25zM317.75 1018.15h1.25v1.25h-1.25zM317.75 1019.40h1.25v1.25h-1.25zM317.75 1020.65h1.25v1.25h-1.25zM317.75 1021.90h1.25v1.25h-1.25zM317.75 1023.15h1.25v1.25h-1.25zM317.75 1024.40h1.25v1.25h-1.25zM317.75 1025.65h1.25v1.25h-1.25zM317.75 1026.90h1.25v1.25h-1.25zM317.75 1028.15h1.25v1.25h-1.25zM317.75 1029.40h1.25v1.25h-1.25zM317.75 1030.65h1.25v1.25h-1.25zM317.75 1031.90h1.25v1.25h-1.25zM317.75 1036.90h1.25v1.25h-1.25zM319.00 1018.15h1.25v1.25h-1.25zM319.00 1019.40h1.25v1.25h-1.25zM319.00 1020.65h1.25v1.25h-1.25zM319.00 1021.90h1.25v1.25h-1.25zM319.00 1023.15h1.25v1.25h-1.25zM319.00 1024.40h1.25v1.25h-1.25zM319.00 1025.65h1.25v1.25h-1.25zM319.00 1026.90h1.25v1.25h-1.25zM319.00 1028.15h1.25v1.25h-1.25zM319.00 1029.40h1.25v1.25h-1.25zM319.00 1030.65h1.25v1.25h-1.25zM319.00 1034.40h1.25v1.25h-1.25zM320.25 1016.90h1.25v1.25h-1.25zM320.25 1018.15h1.25v1.25h-1.25zM320.25 1019.40h1.25v1.25h-1.25zM320.25 1020.65h1.25v1.25h-1.25zM320.25 1021.90h1.25v1.25h-1.25zM320.25 1023.15h1.25v1.25h-1.25zM320.25 1024.40h1.25v1.25h-1.25zM320.25 1025.65h1.25v1.25h-1.25zM320.25 1026.90h1.25v1.25h-1.25zM320.25 1028.15h1.25v1.25h-1.25zM320.25 1029.40h1.25v1.25h-1.25zM320.25 1033.15h1.25v1.25h-1.25zM320.25 1034.40h1.25v1.25h-1.25zM320.25 1035.65h1.25v1.25h-1.25zM320.25 1036.90h1.25v1.25h-1.25zM321.50 1016.90h1.25v1.25h-1.25zM321.50 1018.15h1.25v1.25h-1.25zM321.50 1019.40h1.25v1.25h-1.25zM321.50 1020.65h1.25v1.25h-1.25zM321.50 1021.90h1.25v1.25h-1.25zM321.50 1023.15h1.25v1.25h-1.25zM321.50 1024.40h1.25v1.25h-1.25zM321.50 1025.65h1.25v1.25h-1.25zM321.50 1026.90h1.25v1.25h-1.25zM321.50 1029.40h1.25v1.25h-1.25zM321.50 1033.15h1.25v1.25h-1.25zM322.75 1016.90h1.25v1.25h-1.25zM322.75 1018.15h1.25v1.25h-1.25zM322.75 1019.40h1.25v1.25h-1.25zM322.75 1020.65h1.25v1.25h-1.25zM322.75 1021.90h1.25v1.25h-1.25zM322.75 1023.15h1.25v1.25h-1.25zM322.75 1024.40h1.25v1.25h-1.25zM322.75 1025.65h1.25v1.25h-1.25zM322.75 1028.15h1.25v1.25h-1.25zM322.75 1029.40h1.25v1.25h-1.25zM322.75 1035.65h1.25v1.25h-1.25zM324.00 1015.65h1.25v1.25h-1.25zM324.00 1016.90h1.25v1.25h-1.25zM324.00 1018.15h1.25v1.25h-1.25zM324.00 1019.40h1.25v1.25h-1.25zM324.00 1020.65h1.25v1.25h-1.25zM324.00 1021.90h1.25v1.25h-1.25zM324.00 1023.15h1.25v1.25h-1.25zM324.00 1024.40h1.25v1.25h-1.25zM324.00 1025.65h1.25v1.25h-1.25zM324.00 1026.90h1.25v1.25h-1.25zM324.00 1029.40h1.25v1.25h-1.25zM324.00 1031.90h1.25v1.25h-1.25zM324.00 1034.40h1.25v1.25h-1.25zM324.00 1035.65h1.25v1.25h-1.25zM325.25 1015.65h1.25v1.25h-1.25zM325.25 1016.90h1.25v1.25h-1.25zM325.25 1018.15h1.25v1.25h-1.25zM325.25 1019.40h1.25v1.25h-1.25zM325.25 1020.65h1.25v1.25h-1.25zM325.25 1021.90h1.25v1.25h-1.25zM325.25 1023.15h1.25v1.25h-1.25zM325.25 1024.40h1.25v1.25h-1.25zM325.25 1025.65h1.25v1.25h-1.25zM325.25 1026.90h1.25v1.25h-1.25zM325.25 1028.15h1.25v1.25h-1.25zM325.25 1029.40h1.25v1.25h-1.25zM325.25 1030.65h1.25v1.25h-1.25zM325.25 1031.90h1.25v1.25h-1.25zM325.25 1033.15h1.25v1.25h-1.25zM325.25 1034.40h1.25v1.25h-1.25zM325.25 1035.65h1.25v1.25h-1.25zM325.25 1036.90h1.25v1.25h-1.25zM326.50 1015.65h1.25v1.25h-1.25zM326.50 1016.90h1.25v1.25h-1.25zM326.50 1018.15h1.25v1.25h-1.25zM326.50 1019.40h1.25v1.25h-1.25zM326.50 1020.65h1.25v1.25h-1.25zM326.50 1021.90h1.25v1.25h-1.25zM326.50 1023.15h1.25v1.25h-1.25zM326.50 1024.40h1.25v1.25h-1.25zM326.50 1025.65h1.25v1.25h-1.25zM326.50 1026.90h1.25v1.25h-1.25zM326.50 1028.15h1.25v1.25h-1.25zM326.50 1029.40h1.25v1.25h-1.25zM326.50 1030.65h1.25v1.25h-1.25zM326.50 1031.90h1.25v1.25h-1.25zM327.75 1014.40h1.25v1.25h-1.25zM327.75 1015.65h1.25v1.25h-1.25zM327.75 1016.90h1.25v1.25h-1.25zM327.75 1018.15h1.25v1.25h-1.25zM327.75 1019.40h1.25v1.25h-1.25zM327.75 1020.65h1.25v1.25h-1.25zM327.75 1021.90h1.25v1.25h-1.25zM327.75 1023.15h1.25v1.25h-1.25zM327.75 1024.40h1.25v1.25h-1.25zM327.75 1025.65h1.25v1.25h-1.25zM327.75 1026.90h1.25v1.25h-1.25zM327.75 1028.15h1.25v1.25h-1.25zM327.75 1029.40h1.25v1.25h-1.25zM327.75 1031.90h1.25v1.25h-1.25zM327.75 1033.15h1.25v1.25h-1.25zM327.75 1034.40h1.25v1.25h-1.25zM327.75 1039.40h1.25v1.25h-1.25zM329.00 1014.40h1.25v1.25h-1.25zM329.00 1015.65h1.25v1.25h-1.25zM329.00 1016.90h1.25v1.25h-1.25zM329.00 1018.15h1.25v1.25h-1.25zM329.00 1019.40h1.25v1.25h-1.25zM329.00 1020.65h1.25v1.25h-1.25zM329.00 1021.90h1.25v1.25h-1.25zM329.00 1023.15h1.25v1.25h-1.25zM329.00 1024.40h1.25v1.25h-1.25zM329.00 1025.65h1.25v1.25h-1.25zM329.00 1028.15h1.25v1.25h-1.25zM329.00 1029.40h1.25v1.25h-1.25zM329.00 1030.65h1.25v1.25h-1.25zM329.00 1031.90h1.25v1.25h-1.25zM329.00 1033.15h1.25v1.25h-1.25zM330.25 1014.40h1.25v1.25h-1.25zM330.25 1015.65h1.25v1.25h-1.25zM330.25 1016.90h1.25v1.25h-1.25zM330.25 1018.15h1.25v1.25h-1.25zM330.25 1019.40h1.25v1.25h-1.25zM330.25 1020.65h1.25v1.25h-1.25zM330.25 1021.90h1.25v1.25h-1.25zM330.25 1023.15h1.25v1.25h-1.25zM330.25 1028.15h1.25v1.25h-1.25zM330.25 1029.40h1.25v1.25h-1.25zM331.50 1013.15h1.25v1.25h-1.25zM331.50 1014.40h1.25v1.25h-1.25zM331.50 1015.65h1.25v1.25h-1.25zM331.50 1016.90h1.25v1.25h-1.25zM331.50 1018.15h1.25v1.25h-1.25zM331.50 1019.40h1.25v1.25h-1.25zM331.50 1020.65h1.25v1.25h-1.25zM331.50 1021.90h1.25v1.25h-1.25zM331.50 1024.40h1.25v1.25h-1.25zM331.50 1025.65h1.25v1.25h-1.25zM331.50 1026.90h1.25v1.25h-1.25zM331.50 1028.15h1.25v1.25h-1.25zM331.50 1030.65h1.25v1.25h-1.25z" fill="#c0faf0"/>
<path d="M334.00 1013.15h1.25v1.25h-1.25zM334.00 1014.40h1.25v1.25h-1.25zM334.00 1015.65h1.25v1.25h-1.25zM334.00 1016.90h1.25v1.25h-1.25zM334.00 1018.15h1.25v1.25h-1.25zM334.00 1019.40h1.25v1.25h-1.25zM334.00 1021.90h1.25v1.25h-1.25zM334.00 1023.15h1.25v1.25h-1.25zM334.00 1024.40h1.25v1.25h-1.25zM334.00 1028.15h1.25v1.25h-1.25zM334.00 1029.40h1.25v1.25h-1.25zM334.00 1030.65h1.25v1.25h-1.25zM335.25 1011.90h1.25v1.25h-1.25zM335.25 1013.15h1.25v1.25h-1.25zM335.25 1014.40h1.25v1.25h-1.25zM335.25 1016.90h1.25v1.25h-1.25zM335.25 1018.15h1.25v1.25h-1.25zM335.25 1019.40h1.25v1.25h-1.25zM335.25 1020.65h1.25v1.25h-1.25zM335.25 1023.15h1.25v1.25h-1.25zM335.25 1024.40h1.25v1.25h-1.25zM335.25 1025.65h1.25v1.25h-1.25zM335.25 1026.90h1.25v1.25h-1.25zM335.25 1029.40h1.25v1.25h-1.25zM335.25 1035.65h1.25v1.25h-1.25zM336.50 1011.90h1.25v1.25h-1.25zM336.50 1013.15h1.25v1.25h-1.25zM336.50 1014.40h1.25v1.25h-1.25zM336.50 1015.65h1.25v1.25h-1.25zM336.50 1016.90h1.25v1.25h-1.25zM336.50 1018.15h1.25v1.25h-1.25zM336.50 1019.40h1.25v1.25h-1.25zM336.50 1020.65h1.25v1.25h-1.25zM336.50 1021.90h1.25v1.25h-1.25zM336.50 1023.15h1.25v1.25h-1.25zM336.50 1024.40h1.25v1.25h-1.25zM336.50 1026.90h1.25v1.25h-1.25zM336.50 1036.90h1.25v1.25h-1.25zM337.75 1011.90h1.25v1.25h-1.25zM337.75 1013.15h1.25v1.25h-1.25zM337.75 1014.40h1.25v1.25h-1.25zM337.75 1015.65h1.25v1.25h-1.25zM337.75 1016.90h1.25v1.25h-1.25zM337.75 1018.15h1.25v1.25h-1.25zM337.75 1019.40h1.25v1.25h-1.25zM337.75 1020.65h1.25v1.25h-1.25zM337.75 1021.90h1.25v1.25h-1.25zM337.75 1025.65h1.25v1.25h-1.25zM337.75 1029.40h1.25v1.25h-1.25zM337.75 1034.40h1.25v1.25h-1.25zM339.00 1010.65h1.25v1.25h-1.25zM339.00 1011.90h1.25v1.25h-1.25zM339.00 1013.15h1.25v1.25h-1.25zM339.00 1014.40h1.25v1.25h-1.25zM339.00 1015.65h1.25v1.25h-1.25zM339.00 1018.15h1.25v1.25h-1.25zM339.00 1019.40h1.25v1.25h-1.25zM339.00 1020.65h1.25v1.25h-1.25zM339.00 1021.90h1.25v1.25h-1.25zM339.00 1024.40h1.25v1.25h-1.25zM339.00 1025.65h1.25v1.25h-1.25zM339.00 1028.15h1.25v1.25h-1.25zM339.00 1030.65h1.25v1.25h-1.25zM339.00 1031.90h1.25v1.25h-1.25zM339.00 1034.40h1.25v1.25h-1.25zM340.25 1010.65h1.25v1.25h-1.25zM340.25 1011.90h1.25v1.25h-1.25zM340.25 1013.15h1.25v1.25h-1.25zM340.25 1014.40h1.25v1.25h-1.25zM340.25 1016.90h1.25v1.25h-1.25zM340.25 1018.15h1.25v1.25h-1.25zM340.25 1019.40h1.25v1.25h-1.25zM340.25 1020.65h1.25v1.25h-1.25zM340.25 1021.90h1.25v1.25h-1.25zM340.25 1023.15h1.25v1.25h-1.25zM340.25 1029.40h1.25v1.25h-1.25zM340.25 1030.65h1.25v1.25h-1.25zM341.50 1010.65h1.25v1.25h-1.25zM341.50 1013.15h1.25v1.25h-1.25zM341.50 1014.40h1.25v1.25h-1.25zM341.50 1016.90h1.25v1.25h-1.25zM341.50 1019.40h1.25v1.25h-1.25zM341.50 1020.65h1.25v1.25h-1.25zM341.50 1021.90h1.25v1.25h-1.25zM341.50 1026.90h1.25v1.25h-1.25zM341.50 1033.15h1.25v1.25h-1.25zM342.75 1009.40h1.25v1.25h-1.25zM342.75 1010.65h1.25v1.25h-1.25zM342.75 1011.90h1.25v1.25h-1.25zM342.75 1013.15h1.25v1.25h-1.25zM342.75 1014.40h1.25v1.25h-1.25zM342.75 1018.15h1.25v1.25h-1.25zM342.75 1019.40h1.25v1.25h-1.25zM342.75 1025.65h1.25v1.25h-1.25zM342.75 1026.90h1.25v1.25h-1.25zM342.75 1028.15h1.25v1.25h-1.25zM342.75 1030.65h1.25v1.25h-1.25zM344.00 1009.40h1.25v1.25h-1.25zM344.00 1010.65h1.25v1.25h-1.25zM344.00 1011.90h1.25v1.25h-1.25zM344.00 1013.15h1.25v1.25h-1.25zM344.00 1014.40h1.25v1.25h-1.25zM344.00 1016.90h1.25v1.25h-1.25zM344.00 1020.65h1.25v1.25h-1.25zM344.00 1021.90h1.25v1.25h-1.25zM344.00 1024.40h1.25v1.25h-1.25zM344.00 1028.15h1.25v1.25h-1.25zM344.00 1030.65h1.25v1.25h-1.25zM345.25 1009.40h1.25v1.25h-1.25zM345.25 1010.65h1.25v1.25h-1.25zM345.25 1011.90h1.25v1.25h-1.25zM345.25 1013.15h1.25v1.25h-1.25zM345.25 1015.65h1.25v1.25h-1.25zM345.25 1016.90h1.25v1.25h-1.25zM345.25 1018.15h1.25v1.25h-1.25zM345.25 1019.40h1.25v1.25h-1.25zM345.25 1020.65h1.25v1.25h-1.25zM345.25 1021.90h1.25v1.25h-1.25zM345.25 1030.65h1.25v1.25h-1.25zM346.50 1008.15h1.25v1.25h-1.25zM346.50 1009.40h1.25v1.25h-1.25zM346.50 1010.65h1.25v1.25h-1.25zM346.50 1011.90h1.25v1.25h-1.25zM346.50 1013.15h1.25v1.25h-1.25zM346.50 1014.40h1.25v1.25h-1.25zM346.50 1016.90h1.25v1.25h-1.25zM346.50 1018.15h1.25v1.25h-1.25zM346.50 1019.40h1.25v1.25h-1.25zM346.50 1025.65h1.25v1.25h-1.25zM346.50 1028.15h1.25v1.25h-1.25zM346.50 1029.40h1.25v1.25h-1.25zM347.75 1008.15h1.25v1.25h-1.25zM347.75 1009.40h1.25v1.25h-1.25zM347.75 1010.65h1.25v1.25h-1.25zM347.75 1011.90h1.25v1.25h-1.25zM347.75 1014.40h1.25v1.25h-1.25zM347.75 1015.65h1.25v1.25h-1.25zM347.75 1016.90h1.25v1.25h-1.25zM347.75 1018.15h1.25v1.25h-1.25zM347.75 1019.40h1.25v1.25h-1.25zM347.75 1021.90h1.25v1.25h-1.25zM347.75 1024.40h1.25v1.25h-1.25zM347.75 1033.15h1.25v1.25h-1.25zM349.00 1008.15h1.25v1.25h-1.25zM349.00 1009.40h1.25v1.25h-1.25zM349.00 1010.65h1.25v1.25h-1.25zM349.00 1011.90h1.25v1.25h-1.25zM349.00 1013.15h1.25v1.25h-1.25zM349.00 1014.40h1.25v1.25h-1.25zM349.00 1016.90h1.25v1.25h-1.25zM349.00 1018.15h1.25v1.25h-1.25zM349.00 1019.40h1.25v1.25h-1.25zM349.00 1024.40h1.25v1.25h-1.25zM349.00 1025.65h1.25v1.25h-1.25zM349.00 1026.90h1.25v1.25h-1.25zM349.00 1033.15h1.25v1.25h-1.25zM350.25 1006.90h1.25v1.25h-1.25zM350.25 1008.15h1.25v1.25h-1.25zM350.25 1009.40h1.25v1.25h-1.25zM350.25 1010.65h1.25v1.25h-1.25zM350.25 1011.90h1.25v1.25h-1.25zM350.25 1013.15h1.25v1.25h-1.25zM350.25 1015.65h1.25v1.25h-1.25zM350.25 1016.90h1.25v1.25h-1.25zM350.25 1019.40h1.25v1.25h-1.25zM350.25 1020.65h1.25v1.25h-1.25zM350.25 1023.15h1.25v1.25h-1.25zM350.25 1024.40h1.25v1.25h-1.25zM350.25 1026.90h1.25v1.25h-1.25zM351.50 1006.90h1.25v1.25h-1.25zM351.50 1008.15h1.25v1.25h-1.25zM351.50 1009.40h1.25v1.25h-1.25zM351.50 1010.65h1.25v1.25h-1.25zM351.50 1011.90h1.25v1.25h-1.25zM351.50 1014.40h1.25v1.25h-1.25zM351.50 1016.90h1.25v1.25h-1.25zM351.50 1019.40h1.25v1.25h-1.25zM351.50 1024.40h1.25v1.25h-1.25zM351.50 1025.65h1.25v1.25h-1.25zM352.75 1006.90h1.25v1.25h-1.25zM352.75 1008.15h1.25v1.25h-1.25zM352.75 1009.40h1.25v1.25h-1.25zM352.75 1010.65h1.25v1.25h-1.25zM352.75 1011.90h1.25v1.25h-1.25zM352.75 1014.40h1.25v1.25h-1.25zM352.75 1018.15h1.25v1.25h-1.25zM352.75 1019.40h1.25v1.25h-1.25zM352.75 1020.65h1.25v1.25h-1.25zM352.75 1021.90h1.25v1.25h-1.25zM352.75 1031.90h1.25v1.25h-1.25zM354.00 1005.65h1.25v1.25h-1.25zM354.00 1006.90h1.25v1.25h-1.25zM354.00 1008.15h1.25v1.25h-1.25zM354.00 1009.40h1.25v1.25h-1.25zM354.00 1010.65h1.25v1.25h-1.25zM354.00 1011.90h1.25v1.25h-1.25zM354.00 1013.15h1.25v1.25h-1.25zM354.00 1015.65h1.25v1.25h-1.25zM354.00 1016.90h1.25v1.25h-1.25zM354.00 1018.15h1.25v1.25h-1.25zM354.00 1023.15h1.25v1.25h-1.25zM355.25 1005.65h1.25v1.25h-1.25zM355.25 1006.90h1.25v1.25h-1.25zM355.25 1008.15h1.25v1.25h-1.25zM355.25 1009.40h1.25v1.25h-1.25zM355.25 1010.65h1.25v1.25h-1.25zM355.25 1011.90h1.25v1.25h-1.25zM355.25 1013.15h1.25v1.25h-1.25zM355.25 1014.40h1.25v1.25h-1.25zM355.25 1015.65h1.25v1.25h-1.25zM355.25 1016.90h1.25v1.25h-1.25zM355.25 1018.15h1.25v1.25h-1.25zM355.25 1019.40h1.25v1.25h-1.25zM355.25 1021.90h1.25v1.25h-1.25zM355.25 1024.40h1.25v1.25h-1.25zM356.50 1004.40h1.25v1.25h-1.25zM356.50 1005.65h1.25v1.25h-1.25zM356.50 1006.90h1.25v1.25h-1.25zM356.50 1008.15h1.25v1.25h-1.25zM356.50 1009.40h1.25v1.25h-1.25zM356.50 1011.90h1.25v1.25h-1.25zM356.50 1016.90h1.25v1.25h-1.25zM356.50 1018.15h1.25v1.25h-1.25zM356.50 1020.65h1.25v1.25h-1.25zM356.50 1021.90h1.25v1.25h-1.25zM356.50 1023.15h1.25v1.25h-1.25zM356.50 1024.40h1.25v1.25h-1.25zM357.75 1004.40h1.25v1.25h-1.25zM357.75 1005.65h1.25v1.25h-1.25zM357.75 1006.90h1.25v1.25h-1.25zM357.75 1008.15h1.25v1.25h-1.25zM357.75 1009.40h1.25v1.25h-1.25zM357.75 1013.15h1.25v1.25h-1.25zM357.75 1016.90h1.25v1.25h-1.25zM357.75 1019.40h1.25v1.25h-1.25zM359.00 1004.40h1.25v1.25h-1.25zM359.00 1005.65h1.25v1.25h-1.25zM359.00 1006.90h1.25v1.25h-1.25zM359.00 1008.15h1.25v1.25h-1.25zM359.00 1010.65h1.25v1.25h-1.25zM359.00 1011.90h1.25v1.25h-1.25zM359.00 1013.15h1.25v1.25h-1.25zM359.00 1014.40h1.25v1.25h-1.25zM359.00 1015.65h1.25v1.25h-1.25zM359.00 1016.90h1.25v1.25h-1.25zM359.00 1018.15h1.25v1.25h-1.25zM359.00 1020.65h1.25v1.25h-1.25zM360.25 1003.15h1.25v1.25h-1.25zM360.25 1004.40h1.25v1.25h-1.25zM360.25 1005.65h1.25v1.25h-1.25zM360.25 1006.90h1.25v1.25h-1.25zM360.25 1008.15h1.25v1.25h-1.25zM360.25 1009.40h1.25v1.25h-1.25zM360.25 1010.65h1.25v1.25h-1.25zM360.25 1013.15h1.25v1.25h-1.25zM360.25 1014.40h1.25v1.25h-1.25zM360.25 1015.65h1.25v1.25h-1.25zM360.25 1018.15h1.25v1.25h-1.25zM360.25 1019.40h1.25v1.25h-1.25zM360.25 1024.40h1.25v1.25h-1.25zM361.50 1003.15h1.25v1.25h-1.25zM361.50 1004.40h1.25v1.25h-1.25zM361.50 1005.65h1.25v1.25h-1.25zM361.50 1006.90h1.25v1.25h-1.25zM361.50 1008.15h1.25v1.25h-1.25zM361.50 1009.40h1.25v1.25h-1.25zM361.50 1010.65h1.25v1.25h-1.25zM361.50 1014.40h1.25v1.25h-1.25zM361.50 1018.15h1.25v1.25h-1.25zM361.50 1019.40h1.25v1.25h-1.25zM361.50 1020.65h1.25v1.25h-1.25zM362.75 1003.15h1.25v1.25h-1.25zM362.75 1004.40h1.25v1.25h-1.25zM362.75 1006.90h1.25v1.25h-1.25zM362.75 1008.15h1.25v1.25h-1.25zM362.75 1011.90h1.25v1.25h-1.25zM362.75 1013.15h1.25v1.25h-1.25zM362.75 1015.65h1.25v1.25h-1.25zM364.00 1001.90h1.25v1.25h-1.25zM364.00 1003.15h1.25v1.25h-1.25zM364.00 1004.40h1.25v1.25h-1.25zM364.00 1005.65h1.25v1.25h-1.25zM364.00 1006.90h1.25v1.25h-1.25zM364.00 1008.15h1.25v1.25h-1.25zM364.00 1009.40h1.25v1.25h-1.25zM364.00 1013.15h1.25v1.25h-1.25zM364.00 1015.65h1.25v1.25h-1.25zM364.00 1016.90h1.25v1.25h-1.25zM365.25 1001.90h1.25v1.25h-1.25zM365.25 1003.15h1.25v1.25h-1.25zM365.25 1004.40h1.25v1.25h-1.25zM365.25 1005.65h1.25v1.25h-1.25zM365.25 1006.90h1.25v1.25h-1.25zM365.25 1008.15h1.25v1.25h-1.25zM365.25 1010.65h1.25v1.25h-1.25zM365.25 1011.90h1.25v1.25h-1.25zM365.25 1013.15h1.25v1.25h-1.25zM365.25 1016.90h1.25v1.25h-1.25zM365.25 1019.40h1.25v1.25h-1.25zM365.25 1020.65h1.25v1.25h-1.25zM365.25 1024.40h1.25v1.25h-1.25zM366.50 1000.65h1.25v1.25h-1.25zM366.50 1001.90h1.25v1.25h-1.25zM366.50 1003.15h1.25v1.25h-1.25zM366.50 1005.65h1.25v1.25h-1.25zM366.50 1009.40h1.25v1.25h-1.25zM366.50 1010.65h1.25v1.25h-1.25zM366.50 1013.15h1.25v1.25h-1.25zM367.75 1000.65h1.25v1.25h-1.25zM367.75 1001.90h1.25v1.25h-1.25zM367.75 1003.15h1.25v1.25h-1.25zM367.75 1004.40h1.25v1.25h-1.25zM367.75 1005.65h1.25v1.25h-1.25zM367.75 1006.90h1.25v1.25h-1.25zM367.75 1008.15h1.25v1.25h-1.25zM367.75 1009.40h1.25v1.25h-1.25zM367.75 1010.65h1.25v1.25h-1.25zM367.75 1015.65h1.25v1.25h-1.25zM367.75 1016.90h1.25v1.25h-1.25zM367.75 1020.65h1.25v1.25h-1.25zM369.00 1000.65h1.25v1.25h-1.25zM369.00 1001.90h1.25v1.25h-1.25zM369.00 1003.15h1.25v1.25h-1.25zM369.00 1004.40h1.25v1.25h-1.25zM369.00 1005.65h1.25v1.25h-1.25zM369.00 1006.90h1.25v1.25h-1.25zM369.00 1008.15h1.25v1.25h-1.25zM369.00 1010.65h1.25v1.25h-1.25zM369.00 1011.90h1.25v1.25h-1.25zM369.00 1014.40h1.25v1.25h-1.25zM369.00 1015.65h1.25v1.25h-1.25zM369.00 1019.40h1.25v1.25h-1.25zM370.25 999.40h1.25v1.25h-1.25zM370.25 1000.65h1.25v1.25h-1.25zM370.25 1001.90h1.25v1.25h-1.25zM370.25 1003.15h1.25v1.25h-1.25zM370.25 1005.65h1.25v1.25h-1.25zM370.25 1006.90h1.25v1.25h-1.25zM370.25 1008.15h1.25v1.25h-1.25zM370.25 1009.40h1.25v1.25h-1.25zM370.25 1010.65h1.25v1.25h-1.25zM370.25 1011.90h1.25v1.25h-1.25zM370.25 1013.15h1.25v1.25h-1.25zM370.25 1020.65h1.25v1.25h-1.25zM371.50 999.40h1.25v1.25h-1.25zM371.50 1000.65h1.25v1.25h-1.25zM371.50 1001.90h1.25v1.25h-1.25zM371.50 1003.15h1.25v1.25h-1.25zM371.50 1004.40h1.25v1.25h-1.25zM371.50 1005.65h1.25v1.25h-1.25zM371.50 1010.65h1.25v1.25h-1.25zM371.50 1011.90h1.25v1.25h-1.25zM371.50 1016.90h1.25v1.25h-1.25zM372.75 998.15h1.25v1.25h-1.25zM372.75 999.40h1.25v1.25h-1.25zM372.75 1000.65h1.25v1.25h-1.25zM372.75 1001.90h1.25v1.25h-1.25zM372.75 1005.65h1.25v1.25h-1.25zM372.75 1006.90h1.25v1.25h-1.25zM372.75 1008.15h1.25v1.25h-1.25zM372.75 1009.40h1.25v1.25h-1.25zM372.75 1010.65h1.25v1.25h-1.25zM372.75 1011.90h1.25v1.25h-1.25zM372.75 1014.40h1.25v1.25h-1.25zM372.75 1016.90h1.25v1.25h-1.25zM374.00 998.15h1.25v1.25h-1.25zM374.00 999.40h1.25v1.25h-1.25zM374.00 1000.65h1.25v1.25h-1.25zM374.00 1001.90h1.25v1.25h-1.25zM374.00 1003.15h1.25v1.25h-1.25zM374.00 1004.40h1.25v1.25h-1.25zM374.00 1006.90h1.25v1.25h-1.25zM374.00 1009.40h1.25v1.25h-1.25zM374.00 1019.40h1.25v1.25h-1.25zM375.25 998.15h1.25v1.25h-1.25zM375.25 999.40h1.25v1.25h-1.25zM375.25 1000.65h1.25v1.25h-1.25zM375.25 1004.40h1.25v1.25h-1.25zM375.25 1005.65h1.25v1.25h-1.25zM375.25 1006.90h1.25v1.25h-1.25zM375.25 1008.15h1.25v1.25h-1.25zM375.25 1009.40h1.25v1.25h-1.25zM376.50 996.90h1.25v1.25h-1.25zM376.50 998.15h1.25v1.25h-1.25zM376.50 999.40h1.25v1.25h-1.25zM376.50 1001.90h1.25v1.25h-1.25zM376.50 1003.15h1.25v1.25h-1.25zM376.50 1005.65h1.25v1.25h-1.25zM376.50 1010.65h1.25v1.25h-1.25zM377.75 996.90h1.25v1.25h-1.25zM377.75 998.15h1.25v1.25h-1.25zM377.75 999.40h1.25v1.25h-1.25zM377.75 1001.90h1.25v1.25h-1.25zM377.75 1003.15h1.25v1.25h-1.25zM377.75 1004.40h1.25v1.25h-1.25zM377.75 1005.65h1.25v1.25h-1.25zM377.75 1009.40h1.25v1.25h-1.25zM377.75 1011.90h1.25v1.25h-1.25zM377.75 1013.15h1.25v1.25h-1.25zM379.00 995.65h1.25v1.25h-1.25zM379.00 996.90h1.25v1.25h-1.25zM379.00 998.15h1.25v1.25h-1.25zM379.00 999.40h1.25v1.25h-1.25zM379.00 1000.65h1.25v1.25h-1.25zM379.00 1001.90h1.25v1.25h-1.25zM379.00 1004.40h1.25v1.25h-1.25zM379.00 1008.15h1.25v1.25h-1.25zM379.00 1013.15h1.25v1.25h-1.25zM380.25 995.65h1.25v1.25h-1.25zM380.25 996.90h1.25v1.25h-1.25zM380.25 999.40h1.25v1.25h-1.25zM380.25 1000.65h1.25v1.25h-1.25zM380.25 1001.90h1.25v1.25h-1.25zM380.25 1003.15h1.25v1.25h-1.25zM380.25 1004.40h1.25v1.25h-1.25zM380.25 1006.90h1.25v1.25h-1.25zM380.25 1008.15h1.25v1.25h-1.25zM380.25 1011.90h1.25v1.25h-1.25zM380.25 1013.15h1.25v1.25h-1.25zM380.25 1015.65h1.25v1.25h-1.25zM381.50 995.65h1.25v1.25h-1.25zM381.50 996.90h1.25v1.25h-1.25zM381.50 998.15h1.25v1.25h-1.25zM381.50 999.40h1.25v1.25h-1.25zM381.50 1000.65h1.25v1.25h-1.25zM381.50 1001.90h1.25v1.25h-1.25zM381.50 1003.15h1.25v1.25h-1.25zM381.50 1004.40h1.25v1.25h-1.25zM381.50 1006.90h1.25v1.25h-1.25zM381.50 1008.15h1.25v1.25h-1.25zM382.75 994.40h1.25v1.25h-1.25zM382.75 995.65h1.25v1.25h-1.25zM382.75 996.90h1.25v1.25h-1.25zM382.75 998.15h1.25v1.25h-1.25zM382.75 999.40h1.25v1.25h-1.25zM382.75 1000.65h1.25v1.25h-1.25zM382.75 1001.90h1.25v1.25h-1.25zM382.75 1003.15h1.25v1.25h-1.25zM382.75 1004.40h1.25v1.25h-1.25zM382.75 1011.90h1.25v1.25h-1.25zM384.00 994.40h1.25v1.25h-1.25zM384.00 995.65h1.25v1.25h-1.25zM384.00 996.90h1.25v1.25h-1.25zM384.00 998.15h1.25v1.25h-1.25zM384.00 999.40h1.25v1.25h-1.25zM384.00 1000.65h1.25v1.25h-1.25zM384.00 1001.90h1.25v1.25h-1.25zM384.00 1003.15h1.25v1.25h-1.25zM384.00 1008.15h1.25v1.25h-1.25zM384.00 1009.40h1.25v1.25h-1.25zM384.00 1013.15h1.25v1.25h-1.25zM385.25 993.15h1.25v1.25h-1.25zM385.25 994.40h1.25v1.25h-1.25zM385.25 995.65h1.25v1.25h-1.25zM385.25 996.90h1.25v1.25h-1.25zM385.25 998.15h1.25v1.25h-1.25zM385.25 1000.65h1.25v1.25h-1.25zM385.25 1001.90h1.25v1.25h-1.25zM385.25 1003.15h1.25v1.25h-1.25zM385.25 1005.65h1.25v1.25h-1.25zM385.25 1009.40h1.25v1.25h-1.25zM386.50 993.15h1.25v1.25h-1.25zM386.50 994.40h1.25v1.25h-1.25zM386.50 995.65h1.25v1.25h-1.25zM386.50 996.90h1.25v1.25h-1.25zM386.50 998.15h1.25v1.25h-1.25zM386.50 999.40h1.25v1.25h-1.25zM386.50 1000.65h1.25v1.25h-1.25zM386.50 1001.90h1.25v1.25h-1.25zM386.50 1003.15h1.25v1.25h-1.25zM386.50 1004.40h1.25v1.25h-1.25zM386.50 1005.65h1.25v1.25h-1.25zM386.50 1006.90h1.25v1.25h-1.25zM386.50 1008.15h1.25v1.25h-1.25zM386.50 1010.65h1.25v1.25h-1.25zM387.75 991.90h1.25v1.25h-1.25zM387.75 993.15h1.25v1.25h-1.25zM387.75 994.40h1.25v1.25h-1.25zM387.75 995.65h1.25v1.25h-1.25zM387.75 996.90h1.25v1.25h-1.25zM387.75 1001.90h1.25v1.25h-1.25zM387.75 1003.15h1.25v1.25h-1.25zM387.75 1005.65h1.25v1.25h-1.25zM387.75 1006.90h1.25v1.25h-1.25zM387.75 1008.15h1.25v1.25h-1.25zM387.75 1009.40h1.25v1.25h-1.25zM387.75 1010.65h1.25v1.25h-1.25zM389.00 991.90h1.25v1.25h-1.25zM389.00 993.15h1.25v1.25h-1.25zM389.00 994.40h1.25v1.25h-1.25zM389.00 996.90h1.25v1.25h-1.25zM389.00 998.15h1.25v1.25h-1.25zM389.00 1000.65h1.25v1.25h-1.25zM389.00 1004.40h1.25v1.25h-1.25zM390.25 991.90h1.25v1.25h-1.25zM390.25 993.15h1.25v1.25h-1.25zM390.25 994.40h1.25v1.25h-1.25zM390.25 995.65h1.25v1.25h-1.25zM390.25 996.90h1.25v1.25h-1.25zM390.25 998.15h1.25v1.25h-1.25zM390.25 1000.65h1.25v1.25h-1.25zM390.25 1005.65h1.25v1.25h-1.25zM391.50 990.65h1.25v1.25h-1.25zM391.50 991.90h1.25v1.25h-1.25zM391.50 993.15h1.25v1.25h-1.25zM391.50 995.65h1.25v1.25h-1.25zM391.50 996.90h1.25v1.25h-1.25zM391.50 998.15h1.25v1.25h-1.25zM391.50 1000.65h1.25v1.25h-1.25zM391.50 1003.15h1.25v1.25h-1.25zM392.75 990.65h1.25v1.25h-1.25zM392.75 991.90h1.25v1.25h-1.25zM392.75 993.15h1.25v1.25h-1.25zM392.75 994.40h1.25v1.25h-1.25zM392.75 995.65h1.25v1.25h-1.25zM392.75 996.90h1.25v1.25h-1.25zM392.75 1001.90h1.25v1.25h-1.25zM392.75 1008.15h1.25v1.25h-1.25zM392.75 1010.65h1.25v1.25h-1.25zM394.00 989.40h1.25v1.25h-1.25zM394.00 991.90h1.25v1.25h-1.25zM394.00 994.40h1.25v1.25h-1.25zM394.00 995.65h1.25v1.25h-1.25zM394.00 1000.65h1.25v1.25h-1.25zM394.00 1001.90h1.25v1.25h-1.25zM394.00 1005.65h1.25v1.25h-1.25zM395.25 989.40h1.25v1.25h-1.25zM395.25 990.65h1.25v1.25h-1.25zM395.25 991.90h1.25v1.25h-1.25zM395.25 993.15h1.25v1.25h-1.25zM395.25 994.40h1.25v1.25h-1.25zM395.25 995.65h1.25v1.25h-1.25zM395.25 996.90h1.25v1.25h-1.25zM395.25 1000.65h1.25v1.25h-1.25zM395.25 1001.90h1.25v1.25h-1.25zM395.25 1004.40h1.25v1.25h-1.25zM395.25 1009.40h1.25v1.25h-1.25zM396.50 988.15h1.25v1.25h-1.25zM396.50 989.40h1.25v1.25h-1.25zM396.50 990.65h1.25v1.25h-1.25zM396.50 991.90h1.25v1.25h-1.25zM396.50 993.15h1.25v1.25h-1.25zM396.50 994.40h1.25v1.25h-1.25zM396.50 995.65h1.25v1.25h-1.25zM396.50 996.90h1.25v1.25h-1.25zM396.50 998.15h1.25v1.25h-1.25zM396.50 1005.65h1.25v1.25h-1.25z" fill="#d3d9d9"/>
<path d="M397.75 988.15h1.25v1.25h-1.25zM397.75 989.40h1.25v1.25h-1.25zM397.75 990.65h1.25v1.25h-1.25zM397.75 991.90h1.25v1.25h-1.25zM397.75 993.15h1.25v1.25h-1.25zM397.75 998.15h1.25v1.25h-1.25zM397.75 1001.90h1.25v1.25h-1.25zM397.75 1006.90h1.25v1.25h-1.25zM399.00 988.15h1.25v1.25h-1.25zM399.00 989.40h1.25v1.25h-1.25zM399.00 990.65h1.25v1.25h-1.25zM399.00 991.90h1.25v1.25h-1.25zM399.00 993.15h1.25v1.25h-1.25zM399.00 1000.65h1.25v1.25h-1.25zM400.25 986.90h1.25v1.25h-1.25zM400.25 988.15h1.25v1.25h-1.25zM400.25 989.40h1.25v1.25h-1.25zM400.25 990.65h1.25v1.25h-1.25zM400.25 991.90h1.25v1.25h-1.25zM400.25 994.40h1.25v1.25h-1.25zM400.25 995.65h1.25v1.25h-1.25zM400.25 996.90h1.25v1.25h-1.25zM400.25 998.15h1.25v1.25h-1.25zM400.25 999.40h1.25v1.25h-1.25zM400.25 1000.65h1.25v1.25h-1.25zM401.50 986.90h1.25v1.25h-1.25zM401.50 988.15h1.25v1.25h-1.25zM401.50 989.40h1.25v1.25h-1.25zM401.50 990.65h1.25v1.25h-1.25zM401.50 991.90h1.25v1.25h-1.25zM401.50 998.15h1.25v1.25h-1.25zM402.75 985.65h1.25v1.25h-1.25zM402.75 986.90h1.25v1.25h-1.25zM402.75 988.15h1.25v1.25h-1.25zM402.75 989.40h1.25v1.25h-1.25zM402.75 990.65h1.25v1.25h-1.25zM402.75 993.15h1.25v1.25h-1.25zM402.75 994.40h1.25v1.25h-1.25zM402.75 996.90h1.25v1.25h-1.25zM402.75 1000.65h1.25v1.25h-1.25zM402.75 1001.90h1.25v1.25h-1.25zM404.00 985.65h1.25v1.25h-1.25zM404.00 986.90h1.25v1.25h-1.25zM404.00 988.15h1.25v1.25h-1.25zM404.00 989.40h1.25v1.25h-1.25zM404.00 990.65h1.25v1.25h-1.25zM404.00 991.90h1.25v1.25h-1.25zM404.00 993.15h1.25v1.25h-1.25zM404.00 994.40h1.25v1.25h-1.25zM404.00 995.65h1.25v1.25h-1.25zM404.00 999.40h1.25v1.25h-1.25zM405.25 984.40h1.25v1.25h-1.25zM405.25 985.65h1.25v1.25h-1.25zM405.25 986.90h1.25v1.25h-1.25zM405.25 988.15h1.25v1.25h-1.25zM405.25 989.40h1.25v1.25h-1.25zM405.25 990.65h1.25v1.25h-1.25zM405.25 993.15h1.25v1.25h-1.25zM405.25 994.40h1.25v1.25h-1.25zM405.25 995.65h1.25v1.25h-1.25zM406.50 984.40h1.25v1.25h-1.25zM406.50 985.65h1.25v1.25h-1.25zM406.50 986.90h1.25v1.25h-1.25zM406.50 988.15h1.25v1.25h-1.25zM406.50 989.40h1.25v1.25h-1.25zM406.50 990.65h1.25v1.25h-1.25zM406.50 993.15h1.25v1.25h-1.25zM406.50 994.40h1.25v1.25h-1.25zM406.50 995.65h1.25v1.25h-1.25zM406.50 1001.90h1.25v1.25h-1.25zM407.75 983.15h1.25v1.25h-1.25zM407.75 984.40h1.25v1.25h-1.25zM407.75 985.65h1.25v1.25h-1.25zM407.75 986.90h1.25v1.25h-1.25zM407.75 990.65h1.25v1.25h-1.25zM407.75 993.15h1.25v1.25h-1.25zM407.75 994.40h1.25v1.25h-1.25zM407.75 996.90h1.25v1.25h-1.25zM407.75 999.40h1.25v1.25h-1.25zM409.00 983.15h1.25v1.25h-1.25zM409.00 984.40h1.25v1.25h-1.25zM409.00 986.90h1.25v1.25h-1.25zM409.00 988.15h1.25v1.25h-1.25zM409.00 989.40h1.25v1.25h-1.25zM409.00 990.65h1.25v1.25h-1.25zM409.00 991.90h1.25v1.25h-1.25zM409.00 994.40h1.25v1.25h-1.25zM410.25 981.90h1.25v1.25h-1.25zM410.25 983.15h1.25v1.25h-1.25zM410.25 984.40h1.25v1.25h-1.25zM410.25 985.65h1.25v1.25h-1.25zM410.25 986.90h1.25v1.25h-1.25zM410.25 988.15h1.25v1.25h-1.25zM410.25 990.65h1.25v1.25h-1.25zM410.25 991.90h1.25v1.25h-1.25zM410.25 994.40h1.25v1.25h-1.25z" fill="#c6cece"/>
<path d="M411.50 981.90h1.25v1.25h-1.25zM411.50 983.15h1.25v1.25h-1.25zM411.50 984.40h1.25v1.25h-1.25zM411.50 985.65h1.25v1.25h-1.25zM411.50 986.90h1.25v1.25h-1.25zM411.50 988.15h1.25v1.25h-1.25zM411.50 989.40h1.25v1.25h-1.25zM411.50 990.65h1.25v1.25h-1.25zM411.50 993.15h1.25v1.25h-1.25zM412.75 981.90h1.25v1.25h-1.25zM412.75 983.15h1.25v1.25h-1.25zM412.75 984.40h1.25v1.25h-1.25zM412.75 985.65h1.25v1.25h-1.25zM412.75 988.15h1.25v1.25h-1.25zM412.75 989.40h1.25v1.25h-1.25zM414.00 980.65h1.25v1.25h-1.25zM414.00 981.90h1.25v1.25h-1.25zM414.00 983.15h1.25v1.25h-1.25zM414.00 984.40h1.25v1.25h-1.25zM414.00 986.90h1.25v1.25h-1.25zM414.00 988.15h1.25v1.25h-1.25zM414.00 989.40h1.25v1.25h-1.25zM414.00 991.90h1.25v1.25h-1.25zM414.00 996.90h1.25v1.25h-1.25zM414.00 998.15h1.25v1.25h-1.25zM415.25 980.65h1.25v1.25h-1.25zM415.25 981.90h1.25v1.25h-1.25zM415.25 984.40h1.25v1.25h-1.25zM415.25 985.65h1.25v1.25h-1.25zM415.25 986.90h1.25v1.25h-1.25zM415.25 989.40h1.25v1.25h-1.25zM415.25 994.40h1.25v1.25h-1.25zM416.50 979.40h1.25v1.25h-1.25zM416.50 980.65h1.25v1.25h-1.25zM416.50 981.90h1.25v1.25h-1.25zM416.50 983.15h1.25v1.25h-1.25zM416.50 984.40h1.25v1.25h-1.25zM416.50 989.40h1.25v1.25h-1.25zM417.75 979.40h1.25v1.25h-1.25zM417.75 980.65h1.25v1.25h-1.25zM417.75 981.90h1.25v1.25h-1.25zM417.75 983.15h1.25v1.25h-1.25zM417.75 984.40h1.25v1.25h-1.25zM417.75 985.65h1.25v1.25h-1.25zM417.75 986.90h1.25v1.25h-1.25zM417.75 988.15h1.25v1.25h-1.25zM417.75 990.65h1.25v1.25h-1.25zM419.00 978.15h1.25v1.25h-1.25zM419.00 979.40h1.25v1.25h-1.25zM419.00 980.65h1.25v1.25h-1.25zM419.00 981.90h1.25v1.25h-1.25zM419.00 983.15h1.25v1.25h-1.25zM419.00 985.65h1.25v1.25h-1.25zM419.00 986.90h1.25v1.25h-1.25zM419.00 989.40h1.25v1.25h-1.25zM420.25 978.15h1.25v1.25h-1.25zM420.25 979.40h1.25v1.25h-1.25zM420.25 980.65h1.25v1.25h-1.25zM420.25 981.90h1.25v1.25h-1.25zM420.25 983.15h1.25v1.25h-1.25zM420.25 984.40h1.25v1.25h-1.25zM420.25 985.65h1.25v1.25h-1.25zM421.50 976.90h1.25v1.25h-1.25zM421.50 978.15h1.25v1.25h-1.25zM421.50 979.40h1.25v1.25h-1.25zM421.50 981.90h1.25v1.25h-1.25zM421.50 983.15h1.25v1.25h-1.25zM421.50 990.65h1.25v1.25h-1.25z" fill="#b9c2c2"/>
<path d="M422.75 976.90h1.25v1.25h-1.25zM422.75 978.15h1.25v1.25h-1.25zM422.75 979.40h1.25v1.25h-1.25zM422.75 980.65h1.25v1.25h-1.25zM422.75 983.15h1.25v1.25h-1.25zM422.75 984.40h1.25v1.25h-1.25zM422.75 986.90h1.25v1.25h-1.25zM422.75 993.15h1.25v1.25h-1.25zM424.00 975.65h1.25v1.25h-1.25zM424.00 976.90h1.25v1.25h-1.25zM424.00 978.15h1.25v1.25h-1.25zM424.00 979.40h1.25v1.25h-1.25zM424.00 980.65h1.25v1.25h-1.25zM424.00 981.90h1.25v1.25h-1.25zM424.00 984.40h1.25v1.25h-1.25zM424.00 985.65h1.25v1.25h-1.25zM424.00 990.65h1.25v1.25h-1.25zM425.25 975.65h1.25v1.25h-1.25zM425.25 976.90h1.25v1.25h-1.25zM425.25 978.15h1.25v1.25h-1.25zM425.25 980.65h1.25v1.25h-1.25zM425.25 981.90h1.25v1.25h-1.25zM425.25 984.40h1.25v1.25h-1.25zM426.50 974.40h1.25v1.25h-1.25zM426.50 975.65h1.25v1.25h-1.25zM426.50 976.90h1.25v1.25h-1.25zM426.50 978.15h1.25v1.25h-1.25zM426.50 979.40h1.25v1.25h-1.25zM426.50 980.65h1.25v1.25h-1.25zM426.50 983.15h1.25v1.25h-1.25zM426.50 984.40h1.25v1.25h-1.25zM426.50 986.90h1.25v1.25h-1.25zM427.75 974.40h1.25v1.25h-1.25zM427.75 975.65h1.25v1.25h-1.25zM427.75 976.90h1.25v1.25h-1.25zM427.75 978.15h1.25v1.25h-1.25zM427.75 981.90h1.25v1.25h-1.25zM429.00 973.15h1.25v1.25h-1.25zM429.00 974.40h1.25v1.25h-1.25zM429.00 975.65h1.25v1.25h-1.25zM429.00 976.90h1.25v1.25h-1.25zM429.00 978.15h1.25v1.25h-1.25zM429.00 979.40h1.25v1.25h-1.25zM429.00 983.15h1.25v1.25h-1.25zM430.25 973.15h1.25v1.25h-1.25zM430.25 974.40h1.25v1.25h-1.25zM430.25 975.65h1.25v1.25h-1.25zM430.25 979.40h1.25v1.25h-1.25zM430.25 981.90h1.25v1.25h-1.25zM431.50 971.90h1.25v1.25h-1.25zM431.50 973.15h1.25v1.25h-1.25zM431.50 974.40h1.25v1.25h-1.25zM431.50 975.65h1.25v1.25h-1.25zM431.50 976.90h1.25v1.25h-1.25zM431.50 981.90h1.25v1.25h-1.25zM432.75 971.90h1.25v1.25h-1.25zM432.75 973.15h1.25v1.25h-1.25zM432.75 974.40h1.25v1.25h-1.25zM432.75 975.65h1.25v1.25h-1.25zM432.75 976.90h1.25v1.25h-1.25zM432.75 979.40h1.25v1.25h-1.25zM432.75 981.90h1.25v1.25h-1.25zM432.75 985.65h1.25v1.25h-1.25z" fill="#acb6b6"/>
<path d="M434.00 970.65h1.25v1.25h-1.25zM434.00 971.90h1.25v1.25h-1.25zM434.00 973.15h1.25v1.25h-1.25zM434.00 974.40h1.25v1.25h-1.25zM434.00 980.65h1.25v1.25h-1.25zM434.00 981.90h1.25v1.25h-1.25zM434.00 983.15h1.25v1.25h-1.25zM435.25 970.65h1.25v1.25h-1.25zM435.25 971.90h1.25v1.25h-1.25zM435.25 973.15h1.25v1.25h-1.25zM435.25 975.65h1.25v1.25h-1.25zM435.25 981.90h1.25v1.25h-1.25zM435.25 983.15h1.25v1.25h-1.25zM436.50 969.40h1.25v1.25h-1.25zM436.50 970.65h1.25v1.25h-1.25zM436.50 971.90h1.25v1.25h-1.25zM436.50 973.15h1.25v1.25h-1.25zM436.50 975.65h1.25v1.25h-1.25zM436.50 976.90h1.25v1.25h-1.25zM436.50 978.15h1.25v1.25h-1.25zM436.50 981.90h1.25v1.25h-1.25zM437.75 969.40h1.25v1.25h-1.25zM437.75 970.65h1.25v1.25h-1.25zM437.75 973.15h1.25v1.25h-1.25zM437.75 978.15h1.25v1.25h-1.25zM439.00 968.15h1.25v1.25h-1.25zM439.00 969.40h1.25v1.25h-1.25zM439.00 970.65h1.25v1.25h-1.25zM439.00 971.90h1.25v1.25h-1.25zM439.00 975.65h1.25v1.25h-1.25zM439.00 976.90h1.25v1.25h-1.25zM439.00 980.65h1.25v1.25h-1.25zM440.25 968.15h1.25v1.25h-1.25zM440.25 970.65h1.25v1.25h-1.25zM440.25 971.90h1.25v1.25h-1.25zM440.25 973.15h1.25v1.25h-1.25zM440.25 974.40h1.25v1.25h-1.25zM440.25 976.90h1.25v1.25h-1.25zM440.25 980.65h1.25v1.25h-1.25zM441.50 966.90h1.25v1.25h-1.25zM441.50 968.15h1.25v1.25h-1.25zM441.50 970.65h1.25v1.25h-1.25zM441.50 973.15h1.25v1.25h-1.25zM442.75 966.90h1.25v1.25h-1.25zM442.75 968.15h1.25v1.25h-1.25zM442.75 969.40h1.25v1.25h-1.25zM442.75 971.90h1.25v1.25h-1.25zM442.75 973.15h1.25v1.25h-1.25zM442.75 974.40h1.25v1.25h-1.25zM442.75 979.40h1.25v1.25h-1.25z" fill="#9fabab"/>
<path d="M444.00 965.65h1.25v1.25h-1.25zM444.00 966.90h1.25v1.25h-1.25zM444.00 968.15h1.25v1.25h-1.25zM444.00 970.65h1.25v1.25h-1.25zM444.00 973.15h1.25v1.25h-1.25zM444.00 974.40h1.25v1.25h-1.25zM445.25 965.65h1.25v1.25h-1.25zM445.25 966.90h1.25v1.25h-1.25zM445.25 968.15h1.25v1.25h-1.25zM445.25 970.65h1.25v1.25h-1.25zM445.25 974.40h1.25v1.25h-1.25zM446.50 964.40h1.25v1.25h-1.25zM446.50 965.65h1.25v1.25h-1.25zM446.50 966.90h1.25v1.25h-1.25zM446.50 968.15h1.25v1.25h-1.25zM446.50 969.40h1.25v1.25h-1.25zM446.50 971.90h1.25v1.25h-1.25zM446.50 973.15h1.25v1.25h-1.25zM447.75 964.40h1.25v1.25h-1.25zM447.75 966.90h1.25v1.25h-1.25zM447.75 969.40h1.25v1.25h-1.25zM449.00 963.15h1.25v1.25h-1.25zM449.00 964.40h1.25v1.25h-1.25zM449.00 965.65h1.25v1.25h-1.25zM449.00 966.90h1.25v1.25h-1.25zM450.25 963.15h1.25v1.25h-1.25zM450.25 964.40h1.25v1.25h-1.25zM450.25 965.65h1.25v1.25h-1.25zM450.25 966.90h1.25v1.25h-1.25zM450.25 968.15h1.25v1.25h-1.25zM451.50 961.90h1.25v1.25h-1.25zM451.50 963.15h1.25v1.25h-1.25zM451.50 964.40h1.25v1.25h-1.25zM451.50 965.65h1.25v1.25h-1.25zM451.50 966.90h1.25v1.25h-1.25zM451.50 968.15h1.25v1.25h-1.25zM451.50 969.40h1.25v1.25h-1.25z" fill="#939f9f"/>
<path d="M452.75 961.90h1.25v1.25h-1.25zM452.75 963.15h1.25v1.25h-1.25zM452.75 964.40h1.25v1.25h-1.25zM452.75 965.65h1.25v1.25h-1.25zM452.75 966.90h1.25v1.25h-1.25zM454.00 960.65h1.25v1.25h-1.25zM454.00 961.90h1.25v1.25h-1.25zM454.00 963.15h1.25v1.25h-1.25zM454.00 964.40h1.25v1.25h-1.25zM454.00 966.90h1.25v1.25h-1.25zM454.00 968.15h1.25v1.25h-1.25zM455.25 959.40h1.25v1.25h-1.25zM455.25 960.65h1.25v1.25h-1.25zM455.25 961.90h1.25v1.25h-1.25zM455.25 963.15h1.25v1.25h-1.25zM455.25 965.65h1.25v1.25h-1.25zM456.50 959.40h1.25v1.25h-1.25zM456.50 960.65h1.25v1.25h-1.25zM456.50 961.90h1.25v1.25h-1.25zM456.50 964.40h1.25v1.25h-1.25zM456.50 965.65h1.25v1.25h-1.25zM456.50 966.90h1.25v1.25h-1.25zM457.75 958.15h1.25v1.25h-1.25zM457.75 960.65h1.25v1.25h-1.25zM457.75 961.90h1.25v1.25h-1.25zM457.75 963.15h1.25v1.25h-1.25zM459.00 958.15h1.25v1.25h-1.25zM459.00 959.40h1.25v1.25h-1.25zM459.00 960.65h1.25v1.25h-1.25zM459.00 961.90h1.25v1.25h-1.25zM459.00 963.15h1.25v1.25h-1.25zM460.25 956.90h1.25v1.25h-1.25zM460.25 958.15h1.25v1.25h-1.25zM460.25 959.40h1.25v1.25h-1.25zM460.25 960.65h1.25v1.25h-1.25zM460.25 961.90h1.25v1.25h-1.25zM460.25 963.15h1.25v1.25h-1.25zM460.25 965.65h1.25v1.25h-1.25zM461.50 956.90h1.25v1.25h-1.25zM461.50 958.15h1.25v1.25h-1.25zM461.50 961.90h1.25v1.25h-1.25zM461.50 963.15h1.25v1.25h-1.25zM461.50 964.40h1.25v1.25h-1.25zM461.50 965.65h1.25v1.25h-1.25z" fill="#869393"/>
<path d="M462.75 955.65h1.25v1.25h-1.25zM462.75 956.90h1.25v1.25h-1.25zM462.75 959.40h1.25v1.25h-1.25zM462.75 960.65h1.25v1.25h-1.25zM462.75 961.90h1.25v1.25h-1.25zM462.75 963.15h1.25v1.25h-1.25zM464.00 955.65h1.25v1.25h-1.25zM464.00 956.90h1.25v1.25h-1.25zM464.00 958.15h1.25v1.25h-1.25zM465.25 954.40h1.25v1.25h-1.25zM465.25 955.65h1.25v1.25h-1.25zM465.25 956.90h1.25v1.25h-1.25zM465.25 958.15h1.25v1.25h-1.25zM465.25 959.40h1.25v1.25h-1.25zM466.50 954.40h1.25v1.25h-1.25zM466.50 955.65h1.25v1.25h-1.25zM466.50 956.90h1.25v1.25h-1.25zM466.50 958.15h1.25v1.25h-1.25zM466.50 959.40h1.25v1.25h-1.25zM467.75 953.15h1.25v1.25h-1.25zM467.75 954.40h1.25v1.25h-1.25zM467.75 955.65h1.25v1.25h-1.25zM467.75 956.90h1.25v1.25h-1.25zM467.75 958.15h1.25v1.25h-1.25zM467.75 959.40h1.25v1.25h-1.25zM469.00 951.90h1.25v1.25h-1.25zM469.00 953.15h1.25v1.25h-1.25zM469.00 954.40h1.25v1.25h-1.25zM469.00 959.40h1.25v1.25h-1.25zM469.00 960.65h1.25v1.25h-1.25zM470.25 951.90h1.25v1.25h-1.25zM470.25 953.15h1.25v1.25h-1.25zM470.25 954.40h1.25v1.25h-1.25zM470.25 956.90h1.25v1.25h-1.25zM470.25 960.65h1.25v1.25h-1.25z" fill="#7a8787"/>
<path d="M471.50 950.65h1.25v1.25h-1.25zM471.50 951.90h1.25v1.25h-1.25zM471.50 953.15h1.25v1.25h-1.25zM471.50 954.40h1.25v1.25h-1.25zM471.50 955.65h1.25v1.25h-1.25zM471.50 956.90h1.25v1.25h-1.25zM472.75 950.65h1.25v1.25h-1.25zM472.75 958.15h1.25v1.25h-1.25zM474.00 949.40h1.25v1.25h-1.25zM474.00 950.65h1.25v1.25h-1.25zM474.00 954.40h1.25v1.25h-1.25zM475.25 949.40h1.25v1.25h-1.25zM475.25 953.15h1.25v1.25h-1.25z" fill="#6e7b7b"/>
<path d="M476.50 950.65h1.25v1.25h-1.25zM477.75 946.90h1.25v1.25h-1.25zM477.75 948.15h1.25v1.25h-1.25zM477.75 949.40h1.25v1.25h-1.25zM477.75 950.65h1.25v1.25h-1.25zM477.75 951.90h1.25v1.25h-1.25zM477.75 953.15h1.25v1.25h-1.25zM479.00 946.90h1.25v1.25h-1.25zM479.00 948.15h1.25v1.25h-1.25zM479.00 949.40h1.25v1.25h-1.25zM479.00 951.90h1.25v1.25h-1.25zM480.25 945.65h1.25v1.25h-1.25zM480.25 946.90h1.25v1.25h-1.25zM481.50 945.65h1.25v1.25h-1.25zM481.50 946.90h1.25v1.25h-1.25zM481.50 948.15h1.25v1.25h-1.25zM481.50 950.65h1.25v1.25h-1.25z" fill="#626f6f"/>
<path d="M482.75 944.40h1.25v1.25h-1.25zM482.75 945.65h1.25v1.25h-1.25zM482.75 946.90h1.25v1.25h-1.25zM482.75 948.15h1.25v1.25h-1.25zM482.75 949.40h1.25v1.25h-1.25zM484.00 943.15h1.25v1.25h-1.25zM484.00 944.40h1.25v1.25h-1.25zM484.00 948.15h1.25v1.25h-1.25zM485.25 943.15h1.25v1.25h-1.25zM485.25 944.40h1.25v1.25h-1.25zM485.25 945.65h1.25v1.25h-1.25zM486.50 941.90h1.25v1.25h-1.25zM486.50 943.15h1.25v1.25h-1.25zM486.50 945.65h1.25v1.25h-1.25z" fill="#576363"/>
<path d="M487.75 943.15h1.25v1.25h-1.25zM487.75 944.40h1.25v1.25h-1.25zM489.00 940.65h1.25v1.25h-1.25zM490.25 943.15h1.25v1.25h-1.25zM490.25 944.40h1.25v1.25h-1.25zM490.25 945.65h1.25v1.25h-1.25zM491.50 939.40h1.25v1.25h-1.25zM491.50 940.65h1.25v1.25h-1.25zM491.50 941.90h1.25v1.25h-1.25zM492.75 938.15h1.25v1.25h-1.25zM492.75 939.40h1.25v1.25h-1.25zM492.75 940.65h1.25v1.25h-1.25z" fill="#4b5757"/>
<path d="M494.00 938.15h1.25v1.25h-1.25zM495.25 936.90h1.25v1.25h-1.25zM495.25 938.15h1.25v1.25h-1.25zM495.25 940.65h1.25v1.25h-1.25zM496.50 936.90h1.25v1.25h-1.25zM496.50 938.15h1.25v1.25h-1.25zM496.50 939.40h1.25v1.25h-1.25zM496.50 940.65h1.25v1.25h-1.25zM497.75 935.65h1.25v1.25h-1.25zM497.75 936.90h1.25v1.25h-1.25zM497.75 938.15h1.25v1.25h-1.25z" fill="#404a4a"/>
<path d="M499.00 934.40h1.25v1.25h-1.25zM500.25 934.40h1.25v1.25h-1.25zM500.25 935.65h1.25v1.25h-1.25zM500.25 938.15h1.25v1.25h-1.25zM501.50 933.15h1.25v1.25h-1.25zM501.50 934.40h1.25v1.25h-1.25zM502.75 931.90h1.25v1.25h-1.25zM502.75 933.15h1.25v1.25h-1.25zM504.00 933.15h1.25v1.25h-1.25z" fill="#353e3e"/>
<path d="M505.25 930.65h1.25v1.25h-1.25zM505.25 931.90h1.25v1.25h-1.25zM506.50 930.65h1.25v1.25h-1.25zM506.50 931.90h1.25v1.25h-1.25zM507.75 929.40h1.25v1.25h-1.25zM507.75 930.65h1.25v1.25h-1.25zM509.00 928.15h1.25v1.25h-1.25zM509.00 929.40h1.25v1.25h-1.25zM509.00 930.65h1.25v1.25h-1.25zM510.25 928.15h1.25v1.25h-1.25zM510.25 929.40h1.25v1.25h-1.25z" fill="#2a3232"/>
<path d="M511.50 926.90h1.25v1.25h-1.25zM511.50 929.40h1.25v1.25h-1.25zM512.75 925.65h1.25v1.25h-1.25zM512.75 926.90h1.25v1.25h-1.25zM515.25 924.40h1.25v1.25h-1.25zM515.25 925.65h1.25v1.25h-1.25zM516.50 925.65h1.25v1.25h-1.25z" fill="#202525"/>
<path d="M520.25 921.90h1.25v1.25h-1.25zM521.50 920.65h1.25v1.25h-1.25zM521.50 921.90h1.25v1.25h-1.25zM522.75 919.40h1.25v1.25h-1.25z" fill="#151919"/>
<path d="M524.00 919.40h1.25v1.25h-1.25zM525.25 918.15h1.25v1.25h-1.25zM525.25 919.40h1.25v1.25h-1.25zM526.50 916.90h1.25v1.25h-1.25zM529.00 915.65h1.25v1.25h-1.25zM530.25 914.40h1.25v1.25h-1.25z" fill="#0b0c0c"/>
<path d="M536.50 910.65h1.25v1.25h-1.25zM537.75 909.40h1.25v1.25h-1.25zM541.50 906.90h1.25v1.25h-1.25z" fill="#000000"/>
</g>
<path d="M332.6 777.9V1013.0M546.1 777.9V903.9H766.0999999999999M124.3 1359.3H766.0999999999999" stroke="#f3ff0c" stroke-width="4.5" fill="none" stroke-linecap="round" stroke-linejoin="miter"/><polyline points="124.0,1055.6 131.0,1054.9 138.1,1054.1 145.1,1053.2 152.1,1052.4 159.2,1051.4 166.2,1050.5 173.2,1049.5 180.3,1048.5 187.3,1047.4 194.4,1046.3 201.4,1045.1 208.4,1043.9 215.5,1042.6 222.5,1041.3 229.5,1040.0 236.6,1038.5 243.6,1037.1 250.6,1035.5 257.7,1033.9 264.7,1032.3 271.7,1030.6 278.8,1028.8 285.8,1027.0 292.8,1025.1 299.9,1023.1 306.9,1021.0 314.0,1018.9 321.0,1016.7 328.0,1014.5 335.1,1012.1 342.1,1009.7 349.1,1007.2 356.2,1004.6 363.2,1002.0 370.2,999.3 377.3,996.5 384.3,993.6 391.3,990.6 398.4,987.5 405.4,984.4 412.4,981.2 419.5,977.8 426.5,974.4 433.6,971.0 440.6,967.4 447.6,963.7 454.7,960.0 461.7,956.2 468.7,952.3 475.8,948.3 482.8,944.2 489.8,940.1 496.9,935.8 503.9,931.5 510.9,927.1 518.0,922.6 525.0,918.1 532.0,913.4 539.1,908.7 546.1,903.9" stroke="#f3ff0c" stroke-width="4.5" fill="none" stroke-linecap="round" stroke-linejoin="round"/><polyline points="124.0,1131.7 131.0,1130.1 138.1,1128.5 145.1,1126.8 152.1,1125.0 159.2,1123.2 166.2,1121.3 173.2,1119.3 180.3,1117.3 187.3,1115.2 194.4,1113.0 201.4,1110.8 208.4,1108.5 215.5,1106.1 222.5,1103.6 229.5,1101.0 236.6,1098.4 243.6,1095.7 250.6,1092.9 257.7,1090.0 264.7,1087.1 271.7,1084.0 278.8,1080.9 285.8,1077.7 292.8,1074.4 299.9,1071.0 306.9,1067.6 314.0,1064.0 321.0,1060.4 328.0,1056.7 335.1,1052.9 342.1,1049.0 349.1,1045.0 356.2,1041.0 363.2,1036.9 370.2,1032.6 377.3,1028.3 384.3,1024.0 391.3,1019.5 398.4,1015.0 405.4,1010.4 412.4,1005.7 419.5,1000.9 426.5,996.1 433.6,991.2 440.6,986.2 447.6,981.1 454.7,976.0 461.7,970.8 468.7,965.6 475.8,960.2 482.8,954.9 489.8,949.4 496.9,943.9 503.9,938.4 510.9,932.8 518.0,927.1 525.0,921.4 532.0,915.6 539.1,909.8 546.1,903.9" stroke="#f3ff0c" stroke-width="4.5" fill="none" stroke-linecap="round" stroke-linejoin="round"/>
<line x1="124.3" y1="1419.2" x2="766.9" y2="776.8" stroke="#22221a" stroke-width="1.45" stroke-dasharray="2.1 9.01"/>
<rect x="588.8" y="981.2" width="155.5" height="306.6" fill="#fff"/>
<rect x="602.9" y="1047.2" width="63.1" height="32.1" fill="#c0faf0"/>
<defs><linearGradient id="gb" x1="0" y1="0" x2="0" y2="1">
<stop offset="0.0" stop-color="#ffffff"/>
<stop offset="0.1" stop-color="#e4e7e7"/>
<stop offset="0.2" stop-color="#c8d0d0"/>
<stop offset="0.3" stop-color="#aeb8b8"/>
<stop offset="0.4" stop-color="#94a0a0"/>
<stop offset="0.5" stop-color="#7b8787"/>
<stop offset="0.6" stop-color="#626f6f"/>
<stop offset="0.7" stop-color="#4b5656"/>
<stop offset="0.8" stop-color="#343d3d"/>
<stop offset="0.9" stop-color="#1e2424"/>
<stop offset="1.0" stop-color="#090a0a"/>
</linearGradient></defs>
<rect x="602.9" y="1079.3" width="63.1" height="195.4" fill="url(#gb)"/>
<text y="1016.2" font-size="19.76" fill="#111" stroke="#111"><tspan x="630.6" font-style="italic">π</tspan><tspan x="644.9" y="1010.6" font-size="14.6">*</tspan><tspan x="652.2" y="1016.2">−</tspan><tspan x="664.8" y="1016.2" font-style="italic">π</tspan><tspan x="677.6" font-size="14.2" y="1020.8">opt</tspan></text>
<text x="700.6" y="1066.4" font-size="19.76" fill="#111" stroke="#111" text-anchor="middle" word-spacing="0.6">0</text>
<text x="700.7" y="1279.6" font-size="19.76" fill="#111" stroke="#111" text-anchor="middle" word-spacing="0.6">−0.1</text>
<text x="163.1" y="827.9" font-size="19.76" fill="#223dfa" stroke="#223dfa" text-anchor="start" word-spacing="0.6">M only, no</text>
<text x="148.2" y="857.8" font-size="19.76" fill="#223dfa" stroke="#223dfa" text-anchor="start" word-spacing="0.6">social dilemma</text>
<text x="632.4" y="827.9" font-size="19.76" fill="#223dfa" stroke="#223dfa" text-anchor="start" word-spacing="0.6">U only, no</text>
<text x="616.2" y="857.8" font-size="19.76" fill="#223dfa" stroke="#223dfa" text-anchor="start" word-spacing="0.6">social dilemma</text>
<text x="371.4" y="885.6" font-size="19.76" fill="#f81010" stroke="#f81010" text-anchor="start" word-spacing="0.6">Snowdrift</text>
<text x="559.3" y="885.6" font-size="19.76" fill="#f81010" stroke="#f81010" text-anchor="start" word-spacing="0.6">PD</text>
<text x="404.0" y="1104.7" font-size="19.76" fill="#f81010" stroke="#f81010" text-anchor="start" word-spacing="0.6">Snowdrift</text>
<text x="332.6" y="1398.9" font-size="19.76" fill="#223dfa" stroke="#223dfa" text-anchor="start" word-spacing="0.6">F only, no social dilemma</text>
<rect x="110.6" y="763.6" width="669.5" height="669.2" fill="none" stroke="#2a2a2a" stroke-width="1.55"/>
<path d="M211.4 1432.85v-13M211.4 763.6v13M110.6 1332.1h13M780.1 1332.1h-13M312.1 1432.85v-13M312.1 763.6v13M110.6 1231.4h13M780.1 1231.4h-13M371.1 1432.85v-13M371.1 763.6v13M110.6 1172.5h13M780.1 1172.5h-13M412.9 1432.85v-13M412.9 763.6v13M110.6 1130.7h13M780.1 1130.7h-13M445.4 1432.85v-13M445.4 763.6v13M110.6 1098.2h13M780.1 1098.2h-13M546.1 1432.85v-13M546.1 763.6v13M110.6 997.5h13M780.1 997.5h-13M646.9 1432.85v-13M646.9 763.6v13M110.6 896.8h13M780.1 896.8h-13M705.8 1432.85v-13M705.8 763.6v13M110.6 837.8h13M780.1 837.8h-13M747.7 1432.85v-13M747.7 763.6v13M110.6 796.0h13M780.1 796.0h-13" stroke="#2a2a2a" stroke-width="1.55" fill="none"/>
<text x="110.6" y="1467.5" font-size="19.4" text-anchor="middle" fill="#111" stroke="#111">0.01</text>
<text x="211.4" y="1467.5" font-size="19.4" text-anchor="middle" fill="#111" stroke="#111">0.02</text>
<text x="312.1" y="1467.5" font-size="19.4" text-anchor="middle" fill="#111" stroke="#111">0.04</text>
<text x="445.4" y="1467.5" font-size="19.4" text-anchor="middle" fill="#111" stroke="#111">0.10</text>
<text x="546.1" y="1467.5" font-size="19.4" text-anchor="middle" fill="#111" stroke="#111">0.20</text>
<text x="646.9" y="1467.5" font-size="19.4" text-anchor="middle" fill="#111" stroke="#111">0.40</text>
<text x="780.1" y="1467.5" font-size="19.4" text-anchor="middle" fill="#111" stroke="#111">1.00</text>
<text x="95.8" y="1439.7" font-size="19.4" text-anchor="end" fill="#111" stroke="#111">0.01</text>
<text x="95.8" y="1339.0" font-size="19.4" text-anchor="end" fill="#111" stroke="#111">0.02</text>
<text x="95.8" y="1238.2" font-size="19.4" text-anchor="end" fill="#111" stroke="#111">0.04</text>
<text x="95.8" y="1179.3" font-size="19.4" text-anchor="end" fill="#111" stroke="#111">0.06</text>
<text x="95.8" y="1137.5" font-size="19.4" text-anchor="end" fill="#111" stroke="#111">0.08</text>
<text x="95.8" y="1105.1" font-size="19.4" text-anchor="end" fill="#111" stroke="#111">0.10</text>
<text x="95.8" y="1004.3" font-size="19.4" text-anchor="end" fill="#111" stroke="#111">0.20</text>
<text x="95.8" y="903.6" font-size="19.4" text-anchor="end" fill="#111" stroke="#111">0.40</text>
<text x="95.8" y="844.7" font-size="19.4" text-anchor="end" fill="#111" stroke="#111">0.60</text>
<text x="95.8" y="802.9" font-size="19.4" text-anchor="end" fill="#111" stroke="#111">0.80</text>
<text x="95.8" y="770.5" font-size="19.4" text-anchor="end" fill="#111" stroke="#111">1.00</text>
<text x="445.3" y="1489.9" font-size="19.76" text-anchor="middle" fill="#111" stroke="#111" word-spacing="0.6">Cost of M mask <tspan font-style="italic">γ</tspan><tspan font-style="italic" font-size="14.2" dy="4.6">M</tspan><tspan dy="-4.6"> / Risk Λ</tspan></text>
<text transform="translate(21.0,1098.8) rotate(-90)" font-size="19.76" text-anchor="middle" fill="#111" stroke="#111" word-spacing="1.1">Cost of F mask <tspan font-style="italic">γ</tspan><tspan font-style="italic" font-size="14.2" dy="4.6">F</tspan><tspan dy="-4.6"> / Risk Λ</tspan></text>
</svg></body></html>
